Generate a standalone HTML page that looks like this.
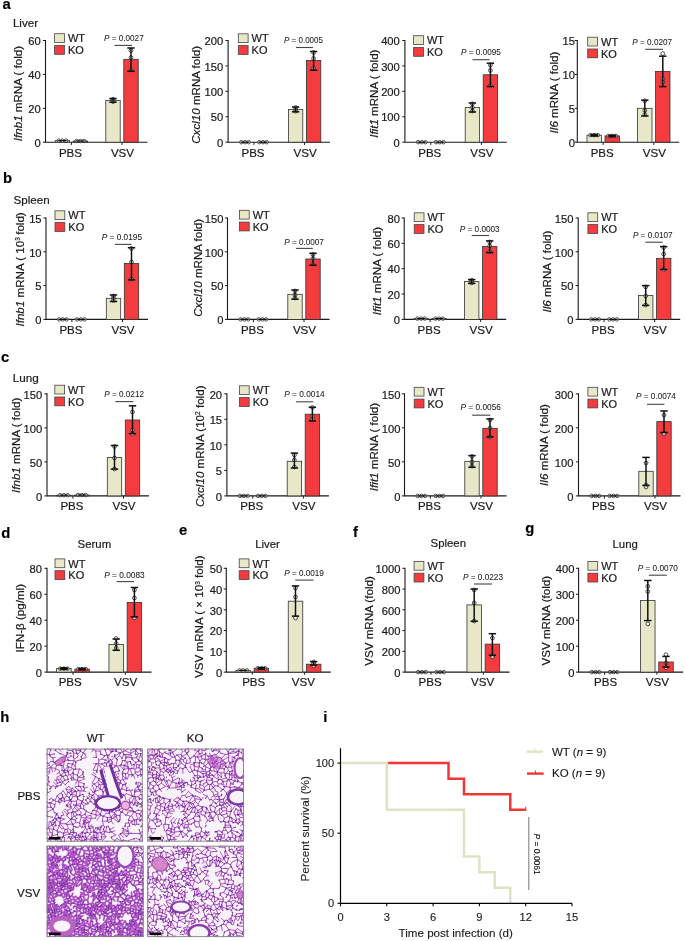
<!DOCTYPE html><html><head><meta charset="utf-8"><style>html,body{margin:0;padding:0;background:#fff;}svg{display:block;will-change:transform;}text{font-family:"Liberation Sans", sans-serif;stroke:#1a1a1a;stroke-width:0.2px;} text.ls{stroke-width:0.12px;}</style></head><body>
<svg width="685" height="941" viewBox="0 0 685 941">
<rect width="685" height="941" fill="#fff"/>
<text x="2.5" y="9" font-size="14.8" font-weight="bold" fill="#000">a</text>
<text x="3.1" y="183.4" font-size="14.8" font-weight="bold" fill="#000">b</text>
<text x="1" y="362" font-size="14.8" font-weight="bold" fill="#000">c</text>
<text x="1.2" y="537.8" font-size="14.8" font-weight="bold" fill="#000">d</text>
<text x="179" y="534.7" font-size="14.8" font-weight="bold" fill="#000">e</text>
<text x="353" y="536.7" font-size="14.8" font-weight="bold" fill="#000">f</text>
<text x="525.3" y="533.1" font-size="14.8" font-weight="bold" fill="#000">g</text>
<text x="0.2" y="721.8" font-size="14.8" font-weight="bold" fill="#000">h</text>
<text x="323.2" y="721.8" font-size="14.8" font-weight="bold" fill="#000">i</text>
<text x="12.9" y="26.9" font-size="11.6" fill="#1a1a1a">Liver</text>
<text x="13.6" y="203.5" font-size="11.6" fill="#1a1a1a">Spleen</text>
<text x="12.8" y="381.5" font-size="11.7" fill="#1a1a1a">Lung</text>
<path d="M45.5 40V142.2H147.5" fill="none" stroke="#1a1a1a" stroke-width="1.1"/>
<line x1="42.9" y1="142.2" x2="45.5" y2="142.2" stroke="#1a1a1a" stroke-width="1"/>
<text x="40.8" y="146.9" font-size="11.2" text-anchor="end" fill="#1a1a1a">0</text>
<line x1="42.9" y1="108.3" x2="45.5" y2="108.3" stroke="#1a1a1a" stroke-width="1"/>
<text x="40.8" y="113" font-size="11.2" text-anchor="end" fill="#1a1a1a">20</text>
<line x1="42.9" y1="74.4" x2="45.5" y2="74.4" stroke="#1a1a1a" stroke-width="1"/>
<text x="40.8" y="79.1" font-size="11.2" text-anchor="end" fill="#1a1a1a">40</text>
<line x1="42.9" y1="40.5" x2="45.5" y2="40.5" stroke="#1a1a1a" stroke-width="1"/>
<text x="40.8" y="45.2" font-size="11.2" text-anchor="end" fill="#1a1a1a">60</text>
<line x1="71.4" y1="142.2" x2="71.4" y2="144.9" stroke="#1a1a1a" stroke-width="1"/>
<line x1="122" y1="142.2" x2="122" y2="144.9" stroke="#1a1a1a" stroke-width="1"/>
<text x="70.4" y="156.7" font-size="11.5" text-anchor="middle" fill="#1a1a1a">PBS</text>
<text x="122.5" y="156.7" font-size="11.6" text-anchor="middle" fill="#1a1a1a">VSV</text>
<rect x="55.2" y="140.6" width="14.4" height="1.6" fill="#e8e8c9" stroke="#333" stroke-width="0.8"/>
<circle cx="58.7" cy="140.6" r="1.75" fill="rgba(255,255,255,0.55)" stroke="#333" stroke-width="0.85"/>
<circle cx="62.4" cy="140.6" r="1.75" fill="rgba(255,255,255,0.55)" stroke="#333" stroke-width="0.85"/>
<circle cx="66.1" cy="140.6" r="1.75" fill="rgba(255,255,255,0.55)" stroke="#333" stroke-width="0.85"/>
<line x1="58.2" y1="140.6" x2="66.6" y2="140.6" stroke="#111" stroke-width="1.2"/>
<rect x="73.2" y="141" width="14.4" height="1.2" fill="#f43c3f" stroke="#333" stroke-width="0.8"/>
<circle cx="76.7" cy="141" r="1.75" fill="rgba(255,255,255,0.55)" stroke="#333" stroke-width="0.85"/>
<circle cx="80.4" cy="141" r="1.75" fill="rgba(255,255,255,0.55)" stroke="#333" stroke-width="0.85"/>
<circle cx="84.1" cy="141" r="1.75" fill="rgba(255,255,255,0.55)" stroke="#333" stroke-width="0.85"/>
<line x1="76.2" y1="141" x2="84.6" y2="141" stroke="#111" stroke-width="1.2"/>
<rect x="105.8" y="100.4" width="14.4" height="41.8" fill="#e8e8c9" stroke="#333" stroke-width="0.8"/>
<circle cx="113" cy="99.2" r="1.9" fill="rgba(255,255,255,0.55)" stroke="#333" stroke-width="0.85"/>
<circle cx="113" cy="100.4" r="1.9" fill="rgba(255,255,255,0.55)" stroke="#333" stroke-width="0.85"/>
<circle cx="113" cy="101.6" r="1.9" fill="rgba(255,255,255,0.55)" stroke="#333" stroke-width="0.85"/>
<line x1="113" y1="98.6" x2="113" y2="102.2" stroke="#111" stroke-width="1.5"/>
<line x1="109.3" y1="98.6" x2="116.7" y2="98.6" stroke="#111" stroke-width="1.5"/>
<line x1="109.3" y1="102.2" x2="116.7" y2="102.2" stroke="#111" stroke-width="1.5"/>
<rect x="123.8" y="59.3" width="14.4" height="82.9" fill="#f43c3f" stroke="#333" stroke-width="0.8"/>
<circle cx="131" cy="50.5" r="1.9" fill="rgba(255,255,255,0.55)" stroke="#333" stroke-width="0.85"/>
<circle cx="131" cy="57.5" r="1.9" fill="rgba(255,255,255,0.55)" stroke="#333" stroke-width="0.85"/>
<circle cx="131" cy="70" r="1.9" fill="rgba(255,255,255,0.55)" stroke="#333" stroke-width="0.85"/>
<line x1="131" y1="48" x2="131" y2="71.2" stroke="#111" stroke-width="1.5"/>
<line x1="127.3" y1="48" x2="134.7" y2="48" stroke="#111" stroke-width="1.5"/>
<line x1="127.3" y1="71.2" x2="134.7" y2="71.2" stroke="#111" stroke-width="1.5"/>
<rect x="54.6" y="33.7" width="9.8" height="8.8" fill="#e8e8c9" stroke="#444" stroke-width="0.8"/>
<rect x="54.6" y="45.5" width="9.8" height="8.8" fill="#f43c3f" stroke="#444" stroke-width="0.8"/>
<text x="67.9" y="42.3" font-size="11" fill="#1a1a1a">WT</text>
<text x="67.9" y="54" font-size="11" fill="#1a1a1a">KO</text>
<text x="104" y="41.4" font-size="8.2" fill="#1a1a1a" style="stroke-width:0.05px" textLength="39.7" lengthAdjust="spacingAndGlyphs"><tspan font-style="italic">P</tspan> = 0.0027</text>
<line x1="114.5" y1="45.4" x2="132" y2="45.4" stroke="#444" stroke-width="1.1"/>
<text transform="translate(22.45 93.5) rotate(-90)" x="0" y="0" font-size="11.6" text-anchor="middle" fill="#1a1a1a"><tspan font-style="italic">Ifnb1</tspan> mRNA ( fold)</text>
<path d="M228.1 40V142.2H330.1" fill="none" stroke="#1a1a1a" stroke-width="1.1"/>
<line x1="225.5" y1="142.2" x2="228.1" y2="142.2" stroke="#1a1a1a" stroke-width="1"/>
<text x="223.2" y="146.9" font-size="11.2" text-anchor="end" fill="#1a1a1a">0</text>
<line x1="225.5" y1="116.77" x2="228.1" y2="116.77" stroke="#1a1a1a" stroke-width="1"/>
<text x="223.2" y="121.47" font-size="11.2" text-anchor="end" fill="#1a1a1a">50</text>
<line x1="225.5" y1="91.35" x2="228.1" y2="91.35" stroke="#1a1a1a" stroke-width="1"/>
<text x="223.2" y="96.05" font-size="11.2" text-anchor="end" fill="#1a1a1a">100</text>
<line x1="225.5" y1="65.92" x2="228.1" y2="65.92" stroke="#1a1a1a" stroke-width="1"/>
<text x="223.2" y="70.62" font-size="11.2" text-anchor="end" fill="#1a1a1a">150</text>
<line x1="225.5" y1="40.5" x2="228.1" y2="40.5" stroke="#1a1a1a" stroke-width="1"/>
<text x="223.2" y="45.2" font-size="11.2" text-anchor="end" fill="#1a1a1a">200</text>
<line x1="254" y1="142.2" x2="254" y2="144.9" stroke="#1a1a1a" stroke-width="1"/>
<line x1="304.6" y1="142.2" x2="304.6" y2="144.9" stroke="#1a1a1a" stroke-width="1"/>
<text x="253" y="156.7" font-size="11.5" text-anchor="middle" fill="#1a1a1a">PBS</text>
<text x="305.1" y="156.7" font-size="11.6" text-anchor="middle" fill="#1a1a1a">VSV</text>
<circle cx="241.3" cy="142.2" r="1.75" fill="rgba(255,255,255,0.55)" stroke="#333" stroke-width="0.85"/>
<circle cx="245" cy="142.2" r="1.75" fill="rgba(255,255,255,0.55)" stroke="#333" stroke-width="0.85"/>
<circle cx="248.7" cy="142.2" r="1.75" fill="rgba(255,255,255,0.55)" stroke="#333" stroke-width="0.85"/>
<line x1="240.8" y1="142.2" x2="249.2" y2="142.2" stroke="#111" stroke-width="1.2"/>
<circle cx="259.3" cy="142.2" r="1.75" fill="rgba(255,255,255,0.55)" stroke="#333" stroke-width="0.85"/>
<circle cx="263" cy="142.2" r="1.75" fill="rgba(255,255,255,0.55)" stroke="#333" stroke-width="0.85"/>
<circle cx="266.7" cy="142.2" r="1.75" fill="rgba(255,255,255,0.55)" stroke="#333" stroke-width="0.85"/>
<line x1="258.8" y1="142.2" x2="267.2" y2="142.2" stroke="#111" stroke-width="1.2"/>
<rect x="288.4" y="109.4" width="14.4" height="32.8" fill="#e8e8c9" stroke="#333" stroke-width="0.8"/>
<circle cx="295.6" cy="107.6" r="1.9" fill="rgba(255,255,255,0.55)" stroke="#333" stroke-width="0.85"/>
<circle cx="295.6" cy="109.6" r="1.9" fill="rgba(255,255,255,0.55)" stroke="#333" stroke-width="0.85"/>
<circle cx="295.6" cy="111.2" r="1.9" fill="rgba(255,255,255,0.55)" stroke="#333" stroke-width="0.85"/>
<line x1="295.6" y1="107" x2="295.6" y2="111.8" stroke="#111" stroke-width="1.5"/>
<line x1="291.9" y1="107" x2="299.3" y2="107" stroke="#111" stroke-width="1.5"/>
<line x1="291.9" y1="111.8" x2="299.3" y2="111.8" stroke="#111" stroke-width="1.5"/>
<rect x="306.4" y="60.4" width="14.4" height="81.8" fill="#f43c3f" stroke="#333" stroke-width="0.8"/>
<circle cx="313.6" cy="52.5" r="1.9" fill="rgba(255,255,255,0.55)" stroke="#333" stroke-width="0.85"/>
<circle cx="313.6" cy="58.5" r="1.9" fill="rgba(255,255,255,0.55)" stroke="#333" stroke-width="0.85"/>
<circle cx="313.6" cy="68.5" r="1.9" fill="rgba(255,255,255,0.55)" stroke="#333" stroke-width="0.85"/>
<line x1="313.6" y1="51.5" x2="313.6" y2="70.2" stroke="#111" stroke-width="1.5"/>
<line x1="309.9" y1="51.5" x2="317.3" y2="51.5" stroke="#111" stroke-width="1.5"/>
<line x1="309.9" y1="70.2" x2="317.3" y2="70.2" stroke="#111" stroke-width="1.5"/>
<rect x="238.3" y="33.8" width="9.8" height="8.8" fill="#e8e8c9" stroke="#444" stroke-width="0.8"/>
<rect x="238.3" y="45.6" width="9.8" height="8.8" fill="#f43c3f" stroke="#444" stroke-width="0.8"/>
<text x="251.6" y="42.4" font-size="11" fill="#1a1a1a">WT</text>
<text x="251.6" y="54.1" font-size="11" fill="#1a1a1a">KO</text>
<text x="284" y="42.8" font-size="8.2" fill="#1a1a1a" style="stroke-width:0.05px" textLength="39" lengthAdjust="spacingAndGlyphs"><tspan font-style="italic">P</tspan> = 0.0005</text>
<line x1="296" y1="47.5" x2="313" y2="47.5" stroke="#444" stroke-width="1.1"/>
<text transform="translate(200.1 94.8) rotate(-90)" x="0" y="0" font-size="11.6" text-anchor="middle" fill="#1a1a1a"><tspan font-style="italic">Cxcl10</tspan> mRNA fold)</text>
<path d="M404.9 40V142.2H506.9" fill="none" stroke="#1a1a1a" stroke-width="1.1"/>
<line x1="402.3" y1="142.2" x2="404.9" y2="142.2" stroke="#1a1a1a" stroke-width="1"/>
<text x="399.8" y="146.9" font-size="11.2" text-anchor="end" fill="#1a1a1a">0</text>
<line x1="402.3" y1="116.77" x2="404.9" y2="116.77" stroke="#1a1a1a" stroke-width="1"/>
<text x="399.8" y="121.47" font-size="11.2" text-anchor="end" fill="#1a1a1a">100</text>
<line x1="402.3" y1="91.35" x2="404.9" y2="91.35" stroke="#1a1a1a" stroke-width="1"/>
<text x="399.8" y="96.05" font-size="11.2" text-anchor="end" fill="#1a1a1a">200</text>
<line x1="402.3" y1="65.92" x2="404.9" y2="65.92" stroke="#1a1a1a" stroke-width="1"/>
<text x="399.8" y="70.62" font-size="11.2" text-anchor="end" fill="#1a1a1a">300</text>
<line x1="402.3" y1="40.5" x2="404.9" y2="40.5" stroke="#1a1a1a" stroke-width="1"/>
<text x="399.8" y="45.2" font-size="11.2" text-anchor="end" fill="#1a1a1a">400</text>
<line x1="430.8" y1="142.2" x2="430.8" y2="144.9" stroke="#1a1a1a" stroke-width="1"/>
<line x1="481.4" y1="142.2" x2="481.4" y2="144.9" stroke="#1a1a1a" stroke-width="1"/>
<text x="429.8" y="156.7" font-size="11.5" text-anchor="middle" fill="#1a1a1a">PBS</text>
<text x="481.9" y="156.7" font-size="11.6" text-anchor="middle" fill="#1a1a1a">VSV</text>
<circle cx="418.1" cy="142.2" r="1.75" fill="rgba(255,255,255,0.55)" stroke="#333" stroke-width="0.85"/>
<circle cx="421.8" cy="142.2" r="1.75" fill="rgba(255,255,255,0.55)" stroke="#333" stroke-width="0.85"/>
<circle cx="425.5" cy="142.2" r="1.75" fill="rgba(255,255,255,0.55)" stroke="#333" stroke-width="0.85"/>
<line x1="417.6" y1="142.2" x2="426" y2="142.2" stroke="#111" stroke-width="1.2"/>
<circle cx="436.1" cy="142.2" r="1.75" fill="rgba(255,255,255,0.55)" stroke="#333" stroke-width="0.85"/>
<circle cx="439.8" cy="142.2" r="1.75" fill="rgba(255,255,255,0.55)" stroke="#333" stroke-width="0.85"/>
<circle cx="443.5" cy="142.2" r="1.75" fill="rgba(255,255,255,0.55)" stroke="#333" stroke-width="0.85"/>
<line x1="435.6" y1="142.2" x2="444" y2="142.2" stroke="#111" stroke-width="1.2"/>
<rect x="465.2" y="107.6" width="14.4" height="34.6" fill="#e8e8c9" stroke="#333" stroke-width="0.8"/>
<circle cx="472.4" cy="103.8" r="1.9" fill="rgba(255,255,255,0.55)" stroke="#333" stroke-width="0.85"/>
<circle cx="472.4" cy="107.5" r="1.9" fill="rgba(255,255,255,0.55)" stroke="#333" stroke-width="0.85"/>
<circle cx="472.4" cy="111" r="1.9" fill="rgba(255,255,255,0.55)" stroke="#333" stroke-width="0.85"/>
<line x1="472.4" y1="103" x2="472.4" y2="112" stroke="#111" stroke-width="1.5"/>
<line x1="468.7" y1="103" x2="476.1" y2="103" stroke="#111" stroke-width="1.5"/>
<line x1="468.7" y1="112" x2="476.1" y2="112" stroke="#111" stroke-width="1.5"/>
<rect x="483.2" y="74.8" width="14.4" height="67.4" fill="#f43c3f" stroke="#333" stroke-width="0.8"/>
<circle cx="490.4" cy="65" r="1.9" fill="rgba(255,255,255,0.55)" stroke="#333" stroke-width="0.85"/>
<circle cx="490.4" cy="70.5" r="1.9" fill="rgba(255,255,255,0.55)" stroke="#333" stroke-width="0.85"/>
<circle cx="490.4" cy="85.5" r="1.9" fill="rgba(255,255,255,0.55)" stroke="#333" stroke-width="0.85"/>
<line x1="490.4" y1="63.2" x2="490.4" y2="86.5" stroke="#111" stroke-width="1.5"/>
<line x1="486.7" y1="63.2" x2="494.1" y2="63.2" stroke="#111" stroke-width="1.5"/>
<line x1="486.7" y1="86.5" x2="494.1" y2="86.5" stroke="#111" stroke-width="1.5"/>
<rect x="413.6" y="35.7" width="9.8" height="8.8" fill="#e8e8c9" stroke="#444" stroke-width="0.8"/>
<rect x="413.6" y="47.5" width="9.8" height="8.8" fill="#f43c3f" stroke="#444" stroke-width="0.8"/>
<text x="426.9" y="44.3" font-size="11" fill="#1a1a1a">WT</text>
<text x="426.9" y="56" font-size="11" fill="#1a1a1a">KO</text>
<text x="461" y="54.5" font-size="8.2" fill="#1a1a1a" style="stroke-width:0.05px" textLength="39.9" lengthAdjust="spacingAndGlyphs"><tspan font-style="italic">P</tspan> = 0.0095</text>
<line x1="472.6" y1="59.7" x2="489.6" y2="59.7" stroke="#444" stroke-width="1.1"/>
<text transform="translate(377.75 93.7) rotate(-90)" x="0" y="0" font-size="11.6" text-anchor="middle" fill="#1a1a1a"><tspan font-style="italic">Ifit1</tspan> mRNA ( fold)</text>
<path d="M577.3 40V142.2H679.3" fill="none" stroke="#1a1a1a" stroke-width="1.1"/>
<line x1="574.7" y1="142.2" x2="577.3" y2="142.2" stroke="#1a1a1a" stroke-width="1"/>
<text x="575" y="146.9" font-size="11.2" text-anchor="end" fill="#1a1a1a">0</text>
<line x1="574.7" y1="108.3" x2="577.3" y2="108.3" stroke="#1a1a1a" stroke-width="1"/>
<text x="575" y="113" font-size="11.2" text-anchor="end" fill="#1a1a1a">5</text>
<line x1="574.7" y1="74.4" x2="577.3" y2="74.4" stroke="#1a1a1a" stroke-width="1"/>
<text x="575" y="79.1" font-size="11.2" text-anchor="end" fill="#1a1a1a">10</text>
<line x1="574.7" y1="40.5" x2="577.3" y2="40.5" stroke="#1a1a1a" stroke-width="1"/>
<text x="575" y="45.2" font-size="11.2" text-anchor="end" fill="#1a1a1a">15</text>
<line x1="603.2" y1="142.2" x2="603.2" y2="144.9" stroke="#1a1a1a" stroke-width="1"/>
<line x1="653.8" y1="142.2" x2="653.8" y2="144.9" stroke="#1a1a1a" stroke-width="1"/>
<text x="602.2" y="156.7" font-size="11.5" text-anchor="middle" fill="#1a1a1a">PBS</text>
<text x="654.3" y="156.7" font-size="11.6" text-anchor="middle" fill="#1a1a1a">VSV</text>
<rect x="587" y="135.2" width="14.4" height="7" fill="#e8e8c9" stroke="#333" stroke-width="0.8"/>
<circle cx="590.5" cy="135.2" r="1.75" fill="rgba(255,255,255,0.55)" stroke="#333" stroke-width="0.85"/>
<circle cx="594.2" cy="135.2" r="1.75" fill="rgba(255,255,255,0.55)" stroke="#333" stroke-width="0.85"/>
<circle cx="597.9" cy="135.2" r="1.75" fill="rgba(255,255,255,0.55)" stroke="#333" stroke-width="0.85"/>
<line x1="590" y1="135.2" x2="598.4" y2="135.2" stroke="#111" stroke-width="1.2"/>
<line x1="594.2" y1="134.4" x2="594.2" y2="136" stroke="#111" stroke-width="1.5"/>
<line x1="590.5" y1="134.4" x2="597.9" y2="134.4" stroke="#111" stroke-width="1.5"/>
<line x1="590.5" y1="136" x2="597.9" y2="136" stroke="#111" stroke-width="1.5"/>
<rect x="605" y="135.9" width="14.4" height="6.3" fill="#f43c3f" stroke="#333" stroke-width="0.8"/>
<circle cx="608.5" cy="135.9" r="1.75" fill="rgba(255,255,255,0.55)" stroke="#333" stroke-width="0.85"/>
<circle cx="612.2" cy="135.9" r="1.75" fill="rgba(255,255,255,0.55)" stroke="#333" stroke-width="0.85"/>
<circle cx="615.9" cy="135.9" r="1.75" fill="rgba(255,255,255,0.55)" stroke="#333" stroke-width="0.85"/>
<line x1="608" y1="135.9" x2="616.4" y2="135.9" stroke="#111" stroke-width="1.2"/>
<line x1="612.2" y1="135.2" x2="612.2" y2="136.6" stroke="#111" stroke-width="1.5"/>
<line x1="608.5" y1="135.2" x2="615.9" y2="135.2" stroke="#111" stroke-width="1.5"/>
<line x1="608.5" y1="136.6" x2="615.9" y2="136.6" stroke="#111" stroke-width="1.5"/>
<rect x="637.6" y="108.3" width="14.4" height="33.9" fill="#e8e8c9" stroke="#333" stroke-width="0.8"/>
<circle cx="644.8" cy="100.8" r="1.9" fill="rgba(255,255,255,0.55)" stroke="#333" stroke-width="0.85"/>
<circle cx="644.8" cy="110.5" r="1.9" fill="rgba(255,255,255,0.55)" stroke="#333" stroke-width="0.85"/>
<circle cx="644.8" cy="114.5" r="1.9" fill="rgba(255,255,255,0.55)" stroke="#333" stroke-width="0.85"/>
<line x1="644.8" y1="100.2" x2="644.8" y2="116" stroke="#111" stroke-width="1.5"/>
<line x1="641.1" y1="100.2" x2="648.5" y2="100.2" stroke="#111" stroke-width="1.5"/>
<line x1="641.1" y1="116" x2="648.5" y2="116" stroke="#111" stroke-width="1.5"/>
<rect x="655.6" y="71.4" width="14.4" height="70.8" fill="#f43c3f" stroke="#333" stroke-width="0.8"/>
<circle cx="662.8" cy="53.6" r="1.9" fill="rgba(255,255,255,0.55)" stroke="#333" stroke-width="0.85"/>
<circle cx="662.8" cy="78.7" r="1.9" fill="rgba(255,255,255,0.55)" stroke="#333" stroke-width="0.85"/>
<circle cx="662.8" cy="82.1" r="1.9" fill="rgba(255,255,255,0.55)" stroke="#333" stroke-width="0.85"/>
<line x1="662.8" y1="56.2" x2="662.8" y2="86.6" stroke="#111" stroke-width="1.5"/>
<line x1="659.1" y1="56.2" x2="666.5" y2="56.2" stroke="#111" stroke-width="1.5"/>
<line x1="659.1" y1="86.6" x2="666.5" y2="86.6" stroke="#111" stroke-width="1.5"/>
<rect x="587.7" y="37.2" width="9.8" height="8.8" fill="#e8e8c9" stroke="#444" stroke-width="0.8"/>
<rect x="587.7" y="49" width="9.8" height="8.8" fill="#f43c3f" stroke="#444" stroke-width="0.8"/>
<text x="601" y="45.8" font-size="11" fill="#1a1a1a">WT</text>
<text x="601" y="57.5" font-size="11" fill="#1a1a1a">KO</text>
<text x="632.3" y="44.7" font-size="8.2" fill="#1a1a1a" style="stroke-width:0.05px" textLength="39.8" lengthAdjust="spacingAndGlyphs"><tspan font-style="italic">P</tspan> = 0.0207</text>
<line x1="645.2" y1="49.3" x2="663" y2="49.3" stroke="#444" stroke-width="1.1"/>
<text transform="translate(557.6 92.5) rotate(-90)" x="0" y="0" font-size="11.6" text-anchor="middle" fill="#1a1a1a"><tspan font-style="italic">Il6</tspan> mRNA ( fold)</text>
<path d="M46 217.5V319.4H148" fill="none" stroke="#1a1a1a" stroke-width="1.1"/>
<line x1="43.4" y1="319.4" x2="46" y2="319.4" stroke="#1a1a1a" stroke-width="1"/>
<text x="41.6" y="324.1" font-size="11.2" text-anchor="end" fill="#1a1a1a">0</text>
<line x1="43.4" y1="285.6" x2="46" y2="285.6" stroke="#1a1a1a" stroke-width="1"/>
<text x="41.6" y="290.3" font-size="11.2" text-anchor="end" fill="#1a1a1a">5</text>
<line x1="43.4" y1="251.8" x2="46" y2="251.8" stroke="#1a1a1a" stroke-width="1"/>
<text x="41.6" y="256.5" font-size="11.2" text-anchor="end" fill="#1a1a1a">10</text>
<line x1="43.4" y1="218" x2="46" y2="218" stroke="#1a1a1a" stroke-width="1"/>
<text x="41.6" y="222.7" font-size="11.2" text-anchor="end" fill="#1a1a1a">15</text>
<line x1="71.9" y1="319.4" x2="71.9" y2="322.1" stroke="#1a1a1a" stroke-width="1"/>
<line x1="122.5" y1="319.4" x2="122.5" y2="322.1" stroke="#1a1a1a" stroke-width="1"/>
<text x="70.9" y="333.9" font-size="11.5" text-anchor="middle" fill="#1a1a1a">PBS</text>
<text x="123" y="333.9" font-size="11.6" text-anchor="middle" fill="#1a1a1a">VSV</text>
<circle cx="59.2" cy="319.4" r="1.75" fill="rgba(255,255,255,0.55)" stroke="#333" stroke-width="0.85"/>
<circle cx="62.9" cy="319.4" r="1.75" fill="rgba(255,255,255,0.55)" stroke="#333" stroke-width="0.85"/>
<circle cx="66.6" cy="319.4" r="1.75" fill="rgba(255,255,255,0.55)" stroke="#333" stroke-width="0.85"/>
<line x1="58.7" y1="319.4" x2="67.1" y2="319.4" stroke="#111" stroke-width="1.2"/>
<circle cx="77.2" cy="319.4" r="1.75" fill="rgba(255,255,255,0.55)" stroke="#333" stroke-width="0.85"/>
<circle cx="80.9" cy="319.4" r="1.75" fill="rgba(255,255,255,0.55)" stroke="#333" stroke-width="0.85"/>
<circle cx="84.6" cy="319.4" r="1.75" fill="rgba(255,255,255,0.55)" stroke="#333" stroke-width="0.85"/>
<line x1="76.7" y1="319.4" x2="85.1" y2="319.4" stroke="#111" stroke-width="1.2"/>
<rect x="106.3" y="298.3" width="14.4" height="21.1" fill="#e8e8c9" stroke="#333" stroke-width="0.8"/>
<circle cx="113.5" cy="296" r="1.9" fill="rgba(255,255,255,0.55)" stroke="#333" stroke-width="0.85"/>
<circle cx="113.5" cy="298.2" r="1.9" fill="rgba(255,255,255,0.55)" stroke="#333" stroke-width="0.85"/>
<circle cx="113.5" cy="300.4" r="1.9" fill="rgba(255,255,255,0.55)" stroke="#333" stroke-width="0.85"/>
<line x1="113.5" y1="295" x2="113.5" y2="301.5" stroke="#111" stroke-width="1.5"/>
<line x1="109.8" y1="295" x2="117.2" y2="295" stroke="#111" stroke-width="1.5"/>
<line x1="109.8" y1="301.5" x2="117.2" y2="301.5" stroke="#111" stroke-width="1.5"/>
<rect x="124.3" y="263.5" width="14.4" height="55.9" fill="#f43c3f" stroke="#333" stroke-width="0.8"/>
<circle cx="131.5" cy="248.5" r="1.9" fill="rgba(255,255,255,0.55)" stroke="#333" stroke-width="0.85"/>
<circle cx="131.5" cy="262" r="1.9" fill="rgba(255,255,255,0.55)" stroke="#333" stroke-width="0.85"/>
<circle cx="131.5" cy="279" r="1.9" fill="rgba(255,255,255,0.55)" stroke="#333" stroke-width="0.85"/>
<line x1="131.5" y1="247.7" x2="131.5" y2="279.9" stroke="#111" stroke-width="1.5"/>
<line x1="127.8" y1="247.7" x2="135.2" y2="247.7" stroke="#111" stroke-width="1.5"/>
<line x1="127.8" y1="279.9" x2="135.2" y2="279.9" stroke="#111" stroke-width="1.5"/>
<rect x="55" y="210.8" width="9.8" height="8.8" fill="#e8e8c9" stroke="#444" stroke-width="0.8"/>
<rect x="55" y="222.6" width="9.8" height="8.8" fill="#f43c3f" stroke="#444" stroke-width="0.8"/>
<text x="68.3" y="219.4" font-size="11" fill="#1a1a1a">WT</text>
<text x="68.3" y="231.1" font-size="11" fill="#1a1a1a">KO</text>
<text x="101.8" y="239.5" font-size="8.2" fill="#1a1a1a" style="stroke-width:0.05px" textLength="40.2" lengthAdjust="spacingAndGlyphs"><tspan font-style="italic">P</tspan> = 0.0195</text>
<line x1="114.9" y1="244.4" x2="131.5" y2="244.4" stroke="#444" stroke-width="1.1"/>
<text transform="translate(23.8 269.4) rotate(-90)" x="0" y="0" font-size="11.6" text-anchor="middle" fill="#1a1a1a"><tspan font-style="italic">Ifnb1</tspan> mRNA ( 10<tspan font-size="6.6" dy="-3.7">3</tspan><tspan dy="3.7"> </tspan>fold)</text>
<path d="M227.5 217.5V319.4H329.5" fill="none" stroke="#1a1a1a" stroke-width="1.1"/>
<line x1="224.9" y1="319.4" x2="227.5" y2="319.4" stroke="#1a1a1a" stroke-width="1"/>
<text x="223.5" y="324.1" font-size="11.2" text-anchor="end" fill="#1a1a1a">0</text>
<line x1="224.9" y1="285.6" x2="227.5" y2="285.6" stroke="#1a1a1a" stroke-width="1"/>
<text x="223.5" y="290.3" font-size="11.2" text-anchor="end" fill="#1a1a1a">50</text>
<line x1="224.9" y1="251.8" x2="227.5" y2="251.8" stroke="#1a1a1a" stroke-width="1"/>
<text x="223.5" y="256.5" font-size="11.2" text-anchor="end" fill="#1a1a1a">100</text>
<line x1="224.9" y1="218" x2="227.5" y2="218" stroke="#1a1a1a" stroke-width="1"/>
<text x="223.5" y="222.7" font-size="11.2" text-anchor="end" fill="#1a1a1a">150</text>
<line x1="253.4" y1="319.4" x2="253.4" y2="322.1" stroke="#1a1a1a" stroke-width="1"/>
<line x1="304" y1="319.4" x2="304" y2="322.1" stroke="#1a1a1a" stroke-width="1"/>
<text x="252.4" y="333.9" font-size="11.5" text-anchor="middle" fill="#1a1a1a">PBS</text>
<text x="304.5" y="333.9" font-size="11.6" text-anchor="middle" fill="#1a1a1a">VSV</text>
<circle cx="240.7" cy="319.4" r="1.75" fill="rgba(255,255,255,0.55)" stroke="#333" stroke-width="0.85"/>
<circle cx="244.4" cy="319.4" r="1.75" fill="rgba(255,255,255,0.55)" stroke="#333" stroke-width="0.85"/>
<circle cx="248.1" cy="319.4" r="1.75" fill="rgba(255,255,255,0.55)" stroke="#333" stroke-width="0.85"/>
<line x1="240.2" y1="319.4" x2="248.6" y2="319.4" stroke="#111" stroke-width="1.2"/>
<circle cx="258.7" cy="319.4" r="1.75" fill="rgba(255,255,255,0.55)" stroke="#333" stroke-width="0.85"/>
<circle cx="262.4" cy="319.4" r="1.75" fill="rgba(255,255,255,0.55)" stroke="#333" stroke-width="0.85"/>
<circle cx="266.1" cy="319.4" r="1.75" fill="rgba(255,255,255,0.55)" stroke="#333" stroke-width="0.85"/>
<line x1="258.2" y1="319.4" x2="266.6" y2="319.4" stroke="#111" stroke-width="1.2"/>
<rect x="287.8" y="294.3" width="14.4" height="25.1" fill="#e8e8c9" stroke="#333" stroke-width="0.8"/>
<circle cx="295" cy="291" r="1.9" fill="rgba(255,255,255,0.55)" stroke="#333" stroke-width="0.85"/>
<circle cx="295" cy="295" r="1.9" fill="rgba(255,255,255,0.55)" stroke="#333" stroke-width="0.85"/>
<circle cx="295" cy="298" r="1.9" fill="rgba(255,255,255,0.55)" stroke="#333" stroke-width="0.85"/>
<line x1="295" y1="290" x2="295" y2="299.2" stroke="#111" stroke-width="1.5"/>
<line x1="291.3" y1="290" x2="298.7" y2="290" stroke="#111" stroke-width="1.5"/>
<line x1="291.3" y1="299.2" x2="298.7" y2="299.2" stroke="#111" stroke-width="1.5"/>
<rect x="305.8" y="259" width="14.4" height="60.4" fill="#f43c3f" stroke="#333" stroke-width="0.8"/>
<circle cx="313" cy="254.5" r="1.9" fill="rgba(255,255,255,0.55)" stroke="#333" stroke-width="0.85"/>
<circle cx="313" cy="258.5" r="1.9" fill="rgba(255,255,255,0.55)" stroke="#333" stroke-width="0.85"/>
<circle cx="313" cy="264" r="1.9" fill="rgba(255,255,255,0.55)" stroke="#333" stroke-width="0.85"/>
<line x1="313" y1="253.3" x2="313" y2="265.2" stroke="#111" stroke-width="1.5"/>
<line x1="309.3" y1="253.3" x2="316.7" y2="253.3" stroke="#111" stroke-width="1.5"/>
<line x1="309.3" y1="265.2" x2="316.7" y2="265.2" stroke="#111" stroke-width="1.5"/>
<rect x="239.4" y="210.3" width="9.8" height="8.8" fill="#e8e8c9" stroke="#444" stroke-width="0.8"/>
<rect x="239.4" y="222.1" width="9.8" height="8.8" fill="#f43c3f" stroke="#444" stroke-width="0.8"/>
<text x="252.7" y="218.9" font-size="11" fill="#1a1a1a">WT</text>
<text x="252.7" y="230.6" font-size="11" fill="#1a1a1a">KO</text>
<text x="284.2" y="244.6" font-size="8.2" fill="#1a1a1a" style="stroke-width:0.05px" textLength="39.7" lengthAdjust="spacingAndGlyphs"><tspan font-style="italic">P</tspan> = 0.0007</text>
<line x1="295.9" y1="248.4" x2="312.8" y2="248.4" stroke="#444" stroke-width="1.1"/>
<text transform="translate(202.15 267.8) rotate(-90)" x="0" y="0" font-size="11.6" text-anchor="middle" fill="#1a1a1a"><tspan font-style="italic">Cxcl10</tspan> mRNA fold)</text>
<path d="M404.2 217.5V319.4H506.2" fill="none" stroke="#1a1a1a" stroke-width="1.1"/>
<line x1="401.6" y1="319.4" x2="404.2" y2="319.4" stroke="#1a1a1a" stroke-width="1"/>
<text x="399.9" y="324.1" font-size="11.2" text-anchor="end" fill="#1a1a1a">0</text>
<line x1="401.6" y1="294.05" x2="404.2" y2="294.05" stroke="#1a1a1a" stroke-width="1"/>
<text x="399.9" y="298.75" font-size="11.2" text-anchor="end" fill="#1a1a1a">20</text>
<line x1="401.6" y1="268.7" x2="404.2" y2="268.7" stroke="#1a1a1a" stroke-width="1"/>
<text x="399.9" y="273.4" font-size="11.2" text-anchor="end" fill="#1a1a1a">40</text>
<line x1="401.6" y1="243.35" x2="404.2" y2="243.35" stroke="#1a1a1a" stroke-width="1"/>
<text x="399.9" y="248.05" font-size="11.2" text-anchor="end" fill="#1a1a1a">60</text>
<line x1="401.6" y1="218" x2="404.2" y2="218" stroke="#1a1a1a" stroke-width="1"/>
<text x="399.9" y="222.7" font-size="11.2" text-anchor="end" fill="#1a1a1a">80</text>
<line x1="430.1" y1="319.4" x2="430.1" y2="322.1" stroke="#1a1a1a" stroke-width="1"/>
<line x1="480.7" y1="319.4" x2="480.7" y2="322.1" stroke="#1a1a1a" stroke-width="1"/>
<text x="429.1" y="333.9" font-size="11.5" text-anchor="middle" fill="#1a1a1a">PBS</text>
<text x="481.2" y="333.9" font-size="11.6" text-anchor="middle" fill="#1a1a1a">VSV</text>
<rect x="413.9" y="318.6" width="14.4" height="0.8" fill="#e8e8c9" stroke="#333" stroke-width="0.8"/>
<circle cx="417.4" cy="318.6" r="1.75" fill="rgba(255,255,255,0.55)" stroke="#333" stroke-width="0.85"/>
<circle cx="421.1" cy="318.6" r="1.75" fill="rgba(255,255,255,0.55)" stroke="#333" stroke-width="0.85"/>
<circle cx="424.8" cy="318.6" r="1.75" fill="rgba(255,255,255,0.55)" stroke="#333" stroke-width="0.85"/>
<line x1="416.9" y1="318.6" x2="425.3" y2="318.6" stroke="#111" stroke-width="1.2"/>
<rect x="431.9" y="318.6" width="14.4" height="0.8" fill="#f43c3f" stroke="#333" stroke-width="0.8"/>
<circle cx="435.4" cy="318.6" r="1.75" fill="rgba(255,255,255,0.55)" stroke="#333" stroke-width="0.85"/>
<circle cx="439.1" cy="318.6" r="1.75" fill="rgba(255,255,255,0.55)" stroke="#333" stroke-width="0.85"/>
<circle cx="442.8" cy="318.6" r="1.75" fill="rgba(255,255,255,0.55)" stroke="#333" stroke-width="0.85"/>
<line x1="434.9" y1="318.6" x2="443.3" y2="318.6" stroke="#111" stroke-width="1.2"/>
<rect x="464.5" y="281.4" width="14.4" height="38" fill="#e8e8c9" stroke="#333" stroke-width="0.8"/>
<circle cx="471.7" cy="280.2" r="1.9" fill="rgba(255,255,255,0.55)" stroke="#333" stroke-width="0.85"/>
<circle cx="471.7" cy="281.5" r="1.9" fill="rgba(255,255,255,0.55)" stroke="#333" stroke-width="0.85"/>
<circle cx="471.7" cy="282.8" r="1.9" fill="rgba(255,255,255,0.55)" stroke="#333" stroke-width="0.85"/>
<line x1="471.7" y1="279.6" x2="471.7" y2="283.4" stroke="#111" stroke-width="1.5"/>
<line x1="468" y1="279.6" x2="475.4" y2="279.6" stroke="#111" stroke-width="1.5"/>
<line x1="468" y1="283.4" x2="475.4" y2="283.4" stroke="#111" stroke-width="1.5"/>
<rect x="482.5" y="246.6" width="14.4" height="72.8" fill="#f43c3f" stroke="#333" stroke-width="0.8"/>
<circle cx="489.7" cy="242" r="1.9" fill="rgba(255,255,255,0.55)" stroke="#333" stroke-width="0.85"/>
<circle cx="489.7" cy="246" r="1.9" fill="rgba(255,255,255,0.55)" stroke="#333" stroke-width="0.85"/>
<circle cx="489.7" cy="251.5" r="1.9" fill="rgba(255,255,255,0.55)" stroke="#333" stroke-width="0.85"/>
<line x1="489.7" y1="240.9" x2="489.7" y2="252.6" stroke="#111" stroke-width="1.5"/>
<line x1="486" y1="240.9" x2="493.4" y2="240.9" stroke="#111" stroke-width="1.5"/>
<line x1="486" y1="252.6" x2="493.4" y2="252.6" stroke="#111" stroke-width="1.5"/>
<rect x="414.2" y="212.8" width="9.8" height="8.8" fill="#e8e8c9" stroke="#444" stroke-width="0.8"/>
<rect x="414.2" y="224.6" width="9.8" height="8.8" fill="#f43c3f" stroke="#444" stroke-width="0.8"/>
<text x="427.5" y="221.4" font-size="11" fill="#1a1a1a">WT</text>
<text x="427.5" y="233.1" font-size="11" fill="#1a1a1a">KO</text>
<text x="459.7" y="231.5" font-size="8.2" fill="#1a1a1a" style="stroke-width:0.05px" textLength="40" lengthAdjust="spacingAndGlyphs"><tspan font-style="italic">P</tspan> = 0.0003</text>
<line x1="471.7" y1="235.5" x2="489" y2="235.5" stroke="#444" stroke-width="1.1"/>
<text transform="translate(381 271) rotate(-90)" x="0" y="0" font-size="11.6" text-anchor="middle" fill="#1a1a1a"><tspan font-style="italic">Ifit1</tspan> mRNA ( fold)</text>
<path d="M578.2 217.5V319.4H680.2" fill="none" stroke="#1a1a1a" stroke-width="1.1"/>
<line x1="575.6" y1="319.4" x2="578.2" y2="319.4" stroke="#1a1a1a" stroke-width="1"/>
<text x="573.5" y="324.1" font-size="11.2" text-anchor="end" fill="#1a1a1a">0</text>
<line x1="575.6" y1="285.6" x2="578.2" y2="285.6" stroke="#1a1a1a" stroke-width="1"/>
<text x="573.5" y="290.3" font-size="11.2" text-anchor="end" fill="#1a1a1a">50</text>
<line x1="575.6" y1="251.8" x2="578.2" y2="251.8" stroke="#1a1a1a" stroke-width="1"/>
<text x="573.5" y="256.5" font-size="11.2" text-anchor="end" fill="#1a1a1a">100</text>
<line x1="575.6" y1="218" x2="578.2" y2="218" stroke="#1a1a1a" stroke-width="1"/>
<text x="573.5" y="222.7" font-size="11.2" text-anchor="end" fill="#1a1a1a">150</text>
<line x1="604.1" y1="319.4" x2="604.1" y2="322.1" stroke="#1a1a1a" stroke-width="1"/>
<line x1="654.7" y1="319.4" x2="654.7" y2="322.1" stroke="#1a1a1a" stroke-width="1"/>
<text x="603.1" y="333.9" font-size="11.5" text-anchor="middle" fill="#1a1a1a">PBS</text>
<text x="655.2" y="333.9" font-size="11.6" text-anchor="middle" fill="#1a1a1a">VSV</text>
<circle cx="591.4" cy="319.4" r="1.75" fill="rgba(255,255,255,0.55)" stroke="#333" stroke-width="0.85"/>
<circle cx="595.1" cy="319.4" r="1.75" fill="rgba(255,255,255,0.55)" stroke="#333" stroke-width="0.85"/>
<circle cx="598.8" cy="319.4" r="1.75" fill="rgba(255,255,255,0.55)" stroke="#333" stroke-width="0.85"/>
<line x1="590.9" y1="319.4" x2="599.3" y2="319.4" stroke="#111" stroke-width="1.2"/>
<circle cx="609.4" cy="319.4" r="1.75" fill="rgba(255,255,255,0.55)" stroke="#333" stroke-width="0.85"/>
<circle cx="613.1" cy="319.4" r="1.75" fill="rgba(255,255,255,0.55)" stroke="#333" stroke-width="0.85"/>
<circle cx="616.8" cy="319.4" r="1.75" fill="rgba(255,255,255,0.55)" stroke="#333" stroke-width="0.85"/>
<line x1="608.9" y1="319.4" x2="617.3" y2="319.4" stroke="#111" stroke-width="1.2"/>
<rect x="638.5" y="295.5" width="14.4" height="23.9" fill="#e8e8c9" stroke="#333" stroke-width="0.8"/>
<circle cx="645.7" cy="287" r="1.9" fill="rgba(255,255,255,0.55)" stroke="#333" stroke-width="0.85"/>
<circle cx="645.7" cy="296" r="1.9" fill="rgba(255,255,255,0.55)" stroke="#333" stroke-width="0.85"/>
<circle cx="645.7" cy="305" r="1.9" fill="rgba(255,255,255,0.55)" stroke="#333" stroke-width="0.85"/>
<line x1="645.7" y1="285.6" x2="645.7" y2="305.4" stroke="#111" stroke-width="1.5"/>
<line x1="642" y1="285.6" x2="649.4" y2="285.6" stroke="#111" stroke-width="1.5"/>
<line x1="642" y1="305.4" x2="649.4" y2="305.4" stroke="#111" stroke-width="1.5"/>
<rect x="656.5" y="258.3" width="14.4" height="61.1" fill="#f43c3f" stroke="#333" stroke-width="0.8"/>
<circle cx="663.7" cy="247.5" r="1.9" fill="rgba(255,255,255,0.55)" stroke="#333" stroke-width="0.85"/>
<circle cx="663.7" cy="254" r="1.9" fill="rgba(255,255,255,0.55)" stroke="#333" stroke-width="0.85"/>
<circle cx="663.7" cy="269.5" r="1.9" fill="rgba(255,255,255,0.55)" stroke="#333" stroke-width="0.85"/>
<line x1="663.7" y1="246.6" x2="663.7" y2="269.5" stroke="#111" stroke-width="1.5"/>
<line x1="660" y1="246.6" x2="667.4" y2="246.6" stroke="#111" stroke-width="1.5"/>
<line x1="660" y1="269.5" x2="667.4" y2="269.5" stroke="#111" stroke-width="1.5"/>
<rect x="587.9" y="212.8" width="9.8" height="8.8" fill="#e8e8c9" stroke="#444" stroke-width="0.8"/>
<rect x="587.9" y="224.6" width="9.8" height="8.8" fill="#f43c3f" stroke="#444" stroke-width="0.8"/>
<text x="601.2" y="221.4" font-size="11" fill="#1a1a1a">WT</text>
<text x="601.2" y="233.1" font-size="11" fill="#1a1a1a">KO</text>
<text x="632.9" y="237.7" font-size="8.2" fill="#1a1a1a" style="stroke-width:0.05px" textLength="39.7" lengthAdjust="spacingAndGlyphs"><tspan font-style="italic">P</tspan> = 0.0107</text>
<line x1="645.3" y1="242.2" x2="662.7" y2="242.2" stroke="#444" stroke-width="1.1"/>
<text transform="translate(550.6 271.6) rotate(-90)" x="0" y="0" font-size="11.6" text-anchor="middle" fill="#1a1a1a"><tspan font-style="italic">Il6</tspan> mRNA ( fold)</text>
<path d="M47 393.3V495.9H149" fill="none" stroke="#1a1a1a" stroke-width="1.1"/>
<line x1="44.4" y1="495.9" x2="47" y2="495.9" stroke="#1a1a1a" stroke-width="1"/>
<text x="42.2" y="500.6" font-size="11.2" text-anchor="end" fill="#1a1a1a">0</text>
<line x1="44.4" y1="461.87" x2="47" y2="461.87" stroke="#1a1a1a" stroke-width="1"/>
<text x="42.2" y="466.57" font-size="11.2" text-anchor="end" fill="#1a1a1a">50</text>
<line x1="44.4" y1="427.83" x2="47" y2="427.83" stroke="#1a1a1a" stroke-width="1"/>
<text x="42.2" y="432.53" font-size="11.2" text-anchor="end" fill="#1a1a1a">100</text>
<line x1="44.4" y1="393.8" x2="47" y2="393.8" stroke="#1a1a1a" stroke-width="1"/>
<text x="42.2" y="398.5" font-size="11.2" text-anchor="end" fill="#1a1a1a">150</text>
<line x1="72.9" y1="495.9" x2="72.9" y2="498.6" stroke="#1a1a1a" stroke-width="1"/>
<line x1="123.5" y1="495.9" x2="123.5" y2="498.6" stroke="#1a1a1a" stroke-width="1"/>
<text x="71.9" y="510.4" font-size="11.5" text-anchor="middle" fill="#1a1a1a">PBS</text>
<text x="124" y="510.4" font-size="11.6" text-anchor="middle" fill="#1a1a1a">VSV</text>
<rect x="56.7" y="495.2" width="14.4" height="0.7" fill="#e8e8c9" stroke="#333" stroke-width="0.8"/>
<circle cx="60.2" cy="495.2" r="1.75" fill="rgba(255,255,255,0.55)" stroke="#333" stroke-width="0.85"/>
<circle cx="63.9" cy="495.2" r="1.75" fill="rgba(255,255,255,0.55)" stroke="#333" stroke-width="0.85"/>
<circle cx="67.6" cy="495.2" r="1.75" fill="rgba(255,255,255,0.55)" stroke="#333" stroke-width="0.85"/>
<line x1="59.7" y1="495.2" x2="68.1" y2="495.2" stroke="#111" stroke-width="1.2"/>
<rect x="74.7" y="495" width="14.4" height="0.9" fill="#f43c3f" stroke="#333" stroke-width="0.8"/>
<circle cx="78.2" cy="495" r="1.75" fill="rgba(255,255,255,0.55)" stroke="#333" stroke-width="0.85"/>
<circle cx="81.9" cy="495" r="1.75" fill="rgba(255,255,255,0.55)" stroke="#333" stroke-width="0.85"/>
<circle cx="85.6" cy="495" r="1.75" fill="rgba(255,255,255,0.55)" stroke="#333" stroke-width="0.85"/>
<line x1="77.7" y1="495" x2="86.1" y2="495" stroke="#111" stroke-width="1.2"/>
<rect x="107.3" y="457.4" width="14.4" height="38.5" fill="#e8e8c9" stroke="#333" stroke-width="0.8"/>
<circle cx="114.5" cy="446.5" r="1.9" fill="rgba(255,255,255,0.55)" stroke="#333" stroke-width="0.85"/>
<circle cx="114.5" cy="458" r="1.9" fill="rgba(255,255,255,0.55)" stroke="#333" stroke-width="0.85"/>
<circle cx="114.5" cy="469" r="1.9" fill="rgba(255,255,255,0.55)" stroke="#333" stroke-width="0.85"/>
<line x1="114.5" y1="445.5" x2="114.5" y2="469.1" stroke="#111" stroke-width="1.5"/>
<line x1="110.8" y1="445.5" x2="118.2" y2="445.5" stroke="#111" stroke-width="1.5"/>
<line x1="110.8" y1="469.1" x2="118.2" y2="469.1" stroke="#111" stroke-width="1.5"/>
<rect x="125.3" y="420" width="14.4" height="75.9" fill="#f43c3f" stroke="#333" stroke-width="0.8"/>
<circle cx="132.5" cy="412" r="1.9" fill="rgba(255,255,255,0.55)" stroke="#333" stroke-width="0.85"/>
<circle cx="132.5" cy="430" r="1.9" fill="rgba(255,255,255,0.55)" stroke="#333" stroke-width="0.85"/>
<circle cx="132.5" cy="434" r="1.9" fill="rgba(255,255,255,0.55)" stroke="#333" stroke-width="0.85"/>
<line x1="132.5" y1="405.8" x2="132.5" y2="433.6" stroke="#111" stroke-width="1.5"/>
<line x1="128.8" y1="405.8" x2="136.2" y2="405.8" stroke="#111" stroke-width="1.5"/>
<line x1="128.8" y1="433.6" x2="136.2" y2="433.6" stroke="#111" stroke-width="1.5"/>
<rect x="54.8" y="385.2" width="9.8" height="8.8" fill="#e8e8c9" stroke="#444" stroke-width="0.8"/>
<rect x="54.8" y="397" width="9.8" height="8.8" fill="#f43c3f" stroke="#444" stroke-width="0.8"/>
<text x="68.1" y="393.8" font-size="11" fill="#1a1a1a">WT</text>
<text x="68.1" y="405.5" font-size="11" fill="#1a1a1a">KO</text>
<text x="104.2" y="397.1" font-size="8.2" fill="#1a1a1a" style="stroke-width:0.05px" textLength="39.8" lengthAdjust="spacingAndGlyphs"><tspan font-style="italic">P</tspan> = 0.0212</text>
<line x1="115.4" y1="401.6" x2="133.3" y2="401.6" stroke="#444" stroke-width="1.1"/>
<text transform="translate(20.1 445.3) rotate(-90)" x="0" y="0" font-size="11.6" text-anchor="middle" fill="#1a1a1a"><tspan font-style="italic">Ifnb1</tspan> mRNA ( fold)</text>
<path d="M226.9 393.3V495.9H328.9" fill="none" stroke="#1a1a1a" stroke-width="1.1"/>
<line x1="224.3" y1="495.9" x2="226.9" y2="495.9" stroke="#1a1a1a" stroke-width="1"/>
<text x="222.1" y="500.6" font-size="11.2" text-anchor="end" fill="#1a1a1a">0</text>
<line x1="224.3" y1="470.38" x2="226.9" y2="470.38" stroke="#1a1a1a" stroke-width="1"/>
<text x="222.1" y="475.07" font-size="11.2" text-anchor="end" fill="#1a1a1a">5</text>
<line x1="224.3" y1="444.85" x2="226.9" y2="444.85" stroke="#1a1a1a" stroke-width="1"/>
<text x="222.1" y="449.55" font-size="11.2" text-anchor="end" fill="#1a1a1a">10</text>
<line x1="224.3" y1="419.32" x2="226.9" y2="419.32" stroke="#1a1a1a" stroke-width="1"/>
<text x="222.1" y="424.02" font-size="11.2" text-anchor="end" fill="#1a1a1a">15</text>
<line x1="224.3" y1="393.8" x2="226.9" y2="393.8" stroke="#1a1a1a" stroke-width="1"/>
<text x="222.1" y="398.5" font-size="11.2" text-anchor="end" fill="#1a1a1a">20</text>
<line x1="252.8" y1="495.9" x2="252.8" y2="498.6" stroke="#1a1a1a" stroke-width="1"/>
<line x1="303.4" y1="495.9" x2="303.4" y2="498.6" stroke="#1a1a1a" stroke-width="1"/>
<text x="251.8" y="510.4" font-size="11.5" text-anchor="middle" fill="#1a1a1a">PBS</text>
<text x="303.9" y="510.4" font-size="11.6" text-anchor="middle" fill="#1a1a1a">VSV</text>
<circle cx="240.1" cy="495.9" r="1.75" fill="rgba(255,255,255,0.55)" stroke="#333" stroke-width="0.85"/>
<circle cx="243.8" cy="495.9" r="1.75" fill="rgba(255,255,255,0.55)" stroke="#333" stroke-width="0.85"/>
<circle cx="247.5" cy="495.9" r="1.75" fill="rgba(255,255,255,0.55)" stroke="#333" stroke-width="0.85"/>
<line x1="239.6" y1="495.9" x2="248" y2="495.9" stroke="#111" stroke-width="1.2"/>
<circle cx="258.1" cy="495.9" r="1.75" fill="rgba(255,255,255,0.55)" stroke="#333" stroke-width="0.85"/>
<circle cx="261.8" cy="495.9" r="1.75" fill="rgba(255,255,255,0.55)" stroke="#333" stroke-width="0.85"/>
<circle cx="265.5" cy="495.9" r="1.75" fill="rgba(255,255,255,0.55)" stroke="#333" stroke-width="0.85"/>
<line x1="257.6" y1="495.9" x2="266" y2="495.9" stroke="#111" stroke-width="1.2"/>
<rect x="287.2" y="461.3" width="14.4" height="34.6" fill="#e8e8c9" stroke="#333" stroke-width="0.8"/>
<circle cx="294.4" cy="455" r="1.9" fill="rgba(255,255,255,0.55)" stroke="#333" stroke-width="0.85"/>
<circle cx="294.4" cy="460" r="1.9" fill="rgba(255,255,255,0.55)" stroke="#333" stroke-width="0.85"/>
<circle cx="294.4" cy="467" r="1.9" fill="rgba(255,255,255,0.55)" stroke="#333" stroke-width="0.85"/>
<line x1="294.4" y1="453.1" x2="294.4" y2="468" stroke="#111" stroke-width="1.5"/>
<line x1="290.7" y1="453.1" x2="298.1" y2="453.1" stroke="#111" stroke-width="1.5"/>
<line x1="290.7" y1="468" x2="298.1" y2="468" stroke="#111" stroke-width="1.5"/>
<rect x="305.2" y="414.2" width="14.4" height="81.7" fill="#f43c3f" stroke="#333" stroke-width="0.8"/>
<circle cx="312.4" cy="407.5" r="1.9" fill="rgba(255,255,255,0.55)" stroke="#333" stroke-width="0.85"/>
<circle cx="312.4" cy="416" r="1.9" fill="rgba(255,255,255,0.55)" stroke="#333" stroke-width="0.85"/>
<circle cx="312.4" cy="419.5" r="1.9" fill="rgba(255,255,255,0.55)" stroke="#333" stroke-width="0.85"/>
<line x1="312.4" y1="407.2" x2="312.4" y2="420.9" stroke="#111" stroke-width="1.5"/>
<line x1="308.7" y1="407.2" x2="316.1" y2="407.2" stroke="#111" stroke-width="1.5"/>
<line x1="308.7" y1="420.9" x2="316.1" y2="420.9" stroke="#111" stroke-width="1.5"/>
<rect x="239.4" y="385.8" width="9.8" height="8.8" fill="#e8e8c9" stroke="#444" stroke-width="0.8"/>
<rect x="239.4" y="397.6" width="9.8" height="8.8" fill="#f43c3f" stroke="#444" stroke-width="0.8"/>
<text x="252.7" y="394.4" font-size="11" fill="#1a1a1a">WT</text>
<text x="252.7" y="406.1" font-size="11" fill="#1a1a1a">KO</text>
<text x="284.2" y="397.3" font-size="8.2" fill="#1a1a1a" style="stroke-width:0.05px" textLength="40.5" lengthAdjust="spacingAndGlyphs"><tspan font-style="italic">P</tspan> = 0.0014</text>
<line x1="295.9" y1="401.8" x2="313.2" y2="401.8" stroke="#444" stroke-width="1.1"/>
<text transform="translate(203.8 446.3) rotate(-90)" x="0" y="0" font-size="11.6" text-anchor="middle" fill="#1a1a1a"><tspan font-style="italic">Cxcl10</tspan> mRNA (10<tspan font-size="6.6" dy="-3.7">2</tspan><tspan dy="3.7"> </tspan>fold)</text>
<path d="M404.5 393.3V495.9H506.5" fill="none" stroke="#1a1a1a" stroke-width="1.1"/>
<line x1="401.9" y1="495.9" x2="404.5" y2="495.9" stroke="#1a1a1a" stroke-width="1"/>
<text x="400.5" y="500.6" font-size="11.2" text-anchor="end" fill="#1a1a1a">0</text>
<line x1="401.9" y1="461.87" x2="404.5" y2="461.87" stroke="#1a1a1a" stroke-width="1"/>
<text x="400.5" y="466.57" font-size="11.2" text-anchor="end" fill="#1a1a1a">50</text>
<line x1="401.9" y1="427.83" x2="404.5" y2="427.83" stroke="#1a1a1a" stroke-width="1"/>
<text x="400.5" y="432.53" font-size="11.2" text-anchor="end" fill="#1a1a1a">100</text>
<line x1="401.9" y1="393.8" x2="404.5" y2="393.8" stroke="#1a1a1a" stroke-width="1"/>
<text x="400.5" y="398.5" font-size="11.2" text-anchor="end" fill="#1a1a1a">150</text>
<line x1="430.4" y1="495.9" x2="430.4" y2="498.6" stroke="#1a1a1a" stroke-width="1"/>
<line x1="481" y1="495.9" x2="481" y2="498.6" stroke="#1a1a1a" stroke-width="1"/>
<text x="429.4" y="510.4" font-size="11.5" text-anchor="middle" fill="#1a1a1a">PBS</text>
<text x="481.5" y="510.4" font-size="11.6" text-anchor="middle" fill="#1a1a1a">VSV</text>
<circle cx="417.7" cy="495.9" r="1.75" fill="rgba(255,255,255,0.55)" stroke="#333" stroke-width="0.85"/>
<circle cx="421.4" cy="495.9" r="1.75" fill="rgba(255,255,255,0.55)" stroke="#333" stroke-width="0.85"/>
<circle cx="425.1" cy="495.9" r="1.75" fill="rgba(255,255,255,0.55)" stroke="#333" stroke-width="0.85"/>
<line x1="417.2" y1="495.9" x2="425.6" y2="495.9" stroke="#111" stroke-width="1.2"/>
<circle cx="435.7" cy="495.9" r="1.75" fill="rgba(255,255,255,0.55)" stroke="#333" stroke-width="0.85"/>
<circle cx="439.4" cy="495.9" r="1.75" fill="rgba(255,255,255,0.55)" stroke="#333" stroke-width="0.85"/>
<circle cx="443.1" cy="495.9" r="1.75" fill="rgba(255,255,255,0.55)" stroke="#333" stroke-width="0.85"/>
<line x1="435.2" y1="495.9" x2="443.6" y2="495.9" stroke="#111" stroke-width="1.2"/>
<rect x="464.8" y="461.3" width="14.4" height="34.6" fill="#e8e8c9" stroke="#333" stroke-width="0.8"/>
<circle cx="472" cy="456.5" r="1.9" fill="rgba(255,255,255,0.55)" stroke="#333" stroke-width="0.85"/>
<circle cx="472" cy="462" r="1.9" fill="rgba(255,255,255,0.55)" stroke="#333" stroke-width="0.85"/>
<circle cx="472" cy="466" r="1.9" fill="rgba(255,255,255,0.55)" stroke="#333" stroke-width="0.85"/>
<line x1="472" y1="455.6" x2="472" y2="467.3" stroke="#111" stroke-width="1.5"/>
<line x1="468.3" y1="455.6" x2="475.7" y2="455.6" stroke="#111" stroke-width="1.5"/>
<line x1="468.3" y1="467.3" x2="475.7" y2="467.3" stroke="#111" stroke-width="1.5"/>
<rect x="482.8" y="428.3" width="14.4" height="67.6" fill="#f43c3f" stroke="#333" stroke-width="0.8"/>
<circle cx="490" cy="420" r="1.9" fill="rgba(255,255,255,0.55)" stroke="#333" stroke-width="0.85"/>
<circle cx="490" cy="428" r="1.9" fill="rgba(255,255,255,0.55)" stroke="#333" stroke-width="0.85"/>
<circle cx="490" cy="437" r="1.9" fill="rgba(255,255,255,0.55)" stroke="#333" stroke-width="0.85"/>
<line x1="490" y1="418.9" x2="490" y2="437" stroke="#111" stroke-width="1.5"/>
<line x1="486.3" y1="418.9" x2="493.7" y2="418.9" stroke="#111" stroke-width="1.5"/>
<line x1="486.3" y1="437" x2="493.7" y2="437" stroke="#111" stroke-width="1.5"/>
<rect x="414.2" y="387.3" width="9.8" height="8.8" fill="#e8e8c9" stroke="#444" stroke-width="0.8"/>
<rect x="414.2" y="399.1" width="9.8" height="8.8" fill="#f43c3f" stroke="#444" stroke-width="0.8"/>
<text x="427.5" y="395.9" font-size="11" fill="#1a1a1a">WT</text>
<text x="427.5" y="407.6" font-size="11" fill="#1a1a1a">KO</text>
<text x="460.5" y="410.2" font-size="8.2" fill="#1a1a1a" style="stroke-width:0.05px" textLength="40.4" lengthAdjust="spacingAndGlyphs"><tspan font-style="italic">P</tspan> = 0.0056</text>
<line x1="472.2" y1="415.2" x2="490.3" y2="415.2" stroke="#444" stroke-width="1.1"/>
<text transform="translate(377.6 447) rotate(-90)" x="0" y="0" font-size="11.6" text-anchor="middle" fill="#1a1a1a"><tspan font-style="italic">Ifit1</tspan> mRNA ( fold)</text>
<path d="M578.5 393.3V495.9H680.5" fill="none" stroke="#1a1a1a" stroke-width="1.1"/>
<line x1="575.9" y1="495.9" x2="578.5" y2="495.9" stroke="#1a1a1a" stroke-width="1"/>
<text x="573.5" y="500.6" font-size="11.2" text-anchor="end" fill="#1a1a1a">0</text>
<line x1="575.9" y1="461.87" x2="578.5" y2="461.87" stroke="#1a1a1a" stroke-width="1"/>
<text x="573.5" y="466.57" font-size="11.2" text-anchor="end" fill="#1a1a1a">100</text>
<line x1="575.9" y1="427.83" x2="578.5" y2="427.83" stroke="#1a1a1a" stroke-width="1"/>
<text x="573.5" y="432.53" font-size="11.2" text-anchor="end" fill="#1a1a1a">200</text>
<line x1="575.9" y1="393.8" x2="578.5" y2="393.8" stroke="#1a1a1a" stroke-width="1"/>
<text x="573.5" y="398.5" font-size="11.2" text-anchor="end" fill="#1a1a1a">300</text>
<line x1="604.4" y1="495.9" x2="604.4" y2="498.6" stroke="#1a1a1a" stroke-width="1"/>
<line x1="655" y1="495.9" x2="655" y2="498.6" stroke="#1a1a1a" stroke-width="1"/>
<text x="603.4" y="510.4" font-size="11.5" text-anchor="middle" fill="#1a1a1a">PBS</text>
<text x="655.5" y="510.4" font-size="11.6" text-anchor="middle" fill="#1a1a1a">VSV</text>
<circle cx="591.7" cy="495.9" r="1.75" fill="rgba(255,255,255,0.55)" stroke="#333" stroke-width="0.85"/>
<circle cx="595.4" cy="495.9" r="1.75" fill="rgba(255,255,255,0.55)" stroke="#333" stroke-width="0.85"/>
<circle cx="599.1" cy="495.9" r="1.75" fill="rgba(255,255,255,0.55)" stroke="#333" stroke-width="0.85"/>
<line x1="591.2" y1="495.9" x2="599.6" y2="495.9" stroke="#111" stroke-width="1.2"/>
<circle cx="609.7" cy="495.9" r="1.75" fill="rgba(255,255,255,0.55)" stroke="#333" stroke-width="0.85"/>
<circle cx="613.4" cy="495.9" r="1.75" fill="rgba(255,255,255,0.55)" stroke="#333" stroke-width="0.85"/>
<circle cx="617.1" cy="495.9" r="1.75" fill="rgba(255,255,255,0.55)" stroke="#333" stroke-width="0.85"/>
<line x1="609.2" y1="495.9" x2="617.6" y2="495.9" stroke="#111" stroke-width="1.2"/>
<rect x="638.8" y="471.3" width="14.4" height="24.6" fill="#e8e8c9" stroke="#333" stroke-width="0.8"/>
<circle cx="646" cy="463" r="1.9" fill="rgba(255,255,255,0.55)" stroke="#333" stroke-width="0.85"/>
<circle cx="646" cy="485" r="1.9" fill="rgba(255,255,255,0.55)" stroke="#333" stroke-width="0.85"/>
<circle cx="646" cy="487" r="1.9" fill="rgba(255,255,255,0.55)" stroke="#333" stroke-width="0.85"/>
<line x1="646" y1="457.4" x2="646" y2="485.4" stroke="#111" stroke-width="1.5"/>
<line x1="642.3" y1="457.4" x2="649.7" y2="457.4" stroke="#111" stroke-width="1.5"/>
<line x1="642.3" y1="485.4" x2="649.7" y2="485.4" stroke="#111" stroke-width="1.5"/>
<rect x="656.8" y="421.6" width="14.4" height="74.3" fill="#f43c3f" stroke="#333" stroke-width="0.8"/>
<circle cx="664" cy="415" r="1.9" fill="rgba(255,255,255,0.55)" stroke="#333" stroke-width="0.85"/>
<circle cx="664" cy="433" r="1.9" fill="rgba(255,255,255,0.55)" stroke="#333" stroke-width="0.85"/>
<circle cx="664" cy="434" r="1.9" fill="rgba(255,255,255,0.55)" stroke="#333" stroke-width="0.85"/>
<line x1="664" y1="411" x2="664" y2="432.5" stroke="#111" stroke-width="1.5"/>
<line x1="660.3" y1="411" x2="667.7" y2="411" stroke="#111" stroke-width="1.5"/>
<line x1="660.3" y1="432.5" x2="667.7" y2="432.5" stroke="#111" stroke-width="1.5"/>
<rect x="587.9" y="387.3" width="9.8" height="8.8" fill="#e8e8c9" stroke="#444" stroke-width="0.8"/>
<rect x="587.9" y="399.1" width="9.8" height="8.8" fill="#f43c3f" stroke="#444" stroke-width="0.8"/>
<text x="601.2" y="395.9" font-size="11" fill="#1a1a1a">WT</text>
<text x="601.2" y="407.6" font-size="11" fill="#1a1a1a">KO</text>
<text x="636.1" y="399.3" font-size="8.2" fill="#1a1a1a" style="stroke-width:0.05px" textLength="39.7" lengthAdjust="spacingAndGlyphs"><tspan font-style="italic">P</tspan> = 0.0074</text>
<line x1="647" y1="404.3" x2="664.4" y2="404.3" stroke="#444" stroke-width="1.1"/>
<text transform="translate(548.3 445) rotate(-90)" x="0" y="0" font-size="11.6" text-anchor="middle" fill="#1a1a1a"><tspan font-style="italic">Il6</tspan> mRNA ( fold)</text>
<path d="M47 567.8V672.1H151.5" fill="none" stroke="#1a1a1a" stroke-width="1.1"/>
<line x1="44.4" y1="672.1" x2="47" y2="672.1" stroke="#1a1a1a" stroke-width="1"/>
<text x="41.9" y="676.8" font-size="11.2" text-anchor="end" fill="#1a1a1a">0</text>
<line x1="44.4" y1="646.15" x2="47" y2="646.15" stroke="#1a1a1a" stroke-width="1"/>
<text x="41.9" y="650.85" font-size="11.2" text-anchor="end" fill="#1a1a1a">20</text>
<line x1="44.4" y1="620.2" x2="47" y2="620.2" stroke="#1a1a1a" stroke-width="1"/>
<text x="41.9" y="624.9" font-size="11.2" text-anchor="end" fill="#1a1a1a">40</text>
<line x1="44.4" y1="594.25" x2="47" y2="594.25" stroke="#1a1a1a" stroke-width="1"/>
<text x="41.9" y="598.95" font-size="11.2" text-anchor="end" fill="#1a1a1a">60</text>
<line x1="44.4" y1="568.3" x2="47" y2="568.3" stroke="#1a1a1a" stroke-width="1"/>
<text x="41.9" y="573" font-size="11.2" text-anchor="end" fill="#1a1a1a">80</text>
<line x1="73" y1="672.1" x2="73" y2="674.8" stroke="#1a1a1a" stroke-width="1"/>
<line x1="125.3" y1="672.1" x2="125.3" y2="674.8" stroke="#1a1a1a" stroke-width="1"/>
<text x="70.2" y="685.7" font-size="11.5" text-anchor="middle" fill="#1a1a1a">PBS</text>
<text x="125.7" y="685.7" font-size="11.6" text-anchor="middle" fill="#1a1a1a">VSV</text>
<rect x="56.65" y="668.6" width="14.5" height="3.5" fill="#e8e8c9" stroke="#333" stroke-width="0.8"/>
<circle cx="60.2" cy="668.6" r="1.75" fill="rgba(255,255,255,0.55)" stroke="#333" stroke-width="0.85"/>
<circle cx="63.9" cy="668.6" r="1.75" fill="rgba(255,255,255,0.55)" stroke="#333" stroke-width="0.85"/>
<circle cx="67.6" cy="668.6" r="1.75" fill="rgba(255,255,255,0.55)" stroke="#333" stroke-width="0.85"/>
<line x1="59.7" y1="668.6" x2="68.1" y2="668.6" stroke="#111" stroke-width="1.2"/>
<line x1="63.9" y1="667.8" x2="63.9" y2="669.4" stroke="#111" stroke-width="1.5"/>
<line x1="60.2" y1="667.8" x2="67.6" y2="667.8" stroke="#111" stroke-width="1.5"/>
<line x1="60.2" y1="669.4" x2="67.6" y2="669.4" stroke="#111" stroke-width="1.5"/>
<rect x="74.85" y="669.1" width="14.5" height="3" fill="#f43c3f" stroke="#333" stroke-width="0.8"/>
<circle cx="78.4" cy="669.1" r="1.75" fill="rgba(255,255,255,0.55)" stroke="#333" stroke-width="0.85"/>
<circle cx="82.1" cy="669.1" r="1.75" fill="rgba(255,255,255,0.55)" stroke="#333" stroke-width="0.85"/>
<circle cx="85.8" cy="669.1" r="1.75" fill="rgba(255,255,255,0.55)" stroke="#333" stroke-width="0.85"/>
<line x1="77.9" y1="669.1" x2="86.3" y2="669.1" stroke="#111" stroke-width="1.2"/>
<line x1="82.1" y1="668.4" x2="82.1" y2="669.8" stroke="#111" stroke-width="1.5"/>
<line x1="78.4" y1="668.4" x2="85.8" y2="668.4" stroke="#111" stroke-width="1.5"/>
<line x1="78.4" y1="669.8" x2="85.8" y2="669.8" stroke="#111" stroke-width="1.5"/>
<rect x="108.95" y="644.4" width="14.5" height="27.7" fill="#e8e8c9" stroke="#333" stroke-width="0.8"/>
<circle cx="116.2" cy="638.5" r="1.9" fill="rgba(255,255,255,0.55)" stroke="#333" stroke-width="0.85"/>
<circle cx="116.2" cy="643.5" r="1.9" fill="rgba(255,255,255,0.55)" stroke="#333" stroke-width="0.85"/>
<circle cx="116.2" cy="648" r="1.9" fill="rgba(255,255,255,0.55)" stroke="#333" stroke-width="0.85"/>
<line x1="116.2" y1="639" x2="116.2" y2="650.3" stroke="#111" stroke-width="1.5"/>
<line x1="112.5" y1="639" x2="119.9" y2="639" stroke="#111" stroke-width="1.5"/>
<line x1="112.5" y1="650.3" x2="119.9" y2="650.3" stroke="#111" stroke-width="1.5"/>
<rect x="127.15" y="602.4" width="14.5" height="69.7" fill="#f43c3f" stroke="#333" stroke-width="0.8"/>
<circle cx="134.4" cy="590" r="1.9" fill="rgba(255,255,255,0.55)" stroke="#333" stroke-width="0.85"/>
<circle cx="134.4" cy="598" r="1.9" fill="rgba(255,255,255,0.55)" stroke="#333" stroke-width="0.85"/>
<circle cx="134.4" cy="618" r="1.9" fill="rgba(255,255,255,0.55)" stroke="#333" stroke-width="0.85"/>
<line x1="134.4" y1="587.5" x2="134.4" y2="616.8" stroke="#111" stroke-width="1.5"/>
<line x1="130.7" y1="587.5" x2="138.1" y2="587.5" stroke="#111" stroke-width="1.5"/>
<line x1="130.7" y1="616.8" x2="138.1" y2="616.8" stroke="#111" stroke-width="1.5"/>
<rect x="55" y="558.9" width="9.8" height="8.8" fill="#e8e8c9" stroke="#444" stroke-width="0.8"/>
<rect x="55" y="570.7" width="9.8" height="8.8" fill="#f43c3f" stroke="#444" stroke-width="0.8"/>
<text x="68.3" y="567.5" font-size="11" fill="#1a1a1a">WT</text>
<text x="68.3" y="579.2" font-size="11" fill="#1a1a1a">KO</text>
<text x="104.2" y="577.6" font-size="8.2" fill="#1a1a1a" style="stroke-width:0.05px" textLength="40.5" lengthAdjust="spacingAndGlyphs"><tspan font-style="italic">P</tspan> = 0.0083</text>
<line x1="116.7" y1="581.6" x2="134" y2="581.6" stroke="#444" stroke-width="1.1"/>
<text transform="translate(23.8 618.2) rotate(-90)" x="0" y="0" font-size="11.6" text-anchor="middle" fill="#1a1a1a">IFN-β (pg/ml)</text>
<text x="94.4" y="547.8" font-size="11.4" text-anchor="middle" fill="#1a1a1a">Serum</text>
<path d="M226.3 567.8V672.1H330.8" fill="none" stroke="#1a1a1a" stroke-width="1.1"/>
<line x1="223.7" y1="672.1" x2="226.3" y2="672.1" stroke="#1a1a1a" stroke-width="1"/>
<text x="222.2" y="676.8" font-size="11.2" text-anchor="end" fill="#1a1a1a">0</text>
<line x1="223.7" y1="651.34" x2="226.3" y2="651.34" stroke="#1a1a1a" stroke-width="1"/>
<text x="222.2" y="656.04" font-size="11.2" text-anchor="end" fill="#1a1a1a">10</text>
<line x1="223.7" y1="630.58" x2="226.3" y2="630.58" stroke="#1a1a1a" stroke-width="1"/>
<text x="222.2" y="635.28" font-size="11.2" text-anchor="end" fill="#1a1a1a">20</text>
<line x1="223.7" y1="609.82" x2="226.3" y2="609.82" stroke="#1a1a1a" stroke-width="1"/>
<text x="222.2" y="614.52" font-size="11.2" text-anchor="end" fill="#1a1a1a">30</text>
<line x1="223.7" y1="589.06" x2="226.3" y2="589.06" stroke="#1a1a1a" stroke-width="1"/>
<text x="222.2" y="593.76" font-size="11.2" text-anchor="end" fill="#1a1a1a">40</text>
<line x1="223.7" y1="568.3" x2="226.3" y2="568.3" stroke="#1a1a1a" stroke-width="1"/>
<text x="222.2" y="573" font-size="11.2" text-anchor="end" fill="#1a1a1a">50</text>
<line x1="252.3" y1="672.1" x2="252.3" y2="674.8" stroke="#1a1a1a" stroke-width="1"/>
<line x1="304.6" y1="672.1" x2="304.6" y2="674.8" stroke="#1a1a1a" stroke-width="1"/>
<text x="253.7" y="685.7" font-size="11.5" text-anchor="middle" fill="#1a1a1a">PBS</text>
<text x="303.3" y="685.7" font-size="11.6" text-anchor="middle" fill="#1a1a1a">VSV</text>
<rect x="235.95" y="670.4" width="14.5" height="1.7" fill="#e8e8c9" stroke="#333" stroke-width="0.8"/>
<circle cx="239.5" cy="670.4" r="1.75" fill="rgba(255,255,255,0.55)" stroke="#333" stroke-width="0.85"/>
<circle cx="243.2" cy="670.4" r="1.75" fill="rgba(255,255,255,0.55)" stroke="#333" stroke-width="0.85"/>
<circle cx="246.9" cy="670.4" r="1.75" fill="rgba(255,255,255,0.55)" stroke="#333" stroke-width="0.85"/>
<line x1="239" y1="670.4" x2="247.4" y2="670.4" stroke="#111" stroke-width="1.2"/>
<rect x="254.15" y="668.3" width="14.5" height="3.8" fill="#f43c3f" stroke="#333" stroke-width="0.8"/>
<circle cx="257.7" cy="668.3" r="1.75" fill="rgba(255,255,255,0.55)" stroke="#333" stroke-width="0.85"/>
<circle cx="261.4" cy="668.3" r="1.75" fill="rgba(255,255,255,0.55)" stroke="#333" stroke-width="0.85"/>
<circle cx="265.1" cy="668.3" r="1.75" fill="rgba(255,255,255,0.55)" stroke="#333" stroke-width="0.85"/>
<line x1="257.2" y1="668.3" x2="265.6" y2="668.3" stroke="#111" stroke-width="1.2"/>
<line x1="261.4" y1="667.5" x2="261.4" y2="669.1" stroke="#111" stroke-width="1.5"/>
<line x1="257.7" y1="667.5" x2="265.1" y2="667.5" stroke="#111" stroke-width="1.5"/>
<line x1="257.7" y1="669.1" x2="265.1" y2="669.1" stroke="#111" stroke-width="1.5"/>
<rect x="288.25" y="601.2" width="14.5" height="70.9" fill="#e8e8c9" stroke="#333" stroke-width="0.8"/>
<circle cx="295.5" cy="588" r="1.9" fill="rgba(255,255,255,0.55)" stroke="#333" stroke-width="0.85"/>
<circle cx="295.5" cy="597" r="1.9" fill="rgba(255,255,255,0.55)" stroke="#333" stroke-width="0.85"/>
<circle cx="295.5" cy="618" r="1.9" fill="rgba(255,255,255,0.55)" stroke="#333" stroke-width="0.85"/>
<line x1="295.5" y1="585.9" x2="295.5" y2="616.1" stroke="#111" stroke-width="1.5"/>
<line x1="291.8" y1="585.9" x2="299.2" y2="585.9" stroke="#111" stroke-width="1.5"/>
<line x1="291.8" y1="616.1" x2="299.2" y2="616.1" stroke="#111" stroke-width="1.5"/>
<rect x="306.45" y="664.2" width="14.5" height="7.9" fill="#f43c3f" stroke="#333" stroke-width="0.8"/>
<circle cx="313.7" cy="662" r="1.9" fill="rgba(255,255,255,0.55)" stroke="#333" stroke-width="0.85"/>
<circle cx="313.7" cy="663.5" r="1.9" fill="rgba(255,255,255,0.55)" stroke="#333" stroke-width="0.85"/>
<circle cx="313.7" cy="666" r="1.9" fill="rgba(255,255,255,0.55)" stroke="#333" stroke-width="0.85"/>
<line x1="313.7" y1="661.6" x2="313.7" y2="665.1" stroke="#111" stroke-width="1.5"/>
<line x1="310" y1="661.6" x2="317.4" y2="661.6" stroke="#111" stroke-width="1.5"/>
<line x1="310" y1="665.1" x2="317.4" y2="665.1" stroke="#111" stroke-width="1.5"/>
<rect x="239.2" y="558.9" width="9.8" height="8.8" fill="#e8e8c9" stroke="#444" stroke-width="0.8"/>
<rect x="239.2" y="570.7" width="9.8" height="8.8" fill="#f43c3f" stroke="#444" stroke-width="0.8"/>
<text x="252.5" y="567.5" font-size="11" fill="#1a1a1a">WT</text>
<text x="252.5" y="579.2" font-size="11" fill="#1a1a1a">KO</text>
<text x="284.2" y="575.8" font-size="8.2" fill="#1a1a1a" style="stroke-width:0.05px" textLength="39.7" lengthAdjust="spacingAndGlyphs"><tspan font-style="italic">P</tspan> = 0.0019</text>
<line x1="295.3" y1="580.1" x2="313.5" y2="580.1" stroke="#444" stroke-width="1.1"/>
<text transform="translate(203.3 616.6) rotate(-90)" x="0" y="0" font-size="11.6" text-anchor="middle" fill="#1a1a1a">VSV mRNA ( × 10<tspan font-size="6.6" dy="-3.7">3</tspan><tspan dy="3.7"> </tspan>fold)</text>
<text x="267.5" y="547.8" font-size="11.4" text-anchor="middle" fill="#1a1a1a">Liver</text>
<path d="M405 567.8V672.1H509.5" fill="none" stroke="#1a1a1a" stroke-width="1.1"/>
<line x1="402.4" y1="672.1" x2="405" y2="672.1" stroke="#1a1a1a" stroke-width="1"/>
<text x="400.4" y="676.8" font-size="11.2" text-anchor="end" fill="#1a1a1a">0</text>
<line x1="402.4" y1="651.34" x2="405" y2="651.34" stroke="#1a1a1a" stroke-width="1"/>
<text x="400.4" y="656.04" font-size="11.2" text-anchor="end" fill="#1a1a1a">200</text>
<line x1="402.4" y1="630.58" x2="405" y2="630.58" stroke="#1a1a1a" stroke-width="1"/>
<text x="400.4" y="635.28" font-size="11.2" text-anchor="end" fill="#1a1a1a">400</text>
<line x1="402.4" y1="609.82" x2="405" y2="609.82" stroke="#1a1a1a" stroke-width="1"/>
<text x="400.4" y="614.52" font-size="11.2" text-anchor="end" fill="#1a1a1a">600</text>
<line x1="402.4" y1="589.06" x2="405" y2="589.06" stroke="#1a1a1a" stroke-width="1"/>
<text x="400.4" y="593.76" font-size="11.2" text-anchor="end" fill="#1a1a1a">800</text>
<line x1="402.4" y1="568.3" x2="405" y2="568.3" stroke="#1a1a1a" stroke-width="1"/>
<text x="400.4" y="573" font-size="11.2" text-anchor="end" fill="#1a1a1a">1000</text>
<line x1="431" y1="672.1" x2="431" y2="674.8" stroke="#1a1a1a" stroke-width="1"/>
<line x1="483.3" y1="672.1" x2="483.3" y2="674.8" stroke="#1a1a1a" stroke-width="1"/>
<text x="430.1" y="685.7" font-size="11.5" text-anchor="middle" fill="#1a1a1a">PBS</text>
<text x="482.7" y="685.7" font-size="11.6" text-anchor="middle" fill="#1a1a1a">VSV</text>
<circle cx="418.2" cy="672.1" r="1.75" fill="rgba(255,255,255,0.55)" stroke="#333" stroke-width="0.85"/>
<circle cx="421.9" cy="672.1" r="1.75" fill="rgba(255,255,255,0.55)" stroke="#333" stroke-width="0.85"/>
<circle cx="425.6" cy="672.1" r="1.75" fill="rgba(255,255,255,0.55)" stroke="#333" stroke-width="0.85"/>
<line x1="417.7" y1="672.1" x2="426.1" y2="672.1" stroke="#111" stroke-width="1.2"/>
<circle cx="436.4" cy="672.1" r="1.75" fill="rgba(255,255,255,0.55)" stroke="#333" stroke-width="0.85"/>
<circle cx="440.1" cy="672.1" r="1.75" fill="rgba(255,255,255,0.55)" stroke="#333" stroke-width="0.85"/>
<circle cx="443.8" cy="672.1" r="1.75" fill="rgba(255,255,255,0.55)" stroke="#333" stroke-width="0.85"/>
<line x1="435.9" y1="672.1" x2="444.3" y2="672.1" stroke="#111" stroke-width="1.2"/>
<rect x="466.95" y="604.9" width="14.5" height="67.2" fill="#e8e8c9" stroke="#333" stroke-width="0.8"/>
<circle cx="474.2" cy="590" r="1.9" fill="rgba(255,255,255,0.55)" stroke="#333" stroke-width="0.85"/>
<circle cx="474.2" cy="603" r="1.9" fill="rgba(255,255,255,0.55)" stroke="#333" stroke-width="0.85"/>
<circle cx="474.2" cy="621" r="1.9" fill="rgba(255,255,255,0.55)" stroke="#333" stroke-width="0.85"/>
<line x1="474.2" y1="589" x2="474.2" y2="621.3" stroke="#111" stroke-width="1.5"/>
<line x1="470.5" y1="589" x2="477.9" y2="589" stroke="#111" stroke-width="1.5"/>
<line x1="470.5" y1="621.3" x2="477.9" y2="621.3" stroke="#111" stroke-width="1.5"/>
<rect x="485.15" y="644.1" width="14.5" height="28" fill="#f43c3f" stroke="#333" stroke-width="0.8"/>
<circle cx="492.4" cy="638" r="1.9" fill="rgba(255,255,255,0.55)" stroke="#333" stroke-width="0.85"/>
<circle cx="492.4" cy="655" r="1.9" fill="rgba(255,255,255,0.55)" stroke="#333" stroke-width="0.85"/>
<circle cx="492.4" cy="657" r="1.9" fill="rgba(255,255,255,0.55)" stroke="#333" stroke-width="0.85"/>
<line x1="492.4" y1="633.7" x2="492.4" y2="655.3" stroke="#111" stroke-width="1.5"/>
<line x1="488.7" y1="633.7" x2="496.1" y2="633.7" stroke="#111" stroke-width="1.5"/>
<line x1="488.7" y1="655.3" x2="496.1" y2="655.3" stroke="#111" stroke-width="1.5"/>
<rect x="414.1" y="561.4" width="9.8" height="8.8" fill="#e8e8c9" stroke="#444" stroke-width="0.8"/>
<rect x="414.1" y="573.2" width="9.8" height="8.8" fill="#f43c3f" stroke="#444" stroke-width="0.8"/>
<text x="427.4" y="570" font-size="11" fill="#1a1a1a">WT</text>
<text x="427.4" y="581.7" font-size="11" fill="#1a1a1a">KO</text>
<text x="462.9" y="580.3" font-size="8.2" fill="#1a1a1a" style="stroke-width:0.05px" textLength="40.1" lengthAdjust="spacingAndGlyphs"><tspan font-style="italic">P</tspan> = 0.0223</text>
<line x1="474" y1="584" x2="491.9" y2="584" stroke="#444" stroke-width="1.1"/>
<text transform="translate(373.4 621) rotate(-90)" x="0" y="0" font-size="11.6" text-anchor="middle" fill="#1a1a1a">VSV mRNA (fold)</text>
<text x="448.3" y="547.3" font-size="11.4" text-anchor="middle" fill="#1a1a1a">Spleen</text>
<path d="M578.6 567.8V672.1H683.1" fill="none" stroke="#1a1a1a" stroke-width="1.1"/>
<line x1="576" y1="672.1" x2="578.6" y2="672.1" stroke="#1a1a1a" stroke-width="1"/>
<text x="574.5" y="676.8" font-size="11.2" text-anchor="end" fill="#1a1a1a">0</text>
<line x1="576" y1="646.15" x2="578.6" y2="646.15" stroke="#1a1a1a" stroke-width="1"/>
<text x="574.5" y="650.85" font-size="11.2" text-anchor="end" fill="#1a1a1a">100</text>
<line x1="576" y1="620.2" x2="578.6" y2="620.2" stroke="#1a1a1a" stroke-width="1"/>
<text x="574.5" y="624.9" font-size="11.2" text-anchor="end" fill="#1a1a1a">200</text>
<line x1="576" y1="594.25" x2="578.6" y2="594.25" stroke="#1a1a1a" stroke-width="1"/>
<text x="574.5" y="598.95" font-size="11.2" text-anchor="end" fill="#1a1a1a">300</text>
<line x1="576" y1="568.3" x2="578.6" y2="568.3" stroke="#1a1a1a" stroke-width="1"/>
<text x="574.5" y="573" font-size="11.2" text-anchor="end" fill="#1a1a1a">400</text>
<line x1="604.6" y1="672.1" x2="604.6" y2="674.8" stroke="#1a1a1a" stroke-width="1"/>
<line x1="656.9" y1="672.1" x2="656.9" y2="674.8" stroke="#1a1a1a" stroke-width="1"/>
<text x="605.6" y="685.7" font-size="11.5" text-anchor="middle" fill="#1a1a1a">PBS</text>
<text x="657.3" y="685.7" font-size="11.6" text-anchor="middle" fill="#1a1a1a">VSV</text>
<circle cx="591.8" cy="672.1" r="1.75" fill="rgba(255,255,255,0.55)" stroke="#333" stroke-width="0.85"/>
<circle cx="595.5" cy="672.1" r="1.75" fill="rgba(255,255,255,0.55)" stroke="#333" stroke-width="0.85"/>
<circle cx="599.2" cy="672.1" r="1.75" fill="rgba(255,255,255,0.55)" stroke="#333" stroke-width="0.85"/>
<line x1="591.3" y1="672.1" x2="599.7" y2="672.1" stroke="#111" stroke-width="1.2"/>
<circle cx="610" cy="672.1" r="1.75" fill="rgba(255,255,255,0.55)" stroke="#333" stroke-width="0.85"/>
<circle cx="613.7" cy="672.1" r="1.75" fill="rgba(255,255,255,0.55)" stroke="#333" stroke-width="0.85"/>
<circle cx="617.4" cy="672.1" r="1.75" fill="rgba(255,255,255,0.55)" stroke="#333" stroke-width="0.85"/>
<line x1="609.5" y1="672.1" x2="617.9" y2="672.1" stroke="#111" stroke-width="1.2"/>
<rect x="640.55" y="600.4" width="14.5" height="71.7" fill="#e8e8c9" stroke="#333" stroke-width="0.8"/>
<circle cx="647.8" cy="586.3" r="1.9" fill="rgba(255,255,255,0.55)" stroke="#333" stroke-width="0.85"/>
<circle cx="647.8" cy="591.5" r="1.9" fill="rgba(255,255,255,0.55)" stroke="#333" stroke-width="0.85"/>
<circle cx="647.8" cy="623.9" r="1.9" fill="rgba(255,255,255,0.55)" stroke="#333" stroke-width="0.85"/>
<line x1="647.8" y1="580.5" x2="647.8" y2="620.6" stroke="#111" stroke-width="1.5"/>
<line x1="644.1" y1="580.5" x2="651.5" y2="580.5" stroke="#111" stroke-width="1.5"/>
<line x1="644.1" y1="620.6" x2="651.5" y2="620.6" stroke="#111" stroke-width="1.5"/>
<rect x="658.75" y="662" width="14.5" height="10.1" fill="#f43c3f" stroke="#333" stroke-width="0.8"/>
<circle cx="666" cy="654.7" r="1.9" fill="rgba(255,255,255,0.55)" stroke="#333" stroke-width="0.85"/>
<circle cx="666" cy="663" r="1.9" fill="rgba(255,255,255,0.55)" stroke="#333" stroke-width="0.85"/>
<circle cx="666" cy="667.8" r="1.9" fill="rgba(255,255,255,0.55)" stroke="#333" stroke-width="0.85"/>
<line x1="666" y1="656.4" x2="666" y2="667.1" stroke="#111" stroke-width="1.5"/>
<line x1="662.3" y1="656.4" x2="669.7" y2="656.4" stroke="#111" stroke-width="1.5"/>
<line x1="662.3" y1="667.1" x2="669.7" y2="667.1" stroke="#111" stroke-width="1.5"/>
<rect x="587.9" y="561.4" width="9.8" height="8.8" fill="#e8e8c9" stroke="#444" stroke-width="0.8"/>
<rect x="587.9" y="573.2" width="9.8" height="8.8" fill="#f43c3f" stroke="#444" stroke-width="0.8"/>
<text x="601.2" y="570" font-size="11" fill="#1a1a1a">WT</text>
<text x="601.2" y="581.7" font-size="11" fill="#1a1a1a">KO</text>
<text x="637.7" y="570.8" font-size="8.2" fill="#1a1a1a" style="stroke-width:0.05px" textLength="40.1" lengthAdjust="spacingAndGlyphs"><tspan font-style="italic">P</tspan> = 0.0070</text>
<line x1="648.8" y1="575.2" x2="666.8" y2="575.2" stroke="#444" stroke-width="1.1"/>
<text transform="translate(550.1 620.7) rotate(-90)" x="0" y="0" font-size="11.6" text-anchor="middle" fill="#1a1a1a">VSV mRNA (fold)</text>
<text x="625.2" y="547.8" font-size="11.4" text-anchor="middle" fill="#1a1a1a">Lung</text>
<text x="95.7" y="742" font-size="11.6" text-anchor="middle" fill="#1a1a1a">WT</text>
<text x="195.1" y="742" font-size="11.6" text-anchor="middle" fill="#1a1a1a">KO</text>
<text x="28.9" y="799.6" font-size="11.5" text-anchor="middle" fill="#1a1a1a">PBS</text>
<text x="28.6" y="896.6" font-size="11.5" text-anchor="middle" fill="#1a1a1a">VSV</text>
<clipPath id="cpwtpbs"><rect x="46.7" y="748.6" width="96" height="93"/></clipPath>
<g clip-path="url(#cpwtpbs)">
<rect x="46.7" y="748.6" width="96" height="93" fill="#f8f3f9"/>
<path d="M149.0 850.6L148.8 843.6M149.0 850.6L145.1 846.5M145.1 846.5L148.8 843.6M148.9 843.3L145.7 842.0M145.7 842.0L144.1 842.6M145.1 846.5L144.7 846.4M144.1 842.6L144.7 846.4M94.3 742.7L90.6 744.6M90.6 744.6L89.2 739.5M145.7 842.0L146.3 839.9M146.3 839.9L148.3 838.5M148.2 827.6L148.1 828.2M148.1 828.2L151.2 833.2M148.1 828.2L146.1 832.2M151.2 833.2L148.0 833.7M146.1 832.2L148.0 833.7M148.3 838.5L147.1 836.6M147.1 836.6L147.2 836.3M147.2 836.3L148.0 833.7M44.4 843.7L45.6 847.7M43.4 845.7L45.6 847.7M45.3 842.7L44.4 843.7M45.3 842.7L43.7 841.7M43.7 841.7L39.5 841.3M42.7 845.6L43.4 845.7M38.2 840.9L39.5 841.3M44.6 760.2L42.3 758.1M42.3 758.1L45.8 756.5M45.8 759.3L45.8 756.5M38.1 806.7L40.0 804.8M152.2 774.1L150.5 774.4M150.5 774.4L146.4 779.1M143.3 768.4L146.3 768.8M143.3 768.4L142.5 763.8M142.5 763.8L143.7 763.5M143.7 763.5L146.1 766.3M146.3 768.8L147.1 768.4M147.1 768.4L147.1 768.3M152.2 774.1L147.1 768.4M147.4 790.4L147.1 792.4M140.2 770.2L137.9 772.1M140.2 770.2L140.7 774.3M132.4 775.0L131.5 776.7M132.4 775.0L133.2 775.0M133.2 775.0L134.8 778.5M146.4 779.1L145.6 779.5M151.7 781.5L148.8 785.3M141.0 769.3L138.8 767.7M141.0 769.3L142.1 769.3M142.1 769.3L143.3 768.4M141.6 763.3L142.5 763.8M141.6 763.3L139.4 765.3M138.8 767.7L139.4 765.3M148.2 802.5L145.5 805.5M148.2 802.5L150.9 810.1M145.5 805.5L150.9 810.1M57.1 777.2L60.8 775.1M59.2 772.6L56.9 773.9M59.2 772.6L60.8 775.1M56.7 765.1L55.5 768.5M56.7 765.1L55.1 762.4M55.1 762.4L55.0 762.4M55.0 762.4L50.6 767.2M55.5 768.5L51.4 767.7M50.6 767.2L50.6 767.3M54.7 771.4L55.7 768.8M55.7 768.8L55.5 768.5M52.5 771.7L51.4 767.7M44.7 766.9L49.4 765.4M44.7 766.9L46.2 768.9M46.2 768.9L50.5 767.5M55.7 768.8L58.8 770.2M59.2 772.6L59.5 771.2M59.5 771.2L58.8 770.2M64.1 771.7L61.4 775.5M61.4 775.5L61.9 776.2M62.9 776.4L61.9 776.2M62.9 776.4L65.9 775.4M65.9 775.4L64.8 772.5M49.2 754.5L49.6 754.9M49.2 754.5L50.6 749.9M54.2 754.0L49.6 754.9M59.9 765.1L56.7 765.1M59.9 765.1L58.3 760.4M55.1 762.4L55.8 761.4M58.3 760.4L55.8 761.4M53.1 758.8L52.2 757.5M52.2 757.5L55.2 757.4M53.3 761.7L55.0 762.4M53.3 761.7L53.1 758.8M67.9 743.8L73.4 749.5M67.4 748.6L67.9 750.3M67.9 750.3L72.7 750.6M72.7 750.6L73.4 749.5M72.4 788.3L75.4 790.9M146.7 836.6L144.9 838.4M142.3 836.1L144.5 838.4M144.9 838.4L144.5 838.4M147.1 836.6L146.7 836.6M146.3 839.9L144.9 838.4M146.3 839.9L144.1 839.5M144.1 839.5L144.5 838.4M141.4 835.4L139.7 839.8M141.4 835.4L141.8 835.9M141.8 835.9L142.6 840.5M139.7 839.8L140.9 842.2M142.6 840.5L142.3 841.7M142.3 841.7L140.9 842.2M144.1 839.5L142.6 840.5M142.3 836.1L141.8 835.9M144.1 842.6L142.3 841.7M139.3 843.7L140.9 842.2M144.7 846.4L144.6 846.5M144.6 846.5L139.3 844.3M139.3 844.3L137.8 849.3M146.1 832.2L142.2 831.9M141.0 832.3L142.2 831.9M145.8 827.0L148.2 827.6M145.8 827.0L145.4 827.3M145.8 827.0L144.8 823.3M144.8 823.3L145.0 823.1M147.1 821.7L145.0 823.1M142.8 823.9L141.6 826.1M141.6 826.1L140.3 826.9M144.8 823.3L142.8 823.9M145.4 827.3L141.6 826.1M44.3 822.5L42.4 822.0M44.3 822.5L43.4 826.0M38.9 820.2L41.1 821.1M40.6 826.9L41.0 826.6M44.3 822.5L45.6 822.3M43.4 826.0L46.3 827.6M46.3 827.6L45.6 822.3M53.4 829.3L49.1 828.7M53.4 829.3L52.2 832.9M49.1 828.7L50.0 832.2M52.2 832.9L50.0 832.2M40.7 838.4L38.2 840.9M43.7 841.7L46.1 837.9M44.8 836.9L46.1 837.9M78.5 790.5L76.3 791.8M78.5 790.5L78.5 790.2M78.5 790.2L75.0 787.2M75.4 790.9L75.6 791.4M75.6 791.4L76.3 791.8M62.7 796.9L63.3 797.8M62.7 796.9L61.1 798.4M61.1 798.4L63.3 797.8M45.9 808.8L47.3 812.1M45.9 808.8L38.1 806.7M47.3 812.1L46.7 815.1M41.1 821.1L47.4 816.0M46.7 815.1L47.4 816.0M134.7 791.1L134.7 791.2M134.7 791.1L138.9 789.2M138.9 789.2L139.9 790.8M139.9 790.8L134.8 792.0M134.8 792.0L134.7 791.2M96.4 815.3L100.5 814.7M96.4 815.3L95.6 818.3M96.8 820.1L100.9 815.1M100.9 815.1L100.5 814.7M102.5 820.9L103.0 816.3M103.0 816.3L100.9 815.1M49.2 754.5L47.2 754.4M47.2 754.4L46.5 753.9M50.6 749.9L50.4 749.4M50.4 749.4L49.4 748.4M46.9 748.1L49.4 748.4M46.9 748.1L46.0 750.2M46.0 750.2L46.5 753.9M53.3 761.7L50.8 761.4M52.2 757.5L50.4 756.6M49.6 754.9L49.9 755.7M50.4 756.6L49.9 755.7M64.7 780.2L62.6 781.7M64.7 780.2L62.9 776.4M61.9 776.2L60.6 779.2M60.6 779.2L62.6 781.7M61.4 775.5L60.8 775.1M57.1 777.2L57.2 779.3M57.2 779.3L58.1 779.4M60.6 779.2L58.1 779.4M47.6 792.8L50.5 791.5M43.0 794.6L42.1 797.0M40.4 798.0L42.1 797.0M41.6 765.0L44.7 766.9M41.6 765.0L40.4 765.2M46.2 768.9L45.5 771.4M43.0 770.2L45.5 771.4M57.3 795.9L57.3 796.0M55.0 800.2L57.3 796.0M55.0 800.2L53.3 800.1M51.1 798.3L53.3 800.1M46.3 795.1L47.1 794.6M51.1 798.3L49.5 799.6M46.9 798.1L45.2 800.3M42.1 797.0L43.8 800.4M45.2 800.3L43.8 800.4M40.0 804.8L41.1 804.1M43.8 800.4L41.1 804.1M150.1 761.2L145.8 758.7M147.7 763.1L146.0 763.0M145.3 759.1L145.1 762.8M146.1 766.3L146.0 763.0M140.7 761.6L141.6 763.3M140.7 761.6L142.6 758.8M143.7 763.5L145.1 762.8M142.6 758.8L145.3 759.1M146.2 770.0L144.1 774.5M146.2 770.0L147.9 774.0M144.1 774.5L144.5 774.7M142.1 769.3L143.0 774.2M143.0 774.2L144.1 774.5M150.5 774.4L147.9 774.0M145.5 779.5L144.5 774.7M143.0 800.3L139.8 798.4M139.8 798.4L143.6 798.0M144.4 799.6L143.7 798.1M143.6 798.0L143.7 798.1M135.1 773.2L137.7 775.4M135.1 773.2L135.5 772.1M135.5 772.1L137.9 772.1M137.7 775.4L141.1 774.8M135.1 773.2L133.2 775.0M137.7 775.4L137.8 777.3M141.0 769.3L140.2 770.2M143.0 774.2L141.2 774.9M143.6 783.5L143.6 783.5M143.6 783.5L145.4 779.5M140.8 792.2L145.9 789.8M140.8 792.2L140.0 790.8M140.6 790.0L140.0 790.8M140.6 790.0L144.5 788.3M145.9 789.8L144.5 788.3M147.2 783.1L148.5 785.3M147.2 783.1L146.5 783.5M146.5 783.5L145.0 785.2M145.0 785.2L147.9 786.6M148.5 785.3L147.9 786.6M147.3 782.1L147.2 783.1M148.8 785.3L148.5 785.3M145.5 779.5L145.4 779.5M143.6 783.5L146.5 783.5M147.4 790.4L147.3 790.2M147.3 790.2L147.9 786.6M135.1 789.1L137.4 786.9M140.7 784.0L139.5 786.0M140.7 784.0L143.2 784.3M143.2 784.3L143.9 785.7M143.9 785.7L143.7 787.3M142.3 787.3L143.7 787.3M138.0 786.7L139.5 786.0M138.0 786.7L138.9 789.2M145.0 785.2L143.9 785.7M147.3 790.2L145.9 789.8M144.5 788.3L143.7 787.3M142.3 757.9L145.0 755.5M142.3 757.9L142.6 758.8M145.8 758.7L146.6 756.1M145.0 755.5L146.6 756.1M147.5 755.6L146.6 756.1M135.5 772.1L134.8 769.2M138.8 767.7L136.4 768.0M134.8 769.2L136.4 768.0M139.4 765.3L136.4 764.2M136.4 768.0L136.4 764.2M134.4 824.5L134.5 820.1M134.4 824.5L135.6 825.0M135.6 825.0L136.7 824.3M136.7 824.3L136.3 819.8M134.5 820.1L136.3 819.8M136.7 824.3L138.9 824.3M138.8 819.4L139.7 820.2M139.7 820.2L139.9 821.1M137.7 819.2L136.3 819.8M145.5 805.5L144.3 805.0M152.3 811.6L150.9 810.1M144.3 805.0L142.2 805.1M142.2 805.1L141.7 806.1M141.7 806.1L142.8 810.7M150.2 812.2L142.8 810.7M64.7 780.2L67.8 779.8M65.9 775.4L67.4 776.0M67.8 779.8L68.0 779.2M67.4 776.0L68.0 779.2M65.6 788.7L68.9 786.7M65.2 784.8L68.6 781.5M68.6 781.5L68.9 781.8M68.9 786.7L71.7 788.8M66.1 739.3L62.3 744.4M56.6 746.7L62.3 744.4M41.8 749.4L46.0 750.2M41.8 749.4L43.3 745.9M44.8 746.0L43.3 745.9M40.8 745.6L43.1 745.6M40.6 750.9L41.8 749.4M43.1 745.6L43.3 745.9M43.1 745.6L42.4 742.7M42.4 742.7L47.8 741.1M66.1 739.3L67.3 741.5M67.3 741.5L75.7 745.4M75.7 745.4L75.8 745.3M75.4 747.5L75.8 746.1M75.8 746.1L78.8 746.5M78.6 748.3L78.8 746.5M67.3 741.5L67.9 743.8M75.7 745.4L75.8 746.1M74.8 748.9L75.4 747.5M80.2 746.3L78.8 746.5M80.2 746.3L78.4 743.7M75.8 745.3L78.4 743.7M55.6 745.8L54.2 745.7M52.5 741.6L54.2 745.7M50.4 749.4L54.1 745.8M49.4 748.4L49.4 748.2M53.8 745.6L54.1 745.8M74.8 748.9L76.0 749.9M80.6 749.9L78.6 748.3M80.6 749.9L80.4 750.9M80.4 750.9L76.0 749.9M90.6 744.6L90.0 747.0M87.0 746.2L87.4 746.6M88.1 741.1L86.6 744.8M87.4 746.6L90.0 747.0M94.3 742.7L95.4 745.6M95.4 745.6L93.5 749.7M90.0 747.0L93.5 749.7M66.6 795.8L67.8 792.1M66.6 795.8L63.1 790.6M67.8 792.1L66.1 789.6M71.7 788.8L71.4 789.9M71.4 789.9L66.1 789.6M61.0 793.4L60.1 793.7M61.0 793.4L63.1 790.6M139.3 843.7L135.2 841.3M136.5 848.3L137.8 849.3M136.5 848.3L133.4 844.1M139.7 839.8L135.9 838.2M130.2 816.3L128.5 819.7M128.5 819.7L129.0 820.4M131.5 815.7L134.1 820.0M134.1 820.0L131.9 821.2M131.9 821.2L129.0 820.4M50.0 845.5L47.5 850.5M50.0 845.5L47.5 841.7M45.9 842.7L46.4 848.5M45.9 842.7L47.5 841.7M46.4 848.5L47.5 850.5M53.5 844.5L52.8 843.9M52.9 843.8L48.8 838.7M52.9 843.8L52.8 843.9M48.4 838.9L48.8 838.7M48.4 838.9L47.5 841.7M45.3 842.7L45.9 842.7M45.6 847.7L46.4 848.5M46.1 837.9L48.4 838.9M40.5 835.3L43.8 831.5M43.8 831.5L38.8 829.3M44.7 831.7L44.8 836.9M44.7 831.7L43.8 831.5M40.6 826.9L38.8 829.3M46.3 827.6L47.0 828.7M47.0 828.7L44.7 831.7M44.7 831.7L44.7 831.7M48.4 828.4L47.0 828.7M48.4 828.4L49.1 828.7M44.7 831.7L46.7 832.7M49.1 833.1L46.7 832.7M46.7 832.7L50.2 837.5M90.3 788.7L93.0 792.1M93.0 792.1L94.4 792.6M92.4 785.4L94.9 791.7M94.4 792.6L94.9 791.7M91.7 797.8L89.9 799.8M91.7 797.8L93.4 799.6M62.4 794.8L62.7 796.9M63.3 797.8L64.3 798.9M66.1 796.2L64.3 798.9M61.0 793.4L62.4 794.8M66.1 796.2L66.6 796.0M89.3 792.0L89.2 793.4M72.2 793.1L74.5 791.6M72.2 793.1L71.0 791.3M74.5 791.6L71.4 790.1M71.0 791.3L71.4 790.1M75.6 791.4L74.5 791.6M68.8 792.4L67.8 792.1M68.8 792.4L71.0 791.3M68.8 792.4L70.9 794.7M66.6 796.0L69.0 797.4M70.9 794.7L69.0 797.4M56.2 815.0L56.6 813.6M56.6 813.6L57.3 813.5M57.3 813.5L58.8 817.6M57.8 817.6L58.8 817.6M52.3 817.1L47.7 816.5M54.9 812.8L54.5 812.6M47.7 816.5L47.6 816.2M47.3 812.1L52.8 809.3M47.4 816.0L47.6 816.2M52.8 809.3L54.5 812.6M64.3 798.9L64.2 801.2M69.0 797.4L69.9 799.9M69.9 799.9L64.3 801.3M64.2 801.2L64.3 801.3M91.3 813.6L93.0 810.4M91.3 813.6L86.2 811.1M85.8 810.1L86.2 811.1M53.5 844.5L57.8 846.3M57.8 846.3L58.0 846.8M58.3 848.4L58.0 846.8M50.2 837.5L51.4 837.0M55.6 839.8L51.4 837.0M57.8 846.3L58.7 841.8M58.7 841.8L56.4 839.7M55.6 839.8L56.4 839.7M130.2 816.3L126.7 814.9M125.7 815.1L126.7 814.9M132.2 796.0L132.4 796.1M132.2 796.0L126.3 793.6M132.4 796.1L129.1 799.4M125.9 799.6L124.5 795.1M124.5 795.1L126.3 793.6M113.9 800.9L112.5 800.2M112.5 800.2L110.0 799.7M110.0 799.7L109.5 804.3M109.5 804.3L112.7 803.8M46.5 753.9L43.7 753.3M41.5 752.1L43.7 753.3M50.5 761.6L48.7 763.5M48.7 763.5L47.5 763.0M47.2 754.4L45.8 756.5M44.6 760.2L44.6 763.0M44.6 763.0L47.5 763.0M50.8 761.4L50.5 761.6M49.4 765.4L48.7 763.5M41.6 765.0L44.6 763.0M57.3 795.9L59.6 793.9M43.7 775.3L39.4 774.3M43.7 775.3L43.7 778.2M43.0 770.2L39.4 774.3M137.1 806.5L136.8 805.7M141.8 804.5L140.3 804.0M141.8 804.5L142.2 805.1M139.8 807.2L141.7 806.1M140.3 804.0L136.9 805.6M148.1 795.7L146.5 797.5M148.1 795.7L146.9 793.0M146.5 797.5L144.9 795.7M146.9 793.0L144.7 794.8M144.7 794.8L144.9 795.7M147.1 792.4L146.9 793.0M150.5 796.8L148.1 795.7M140.6 794.4L140.7 794.4M140.7 794.4L144.7 794.8M140.7 794.4L143.6 798.0M132.2 796.0L130.6 791.2M134.8 792.0L134.0 796.2M134.0 796.2L132.4 796.1M132.3 789.9L130.6 791.2M134.7 791.1L135.1 789.1M126.5 790.7L126.2 790.3M126.5 790.7L129.1 790.2M126.2 790.3L126.7 788.4M129.1 790.2L129.7 789.3M126.7 788.4L128.1 787.4M130.6 791.2L129.1 790.2M124.9 784.4L122.9 784.8M124.9 784.4L126.7 788.4M122.9 784.8L121.8 788.8M121.8 788.8L126.2 790.3M141.2 774.9L140.8 776.6M138.0 782.8L137.9 786.7M136.1 784.1L136.1 783.0M136.3 781.8L136.1 783.0M137.9 786.7L137.9 786.7M140.3 782.5L138.0 782.8M138.0 786.7L137.9 786.7M137.4 786.9L137.9 786.7M142.3 757.9L140.6 755.6M142.9 753.8L145.0 755.5M142.9 753.8L140.8 753.7M140.6 755.6L140.7 753.8M127.2 779.3L129.0 774.6M132.1 774.9L129.0 774.6M120.0 765.5L123.7 769.6M121.2 764.7L124.0 765.6M124.0 765.6L124.1 769.3M123.7 769.6L124.1 769.3M95.4 745.6L98.2 744.9M98.2 744.9L100.0 746.0M103.9 743.2L100.0 746.0M103.9 743.2L104.2 742.3M104.6 755.7L100.9 754.2M104.6 755.7L107.0 755.1M107.0 755.1L105.2 749.8M100.9 754.2L100.1 751.0M101.1 750.1L100.1 751.0M102.1 759.0L98.9 760.2M102.1 759.0L104.6 755.7M96.4 757.3L95.8 751.0M95.8 751.0L100.1 751.0M103.9 743.2L104.8 749.6M93.5 749.7L93.6 749.8M93.6 749.8L95.8 751.0M139.7 813.9L136.1 813.3M139.7 813.9L142.1 811.3M142.1 811.3L142.2 811.1M142.2 811.1L138.4 810.1M138.4 810.1L134.6 811.9M134.6 811.9L136.1 813.3M138.8 819.4L141.0 815.7M137.7 819.2L136.1 813.3M140.9 815.4L141.0 815.7M140.9 815.4L139.7 813.9M142.5 814.0L142.1 811.3M142.8 810.7L142.2 811.1M134.3 811.8L134.6 811.9M131.5 815.7L133.9 811.8M134.1 820.0L134.5 820.1M134.3 811.8L133.9 811.8M49.2 771.8L50.0 772.7M49.2 771.8L45.8 772.1M50.0 772.7L46.9 775.7M45.8 772.1L44.9 774.7M44.9 774.7L46.9 775.7M50.5 767.5L49.2 771.8M45.5 771.4L45.8 772.1M43.7 775.3L44.9 774.7M48.3 776.9L48.5 777.6M48.0 779.5L48.5 777.6M48.0 779.5L49.0 781.8M43.8 779.5L43.7 778.2M64.1 771.7L63.8 770.9M62.1 770.7L63.8 770.9M55.2 750.5L55.5 750.3M56.6 746.7L56.7 747.2M55.5 750.3L56.7 747.2M51.1 745.0L49.4 744.9M51.1 745.0L51.5 742.9M49.4 744.9L48.2 743.2M51.3 742.7L48.3 742.8M48.2 743.2L48.3 742.8M51.8 745.3L51.1 745.0M49.4 748.2L49.4 744.9M44.8 746.0L48.2 743.2M52.5 741.6L51.3 742.7M47.8 741.1L48.3 742.8M78.6 786.2L75.6 786.7M78.6 786.2L78.6 786.1M78.6 786.1L78.8 781.7M75.4 784.2L77.7 780.5M77.7 780.5L78.6 781.3M75.0 787.0L75.6 786.7M77.4 780.0L77.7 780.5M80.0 786.5L83.7 786.9M80.0 786.5L82.2 790.9M83.7 786.9L84.3 788.3M84.3 788.3L83.9 790.7M83.9 790.7L83.5 790.9M84.1 783.8L78.8 781.7M84.1 783.8L83.7 786.9M78.5 790.5L80.1 791.0M80.1 791.0L82.2 790.9M87.5 787.2L84.3 788.3M86.0 791.7L83.9 790.7M80.4 746.3L81.7 747.2M82.1 746.9L81.9 747.1M80.8 739.9L80.5 740.5M80.8 739.9L82.9 742.6M80.2 746.3L80.4 746.3M80.6 749.9L81.7 747.2M78.4 743.7L80.5 740.5M86.6 744.8L83.1 742.9M88.1 741.1L82.9 742.6M85.2 749.9L83.4 753.1M85.2 749.9L81.9 747.1M80.5 751.2L83.4 753.1M85.7 749.6L87.2 747.2M85.2 749.9L85.7 749.6M83.4 753.2L83.4 753.1M98.9 760.2L98.3 763.6M96.4 757.3L93.0 757.3M96.2 763.9L98.3 763.6M96.2 763.9L94.0 763.7M93.6 749.8L91.5 752.1M136.5 848.3L128.9 847.0M133.4 844.1L129.1 845.1M128.9 847.0L129.1 845.1M131.2 833.4L139.7 833.6M139.2 830.0L140.4 832.5M140.4 832.5L140.2 833.2M140.2 833.2L139.7 833.6M134.7 839.0L134.1 838.7M141.0 832.3L140.4 832.5M141.4 835.4L140.2 833.2M120.1 817.0L119.9 819.8M113.4 818.5L115.2 814.2M116.5 815.3L115.2 814.2M116.5 815.3L115.9 816.6M115.9 816.6L113.8 818.6M147.1 821.7L145.4 819.5M145.4 819.5L145.2 817.3M142.5 814.0L143.9 814.6M148.3 813.6L143.9 814.6M141.0 815.7L142.4 816.2M143.9 814.6L142.4 816.2M91.3 813.6L91.3 813.6M86.2 811.1L85.0 814.3M85.0 814.3L86.4 816.4M86.4 816.4L90.9 815.2M96.4 815.3L95.8 814.8M95.6 818.3L91.3 818.0M95.8 814.8L91.3 813.6M91.3 818.0L90.9 815.2M53.3 819.9L54.9 822.5M53.3 819.9L54.5 818.3M54.5 818.3L54.9 818.2M54.9 818.2L55.8 818.9M55.8 818.9L56.3 819.5M55.0 822.4L54.9 822.5M55.0 822.4L56.4 819.9M56.4 819.9L56.3 819.5M56.2 815.0L54.9 818.2M56.6 813.6L54.9 812.8M57.8 817.6L55.8 818.9M59.5 818.2L56.3 819.5M48.4 828.4L48.7 827.4M48.7 827.4L49.3 821.6M53.3 819.9L50.0 821.8M92.4 782.7L93.2 784.0M89.6 794.3L92.4 795.3M88.5 795.3L89.9 796.3M92.4 795.3L91.9 796.0M89.2 793.4L89.6 794.3M93.6 794.5L94.5 793.3M93.6 794.5L92.4 795.3M94.5 793.3L94.4 792.6M88.2 798.4L89.9 796.3M88.2 798.4L89.9 799.8M91.7 797.8L91.9 796.0M93.6 794.5L94.4 799.9M94.4 799.9L93.4 799.6M93.7 810.3L96.3 810.8M93.7 810.3L95.8 807.3M95.8 807.3L97.9 808.5M97.9 808.5L96.7 810.7M96.3 810.8L96.7 810.7M95.8 814.8L96.3 810.8M93.0 810.4L93.7 810.3M100.4 814.4L100.5 814.7M100.4 814.4L98.2 811.7M98.2 811.7L96.7 810.7M90.1 801.2L90.2 800.9M94.4 799.9L94.7 800.1M90.1 801.2L88.0 803.4M88.0 803.4L87.8 804.1M91.2 801.8L94.1 804.3M97.9 808.5L99.9 807.5M86.9 804.1L82.0 801.8M86.9 804.1L83.7 805.6M83.7 805.6L81.6 803.3M81.6 803.3L82.0 801.8M88.0 803.4L85.7 799.9M82.0 801.8L81.9 801.1M81.9 801.1L83.4 799.7M85.7 799.9L87.6 798.3M87.6 798.3L86.9 796.4M76.3 791.8L76.4 795.4M72.2 793.1L71.8 794.1M71.8 794.1L76.4 795.4M70.9 794.7L71.3 794.6M71.8 794.1L71.3 794.6M64.3 801.3L64.4 802.1M59.4 803.9L62.5 800.9M61.4 815.6L63.8 815.0M63.8 815.0L62.4 811.8M57.3 813.5L57.9 813.3M60.2 818.4L60.7 817.9M60.2 818.4L59.5 818.2M60.7 817.9L61.4 815.6M66.7 815.8L67.4 814.3M67.4 814.3L63.8 810.5M58.7 841.8L60.8 841.5M60.8 841.5L62.6 837.2M56.4 839.7L58.0 836.8M62.6 837.2L58.0 836.8M48.7 827.4L52.0 825.2M52.0 825.2L53.8 827.8M53.5 829.3L53.8 827.8M60.8 841.5L61.5 841.9M58.0 846.8L62.4 844.5M61.5 841.9L62.4 844.5M52.2 832.9L52.3 834.1M52.3 834.1L52.0 835.9M58.0 836.8L57.4 834.5M52.0 835.9L57.4 834.5M113.2 791.3L116.7 795.2M113.2 791.3L118.0 788.5M116.7 795.2L120.0 792.7M120.0 792.7L120.1 789.9M118.0 788.5L120.1 789.9M124.5 795.1L123.5 795.0M123.5 795.0L120.0 792.7M121.8 788.8L120.1 789.9M103.2 792.9L102.9 795.0M108.6 793.7L107.5 792.4M108.6 793.7L104.9 797.0M102.9 795.0L104.6 797.2M104.9 797.0L104.6 797.2M116.6 795.3L116.7 795.2M116.6 795.3L117.2 799.4M123.5 795.0L119.2 800.4M119.2 800.4L117.2 799.4M116.6 795.3L112.4 796.2M112.4 796.2L112.5 800.2M117.2 799.4L114.9 800.7M105.0 805.6L107.2 807.9M108.8 807.6L107.2 807.9M108.8 807.6L108.7 804.8M108.7 804.8L107.5 803.9M103.5 805.5L104.9 800.0M104.9 800.0L105.1 799.8M105.1 799.8L107.5 803.9M112.1 807.5L108.9 807.7M109.5 804.3L108.7 804.8M110.0 799.7L109.0 799.2M105.1 799.8L105.4 799.2M105.2 810.9L106.4 808.5M106.4 808.5L102.5 807.0M101.9 809.4L101.4 808.1M101.4 808.1L102.5 807.0M100.4 814.4L101.9 809.4M103.0 816.3L103.8 816.0M103.8 816.0L106.2 813.3M103.5 805.5L103.2 805.8M103.2 805.8L102.5 807.0M107.2 807.9L106.4 808.5M42.3 758.1L42.7 756.0M42.7 756.0L40.7 755.1M42.3 758.1L42.3 758.1M43.7 753.3L42.7 756.0M41.5 752.1L40.7 755.1M65.2 784.8L62.5 782.4M60.9 785.0L62.5 782.4M58.1 779.4L60.0 782.3M60.0 782.3L62.5 782.2M62.5 782.4L62.5 782.2M51.1 787.1L53.0 785.6M51.1 787.1L47.6 784.5M47.9 783.9L47.6 784.5M50.4 788.7L51.1 787.1M55.5 788.2L56.0 787.0M53.0 785.6L56.0 787.0M57.5 786.7L57.1 786.4M59.6 793.9L60.1 793.7M56.0 787.0L57.1 786.4M60.9 785.0L57.1 786.3M57.1 786.4L57.1 786.3M42.2 780.7L43.6 779.9M42.2 780.7L42.3 782.7M43.2 783.7L45.4 782.3M43.6 779.9L45.4 782.3M43.8 779.5L43.6 779.9M38.3 785.9L42.3 782.7M48.9 782.9L49.0 781.8M47.9 783.9L45.4 782.3M47.6 784.5L47.2 785.1M47.6 792.8L47.1 788.8M41.1 791.9L43.7 789.5M43.7 789.5L47.1 788.8M47.1 788.8L47.2 788.7M50.8 802.9L49.6 802.9M50.8 802.9L54.7 804.6M49.6 802.9L51.2 807.5M54.7 804.6L54.7 806.3M54.7 806.3L54.4 807.2M54.4 807.2L52.9 808.8M52.9 808.8L51.2 807.5M53.3 800.1L50.8 802.9M49.2 802.8L49.6 802.9M55.5 803.6L54.7 804.6M55.5 802.0L55.0 800.2M52.8 809.3L52.9 808.8M45.9 808.8L47.1 807.1M47.1 807.1L51.2 807.5M46.9 802.2L43.4 804.0M46.9 802.2L48.7 803.0M43.4 804.0L47.3 805.3M45.2 800.3L46.9 802.2M41.1 804.1L43.4 804.0M49.2 802.8L48.7 803.0M47.1 807.1L47.3 805.3M129.1 799.4L129.9 802.0M134.4 796.5L132.0 802.4M132.0 802.4L129.9 802.0M136.8 805.7L134.0 804.4M136.9 805.6L137.7 803.0M134.0 804.4L135.0 803.0M135.0 803.0L137.7 803.0M150.1 797.3L146.6 798.3M150.1 797.3L149.9 797.7M149.9 797.7L146.9 800.4M146.6 798.3L146.1 799.9M146.1 799.9L146.3 800.2M146.3 800.2L146.9 800.4M146.5 797.5L146.6 798.3M148.4 801.3L146.9 800.4M141.9 802.8L143.0 800.3M141.9 802.8L141.8 804.5M122.9 779.6L126.2 778.8M122.9 779.6L125.8 783.7M125.8 783.7L126.0 783.6M127.6 773.5L129.0 774.6M127.6 773.5L125.4 773.7M126.0 778.4L125.4 773.7M124.9 784.4L125.8 783.7M135.7 754.2L138.4 753.9M138.4 753.9L136.8 756.4M135.2 754.0L135.7 754.2M135.2 754.0L135.8 750.8M135.8 750.8L138.8 753.8M132.1 758.2L136.0 757.7M132.1 758.2L131.8 757.4M136.8 756.4L136.7 757.0M136.0 757.7L136.7 757.0M127.6 773.5L128.9 768.8M132.1 774.9L130.1 768.8M128.9 768.8L130.1 768.8M133.7 768.7L131.7 768.3M131.7 768.3L130.1 768.8M122.0 758.3L119.5 755.5M119.5 755.5L116.4 758.5M117.3 759.6L116.4 758.5M120.0 765.5L117.5 766.3M121.2 764.7L122.5 760.6M122.5 760.6L121.9 760.0M117.5 766.3L116.0 765.7M116.0 765.7L117.3 759.6M130.9 754.3L124.6 754.6M131.5 755.7L125.7 756.3M124.6 754.6L125.7 756.3M131.8 757.4L126.0 757.9M131.6 755.8L131.5 755.7M126.0 757.9L125.7 756.3M122.5 760.6L124.9 760.7M124.9 760.7L126.0 757.9M123.9 754.2L124.6 754.6M123.9 754.2L122.0 758.3M120.0 752.9L116.3 751.4M120.0 752.9L114.7 756.2M114.7 756.2L114.7 754.7M125.4 773.7L122.9 773.1M123.7 769.6L122.5 771.9M124.1 769.3L128.3 768.4M128.3 768.4L128.9 768.8M122.5 771.9L122.9 773.1M107.4 789.3L107.2 787.7M103.2 792.9L103.0 791.6M107.5 792.4L109.0 790.5M103.0 791.6L107.4 789.3M109.9 794.9L110.5 795.9M111.7 795.8L110.5 795.9M108.6 793.7L109.7 794.1M104.9 797.0L109.9 794.9M112.4 796.2L111.7 795.8M118.0 788.5L118.0 788.5M98.4 763.9L97.1 770.2M98.4 763.9L101.8 769.6M101.8 769.6L101.9 769.9M62.1 770.7L61.9 765.4M63.8 770.9L64.4 770.2M64.4 770.2L63.1 765.2M63.1 765.2L61.9 765.4M59.9 765.1L60.8 765.3M60.8 765.3L60.9 765.4M55.5 750.3L60.1 753.8M73.7 756.1L73.5 753.1M73.5 753.1L76.6 753.2M77.6 754.1L76.6 753.2M72.7 751.5L73.5 753.1M70.9 755.6L71.3 756.1M72.7 750.6L72.7 751.5M76.0 749.9L76.6 753.2M77.8 754.2L80.5 751.2M71.3 756.1L67.6 758.1M67.6 758.1L66.3 756.1M67.1 754.4L66.3 756.1M70.7 753.2L67.3 753.2M67.1 754.4L67.3 753.2M67.1 752.3L67.1 752.5M67.3 753.2L67.1 752.5M71.8 780.3L75.1 779.5M71.8 780.3L71.0 778.3M75.1 779.5L73.1 778.0M72.1 777.8L71.0 778.3M76.4 780.0L75.1 779.5M70.4 774.7L72.9 773.2M70.4 774.7L72.1 777.8M72.9 773.2L73.3 773.7M73.3 773.7L73.1 778.0M68.6 774.9L70.4 774.7M84.2 779.0L78.6 781.3M84.2 779.0L83.7 777.7M77.4 780.0L78.1 777.4M78.1 777.4L83.7 777.7M64.4 770.2L64.4 770.2M64.4 770.2L67.9 766.7M67.1 765.6L67.9 766.7M77.3 757.2L78.2 755.2M81.3 756.5L81.5 758.7M81.5 758.7L81.1 759.7M81.0 759.7L81.1 759.7M74.0 759.1L73.3 757.0M74.0 759.1L77.3 757.2M83.4 753.2L81.3 756.5M83.8 776.6L83.7 776.8M83.7 777.7L83.7 776.8M95.1 791.5L94.9 791.7M95.1 791.5L96.6 786.6M93.2 784.0L94.3 784.0M96.6 786.6L94.3 784.0M96.2 763.9L93.3 770.0M96.6 771.0L93.3 770.0M96.4 849.0L99.7 847.5M96.4 849.0L95.3 847.6M97.3 845.8L95.3 847.6M97.3 845.8L98.2 845.7M98.2 845.7L99.7 847.5M143.0 817.0L140.5 820.0M140.5 820.0L142.3 820.1M142.3 820.1L142.6 819.9M145.2 817.3L143.9 817.3M142.4 816.2L143.0 817.0M145.4 819.5L142.6 819.9M145.0 823.1L142.3 820.1M87.2 849.9L91.2 846.9M93.2 848.6L94.2 847.5M93.9 835.6L94.6 837.2M93.9 835.6L91.1 837.0M94.6 837.2L91.2 838.1M91.2 838.1L91.1 837.0M88.4 844.1L86.9 848.2M88.4 844.1L84.8 843.7M86.9 848.2L86.2 847.7M86.2 847.7L83.4 845.2M84.8 843.7L83.4 845.2M52.1 824.4L50.4 822.1M52.1 824.4L53.3 824.3M50.4 822.1L54.8 822.6M53.3 824.3L54.8 822.8M54.8 822.8L54.8 822.6M52.0 825.2L52.1 824.4M55.0 826.1L53.3 824.3M54.9 822.5L54.8 822.6M55.0 826.1L56.0 825.4M56.0 825.4L54.8 822.8M98.3 796.1L97.8 798.6M98.3 796.1L102.9 795.0M104.9 800.0L100.2 801.9M97.8 798.6L100.2 801.9M94.5 793.3L98.3 796.1M97.8 798.6L95.0 800.3M103.2 805.8L100.0 802.2M100.2 801.9L100.0 802.2M83.9 796.4L82.7 794.5M82.7 794.5L79.9 795.4M79.9 795.4L79.3 796.0M80.1 791.0L79.9 795.4M69.9 799.9L70.1 800.0M70.1 800.0L70.2 800.2M66.2 805.1L66.7 805.3M70.2 800.2L66.7 805.3M73.1 796.6L76.7 796.2M73.1 796.6L71.2 799.3M76.7 796.2L77.3 797.0M77.3 797.0L77.4 797.9M71.3 794.6L73.1 796.6M76.4 795.4L76.7 796.2M70.1 800.0L71.2 799.3M79.3 796.0L77.3 797.0M81.9 801.1L77.7 799.3M77.7 799.3L77.4 797.9M60.1 799.0L61.4 800.2M61.4 800.2L59.1 802.4M59.5 798.8L58.6 801.1M58.6 801.1L59.1 802.4M61.1 798.4L60.1 799.0M62.5 800.9L61.4 800.2M57.3 796.0L59.5 798.8M55.5 802.0L58.6 801.1M80.7 808.1L78.7 809.4M80.7 808.1L83.7 809.0M81.2 812.4L78.6 809.5M78.6 809.5L78.7 809.4M83.7 809.0L84.4 809.7M83.7 805.6L83.7 809.0M81.2 803.8L80.3 806.3M80.3 806.3L80.7 808.1M85.0 814.3L81.1 816.0M80.3 815.0L81.1 816.0M80.3 815.0L81.2 812.4M80.3 815.0L79.6 814.7M72.8 809.4L74.4 807.5M72.8 809.4L73.0 811.8M74.4 807.5L77.3 810.7M73.0 811.8L75.0 812.0M75.0 812.0L77.3 810.7M75.5 805.8L74.4 807.5M75.5 805.8L78.7 809.4M77.7 810.5L77.3 810.7M64.7 809.2L67.7 810.7M67.3 806.4L67.5 806.7M68.0 809.9L67.7 810.7M68.2 813.3L67.7 810.7M68.2 813.3L67.4 814.3M66.7 805.3L67.0 805.7M70.9 806.8L70.7 807.3M70.9 806.8L70.4 804.3M70.7 807.3L67.5 806.7M70.4 804.3L67.0 805.7M71.3 808.4L70.7 807.3M71.3 808.4L68.0 809.9M68.2 813.3L71.7 812.5M73.0 811.8L72.8 812.1M71.7 812.5L72.8 812.1M60.7 817.9L64.4 819.1M60.2 818.4L60.3 821.3M64.4 819.1L60.3 821.3M56.4 819.9L60.0 822.4M60.0 822.4L60.1 823.4M60.0 822.4L60.3 821.3M53.5 829.3L57.0 830.8M57.4 834.5L57.9 832.1M57.8 832.1L57.9 832.1M60.1 823.4L60.2 823.6M60.2 823.6L65.1 823.8M65.5 823.6L65.1 823.8M58.3 848.4L63.9 847.3M62.4 844.5L62.5 844.5M65.3 847.9L63.9 847.3M112.6 809.9L112.2 811.7M116.0 811.1L114.8 809.2M114.4 812.7L112.2 811.7M108.9 807.7L109.7 812.1M112.2 811.7L109.7 812.1M106.2 813.3L109.0 813.0M119.8 801.0L118.8 805.1M57.3 783.4L56.4 780.2M57.1 785.5L53.4 782.2M56.4 780.2L54.5 780.1M60.0 782.3L57.3 783.4M57.1 786.3L57.1 785.5M57.2 779.3L56.4 780.2M43.5 784.5L40.5 785.9M43.5 784.5L44.2 785.1M38.3 785.9L40.5 785.9M43.2 783.7L43.5 784.5M47.2 785.1L44.2 785.1M43.7 789.5L43.2 786.9M129.1 803.2L129.7 802.2M129.1 803.2L129.1 803.5M129.7 802.2L131.1 804.2M129.1 803.5L129.4 804.0M129.9 802.0L129.7 802.2M132.0 802.4L133.6 804.5M133.4 804.9L133.6 804.5M126.0 806.6L126.6 807.3M126.0 806.6L129.1 803.5M126.6 807.3L130.1 807.4M130.1 807.4L129.4 804.0M130.1 807.4L131.9 808.1M138.5 802.7L138.2 802.7M138.2 802.7L135.3 798.6M139.2 798.1L139.4 799.5M139.2 798.1L138.0 796.7M138.0 796.7L135.1 796.8M135.1 796.8L135.3 798.6M140.3 804.0L138.5 802.7M137.7 803.0L138.2 802.7M135.0 803.0L135.3 798.6M139.8 798.4L139.2 798.1M140.6 794.4L138.0 796.7M134.0 804.4L133.6 804.5M141.2 748.1L141.0 748.3M144.2 745.6L144.5 748.5M143.8 748.9L144.5 748.5M140.8 751.1L140.0 749.4M140.8 751.1L142.9 750.4M141.0 748.3L140.1 749.3M143.8 748.9L142.9 750.4M139.6 756.7L138.7 760.2M138.7 760.2L138.2 759.7M138.8 753.8L140.7 753.8M140.6 755.6L139.6 756.7M136.7 757.0L137.9 756.9M140.7 761.6L139.0 761.0M139.0 761.0L138.7 760.2M136.0 757.7L138.2 759.7M139.0 761.0L135.7 762.5M132.1 758.2L132.0 759.3M132.0 759.3L135.7 762.5M133.7 768.7L134.2 764.5M135.7 763.0L134.2 764.5M131.6 765.4L133.7 764.5M124.2 765.5L128.1 767.6M115.5 745.6L112.5 745.8M115.5 745.6L115.2 742.8M112.5 745.8L112.5 742.0M115.2 742.8L112.5 742.0M105.2 742.8L104.2 742.3M105.2 742.8L109.9 742.8M141.2 748.1L140.3 744.3M144.6 744.5L144.2 745.6M144.6 744.5L141.3 743.4M141.3 743.4L140.3 744.3M140.1 749.3L139.4 744.8M140.3 744.3L139.4 744.8M129.0 746.7L129.7 746.1M129.7 746.1L130.4 744.0M126.0 743.3L123.6 744.7M134.8 744.8L134.8 744.5M134.8 744.8L133.2 746.9M134.8 744.5L134.1 743.8M129.7 746.1L130.6 746.4M133.2 746.9L130.6 746.4M110.8 740.1L112.5 742.0M120.9 741.0L118.7 745.1M115.5 745.6L115.6 745.7M123.8 751.2L122.9 752.0M123.8 751.2L123.9 746.5M123.9 746.5L123.6 746.0M123.6 746.0L120.0 746.5M120.2 748.8L120.0 746.5M120.2 748.8L122.5 751.9M123.9 754.2L122.9 752.0M130.8 753.4L125.3 750.8M125.3 750.8L123.8 751.2M125.3 750.8L128.9 747.5M128.9 747.5L129.0 746.7M118.7 745.1L120.0 746.5M120.2 752.9L122.5 751.9M120.2 752.9L119.5 755.5M116.0 765.7L115.3 765.9M115.3 765.9L112.0 763.8M116.4 758.5L116.0 758.2M112.0 763.8L112.1 762.0M102.1 759.0L105.1 760.1M98.3 763.6L101.9 764.0M101.9 764.0L104.8 762.7M117.5 766.3L119.3 770.5M119.3 770.5L119.5 770.7M126.0 778.4L122.8 775.9M122.9 773.1L122.4 774.2M122.8 775.9L122.4 774.2M122.9 779.6L122.4 779.6M122.8 775.9L122.4 779.6M114.6 756.7L114.6 756.8M114.6 756.8L111.6 760.4M111.6 760.4L110.9 759.9M120.0 752.9L120.2 752.9M114.7 756.2L114.6 756.7M112.1 762.0L111.6 760.4M108.9 755.2L107.8 755.5M110.5 759.8L107.7 757.1M107.8 755.5L107.7 757.1M75.0 761.4L81.0 759.7M75.0 761.4L75.8 762.4M81.5 758.7L85.6 757.7M84.9 753.9L86.3 757.1M63.1 761.3L60.6 761.5M63.1 761.3L61.5 759.0M60.6 761.5L58.7 760.0M64.0 761.7L63.1 761.3M64.0 761.7L63.9 764.7M60.8 765.3L60.6 761.5M62.3 757.3L61.6 758.9M62.3 757.3L64.3 757.6M61.6 758.9L63.9 758.7M64.3 757.6L63.9 758.7M64.0 761.7L64.5 761.2M64.5 761.2L63.9 758.7M61.5 759.0L61.6 758.9M67.9 759.8L64.5 761.2M66.2 756.1L64.3 757.6M60.6 753.7L60.9 753.7M66.2 756.1L60.9 753.7M56.7 747.2L61.1 751.1M62.3 744.4L62.4 749.7M72.2 768.5L71.5 767.6M72.2 768.5L68.6 771.6M71.5 767.6L68.2 766.9M68.2 766.9L67.7 770.7M68.6 771.6L68.3 771.7M68.3 771.7L68.3 771.7M72.9 772.6L73.6 769.4M73.6 769.4L72.2 768.5M64.4 770.2L67.7 770.7M67.9 766.7L68.2 766.9M64.8 772.5L68.3 771.7M68.6 774.9L68.3 771.7M72.8 763.5L72.4 764.2M72.8 763.5L74.1 761.0M72.4 764.2L68.3 763.4M74.1 761.0L73.8 760.5M73.8 760.5L68.8 760.5M73.6 769.4L75.3 769.1M75.2 766.3L75.3 769.1M75.2 766.3L72.8 763.5M71.5 767.6L72.4 764.2M75.0 761.4L74.1 761.0M75.8 762.4L75.2 766.3M67.1 765.6L68.3 763.4M67.9 759.8L68.8 760.5M92.4 782.6L95.7 776.7M94.3 784.0L97.8 782.0M98.9 778.8L95.7 776.7M98.9 778.8L98.7 780.4M95.1 776.4L95.5 776.5M95.1 776.4L91.8 774.1M95.9 774.5L93.0 772.3M95.7 776.7L95.5 776.5M96.6 771.0L97.0 772.3M95.4 843.5L96.1 844.8M96.1 844.8L93.7 846.0M93.1 845.3L93.7 846.0M94.0 841.5L93.0 841.7M95.4 843.3L95.4 843.5M91.7 844.5L91.5 844.2M91.5 844.2L93.0 841.7M97.3 845.8L96.1 844.8M91.2 846.9L91.7 844.5M101.6 842.6L98.6 844.6M98.6 844.6L97.6 843.0M98.1 841.0L97.6 843.0M98.2 845.7L98.6 844.6M95.4 843.3L97.6 843.0M94.6 841.6L97.1 839.6M97.1 839.6L97.5 840.0M97.5 840.0L98.1 841.0M96.9 838.3L98.2 837.4M96.9 838.3L96.3 837.9M96.3 837.9L96.2 832.8M96.2 832.8L97.8 833.1M98.2 837.4L97.8 833.1M107.4 817.9L107.4 820.5M107.4 817.9L111.1 817.3M107.4 820.5L111.6 818.8M111.1 817.3L111.1 817.3M111.1 817.3L111.7 818.3M111.7 818.3L111.6 818.8M102.5 820.9L102.7 821.1M103.8 816.0L107.4 817.9M104.1 821.4L107.2 821.1M107.2 821.1L107.4 820.5M109.0 813.0L111.1 817.3M114.6 813.5L114.4 812.7M114.6 813.5L111.1 817.3M113.4 818.5L111.7 818.3M115.2 814.2L114.6 813.5M115.9 816.6L118.8 821.5M113.8 818.6L118.0 821.9M118.0 821.9L118.8 821.5M119.8 815.5L116.5 815.3M119.9 819.8L119.2 821.3M118.9 821.5L118.8 821.5M108.2 826.4L108.2 826.1M108.2 826.4L108.4 826.5M108.6 822.5L111.2 821.1M111.2 821.1L113.4 824.0M102.7 821.1L103.4 825.6M103.4 825.6L104.6 826.9M107.2 821.1L108.6 822.5M111.6 818.8L111.2 821.1M109.9 829.5L113.9 827.4M109.9 829.5L108.4 826.5M128.9 847.0L127.7 849.9M134.1 838.7L128.9 840.4M128.6 844.2L128.4 841.3M131.8 821.7L129.3 824.1M131.8 821.7L132.2 824.3M129.7 825.9L129.6 825.9M129.6 825.9L129.3 824.1M131.9 821.2L131.8 821.7M129.0 820.4L128.7 822.9M128.7 822.9L129.3 824.1M134.3 824.6L132.9 824.5M134.4 824.5L134.3 824.6M132.2 824.3L132.9 824.5M95.9 837.8L95.0 837.4M95.9 837.8L93.8 839.6M95.0 837.4L93.4 839.0M93.8 839.6L93.4 839.0M96.3 837.9L95.9 837.8M93.9 835.6L93.7 831.9M96.2 832.8L95.1 832.2M94.6 837.2L95.0 837.4M95.1 832.2L93.7 831.9M94.0 841.5L93.8 839.6M91.1 838.5L93.4 839.0M90.6 839.3L93.0 841.7M87.2 849.9L86.9 848.2M91.5 844.2L89.1 843.9M88.4 844.1L89.1 843.9M90.6 839.3L90.5 839.3M89.1 843.9L90.5 839.3M90.0 833.1L91.2 832.3M91.2 832.3L93.7 831.9M98.2 828.9L95.1 832.2M98.2 828.9L97.8 828.5M97.8 828.5L96.0 827.8M96.0 827.8L93.8 831.3M93.7 831.9L93.8 831.3M84.9 833.2L87.0 832.5M84.9 833.2L82.4 832.4M87.0 832.5L87.0 829.4M87.0 829.4L85.5 828.1M82.4 832.4L82.4 832.4M85.5 828.1L82.4 832.4M94.2 804.3L95.0 801.2M94.2 804.3L95.1 804.7M95.0 801.2L99.4 802.9M95.1 804.7L98.4 804.5M98.4 804.5L99.4 802.9M94.1 804.3L94.2 804.3M95.0 800.3L95.0 801.2M95.8 807.3L95.1 804.7M100.0 802.2L99.4 802.9M99.9 807.5L98.4 804.5M71.4 802.7L71.1 801.3M71.1 801.3L76.5 801.1M76.5 801.1L76.4 804.1M73.7 804.8L75.5 805.6M76.4 804.1L75.9 805.2M75.9 805.2L75.5 805.6M70.2 800.2L71.1 801.3M70.4 804.3L71.4 802.7M77.7 799.3L76.5 801.1M81.2 803.8L76.4 804.1M75.5 805.8L75.5 805.6M80.3 806.3L75.9 805.2M71.7 812.5L71.9 818.3M72.8 812.1L74.1 816.2M74.1 816.2L71.9 818.3M70.6 819.4L66.7 815.8M70.6 819.4L71.4 819.1M71.4 819.1L71.9 818.3M61.7 828.9L59.2 825.6M61.7 828.9L63.6 828.4M63.6 828.4L63.6 827.9M63.6 827.9L60.1 824.0M60.1 824.0L59.2 825.4M59.2 825.4L59.2 825.6M60.4 831.9L57.9 832.1M57.0 830.8L59.2 825.6M60.2 823.6L60.1 824.0M66.4 843.0L67.8 843.5M66.4 843.0L64.4 841.6M64.4 841.6L64.7 837.6M62.5 844.5L66.4 843.0M65.3 847.9L67.9 844.1M61.5 841.9L64.4 841.6M62.6 837.2L63.4 836.7M63.4 836.7L64.7 837.6M70.5 838.8L68.7 837.4M70.5 838.8L71.0 839.3M68.7 837.4L67.3 838.3M71.0 839.3L71.2 841.4M71.2 841.4L67.8 843.4M126.0 810.2L126.2 809.8M126.2 809.8L133.1 810.9M127.7 812.2L133.3 811.2M133.3 811.2L133.1 810.9M125.7 815.1L122.2 812.2M126.7 814.9L127.7 812.2M126.6 807.3L126.2 809.8M131.9 808.1L133.1 810.9M133.9 811.8L133.3 811.2M126.0 806.6L125.7 806.4M124.2 802.7L124.5 805.0M125.7 806.4L124.5 805.0M144.9 748.9L149.7 750.9M149.1 751.6L145.4 751.9M149.1 751.6L149.7 750.9M145.4 751.9L144.2 750.7M144.5 748.5L144.9 748.9M142.9 750.4L144.2 750.7M142.9 753.8L145.4 751.9M147.5 755.6L149.1 751.6M131.6 765.4L131.0 764.0M128.1 767.6L128.1 767.3M131.0 764.0L130.7 762.8M130.7 762.8L130.1 761.4M116.3 751.4L116.1 750.8M120.2 748.8L116.1 749.2M116.1 750.8L116.1 749.2M115.6 745.7L116.0 749.2M116.1 749.2L116.0 749.2M132.9 749.2L134.2 748.8M132.9 749.2L130.9 750.7M130.9 753.0L135.8 750.5M134.2 748.8L136.0 749.4M133.2 746.9L134.2 748.8M130.6 746.4L132.9 749.2M136.5 749.1L134.8 744.8M140.0 749.4L137.3 748.8M137.3 748.8L136.5 749.1M135.4 744.4L136.8 744.1M137.4 748.1L138.0 745.0M137.3 748.8L137.4 748.1M134.8 744.5L135.4 744.4M139.4 744.8L138.0 745.0M107.6 757.4L108.8 761.4M106.0 759.6L108.1 762.6M108.8 761.4L108.7 762.5M108.1 762.6L108.7 762.5M110.5 759.8L108.8 761.4M107.7 757.1L107.6 757.4M107.0 755.1L107.8 755.5M105.1 760.1L106.0 759.6M104.8 762.7L106.6 763.3M112.0 763.8L110.9 763.9M110.9 763.9L108.7 762.5M104.1 767.5L104.4 766.2M104.4 766.2L106.6 766.2M105.5 768.7L105.0 768.5M105.5 768.7L107.6 767.9M106.6 766.2L107.6 767.0M107.6 767.9L107.6 767.0M101.8 769.6L104.1 767.5M101.9 769.9L102.2 770.6M102.2 770.6L105.0 768.5M101.9 764.0L104.4 766.2M106.6 763.3L106.6 766.2M110.9 763.9L109.0 766.1M109.0 766.1L107.6 767.0M115.3 765.9L114.6 767.1M119.3 770.5L118.8 770.9M118.8 770.9L115.1 772.1M118.5 773.7L117.6 773.0M115.1 772.1L114.8 772.7M119.0 776.1L117.6 777.4M115.8 773.8L117.5 777.4M117.5 777.4L117.6 777.4M102.2 770.6L102.4 771.5M101.2 772.9L102.4 771.5M105.5 768.7L104.5 771.9M75.3 769.1L79.3 769.2M79.3 769.2L80.0 768.9M73.3 773.7L77.5 775.4M79.3 769.2L77.5 775.4M78.1 777.4L78.1 777.3M77.5 775.4L78.1 777.3M83.8 776.6L82.7 774.3M82.7 774.3L79.8 776.4M79.8 776.4L78.1 777.3M82.7 774.3L83.2 772.7M80.0 768.9L83.1 772.0M83.2 772.7L83.1 772.0M95.1 791.5L100.6 789.4M103.0 791.6L102.1 790.0M100.6 789.4L102.1 790.0M105.8 831.8L106.6 826.7M105.8 831.8L104.8 831.7M103.5 829.1L104.6 826.9M103.5 829.1L104.0 830.9M104.8 831.7L104.0 830.9M103.4 825.6L101.1 826.1M97.8 828.5L97.9 826.8M98.7 829.0L100.0 829.7M98.7 829.0L99.2 827.1M99.2 827.1L99.3 827.0M100.0 829.7L100.9 829.2M100.9 829.2L100.8 827.8M98.2 828.9L98.7 829.0M99.8 832.4L98.7 833.0M99.8 832.4L100.0 829.7M101.1 826.1L100.8 827.8M104.0 830.9L100.8 832.7M99.8 832.4L100.8 832.7M129.2 833.2L128.2 831.6M129.2 833.2L128.7 833.7M128.7 833.7L122.3 832.8M128.2 831.6L123.2 830.8M123.2 830.8L122.3 832.8M130.8 833.1L129.2 833.2M128.0 830.9L127.7 826.8M128.0 830.9L128.2 831.6M127.7 826.8L129.6 825.9M127.5 835.9L128.7 833.7M128.0 830.9L123.2 828.6M123.2 828.6L123.2 830.8M123.6 837.6L120.3 834.2M126.4 836.2L122.1 833.0M122.1 833.0L120.6 833.8M120.6 833.8L120.3 834.2M128.4 841.3L123.2 840.1M127.5 835.9L126.4 836.2M124.5 826.3L125.3 826.0M125.3 826.0L125.4 823.3M123.8 827.0L124.5 826.3M119.2 821.3L119.8 821.6M128.7 822.9L125.4 823.3M86.2 847.7L80.0 847.3M83.4 845.2L83.2 845.1M83.2 845.1L80.0 846.9M80.0 846.9L80.0 847.3M67.9 844.1L72.9 847.6M72.7 850.7L72.9 847.6M72.7 850.7L80.0 847.5M80.0 847.5L80.0 847.3M74.2 842.7L73.0 847.4M74.2 842.7L74.0 842.2M74.0 842.2L71.2 841.4M72.9 847.6L73.0 847.4M78.0 842.1L81.1 841.6M78.0 842.1L77.3 843.3M81.1 841.6L79.1 846.1M79.1 846.1L78.6 845.9M74.2 842.7L77.3 843.3M74.0 842.2L75.5 839.0M77.3 840.0L75.5 839.0M77.3 840.0L78.0 842.1M73.0 847.4L78.6 845.9M83.2 845.1L81.5 841.3M81.5 841.3L81.1 841.6M80.0 846.9L79.1 846.1M89.3 827.3L89.3 828.3M89.3 827.3L92.9 826.4M92.9 827.7L89.7 828.7M92.9 827.7L93.0 826.4M89.7 828.7L89.3 828.3M92.0 824.9L88.7 826.5M88.7 826.5L89.3 827.3M91.2 832.3L89.7 828.7M93.8 831.3L92.9 827.7M87.0 832.5L90.0 833.1M87.0 829.4L89.3 828.3M85.5 828.1L85.3 826.5M85.3 826.5L85.3 826.4M75.0 812.0L77.1 814.7M74.1 816.2L74.9 816.3M74.9 816.3L77.1 814.7M79.6 814.7L77.3 814.8M77.3 814.8L77.1 814.7M70.6 819.4L66.3 823.8M70.6 819.4L72.5 824.0M72.5 824.0L66.9 824.5M70.6 819.4L70.6 819.4M65.5 823.6L66.3 823.8M68.0 827.3L66.9 824.5M73.1 824.6L73.3 826.1M73.1 824.6L72.5 824.0M60.4 831.9L63.1 833.5M63.1 833.5L63.5 835.5M70.5 838.8L71.9 836.9M74.8 837.1L71.0 839.3M74.8 837.1L74.2 836.6M68.7 837.4L69.0 836.7M71.9 836.9L69.0 836.7M69.2 834.0L63.5 835.5M69.2 834.0L69.4 834.1M63.6 828.4L65.3 829.6M67.8 828.5L67.1 829.2M65.3 829.6L67.1 829.2M65.3 829.6L63.6 833.0M118.8 805.1L119.2 807.0M124.5 805.0L123.5 805.6M123.5 805.6L119.2 807.0M118.9 807.9L119.2 807.0M127.5 762.2L127.9 766.6M127.9 766.6L124.8 764.9M126.8 762.0L124.8 764.9M130.1 761.4L127.5 762.2M128.1 767.3L127.9 766.6M124.9 760.7L126.8 762.0M124.2 765.5L124.8 764.9M113.2 768.1L110.6 767.7M114.6 767.1L113.2 768.1M114.7 772.7L114.8 772.7M108.2 770.9L108.5 770.0M108.2 770.9L104.7 771.9M107.6 767.9L108.4 769.8M104.7 771.9L104.5 771.9M109.0 766.1L110.6 767.7M104.7 771.9L105.7 774.6M105.7 774.6L108.9 772.2M122.4 779.6L120.4 780.6M117.6 777.4L118.2 778.8M118.2 778.8L120.4 780.6M104.7 782.9L104.3 781.8M104.7 782.9L103.1 784.3M101.7 782.6L102.9 784.2M101.7 782.6L103.0 781.3M103.0 781.3L104.3 781.8M107.2 787.7L106.5 786.9M104.1 786.8L102.1 790.0M104.1 786.8L105.2 786.7M105.2 786.7L106.2 784.0M104.7 782.9L105.2 782.9M99.2 784.4L100.3 785.1M99.2 784.4L97.7 786.7M100.3 785.1L100.2 788.8M97.7 786.7L100.2 788.8M98.7 780.4L101.7 782.6M97.8 782.0L99.2 784.4M102.9 784.2L100.3 785.1M100.6 789.4L100.2 788.8M100.8 832.7L102.0 834.3M101.4 837.0L102.0 834.3M104.8 831.7L103.9 833.9M103.9 833.9L102.0 834.3M123.1 828.2L122.1 828.2M119.8 851.5L119.3 846.0M119.3 846.0L120.2 844.9M120.2 844.9L123.7 846.2M128.6 844.2L125.5 844.0M125.5 844.0L123.7 846.2M90.4 821.3L91.0 818.6M89.5 821.6L86.4 819.7M91.0 818.6L86.2 817.5M86.4 819.7L85.9 818.1M86.2 817.5L85.9 818.1M88.2 825.9L89.2 822.0M91.3 818.0L91.0 818.6M86.4 816.4L86.2 817.5M81.1 816.0L81.1 817.5M81.1 817.5L85.8 818.1M74.8 837.1L75.0 837.2M75.5 839.0L75.2 837.4M75.0 837.2L75.2 837.4M81.9 832.1L78.5 835.0M76.4 832.7L76.3 834.9M76.3 834.9L78.5 835.0M81.5 841.3L81.8 840.7M77.3 840.0L79.4 839.5M79.4 839.5L81.8 840.7M84.8 843.7L84.5 840.2M84.5 840.2L82.1 840.4M81.8 840.7L82.1 840.4M85.7 836.7L86.4 838.3M85.7 836.7L82.9 836.7M82.9 836.7L85.3 839.8M86.4 838.3L86.5 838.9M86.5 838.9L85.9 839.6M84.9 833.2L85.7 836.7M89.9 834.4L86.4 838.3M82.4 832.4L82.3 836.5M82.3 836.5L82.9 836.7M82.3 836.5L81.6 837.6M84.5 840.2L85.3 839.8M81.6 837.6L82.1 840.4M90.5 839.3L86.5 838.9M88.4 844.1L85.9 839.6M73.1 829.1L73.6 826.4M73.6 826.4L74.9 826.5M74.9 826.5L75.8 827.1M78.1 827.3L75.8 827.1M73.3 826.1L73.6 826.4M67.8 828.5L71.1 830.3M73.1 829.1L72.9 829.4M69.1 833.9L67.7 831.8M67.7 831.8L64.6 832.9M69.2 834.0L69.1 833.9M63.6 833.0L64.6 832.9M67.1 829.2L67.7 831.8M123.4 808.7L122.5 807.9M123.4 808.7L122.1 812.2M122.5 807.9L119.2 809.7M121.2 812.3L119.3 810.2M121.2 812.3L122.1 812.2M119.3 810.2L119.2 809.7M122.2 812.2L122.1 812.2M118.9 807.9L119.2 809.7M119.8 815.5L121.2 812.3M116.0 811.1L119.3 810.2M116.1 750.8L112.5 751.4M116.0 749.2L112.9 749.3M112.9 749.3L112.5 751.4M112.5 751.4L112.0 751.8M108.9 755.2L111.2 751.9M112.0 751.8L111.2 751.9M112.3 745.9L112.1 748.2M112.3 745.9L110.6 745.5M110.6 745.5L108.8 746.5M111.3 749.0L107.7 748.7M108.8 746.5L107.6 748.6M112.5 745.8L112.3 745.9M112.9 749.3L112.1 748.2M105.2 742.8L108.8 746.5M111.1 751.7L111.3 749.0M111.1 751.7L107.7 748.7M105.2 749.8L107.6 748.6M120.7 782.9L120.6 782.5M120.6 782.5L114.8 782.6M120.1 783.3L115.0 785.0M122.9 784.8L120.7 782.9M118.0 788.5L120.1 783.3M120.4 780.6L120.6 782.5M118.2 778.8L114.8 782.6M104.1 779.5L102.4 779.6M102.4 779.6L99.2 778.6M101.2 772.9L101.3 776.1M105.7 774.6L106.0 776.3M106.0 776.3L105.4 776.6M104.6 780.1L104.3 781.8M104.6 780.1L104.1 779.5M103.0 781.3L102.4 779.6M98.9 778.8L99.2 778.6M117.5 777.4L113.3 777.7M104.6 780.1L108.4 780.4M112.2 847.5L113.9 845.8M116.4 849.3L113.9 845.8M111.4 848.1L112.2 847.5M119.3 846.0L114.5 845.1M114.5 845.1L113.9 845.8M123.2 840.1L121.8 841.2M121.8 841.2L118.6 835.0M120.2 844.9L120.5 843.8M125.5 844.0L121.4 842.5M120.5 843.8L121.4 842.5M121.8 841.2L121.6 841.6M121.6 841.6L121.4 842.5M102.4 849.2L103.2 845.9M107.2 845.5L103.2 845.9M101.6 842.6L103.0 842.5M103.0 842.5L103.0 842.5M103.2 845.9L103.0 842.5M101.8 839.2L101.5 837.1M102.4 840.4L106.1 836.9M101.5 837.1L105.6 836.5M97.5 840.0L101.8 839.2M101.4 837.0L101.5 837.1M103.0 842.5L107.0 841.6M103.9 833.9L105.6 836.5M84.5 822.9L85.5 822.0M84.5 822.9L87.0 822.9M85.5 822.0L87.6 822.5M87.0 822.9L87.6 822.5M84.9 825.0L87.0 822.9M84.9 825.0L83.7 823.8M83.7 823.8L83.9 823.3M83.9 823.3L84.5 822.9M84.9 825.0L85.3 826.4M89.2 822.0L87.6 822.5M79.6 823.1L80.6 819.1M79.6 823.1L75.9 822.1M75.9 822.1L75.2 820.0M80.6 818.9L80.6 819.1M76.8 818.5L76.6 818.6M73.1 824.6L75.9 822.1M71.4 819.1L75.2 820.0M85.8 818.1L83.2 820.3M74.9 816.3L76.6 818.6M83.3 820.4L83.9 822.2M83.3 820.4L85.3 820.5M83.9 822.2L85.3 821.0M85.3 820.5L85.3 821.0M86.4 819.7L85.3 820.5M83.2 820.3L83.3 820.4M85.5 822.0L85.3 821.0M83.3 823.8L82.1 827.5M79.8 823.3L80.0 825.6M80.0 825.6L81.6 827.6M81.6 827.6L82.1 827.5M83.7 823.8L83.3 823.8M85.3 826.5L82.1 827.5M78.1 827.3L80.0 825.6M81.9 832.1L82.3 832.3M82.4 832.4L82.3 832.3M79.1 836.1L77.8 837.4M79.1 836.1L79.9 836.3M80.2 837.1L79.0 838.0M75.0 837.2L76.3 834.9M75.2 837.4L77.8 837.4M78.5 835.0L79.1 836.1M82.3 832.3L79.9 836.3M81.6 837.6L80.2 837.1M79.4 839.5L79.0 838.0M76.4 832.7L74.8 832.5M72.9 829.4L73.4 830.8M72.8 835.0L69.8 833.9M73.6 833.1L72.7 832.5M72.7 832.5L70.6 832.5M69.8 833.9L70.6 832.5M74.2 836.6L72.8 835.0M69.4 834.1L69.8 833.9M74.8 832.5L73.6 833.1M73.4 830.8L72.7 832.5M71.1 830.3L70.6 832.5M106.0 776.3L107.4 776.8M121.6 841.6L116.9 838.4M120.5 843.8L115.1 840.2M116.9 838.4L115.1 840.2M113.9 842.9L114.4 840.5M113.9 842.9L109.2 843.1M114.4 840.5L111.6 838.5M107.9 842.2L107.7 841.9M114.5 845.1L113.9 842.9M107.2 845.5L107.9 842.2M107.0 841.6L107.7 841.9M111.3 837.1L115.8 835.0M115.8 835.0L111.4 831.9M110.1 831.8L111.4 831.9M111.6 838.5L111.3 837.1M114.9 830.8L111.4 831.9M105.8 831.8L109.5 832.6M109.9 829.5L110.1 831.8" stroke="#ac4cbe" stroke-width="0.95" fill="none" stroke-linecap="round" stroke-linejoin="round"/>
<path d="M45.9 808.8h.01M45.3 842.7h.01M120.1 817.0h.01M62.4 794.8h.01M53.3 761.7h.01M46.3 795.1h.01M141.0 769.3h.01M142.1 769.3h.01M143.0 774.2h.01M132.4 775.0h.01M61.4 775.5h.01M95.1 791.5h.01M78.5 790.5h.01M100.4 814.4h.01M102.5 820.9h.01M103.0 816.3h.01M46.2 768.9h.01M64.7 780.2h.01M62.9 776.4h.01M60.8 775.1h.01M140.7 761.6h.01M141.6 763.3h.01M143.3 768.4h.01M142.5 763.8h.01M143.7 763.5h.01M141.9 802.8h.01M140.6 794.4h.01M124.9 784.4h.01M134.7 791.1h.01M138.9 789.2h.01M139.9 790.8h.01M139.0 761.0h.01M138.8 767.7h.01M139.4 765.3h.01M144.3 805.0h.01M56.7 765.1h.01M55.1 762.4h.01M50.6 767.3h.01M65.9 775.4h.01M64.8 772.5h.01M68.6 781.5h.01M83.8 776.6h.01M54.2 754.0h.01M49.6 754.9h.01M50.6 749.9h.01M55.2 750.5h.01M49.4 748.4h.01M58.3 760.4h.01M67.4 748.6h.01M73.4 749.5h.01M78.5 790.2h.01M68.8 792.4h.01M72.4 788.3h.01M75.4 790.9h.01M144.1 839.5h.01M141.4 835.4h.01M139.7 839.8h.01M142.6 840.5h.01M142.3 841.7h.01M128.5 819.7h.01M138.9 824.3h.01M139.9 821.1h.01M142.8 823.9h.01M141.6 826.1h.01M46.3 827.6h.01M47.0 828.7h.01M45.6 822.3h.01M53.4 829.3h.01M44.7 831.7h.01M44.7 831.7h.01M44.8 836.9h.01M48.8 838.7h.01M89.2 793.4h.01M103.2 792.9h.01M94.4 799.9h.01M88.0 803.4h.01M75.6 791.4h.01M62.7 796.9h.01M61.1 798.4h.01M56.2 815.0h.01M46.7 815.1h.01M56.6 813.6h.01M52.8 809.3h.01M60.2 818.4h.01M60.7 817.9h.01M70.6 819.4h.01M60.8 841.5h.01M132.2 796.0h.01M134.8 792.0h.01M100.5 814.7h.01M95.8 814.8h.01M91.3 813.6h.01M93.0 810.4h.01M46.5 753.9h.01M49.9 755.7h.01M62.6 781.7h.01M49.7 789.0h.01M47.6 792.8h.01M45.5 771.4h.01M57.3 796.0h.01M53.3 800.1h.01M49.5 799.6h.01M45.2 800.3h.01M144.5 774.7h.01M136.8 805.7h.01M134.0 796.2h.01M132.4 796.1h.01M122.9 784.8h.01M137.7 775.4h.01M141.2 774.9h.01M141.1 774.8h.01M143.6 783.5h.01M143.6 783.5h.01M137.4 786.9h.01M140.7 784.0h.01M139.5 786.0h.01M143.9 785.7h.01M142.3 787.3h.01M142.9 753.8h.01M132.1 758.2h.01M135.8 750.8h.01M134.5 820.1h.01M136.3 819.8h.01M134.3 811.8h.01M141.7 806.1h.01M68.0 779.2h.01M49.4 748.2h.01M84.1 783.8h.01M80.6 749.9h.01M78.6 748.3h.01M80.4 750.9h.01M76.0 749.9h.01M87.4 746.6h.01M84.9 753.9h.01M134.1 838.7h.01M131.9 821.2h.01M140.9 815.4h.01M141.0 815.7h.01M45.9 842.7h.01M50.2 837.5h.01M93.0 792.1h.01M92.4 785.4h.01M94.9 791.7h.01M88.2 798.4h.01M91.7 797.8h.01M90.2 800.9h.01M98.3 796.1h.01M64.3 798.9h.01M74.5 791.6h.01M71.0 791.3h.01M70.9 794.7h.01M69.0 797.4h.01M69.9 799.9h.01M59.5 818.2h.01M58.8 817.6h.01M52.3 817.1h.01M54.5 812.6h.01M47.6 816.2h.01M64.3 801.3h.01M86.2 811.1h.01M85.0 814.3h.01M55.6 839.8h.01M51.4 837.0h.01M112.4 796.2h.01M119.8 815.5h.01M125.7 815.1h.01M123.5 795.0h.01M121.8 788.8h.01M110.0 799.7h.01M103.5 805.5h.01M104.9 800.0h.01M105.1 799.8h.01M108.9 807.7h.01M47.5 763.0h.01M50.4 788.7h.01M55.5 788.2h.01M51.1 787.1h.01M49.0 781.8h.01M47.1 807.1h.01M140.3 804.0h.01M134.0 804.4h.01M132.3 789.9h.01M126.5 790.7h.01M136.1 784.1h.01M136.1 783.0h.01M137.9 786.7h.01M141.2 748.1h.01M141.0 748.3h.01M140.6 755.6h.01M140.7 753.8h.01M132.1 774.9h.01M126.0 778.4h.01M125.4 773.7h.01M120.2 752.9h.01M120.0 765.5h.01M121.2 764.7h.01M124.0 765.6h.01M123.7 769.6h.01M122.5 760.6h.01M124.9 760.7h.01M123.9 754.2h.01M126.0 757.9h.01M140.1 749.3h.01M140.0 749.4h.01M114.7 756.2h.01M116.0 765.7h.01M103.0 791.6h.01M96.4 757.3h.01M98.4 759.0h.01M96.2 763.9h.01M104.6 755.7h.01M107.0 755.1h.01M100.9 754.2h.01M105.2 749.8h.01M104.8 749.6h.01M139.7 813.9h.01M142.2 811.1h.01M138.4 810.1h.01M134.6 811.9h.01M45.8 772.1h.01M44.9 774.7h.01M48.3 776.9h.01M62.1 770.7h.01M63.8 770.9h.01M64.4 770.2h.01M64.4 770.2h.01M73.3 757.0h.01M72.7 751.5h.01M70.7 753.2h.01M67.1 752.3h.01M70.9 755.6h.01M72.9 773.2h.01M72.9 772.6h.01M73.3 773.7h.01M77.4 780.0h.01M73.6 769.4h.01M55.5 750.3h.01M56.7 747.2h.01M78.6 786.2h.01M80.0 786.5h.01M83.7 786.9h.01M83.5 790.9h.01M82.1 746.9h.01M81.7 747.2h.01M83.4 753.1h.01M87.2 747.2h.01M106.6 826.7h.01M116.5 815.3h.01M115.2 814.2h.01M131.2 833.4h.01M139.2 830.0h.01M139.7 833.6h.01M119.9 819.8h.01M115.9 816.6h.01M94.0 841.5h.01M53.3 819.9h.01M54.5 818.3h.01M54.9 822.5h.01M56.3 819.5h.01M92.4 795.3h.01M91.2 801.8h.01M99.9 807.5h.01M103.2 805.8h.01M101.1 808.0h.01M81.6 803.3h.01M82.0 801.8h.01M81.9 801.1h.01M85.7 799.9h.01M83.4 799.7h.01M87.6 798.3h.01M71.8 794.1h.01M70.1 800.0h.01M77.7 799.3h.01M80.3 806.3h.01M75.5 805.8h.01M66.2 805.1h.01M67.4 814.3h.01M61.4 815.6h.01M62.6 837.2h.01M56.0 825.4h.01M61.5 841.9h.01M52.3 834.1h.01M52.0 835.9h.01M57.4 834.5h.01M118.0 788.5h.01M109.0 799.2h.01M105.4 799.2h.01M112.6 809.9h.01M116.0 811.1h.01M114.8 809.2h.01M122.2 812.2h.01M119.2 800.4h.01M108.8 807.6h.01M107.2 807.9h.01M108.7 804.8h.01M107.5 803.9h.01M105.2 810.9h.01M101.9 809.4h.01M101.4 808.1h.01M60.9 785.0h.01M60.0 782.3h.01M57.1 786.3h.01M47.2 785.1h.01M50.8 802.9h.01M49.6 802.9h.01M54.7 804.6h.01M52.9 808.8h.01M51.2 807.5h.01M46.9 802.2h.01M132.0 802.4h.01M129.9 802.0h.01M133.4 804.9h.01M135.0 803.0h.01M126.0 783.6h.01M135.7 754.2h.01M128.9 768.8h.01M131.7 768.3h.01M122.0 758.3h.01M117.3 759.6h.01M116.4 758.5h.01M131.5 755.7h.01M124.6 754.6h.01M128.9 747.5h.01M137.3 748.8h.01M136.5 749.1h.01M116.3 751.4h.01M114.7 754.7h.01M122.5 771.9h.01M116.0 758.2h.01M109.7 794.1h.01M111.7 795.8h.01M97.1 770.2h.01M75.8 762.4h.01M75.3 769.1h.01M64.0 761.7h.01M61.9 765.4h.01M60.9 765.4h.01M60.1 753.8h.01M67.9 759.8h.01M64.5 761.2h.01M73.7 756.1h.01M77.6 754.1h.01M76.6 753.2h.01M67.1 754.4h.01M67.3 753.2h.01M67.1 752.5h.01M66.3 756.1h.01M73.1 778.0h.01M71.0 778.3h.01M67.9 766.7h.01M81.3 756.5h.01M81.0 759.7h.01M96.6 786.6h.01M94.3 784.0h.01M96.6 771.0h.01M97.0 772.3h.01M96.9 838.3h.01M97.1 839.6h.01M97.5 840.0h.01M103.5 829.1h.01M104.6 826.9h.01M109.9 829.5h.01M128.0 830.9h.01M123.2 828.6h.01M143.0 817.0h.01M140.5 820.0h.01M96.3 837.9h.01M93.9 835.6h.01M96.2 832.8h.01M94.6 837.2h.01M52.1 824.4h.01M53.3 824.3h.01M95.0 800.3h.01M100.0 802.2h.01M83.9 796.4h.01M83.4 797.9h.01M82.7 794.5h.01M79.9 795.4h.01M79.3 796.0h.01M70.2 800.2h.01M66.7 805.3h.01M71.2 799.3h.01M77.3 797.0h.01M77.4 797.9h.01M60.1 799.0h.01M61.4 800.2h.01M59.5 798.8h.01M58.6 801.1h.01M59.1 802.4h.01M80.7 808.1h.01M84.4 809.7h.01M73.0 811.8h.01M71.7 812.5h.01M79.6 814.7h.01M75.0 812.0h.01M77.7 810.5h.01M77.3 810.7h.01M70.9 806.8h.01M67.0 805.7h.01M67.3 806.4h.01M60.0 822.4h.01M57.0 830.8h.01M57.8 832.1h.01M63.4 836.7h.01M114.4 812.7h.01M112.2 811.7h.01M109.0 813.0h.01M109.7 812.1h.01M126.6 807.3h.01M130.1 807.4h.01M131.9 808.1h.01M57.3 783.4h.01M138.5 802.7h.01M138.2 802.7h.01M139.2 798.1h.01M139.4 799.5h.01M135.1 796.8h.01M143.8 748.9h.01M142.9 750.4h.01M138.2 759.7h.01M132.0 759.3h.01M135.7 762.5h.01M134.2 764.5h.01M133.7 764.5h.01M124.2 765.5h.01M133.2 746.9h.01M102.2 770.6h.01M105.1 760.1h.01M112.0 763.8h.01M112.1 762.0h.01M101.9 764.0h.01M104.8 762.7h.01M106.6 763.3h.01M119.3 770.5h.01M119.5 770.7h.01M122.4 774.2h.01M108.9 755.2h.01M110.5 759.8h.01M107.7 757.1h.01M112.1 756.4h.01M63.1 761.3h.01M62.3 757.3h.01M64.3 757.6h.01M63.9 758.7h.01M68.2 766.9h.01M67.7 770.7h.01M68.3 771.7h.01M72.4 764.2h.01M68.8 760.5h.01M68.3 763.4h.01M98.7 780.4h.01M95.5 776.5h.01M95.4 843.5h.01M97.6 843.0h.01M97.8 833.1h.01M101.1 826.1h.01M97.8 828.5h.01M96.0 827.8h.01M95.1 832.2h.01M93.7 831.9h.01M107.4 817.9h.01M107.4 820.5h.01M111.1 817.3h.01M111.1 817.3h.01M111.7 818.3h.01M118.8 821.5h.01M108.2 826.1h.01M108.6 822.5h.01M128.4 841.3h.01M123.2 840.1h.01M129.6 825.9h.01M134.3 824.6h.01M95.0 837.4h.01M93.8 839.6h.01M84.9 833.2h.01M87.0 832.5h.01M89.9 834.4h.01M93.7 831.9h.01M93.8 831.3h.01M88.7 826.5h.01M81.9 832.1h.01M82.4 832.4h.01M94.2 804.3h.01M95.0 801.2h.01M98.4 804.5h.01M71.1 801.3h.01M73.7 804.8h.01M76.4 804.1h.01M75.9 805.2h.01M71.4 819.1h.01M71.9 818.3h.01M59.2 825.6h.01M70.5 838.8h.01M68.7 837.4h.01M73.1 824.6h.01M85.3 826.5h.01M74.0 842.2h.01M64.4 841.6h.01M67.8 843.4h.01M126.2 809.8h.01M133.3 811.2h.01M144.2 750.7h.01M130.7 762.8h.01M130.1 761.4h.01M128.1 767.3h.01M116.1 750.8h.01M116.1 749.2h.01M130.9 753.0h.01M130.9 750.7h.01M134.2 748.8h.01M135.8 750.5h.01M136.0 749.4h.01M137.4 748.1h.01M114.6 767.1h.01M109.0 766.1h.01M107.6 757.4h.01M108.8 761.4h.01M108.1 762.6h.01M105.5 768.7h.01M105.0 768.5h.01M106.6 766.2h.01M107.6 767.0h.01M115.1 772.1h.01M114.8 772.7h.01M118.5 773.7h.01M101.2 772.9h.01M102.4 771.5h.01M104.5 771.9h.01M77.5 775.4h.01M82.7 774.3h.01M83.2 772.7h.01M83.1 772.0h.01M104.1 786.8h.01M104.8 831.7h.01M100.8 832.7h.01M100.8 827.8h.01M128.7 833.7h.01M126.4 836.2h.01M120.6 833.8h.01M120.3 834.2h.01M125.3 826.0h.01M75.5 839.0h.01M89.3 828.3h.01M89.2 822.0h.01M82.3 836.5h.01M84.5 840.2h.01M77.1 814.7h.01M72.5 824.0h.01M66.9 824.5h.01M63.5 835.5h.01M74.2 836.6h.01M71.9 836.9h.01M69.0 836.7h.01M69.4 834.1h.01M65.3 829.6h.01M63.6 833.0h.01M119.2 807.0h.01M108.4 769.8h.01M106.0 776.3h.01M120.4 780.6h.01M104.7 782.9h.01M101.7 782.6h.01M102.9 784.2h.01M104.6 780.1h.01M103.0 781.3h.01M105.2 782.9h.01M106.2 784.0h.01M99.2 784.4h.01M100.2 788.8h.01M121.8 841.2h.01M79.6 823.1h.01M75.0 837.2h.01M75.2 837.4h.01M76.3 834.9h.01M78.5 835.0h.01M81.8 840.7h.01M82.1 840.4h.01M85.7 836.7h.01M82.9 836.7h.01M86.4 838.3h.01M86.5 838.9h.01M85.3 839.8h.01M73.1 829.1h.01M73.6 826.4h.01M75.8 827.1h.01M123.4 808.7h.01M121.2 812.3h.01M119.3 810.2h.01M112.9 749.3h.01M112.5 751.4h.01M111.2 751.9h.01M112.1 748.2h.01M107.6 748.6h.01M107.7 748.7h.01M120.7 782.9h.01M104.1 779.5h.01M99.2 778.6h.01M101.3 776.1h.01M120.2 834.2h.01M121.6 841.6h.01M121.4 842.5h.01M101.5 837.1h.01M84.5 822.9h.01M87.6 822.5h.01M79.6 823.1h.01M75.2 820.0h.01M76.8 818.5h.01M83.9 822.2h.01M85.3 820.5h.01M83.3 823.8h.01M79.9 836.3h.01M80.2 837.1h.01M77.8 837.4h.01M74.8 832.5h.01M73.4 830.8h.01M72.8 835.0h.01M73.6 833.1h.01M72.7 832.5h.01M70.6 832.5h.01M109.2 843.1h.01M107.9 842.2h.01M107.7 841.9h.01M111.3 837.1h.01M109.5 832.6h.01M111.4 831.9h.01" stroke="#5c2a9c" stroke-width="1.4" stroke-linecap="round" fill="none" opacity="0.85"/>
<ellipse cx="60.5" cy="761" rx="6" ry="2.5" transform="rotate(-35 60.5 761)" fill="#d27cc6" stroke="#a04aa8" stroke-width="1" opacity="0.9"/>
<ellipse cx="108" cy="803.2" rx="11.9" ry="6.9" fill="#f9f4fa" stroke="#73309f" stroke-width="2.6"/>
<path d="M104 767 L110.5 766 L121 797 L108.5 795 Z" fill="#f9f4fa"/>
<path d="M101 771 C103.5 779 105.5 787 108 795 M110.5 765.5 C114 776 117.5 787 121.5 797" fill="none" stroke="#73309f" stroke-width="3" stroke-linecap="round"/>
<ellipse cx="108" cy="803.2" rx="10.6" ry="5.6" fill="#f9f4fa"/>
<circle cx="125.5" cy="805.4" r="4.2" fill="#e7b5e0" stroke="#b058b8" stroke-width="1.4"/>
</g>
<rect x="47.15" y="749.05" width="95.1" height="92.1" fill="none" stroke="#808080" stroke-width="0.9"/>
<rect x="49.1" y="837" width="11.5" height="2.6" fill="#000"/>
<clipPath id="cpkopbs"><rect x="147.3" y="748.6" width="96.6" height="93"/></clipPath>
<g clip-path="url(#cpkopbs)">
<rect x="147.3" y="748.6" width="96.6" height="93" fill="#f8f3f9"/>
<path d="M249.5 844.7L250.2 843.2M160.6 848.0L160.8 846.7M249.2 770.1L249.4 767.6M141.3 742.0L140.8 748.5M155.8 742.0L156.7 742.9M155.8 742.0L151.6 742.7M156.7 742.9L156.4 744.6M156.4 744.6L151.5 745.8M160.8 846.7L159.7 845.1M155.5 847.0L158.4 845.0M159.7 845.1L158.4 845.0M144.0 795.1L144.1 796.7M144.1 796.7L139.6 803.8M143.5 807.9L142.9 805.3M143.5 807.9L143.2 809.5M139.6 803.8L142.9 805.3M250.2 843.2L250.1 842.2M238.6 843.4L241.5 845.3M238.6 843.4L244.9 843.8M241.5 845.3L243.3 845.6M243.3 845.6L244.8 844.7M244.8 844.7L245.0 844.1M240.5 850.5L243.3 845.6M240.5 850.5L239.6 846.6M239.6 846.6L241.5 845.3M249.5 844.7L245.0 844.1M244.8 841.4L245.0 841.1M244.8 841.4L244.9 843.8M245.0 841.1L249.5 841.3M250.1 842.2L249.5 841.3M239.6 846.6L238.2 844.7M238.6 843.4L238.4 843.3M238.2 844.7L238.4 843.3M195.5 826.7L193.9 822.5M193.9 822.5L191.2 824.1M250.4 744.8L249.2 746.4M249.2 746.4L250.5 750.1M247.0 752.7L248.0 753.0M246.7 750.1L248.1 747.4M248.1 747.4L249.2 746.4M251.7 756.2L253.4 757.4M141.3 742.0L145.6 746.5M140.8 748.5L141.3 748.8M141.3 748.8L145.6 746.5M145.6 741.6L146.0 746.4M146.1 746.5L146.0 746.4M146.1 746.5L151.1 746.8M151.1 746.8L151.1 746.6M151.5 745.8L151.1 746.6M147.9 752.7L152.1 748.7M147.9 752.7L150.7 754.9M152.1 748.7L152.4 749.1M152.4 749.1L151.9 755.0M153.8 767.0L152.7 766.9M151.8 762.8L151.5 765.5M152.3 767.4L152.7 766.9M151.5 765.5L149.1 767.0M159.4 744.0L159.8 741.5M159.4 744.0L160.3 746.8M160.3 746.8L161.9 742.0M156.7 742.9L159.8 741.5M156.6 744.7L156.4 744.6M156.6 744.7L159.4 744.0M156.6 744.7L159.4 749.1M159.4 749.1L160.7 748.5M160.7 748.5L160.3 746.8M140.5 849.7L142.3 848.1M144.5 851.0L142.3 848.1M153.8 850.3L150.9 846.3M146.7 845.8L147.3 845.0M147.3 845.0L150.9 846.3M155.5 847.0L152.0 841.9M152.0 841.9L150.9 842.6M150.9 846.3L150.9 842.6M142.4 821.2L144.8 824.7M142.4 821.2L141.9 821.2M141.9 821.2L141.1 828.5M144.8 824.7L143.1 830.9M143.1 830.9L141.1 828.5M141.9 812.6L143.5 810.7M149.0 815.1L148.3 817.5M145.3 819.0L148.3 817.5M143.2 809.5L143.5 810.7M143.5 807.9L149.9 809.5M149.9 809.5L150.2 813.8M144.8 824.7L147.9 826.6M148.3 817.5L150.2 819.2M150.2 819.2L147.9 826.6M158.5 796.0L156.8 794.4M158.5 796.0L156.8 798.2M156.8 798.2L155.3 798.4M154.5 796.0L156.8 794.4M177.1 787.1L178.6 783.4M177.1 787.1L179.8 786.8M179.8 786.8L180.7 785.9M179.0 783.8L180.7 785.9M180.7 785.9L180.7 785.9M142.9 805.3L144.9 804.2M144.4 797.2L144.9 804.2M150.9 806.3L145.4 804.1M150.9 806.3L149.9 809.5M144.4 797.2L147.6 800.2M145.4 804.1L147.1 801.9M147.1 801.9L147.6 800.2M144.0 795.1L144.8 794.6M144.8 794.6L145.4 790.3M145.4 790.3L138.8 785.2M145.4 790.3L147.0 788.9M142.0 784.6L138.8 785.2M142.0 784.6L143.9 785.7M144.8 794.6L146.1 794.7M150.3 791.5L150.2 789.3M150.2 789.3L148.6 788.3M247.0 812.1L246.2 809.8M249.5 841.3L251.9 833.7M236.7 846.7L234.0 846.0M238.4 843.3L238.3 843.2M238.3 843.2L234.0 846.0M234.0 846.0L232.9 846.0M232.7 845.9L231.8 846.2M229.9 851.0L231.8 846.2M243.8 747.4L245.4 745.9M243.4 747.3L242.3 746.6M245.4 745.9L245.9 743.5M242.3 746.6L241.8 745.5M245.9 743.5L245.8 743.3M246.7 750.1L243.8 747.4M243.2 754.0L241.5 752.7M241.5 752.7L243.4 747.3M250.4 744.8L245.9 743.5M192.3 771.0L194.3 770.1M192.3 771.0L190.2 767.1M194.3 770.1L194.4 766.4M190.2 767.1L190.5 766.6M194.4 766.4L194.0 765.5M249.4 767.6L249.2 767.2M248.2 760.8L247.3 762.3M248.2 760.8L244.6 758.2M247.3 762.3L246.6 762.7M253.4 757.4L248.2 760.8M249.9 765.2L247.3 762.3M251.7 756.2L244.6 758.2M243.2 754.0L242.4 757.4M216.5 745.9L219.5 751.0M216.5 745.9L218.8 741.5M220.4 749.9L218.8 741.5M225.5 754.4L220.9 753.2M225.5 754.4L221.3 758.3M221.3 758.3L220.6 757.7M217.3 757.4L216.7 756.7M217.3 757.4L220.6 757.7M216.3 754.7L219.1 751.8M213.1 820.3L214.1 821.6M213.1 820.3L209.6 821.3M205.1 827.3L206.0 825.5M188.8 751.1L188.2 748.4M188.2 748.4L190.2 746.0M192.0 748.8L191.6 746.0M191.6 746.0L190.2 746.0M187.3 754.5L190.1 758.4M191.5 757.9L190.1 758.4M191.5 757.9L193.9 755.9M193.6 755.4L193.9 755.9M183.9 783.5L182.9 782.8M183.9 783.5L185.4 782.7M182.2 782.1L181.9 779.4M181.9 779.4L185.4 782.7M189.7 772.6L186.0 767.5M190.2 772.5L191.9 771.4M182.9 756.3L184.7 758.4M182.9 756.3L186.9 753.6M186.9 753.6L187.2 754.3M184.7 758.4L185.4 758.3M187.3 754.5L187.2 754.3M189.8 758.7L190.1 758.4M189.4 763.1L190.5 762.2M190.2 764.9L194.3 763.7M194.0 762.8L194.5 763.0M194.5 763.0L194.3 763.7M185.3 766.0L186.1 763.6M186.0 767.5L185.2 767.2M186.4 763.4L189.4 763.1M189.8 758.7L190.5 762.2M187.0 759.6L186.4 763.4M194.0 765.5L194.3 763.7M195.5 756.8L194.3 756.0M195.5 756.8L195.2 762.6M193.9 755.9L194.3 756.0M151.8 762.8L149.5 761.2M145.9 765.3L147.3 766.8M145.9 765.3L149.1 761.4M151.0 759.0L148.6 755.8M151.0 759.0L149.5 761.0M149.5 761.0L149.4 760.9M149.4 760.9L148.2 755.8M148.2 755.8L148.6 755.8M152.0 755.1L151.9 755.0M150.7 754.9L148.6 755.8M151.0 759.0L151.0 759.0M179.0 744.4L175.4 746.4M174.2 745.8L175.4 746.4M155.6 757.5L154.1 755.4M155.6 757.5L154.8 759.0M154.1 758.9L153.0 755.3M154.1 758.9L154.8 759.0M153.0 755.3L154.1 755.4M151.0 759.0L154.1 758.9M168.3 740.1L163.1 743.4M161.4 748.4L163.3 744.0M161.4 748.4L164.1 749.6M164.1 749.6L165.3 748.2M165.3 748.2L166.4 744.8M163.3 744.0L166.4 744.8M160.7 748.5L161.4 748.4M163.1 743.4L163.3 744.0M168.3 740.1L169.2 743.0M169.2 743.0L166.4 744.8M142.5 847.1L143.8 846.8M142.5 847.1L140.9 846.4M144.7 845.8L143.8 846.8M144.7 845.8L142.0 842.6M138.1 842.7L142.0 842.6M144.5 851.0L143.8 846.8M142.3 848.1L142.5 847.1M140.6 847.7L140.9 846.4M143.1 830.9L143.1 831.1M143.1 831.1L143.1 831.1M147.3 845.0L147.4 844.6M150.9 842.6L148.2 843.5M142.0 842.6L143.6 841.5M147.4 844.6L143.6 841.5M144.1 835.0L145.4 837.5M143.6 841.5L145.6 839.2M145.4 837.5L145.6 839.2M148.2 843.5L146.4 839.9M145.6 839.2L146.4 839.9M148.7 828.3L148.2 831.9M150.9 806.3L152.3 805.3M154.0 813.3L155.6 807.8M155.6 807.8L155.5 807.4M184.9 795.6L188.5 791.4M184.9 795.6L186.5 797.4M186.5 797.4L192.5 795.2M188.5 791.4L192.5 795.1M192.5 795.1L192.5 795.2M188.6 802.4L192.9 795.9M188.6 802.4L189.1 802.9M190.2 803.0L189.1 802.9M190.2 803.0L195.0 800.1M195.0 798.9L195.0 800.1M195.0 798.9L193.6 796.3M193.6 796.3L192.9 795.9M181.6 787.1L180.7 785.9M181.6 787.1L184.1 787.8M180.7 785.9L183.2 784.4M184.1 787.8L183.2 784.4M183.9 783.5L183.5 784.1M182.9 782.8L179.0 783.8M183.5 784.1L183.2 784.4M192.5 795.2L192.9 795.9M188.6 802.4L188.4 802.3M186.4 801.1L188.4 802.3M188.5 791.2L188.5 791.4M185.8 789.6L182.1 791.7M182.3 795.3L184.9 795.6M182.1 791.7L181.6 792.9M181.6 787.1L181.2 790.2M181.2 790.2L178.9 789.1M141.3 748.8L142.9 751.9M141.6 760.0L142.4 756.8M140.4 754.1L142.4 756.8M160.2 789.4L159.4 789.0M160.2 789.4L165.4 786.3M159.4 789.0L158.1 785.4M165.4 786.3L161.5 783.1M158.1 785.4L161.5 783.1M185.4 782.7L186.8 782.5M186.8 782.5L186.8 782.5M178.3 765.8L178.4 766.0M178.3 765.8L175.3 763.0M178.5 766.2L176.2 767.7M178.5 766.2L178.4 766.0M175.3 763.0L173.7 763.7M173.7 763.7L173.4 767.6M176.2 767.7L173.4 767.6M149.0 772.2L152.0 770.0M148.9 772.0L149.6 768.4M146.6 770.5L147.3 766.8M146.6 770.5L148.9 772.0M152.3 767.4L151.5 769.2M153.6 770.7L154.8 770.3M153.6 770.7L152.0 770.0M154.8 770.3L155.2 768.2M150.0 799.0L153.3 801.0M150.0 799.0L149.9 799.1M149.9 799.1L151.0 802.4M151.0 802.4L152.5 804.4M153.9 798.6L153.3 801.0M150.2 798.3L150.0 799.0M146.1 794.7L149.2 796.4M147.6 800.2L149.9 799.1M147.1 801.9L151.0 802.4M155.3 798.4L155.6 802.5M152.6 773.0L153.0 774.8M152.6 773.0L149.0 772.4M148.6 773.8L152.6 775.6M153.0 774.8L152.6 775.6M149.0 772.2L149.0 772.4M147.1 775.4L148.6 773.8M148.7 778.2L152.4 777.1M152.4 777.1L152.6 775.6M137.7 765.2L142.4 771.2M139.2 774.8L142.4 771.2M139.2 774.8L141.3 775.6M142.4 771.2L142.8 771.6M141.3 775.6L142.8 771.6M147.1 775.4L146.6 775.3M146.6 775.3L144.7 773.5M143.7 772.0L142.8 771.6M147.3 786.3L148.5 788.1M147.3 786.3L147.2 781.7M148.5 788.1L150.3 783.7M150.3 783.7L149.8 782.6M147.8 781.4L147.3 781.6M147.2 781.7L147.3 781.6M148.6 788.3L148.5 788.1M142.0 784.6L147.2 781.7M150.2 789.3L152.9 788.0M152.9 788.0L153.6 786.3M153.6 786.3L150.3 783.7M148.7 778.2L147.8 781.4M153.7 781.0L149.8 782.6M153.7 781.0L153.2 777.9M145.6 780.1L147.3 781.6M206.0 848.7L206.1 848.3M206.1 848.3L200.2 847.6M249.9 793.7L251.0 794.5M246.8 825.3L247.2 825.7M245.2 813.9L243.4 816.5M245.2 813.9L241.8 813.1M243.4 816.5L241.8 814.0M241.8 813.1L241.8 814.0M247.0 812.1L245.2 813.9M243.2 817.7L243.4 816.5M250.6 818.9L243.7 818.4M193.9 822.5L194.9 821.1M198.8 821.6L194.9 821.1M198.8 821.6L199.9 826.7M199.9 826.7L196.5 827.1M199.9 826.7L201.0 827.9M226.9 847.0L221.8 848.8M226.9 847.0L227.2 846.8M232.7 845.9L232.4 842.1M232.9 846.0L237.8 841.8M232.4 842.1L235.2 839.9M235.2 839.9L237.8 841.8M238.3 843.2L238.0 841.8M238.0 841.8L237.8 841.8M231.6 828.6L230.8 827.0M228.1 832.6L226.3 830.5M228.1 832.6L230.9 830.9M226.3 830.5L224.8 827.6M230.8 827.0L225.0 827.3M230.9 830.9L231.4 830.0M224.8 827.6L225.0 827.3M211.5 846.2L210.1 844.6M211.5 846.2L207.8 847.8M207.2 846.8L207.4 847.4M199.7 844.6L199.8 844.6M199.7 844.6L200.2 847.6M199.8 844.6L204.4 843.8M204.4 843.8L207.2 846.8M206.1 848.3L207.4 847.4M204.4 843.8L207.3 841.4M209.5 840.9L209.4 840.8M209.5 840.9L210.1 844.6M209.4 840.8L207.3 841.4M199.8 844.6L201.7 837.1M201.7 837.1L201.9 837.1M201.9 837.1L204.8 838.7M204.8 838.7L207.3 841.4M240.8 744.5L238.9 746.4M240.8 744.5L240.0 742.1M237.9 743.3L240.0 742.1M237.9 743.3L236.8 746.1M236.8 746.1L238.9 746.4M241.8 745.5L240.8 744.5M235.3 747.0L233.8 746.0M235.3 747.0L236.8 746.1M234.6 743.4L233.8 746.0M233.7 740.5L231.1 742.8M229.3 741.3L229.3 741.9M234.6 743.4L233.7 740.5M221.2 740.0L229.3 741.3M233.8 746.0L233.0 746.2M233.0 746.2L231.0 744.5M241.5 752.7L239.1 751.6M239.1 749.7L238.6 751.1M238.6 751.1L239.1 751.6M235.3 747.0L235.7 748.1M238.6 751.1L238.2 751.0M238.4 755.9L238.2 753.7M239.1 751.6L238.2 753.7M238.4 755.9L236.7 755.4M238.2 753.7L236.7 755.4M202.1 768.3L199.1 766.8M199.3 765.7L199.1 766.8M199.2 763.0L199.3 765.7M199.2 763.0L195.2 762.6M194.4 766.4L198.9 767.1M194.3 770.1L197.3 771.0M191.9 771.4L194.8 775.3M198.9 767.1L197.7 771.0M197.3 771.0L197.7 771.0M199.6 762.7L201.7 763.0M199.6 762.7L199.2 763.0M204.9 765.6L203.5 763.9M204.9 765.6L203.8 766.3M201.7 763.0L203.5 763.9M247.8 767.1L248.3 767.0M249.2 767.2L248.3 767.0M232.2 761.8L233.3 761.8M232.2 761.8L232.2 757.0M233.3 761.8L234.7 758.0M232.2 757.0L234.0 757.3M234.7 758.0L234.0 757.3M228.5 756.9L228.6 761.1M228.5 756.9L228.9 755.9M228.6 761.1L229.8 762.4M230.9 762.6L230.3 762.6M230.3 762.6L229.8 762.4M235.3 758.3L234.7 758.0M236.7 755.4L234.1 757.2M234.1 757.2L234.0 757.3M214.3 747.3L213.7 750.6M214.3 747.3L215.1 747.2M215.1 747.2L216.3 750.0M213.7 750.6L216.3 750.0M216.5 745.9L215.1 747.2M219.1 751.7L216.3 750.0M210.1 744.3L210.6 745.7M214.3 747.3L211.6 746.8M211.6 746.8L210.6 745.7M218.5 762.8L216.4 761.0M216.4 761.0L217.7 759.7M216.3 754.7L214.6 754.3M219.1 751.8L219.1 751.7M213.7 750.6L212.6 751.4M211.6 746.8L211.7 751.1M217.9 785.8L214.8 785.8M214.8 785.8L212.2 783.1M212.2 783.1L212.8 781.8M212.8 781.8L217.4 781.7M218.1 784.0L217.4 781.7M222.4 789.6L221.1 791.1M222.4 789.6L218.0 786.1M217.9 792.2L215.2 790.8M215.3 789.7L215.2 790.8M212.9 792.1L213.8 795.2M217.9 792.2L217.7 793.8M213.8 795.2L217.7 793.8M195.6 790.3L200.5 793.0M195.4 795.9L193.6 796.3M195.4 795.9L199.8 797.7M195.0 798.9L200.5 799.4M199.8 797.7L200.5 799.4M215.4 813.0L219.6 809.0M215.4 813.0L216.3 814.1M217.8 814.7L219.6 814.2M219.6 814.2L219.6 809.0M213.1 820.3L212.9 818.2M212.9 818.2L216.3 814.1M218.5 819.4L217.8 814.7M198.8 821.6L200.1 820.6M200.1 820.6L201.0 820.6M187.4 748.2L188.2 748.4M190.2 746.0L188.6 745.2M186.2 747.0L188.6 745.2M179.9 743.4L184.0 743.3M184.0 743.3L185.7 741.2M185.7 741.2L186.6 741.9M206.5 743.7L204.7 743.0M205.2 738.7L204.7 743.0M207.3 744.6L206.5 743.7M189.9 742.1L192.4 744.2M191.6 746.0L191.6 746.0M188.6 745.2L186.6 741.9M191.6 746.0L192.4 744.2M191.6 746.0L196.1 747.1M194.5 750.2L196.1 747.1M187.9 752.2L188.8 751.1M194.3 756.0L197.4 751.3M197.4 751.3L194.5 750.2M188.8 751.1L188.8 751.1M183.4 759.8L183.3 761.3M183.4 759.8L180.8 758.8M181.4 762.2L180.0 760.9M180.8 758.8L180.8 758.8M180.8 758.8L179.4 760.2M186.1 763.6L183.3 761.3M184.7 758.4L183.4 759.8M182.0 756.0L180.8 758.8M185.3 766.0L181.2 763.1M181.2 763.1L181.4 762.2M181.2 763.1L178.4 766.0M178.3 765.8L180.0 760.9M181.0 754.6L177.4 755.1M181.0 754.6L182.0 756.0M177.4 755.1L180.8 758.8M176.0 760.2L175.3 763.0M176.0 760.2L179.4 760.2M144.4 758.5L142.3 759.8M144.4 758.5L146.2 757.5M146.2 757.5L147.3 758.9M141.6 760.0L142.3 759.8M144.0 755.3L144.4 758.5M146.4 755.3L148.2 755.8M149.4 760.9L147.3 758.9M149.1 761.4L144.3 760.1M149.5 761.2L149.5 761.0M176.9 755.0L174.9 756.9M176.0 760.2L174.8 757.1M165.3 748.2L168.3 747.5M170.9 744.6L168.3 747.5M174.2 745.8L173.6 745.8M170.9 744.6L173.6 745.8M168.3 747.5L169.1 750.3M152.4 749.1L154.2 749.6M154.1 755.4L155.3 754.5M155.3 754.5L154.2 749.6M152.1 748.7L151.2 746.9M151.2 746.9L151.1 746.8M159.4 749.1L158.6 749.7M158.6 749.7L158.3 749.8M154.2 749.6L158.3 749.8M148.7 828.3L149.0 827.7M152.2 833.3L150.6 828.6M150.6 828.6L149.0 827.7M149.0 827.7L149.0 827.4M163.5 838.0L160.8 835.5M165.7 831.2L167.2 834.3M167.2 834.3L166.7 835.1M170.4 839.4L170.3 835.8M170.4 839.4L169.4 840.0M170.3 835.8L168.8 834.7M168.8 834.7L167.2 834.3M166.7 835.1L168.2 839.9M169.4 840.0L168.2 839.9M166.7 817.2L165.8 817.8M161.9 814.3L162.8 813.3M162.8 813.3L166.7 817.1M156.6 818.8L156.4 815.5M156.6 818.8L152.7 820.6M156.4 815.5L152.3 820.4M152.7 820.6L152.3 820.4M151.0 819.9L152.3 820.4M154.0 813.3L156.5 814.2M156.5 814.2L156.4 815.5M155.5 807.4L156.9 806.3M156.9 806.3L157.0 802.4M156.8 798.2L158.4 802.0M158.4 802.0L157.0 802.4M193.3 803.7L195.0 807.4M193.3 803.7L190.4 803.1M190.4 803.1L193.7 807.6M193.7 807.6L195.0 807.4M195.0 807.4L195.0 807.4M195.5 801.6L193.3 803.7M195.5 801.6L195.0 800.1M190.2 803.0L190.4 803.1M183.5 784.1L184.5 785.7M186.4 801.1L183.5 801.4M188.4 802.3L185.3 805.8M183.5 801.4L185.3 805.8M184.2 828.2L186.9 827.3M186.9 827.3L187.9 830.6M177.1 843.4L177.8 843.4M174.1 839.2L174.5 839.5M174.1 839.2L174.2 837.8M174.5 839.5L176.4 839.4M178.0 836.5L175.1 836.0M171.6 839.7L174.1 839.2M171.6 839.7L173.1 846.3M173.1 846.3L175.1 844.1M175.1 844.1L174.5 839.5M171.6 839.7L170.4 839.4M170.5 835.7L174.2 837.8M174.2 833.8L170.5 835.7M212.0 780.1L212.8 781.8M212.0 780.1L212.1 778.9M217.4 781.7L218.5 779.7M218.5 779.7L213.7 776.3M212.1 778.9L213.7 776.3M145.4 753.7L145.5 753.7M145.9 753.4L146.7 750.5M145.9 753.4L145.5 753.7M143.0 752.0L145.8 749.5M146.7 750.5L145.8 749.5M142.9 751.9L143.0 752.0M144.0 755.3L145.4 753.7M146.4 755.3L145.5 753.7M147.9 752.7L145.9 753.4M151.2 746.9L146.7 750.5M146.1 746.5L145.8 749.5M152.3 792.4L153.4 794.7M152.3 792.4L155.8 791.3M156.0 793.1L155.8 791.3M155.8 791.3L155.8 791.3M150.3 791.5L151.2 792.3M152.9 788.0L155.8 791.3M151.2 792.3L152.3 792.4M161.4 791.6L160.2 789.4M159.1 796.0L158.5 796.0M159.4 789.0L155.8 791.3M153.6 786.3L156.5 784.6M158.1 785.4L156.5 784.6M151.2 792.3L151.2 794.7M153.4 794.7L153.4 794.7M151.1 794.8L151.2 794.7M156.1 778.8L157.3 778.1M156.1 778.8L154.4 777.7M157.3 778.1L156.3 776.7M154.4 777.7L156.3 776.7M159.2 775.9L156.8 775.2M159.2 775.9L159.2 775.9M156.8 775.2L156.3 776.7M159.2 775.9L158.0 778.5M158.0 778.5L157.3 778.1M153.2 777.9L154.4 777.7M156.3 774.3L153.0 774.8M156.3 774.3L156.8 775.2M156.3 783.6L160.7 779.8M156.3 783.6L155.6 782.1M158.4 779.3L160.7 779.8M156.5 784.6L156.3 783.6M161.5 783.1L162.1 780.1M153.7 781.0L155.6 782.1M156.1 778.8L155.8 781.7M158.0 778.5L158.4 779.3M159.2 775.9L161.3 779.9M182.9 773.3L182.9 768.6M184.3 767.8L182.9 768.6M185.2 767.2L184.3 767.8M180.0 767.9L182.9 768.6M173.7 763.7L171.3 763.7M172.3 757.3L174.8 757.1M172.3 757.3L169.7 759.7M155.6 757.5L155.7 757.5M154.8 759.0L155.9 761.7M155.7 757.5L159.3 759.4M159.3 759.4L159.1 760.5M159.1 760.5L155.9 761.7M156.4 764.8L155.4 762.6M155.4 762.6L155.9 761.7M159.2 775.9L159.9 775.3M159.9 775.3L159.6 774.6M156.3 774.3L157.1 771.9M159.6 774.6L157.1 771.9M154.8 770.3L157.1 771.9M182.2 782.1L178.9 782.5M178.6 783.4L178.5 783.3M178.9 782.5L178.5 783.3M178.9 782.5L179.5 778.8M145.4 776.3L142.5 776.4M145.4 776.3L144.4 778.2M144.4 778.2L142.5 778.2M142.5 778.2L142.1 776.5M142.1 776.5L142.5 776.4M144.7 773.5L142.5 776.4M145.6 780.1L144.4 778.2M141.7 779.6L142.5 778.2M180.8 824.5L178.4 822.8M180.8 824.5L179.1 828.0M178.8 827.9L177.5 823.2M177.5 823.2L178.4 822.8M180.4 831.4L179.1 828.0M180.4 831.4L174.9 832.0M176.5 826.9L174.6 828.1M176.5 826.9L178.8 827.9M174.6 828.1L174.1 829.8M174.1 829.8L174.9 832.0M246.8 796.7L246.9 796.8M252.3 798.4L246.9 796.8M252.3 798.4L250.5 800.1M246.9 796.8L246.7 797.6M246.7 797.6L250.5 800.1M225.3 825.1L230.2 825.2M225.3 825.1L225.2 822.0M225.2 822.0L228.3 822.1M230.2 825.2L228.3 822.1M230.6 825.6L230.8 827.0M230.6 825.6L230.2 825.2M225.0 827.3L225.2 825.3M220.9 822.0L223.6 821.0M223.6 821.0L225.2 822.0M233.2 822.7L232.6 821.7M232.6 821.7L228.8 821.1M228.8 821.1L228.3 822.1M242.8 824.2L240.4 826.0M242.8 824.2L243.8 824.8M243.8 824.8L244.0 825.7M244.0 825.7L243.9 829.0M246.7 822.5L243.1 822.0M243.1 822.0L243.0 821.6M246.8 825.3L243.8 824.8M242.8 824.2L243.0 822.2M243.1 822.0L243.0 822.2M199.7 844.6L198.4 844.3M201.7 837.1L201.0 836.5M198.4 844.3L197.7 842.7M197.7 842.7L198.1 837.3M198.1 837.3L201.0 836.5M184.2 828.2L184.1 827.8M188.0 826.3L188.7 824.4M184.1 827.8L185.1 824.6M188.7 824.4L185.1 824.6M227.9 845.1L227.5 844.7M227.9 845.1L229.4 842.2M227.5 844.7L226.1 840.1M229.4 842.2L227.8 840.9M227.8 840.9L226.1 840.0M226.1 840.0L226.1 840.1M228.0 845.5L227.9 845.1M224.2 843.6L227.5 844.7M224.2 843.6L221.4 846.6M221.8 848.8L221.4 846.6M232.4 842.1L231.1 841.7M231.1 841.7L230.2 839.3M230.2 839.3L227.8 840.9M228.4 836.7L226.1 840.0M228.4 836.7L230.1 837.7M230.1 837.7L230.2 839.3M224.0 838.3L224.8 834.0M225.3 840.1L226.1 840.1M212.7 841.3L214.3 842.8M217.2 839.9L215.2 838.6M217.2 839.9L217.0 841.1M217.0 841.1L214.3 842.8M220.4 839.8L220.1 842.8M220.4 839.8L224.4 840.9M224.4 840.9L224.3 841.4M224.0 838.3L221.3 837.8M221.3 837.8L220.3 839.7M220.3 839.7L220.4 839.8M224.2 843.6L224.3 841.4M221.4 846.6L220.2 845.1M219.7 843.9L220.1 842.8M221.3 837.8L221.0 836.6M223.0 833.7L222.5 834.3M221.0 836.6L222.5 834.3M228.1 832.6L227.4 833.6M226.3 830.5L223.3 830.1M223.0 833.7L221.9 832.3M221.9 832.3L223.3 830.1M221.9 832.3L218.9 830.6M232.1 832.9L235.6 835.5M232.1 832.9L232.4 837.5M235.6 835.5L235.7 837.2M232.4 837.5L235.0 838.5M235.0 838.5L235.7 837.2M230.9 830.9L232.1 832.9M231.4 830.0L237.2 832.2M237.2 832.2L237.4 832.3M230.1 837.7L232.4 837.5M235.2 839.9L235.0 838.5M240.2 836.0L240.5 840.8M239.4 836.3L238.4 841.6M240.5 840.8L238.4 841.6M241.0 834.9L240.6 835.6M241.0 834.9L237.7 832.3M240.6 835.6L240.2 836.0M237.7 832.3L237.4 832.3M235.7 837.2L239.4 836.3M242.5 840.7L240.5 840.8M242.5 840.7L240.6 835.6M238.0 841.8L238.4 841.6M244.8 841.4L242.5 840.7M206.7 835.6L209.4 834.7M206.7 835.6L207.1 836.3M209.9 838.4L209.6 838.8M209.4 840.8L209.6 838.8M204.8 838.7L207.1 836.3M220.2 845.1L215.5 846.1M209.5 840.9L212.0 841.3M212.0 841.3L212.4 845.8M211.6 846.3L212.4 845.8M226.0 786.5L224.7 787.3M226.0 786.5L229.7 787.2M224.7 787.3L223.4 789.3M230.4 790.0L230.2 787.6M230.4 790.0L230.0 790.4M230.0 790.4L226.6 792.9M223.4 789.3L226.6 792.9M229.7 787.2L230.2 787.6M230.4 790.0L232.7 791.4M232.7 791.4L230.7 793.7M226.8 794.0L226.6 792.9M229.1 795.1L230.3 794.7M230.7 793.7L230.3 794.7M246.3 791.4L248.7 789.8M247.1 787.8L248.8 789.7M248.7 789.8L248.8 789.7M249.4 790.6L248.7 789.8M249.9 793.7L245.8 793.5M245.8 793.5L246.3 791.4M231.9 747.4L230.6 748.5M233.5 749.7L233.4 749.8M233.4 749.8L230.3 749.0M235.7 748.1L233.9 749.6M233.0 746.2L231.9 747.4M233.9 749.6L233.5 749.7M229.2 746.0L230.7 744.6M229.2 746.0L225.1 745.3M230.7 744.6L227.5 743.6M227.5 743.6L224.9 744.4M225.1 745.3L224.9 744.4M230.6 748.5L229.2 746.0M225.1 747.9L225.1 745.3M225.1 747.9L228.2 751.8M228.2 751.8L230.3 749.0M221.2 740.0L224.9 744.4M235.8 752.6L228.4 753.9M234.4 751.4L232.3 751.6M232.3 751.6L228.4 753.4M228.4 753.4L228.4 753.9M238.2 751.0L236.3 751.9M228.9 755.9L228.3 754.3M228.3 754.3L228.4 753.9M228.2 751.8L228.4 753.4M225.5 754.4L228.3 754.3M225.4 763.0L221.4 764.3M225.4 763.0L222.5 760.6M222.5 760.6L222.0 760.6M222.0 760.6L220.5 762.2M221.0 764.2L221.4 764.3M225.7 766.2L226.0 763.3M225.7 766.2L221.4 764.3M228.5 756.9L222.5 760.6M228.6 761.1L226.0 763.3M221.3 758.3L222.0 760.6M217.3 757.4L217.4 758.7M220.4 762.2L220.5 762.2M220.0 768.1L224.2 768.9M219.9 766.9L221.0 764.2M225.7 766.2L226.1 767.2M226.1 767.2L224.2 768.9M228.5 767.2L231.4 767.4M228.5 767.2L227.5 767.6M227.5 767.6L228.4 770.5M228.4 770.5L230.0 771.6M231.4 767.4L232.5 770.7M230.0 771.6L232.3 770.9M232.3 770.9L232.5 770.7M230.3 762.6L231.6 767.2M229.8 762.4L228.5 767.2M231.6 767.2L231.4 767.4M224.2 768.9L224.1 772.7M226.0 773.5L228.4 770.5M226.0 773.5L225.2 773.8M225.2 773.8L224.1 772.7M229.4 774.0L230.0 771.6M229.4 774.0L226.0 773.5M248.3 771.0L247.2 771.3M253.2 785.7L248.8 789.7M248.3 771.0L250.5 774.3M253.2 785.7L247.9 784.4M253.8 780.0L247.5 782.5M247.9 784.4L247.5 782.5M247.8 779.2L246.4 780.6M247.5 782.5L246.4 780.6M245.9 786.0L244.9 786.2M245.9 786.0L246.6 785.4M244.9 786.2L244.9 782.5M246.6 785.4L244.9 782.5M247.1 787.8L245.9 786.0M247.9 784.4L246.6 785.4M210.6 745.7L209.0 748.2M207.3 744.6L205.2 746.5M205.2 746.5L206.1 748.8M206.1 748.8L207.4 749.2M206.1 748.8L204.9 750.9M205.6 752.6L205.8 753.8M228.9 779.7L229.9 774.7M228.9 779.7L228.2 779.8M228.2 779.8L226.3 777.8M229.4 774.0L229.9 774.7M225.2 773.8L225.1 775.8M226.3 777.8L225.1 775.8M223.1 781.4L222.7 781.3M223.1 781.4L224.1 786.4M222.7 781.3L221.5 783.9M224.1 786.4L221.5 783.9M228.2 779.8L227.1 781.1M227.1 781.1L223.1 781.4M226.3 777.8L221.0 779.7M221.0 779.7L222.7 781.3M226.0 786.5L227.1 781.1M224.7 787.3L224.1 786.4M223.4 789.3L222.4 789.6M217.9 785.8L218.0 786.1M218.1 784.0L221.5 783.9M213.7 787.8L210.4 789.7M209.7 784.9L210.8 784.4M209.7 784.9L209.5 789.1M210.8 784.4L212.9 787.0M214.8 785.8L213.5 787.4M212.2 783.1L210.8 784.4M215.3 789.7L213.7 787.8M212.9 792.1L212.0 791.9M212.0 791.9L210.4 789.7M226.8 794.0L226.6 794.3M219.7 800.0L216.1 803.8M217.4 799.6L219.3 799.1M216.1 803.8L215.5 802.9M219.3 799.1L219.7 799.6M218.1 796.1L217.7 793.8M218.1 796.1L219.0 797.0M221.6 794.4L221.5 795.2M219.0 797.0L221.5 795.2M226.6 794.3L224.6 797.5M217.4 799.6L215.1 798.9M215.5 802.9L213.4 801.6M215.1 798.9L213.0 800.6M218.1 796.1L215.1 796.8M219.3 799.1L219.0 797.0M213.8 795.2L213.8 795.6M215.1 796.8L213.8 795.6M185.3 747.0L184.0 746.0M185.3 747.0L185.2 750.5M182.4 747.3L181.2 749.8M181.2 749.8L182.7 751.5M185.0 751.7L185.2 750.5M186.2 747.0L185.3 747.0M184.0 743.3L184.0 746.0M187.4 748.2L185.2 750.5M179.0 744.4L182.4 747.3M181.0 754.6L182.7 751.5M186.8 752.9L185.0 751.7M205.2 746.5L202.8 746.5M201.3 744.3L201.4 743.7M201.4 743.7L202.0 742.3M202.0 742.0L202.0 742.3M198.9 741.3L199.0 742.4M199.0 742.4L195.8 742.8M194.8 741.8L195.8 742.8M192.4 744.2L194.8 741.8M202.0 742.0L198.9 741.3M201.4 743.7L199.0 742.4M201.3 744.3L197.6 745.4M197.6 745.4L195.8 742.8M197.6 745.4L197.3 746.6M199.6 762.7L199.9 760.8M199.9 760.8L202.1 758.8M202.1 758.8L204.9 759.2M206.1 759.5L203.5 763.9M206.1 759.5L205.5 759.1M197.4 751.3L198.5 751.2M197.3 746.6L199.4 749.9M199.4 749.9L198.5 751.2M202.8 746.5L201.3 749.5M204.9 750.9L201.8 750.0M201.3 749.5L201.8 750.0M205.1 754.6L203.7 754.6M201.8 750.0L202.3 753.4M197.1 756.8L199.3 753.6M197.1 756.8L197.6 757.1M197.6 757.1L201.3 756.7M199.3 753.6L199.4 753.6M199.4 753.6L201.5 756.2M195.5 756.8L197.1 756.8M198.5 751.2L199.3 753.6M199.9 760.8L197.6 757.1M202.1 758.8L201.3 756.7M202.3 753.4L199.4 753.6M203.7 754.6L201.5 756.2M205.1 754.6L205.5 759.1M170.0 750.3L170.7 750.0M170.0 750.3L170.1 752.8M170.7 750.0L172.6 752.3M170.1 752.8L170.6 753.3M170.6 753.3L172.6 752.8M172.6 752.3L172.6 752.8M173.6 745.8L170.7 750.0M169.1 750.3L170.0 750.3M176.7 749.2L172.6 752.3M167.2 753.6L170.3 755.5M167.2 753.6L170.1 752.8M170.3 755.5L170.6 753.3M170.5 755.8L170.3 755.5M170.5 755.8L172.3 757.3M174.9 756.9L172.6 752.8M155.9 754.5L157.0 753.6M155.9 754.5L157.3 756.2M157.0 753.6L159.2 756.1M157.3 756.2L159.2 756.1M155.3 754.5L155.9 754.5M158.3 749.8L157.0 753.6M155.7 757.5L157.3 756.2M159.4 751.7L159.7 756.1M159.4 751.7L162.0 753.7M162.0 753.7L160.0 756.4M159.7 756.1L160.0 756.4M158.6 749.7L159.4 751.7M159.2 756.1L159.7 756.1M160.4 757.0L160.0 756.4M165.4 752.1L165.9 753.4M165.4 752.1L162.8 753.4M162.8 753.4L162.3 757.2M162.3 757.2L165.2 757.8M165.4 757.5L165.2 757.8M165.2 757.8L165.2 757.8M165.3 751.5L165.4 752.1M167.2 753.6L165.9 753.4M162.0 753.7L162.8 753.4M160.4 757.0L162.3 757.2M164.7 759.2L165.2 757.8M164.7 759.2L160.0 761.4M169.7 759.7L168.1 759.5M168.1 759.5L165.2 757.8M153.4 839.5L150.4 835.5M153.4 839.5L152.4 840.3M152.4 840.3L151.5 839.9M151.5 839.9L149.2 837.4M149.2 837.4L150.4 835.5M152.0 841.9L152.4 840.3M156.6 839.7L154.8 838.8M146.4 839.9L151.5 839.9M145.4 837.5L149.2 837.4M165.7 831.2L166.8 830.5M164.4 830.8L163.6 824.8M165.1 824.1L163.6 824.8M165.1 824.1L168.7 824.7M166.8 830.5L168.6 828.0M168.7 824.7L168.6 828.0M166.7 817.2L168.5 817.9M165.8 817.8L165.1 824.1M170.8 821.0L171.5 822.8M174.6 828.1L172.5 826.0M175.6 823.6L173.5 822.6M171.5 822.9L172.5 826.0M158.9 815.2L159.7 815.6M160.7 820.4L158.4 819.3M158.9 815.2L157.3 814.1M157.3 814.1L156.5 814.2M156.6 818.8L157.1 819.2M157.1 819.2L158.4 819.3M163.5 838.0L163.5 838.6M157.9 839.3L162.3 840.3M163.5 838.6L162.3 840.3M159.7 845.1L161.7 843.6M161.7 843.6L162.1 842.7M162.3 840.3L162.1 842.7M172.1 848.2L173.1 846.3M172.1 848.2L170.8 849.6M169.4 840.0L169.4 840.9M169.4 840.9L170.8 849.6M210.1 813.4L209.6 814.9M210.1 813.4L212.2 818.0M209.6 814.9L211.6 818.0M212.2 818.0L211.6 818.0M214.5 811.9L215.4 813.0M214.5 811.9L211.7 811.9M211.7 811.9L210.3 812.6M206.3 817.5L207.5 820.6M208.6 816.5L210.6 818.0M210.6 818.0L207.9 820.6M205.7 823.2L207.5 820.6M209.6 814.9L208.6 816.5M211.6 818.0L210.6 818.0M214.5 811.9L215.5 807.6M211.0 805.3L215.5 807.6M211.0 805.3L209.7 805.4M211.7 811.9L210.6 809.8M209.7 805.4L210.6 809.8M170.8 821.0L174.0 817.3M173.5 822.6L176.3 818.7M188.8 810.0L191.6 807.6M191.2 811.9L190.4 812.3M191.2 811.9L192.9 807.9M189.2 805.8L191.6 807.6M189.2 805.8L187.3 808.6M187.3 808.6L187.5 809.2M187.5 809.2L188.8 810.0M189.5 814.8L190.4 812.3M194.7 812.2L191.2 811.9M193.5 817.9L195.0 816.0M195.0 816.0L195.8 813.4M195.3 808.1L194.7 812.2M193.7 807.6L192.9 807.9M189.1 802.9L189.2 805.8M185.8 812.9L183.7 814.3M185.8 812.9L188.7 815.1M183.7 814.3L186.6 817.5M188.7 815.1L186.6 817.5M189.5 814.8L188.7 815.1M187.5 809.2L185.5 811.9M185.5 811.9L185.8 812.9M188.0 826.3L191.0 830.8M187.9 830.6L188.9 831.1M188.9 831.1L191.0 830.8M191.2 824.1L188.9 824.1M212.0 770.9L210.3 770.1M209.4 771.0L210.3 770.1M209.4 771.0L209.9 772.9M212.7 775.3L209.9 772.9M208.1 784.3L206.7 782.1M208.1 784.3L204.3 787.4M206.7 782.1L203.7 783.9M204.3 787.4L203.0 785.5M212.0 780.1L206.4 780.3M209.7 784.9L208.1 784.3M206.4 780.3L206.7 782.1M204.3 790.0L204.3 790.1M204.3 790.0L204.3 787.4M204.3 790.1L205.5 790.3M205.5 790.3L209.5 789.1M195.6 790.3L195.6 789.0M202.1 792.5L198.6 788.4M195.6 789.0L198.6 788.4M191.3 787.2L195.5 788.8M195.6 789.0L195.5 788.8M204.3 790.0L199.6 787.5M204.3 790.1L202.4 792.5M177.6 789.6L177.3 789.5M178.9 789.1L177.6 789.6M177.1 787.1L176.1 787.8M166.2 762.9L168.4 764.9M166.2 762.9L167.9 762.6M167.9 762.6L169.4 764.7M168.4 764.9L169.4 764.7M165.5 762.6L166.2 762.9M167.5 761.7L167.9 762.6M169.9 764.7L171.3 763.7M169.9 764.7L169.4 764.7M167.5 761.7L168.1 759.5M170.2 767.2L171.5 768.6M170.2 767.2L167.4 769.4M167.4 769.4L170.3 770.1M171.5 768.6L171.3 769.7M170.3 770.1L171.3 769.7M173.4 767.6L173.2 768.0M168.8 780.0L166.8 781.2M166.8 781.2L163.7 779.2M164.5 777.4L163.7 779.1M163.7 779.1L163.7 779.2M167.4 786.4L163.7 779.2M167.4 786.4L169.2 786.9M169.2 786.9L166.8 781.2M162.1 780.1L163.7 779.1M159.9 775.3L163.3 775.0M163.3 775.0L164.5 777.4M172.1 782.1L169.2 786.9M172.1 782.1L172.4 781.8M172.4 781.8L176.1 783.3M176.1 783.3L175.8 787.7M175.8 787.7L170.3 788.2M170.3 788.2L169.3 787.3M169.2 786.9L169.2 786.9M168.8 780.0L172.1 782.1M176.1 787.8L175.8 787.7M178.5 783.3L176.1 783.3M167.2 790.0L169.3 787.3M172.4 781.8L172.8 780.6M178.7 777.8L172.8 780.6M171.7 829.1L171.3 832.0M171.7 829.1L171.4 828.9M171.4 828.9L171.3 828.9M171.3 828.9L170.1 831.0M170.1 831.0L171.3 832.0M171.3 832.0L171.3 832.0M174.1 829.8L171.7 829.1M174.5 832.5L171.3 832.0M174.5 832.5L174.9 832.0M172.5 826.0L171.4 828.9M168.6 828.0L171.3 828.9M166.8 830.5L170.1 831.0M168.8 834.7L171.3 832.0M174.2 833.8L174.5 832.5M249.7 801.1L252.5 805.1M252.5 805.1L252.4 805.1M252.4 805.1L247.7 804.5M247.7 804.5L246.8 802.0M245.4 801.1L245.5 801.3M245.5 801.3L246.8 802.0M250.5 800.1L249.7 801.1M246.2 809.8L245.9 809.4M245.9 809.4L246.5 808.2M246.5 808.2L252.4 805.1M243.2 817.7L240.4 817.5M241.8 814.0L238.5 815.0M238.5 815.0L240.4 817.5M239.9 803.2L241.0 803.7M241.0 803.7L240.9 806.4M236.5 805.2L238.4 806.1M240.9 806.4L238.4 806.1M219.6 809.0L219.7 808.8M211.0 805.3L213.4 801.6M216.8 806.3L217.0 805.9M219.7 800.0L219.8 802.0M219.8 802.0L219.6 805.0M217.0 805.9L219.6 805.0M231.6 828.6L235.1 827.3M233.2 822.7L235.1 822.3M239.8 829.6L242.4 830.8M242.4 830.8L243.9 829.8M244.0 829.1L243.9 829.8M244.0 825.7L245.6 827.7M244.0 829.1L245.6 827.7M247.2 825.7L246.4 827.3M245.6 827.7L246.4 827.3M251.4 833.7L246.2 837.6M249.7 832.9L248.5 832.6M248.5 832.6L241.9 834.0M242.4 835.7L241.3 834.8M241.3 834.8L241.9 834.0M251.9 833.7L251.4 833.7M246.4 827.3L249.7 832.9M245.0 841.1L246.2 837.6M243.9 829.8L248.5 832.6M242.4 830.8L241.9 834.0M241.0 834.9L241.3 834.8M195.6 835.4L199.7 833.8M195.6 835.4L195.5 833.5M195.8 832.6L198.7 833.0M199.7 833.7L199.7 833.8M201.5 828.2L201.2 831.1M201.2 831.1L199.7 833.7M197.7 842.7L196.3 840.1M196.3 840.1L196.7 837.4M201.0 836.5L199.7 833.8M195.6 835.4L195.3 835.8M196.7 837.4L195.3 835.8M206.3 835.2L208.9 832.1M205.1 834.8L204.8 833.2M208.9 832.1L206.6 832.4M206.6 832.4L204.9 833.0M206.7 835.6L206.3 835.2M201.9 837.1L205.1 834.8M201.2 831.1L204.8 833.2M205.6 830.7L206.6 832.4M205.6 830.7L204.9 833.0M181.7 824.3L182.6 823.4M181.7 824.3L184.1 827.8M182.6 823.4L183.8 823.6M222.5 834.3L219.5 834.6M219.5 834.6L220.3 836.4M220.3 839.7L218.6 839.3M218.6 839.3L217.9 836.3M217.9 836.3L220.3 836.4M218.8 843.4L219.0 843.6M219.0 843.6L214.8 845.1M214.5 844.8L214.8 845.1M217.0 841.1L218.8 843.4M214.3 842.8L214.5 843.2M219.7 843.9L219.0 843.6M215.5 846.1L214.8 845.1M212.7 841.3L212.0 841.3M220.9 822.0L218.5 819.4M218.9 830.6L216.9 831.6M219.5 834.6L217.6 834.0M216.9 831.6L217.6 834.0M217.9 836.3L217.7 836.1M217.6 834.0L217.7 836.1M215.2 838.6L215.1 837.5M217.7 836.1L215.1 837.5M233.3 783.1L230.6 783.1M233.3 783.1L233.2 784.5M233.2 784.5L230.7 783.7M230.6 783.1L230.7 783.7M234.5 786.8L230.2 787.6M229.7 787.2L230.7 783.7M228.9 779.7L229.2 779.8M229.2 779.8L230.6 783.1M202.3 780.8L204.4 779.5M195.5 788.8L196.4 784.9M199.6 787.5L200.0 784.7M203.0 785.5L200.1 784.6M201.1 781.0L202.3 780.8M200.3 781.7L200.1 784.6M197.2 780.7L195.4 781.2M197.2 780.7L200.3 781.7M195.4 783.4L195.4 781.2M212.8 757.8L210.6 758.5M212.8 757.8L212.1 755.7M210.6 758.5L211.0 755.7M212.1 755.7L211.0 755.7M216.7 756.7L213.8 759.0M214.6 754.3L212.1 755.7M213.8 759.0L212.8 757.8M210.5 755.4L209.5 753.2M210.5 755.4L211.0 755.7M213.6 759.8L214.7 760.7M212.9 760.2L212.4 762.6M212.4 762.6L215.2 762.1M215.2 761.5L215.2 762.1M213.8 759.0L213.6 759.8M210.5 758.6L210.6 758.5M210.5 758.6L212.2 760.1M212.2 760.1L212.9 760.2M217.4 758.7L214.7 760.7M216.4 761.0L215.2 761.5M247.6 777.6L246.0 776.2M247.6 777.6L248.8 776.5M249.1 775.2L245.9 773.7M245.9 773.7L246.0 776.2M247.8 779.2L247.6 777.6M250.5 774.3L249.1 775.2M243.1 778.2L246.0 776.2M229.2 779.8L230.9 779.6M233.3 783.1L234.1 780.9M230.9 779.6L234.1 780.9M208.1 756.2L209.5 756.1M207.1 759.9L207.3 760.0M210.5 755.4L209.5 756.1M205.6 754.2L208.1 756.2M206.1 759.5L207.1 759.9M210.5 758.6L208.3 759.3M208.5 762.2L212.2 760.1M205.1 765.7L208.6 762.8M220.0 768.1L219.2 768.9M219.2 768.9L217.6 771.2M224.1 772.7L221.0 773.1M217.6 771.2L217.5 771.8M221.0 773.1L217.5 771.8M213.7 776.1L212.7 775.3M213.7 776.1L217.2 772.4M214.2 771.1L217.4 771.9M212.7 775.3L212.7 775.3M217.6 771.2L214.6 766.9M214.2 771.1L213.7 767.0M213.7 767.0L214.6 766.9M209.5 799.9L207.2 796.0M209.5 799.9L211.0 799.5M213.8 795.6L211.5 797.2M213.0 800.6L211.0 799.5M195.5 801.6L197.9 803.8M200.5 799.4L200.8 799.6M200.8 799.6L197.9 803.8M195.0 807.4L198.2 805.3M203.4 794.5L207.1 796.1M207.1 796.1L205.7 798.3M152.8 833.4L154.7 831.9M154.8 838.8L154.9 837.7M150.6 828.6L155.6 828.8M156.6 826.4L159.0 826.1M156.6 826.4L155.2 824.2M156.9 822.3L160.7 821.1M156.9 822.3L155.1 823.9M159.0 826.1L161.8 824.2M155.1 823.9L155.2 824.2M161.8 824.2L160.7 821.1M160.7 820.4L160.7 821.1M157.1 819.2L156.9 822.3M152.7 820.6L155.1 823.9M165.5 842.5L166.3 846.1M167.3 842.9L170.2 849.8M166.3 846.1L170.2 849.8M166.6 840.4L166.4 841.6M162.1 842.7L165.5 842.5M161.7 843.6L166.3 846.1M169.4 840.9L167.3 842.9M170.5 850.2L170.8 849.6M170.5 850.2L170.2 849.8M195.3 808.1L198.0 810.4M195.8 813.4L196.1 813.3M196.1 813.3L197.8 812.5M198.0 810.4L197.8 812.5M196.1 813.3L199.1 815.8M197.8 812.5L198.0 812.6M195.0 816.0L199.2 816.5M199.1 815.8L199.2 816.5M200.1 820.6L199.7 817.0M194.9 821.1L193.5 818.2M205.1 816.7L204.7 815.4M204.7 815.4L202.0 815.0M198.0 812.6L201.1 811.8M199.2 814.0L201.3 814.0M202.0 815.0L201.3 814.0M166.7 817.1L167.5 813.1M167.5 813.1L165.1 810.5M165.1 810.5L164.5 810.2M164.5 810.2L162.6 811.0M157.3 814.1L160.0 810.3M155.6 807.8L160.0 810.2M160.0 810.3L160.0 810.2M160.1 796.7L162.9 798.0M160.1 796.7L158.6 802.0M162.9 798.0L158.9 802.1M159.1 796.0L160.1 796.7M163.8 798.1L162.9 798.0M173.7 800.3L176.4 798.0M182.3 795.3L179.9 799.1M183.2 801.4L183.5 801.4M183.2 801.4L179.9 799.4M179.9 799.4L179.9 799.1M178.0 796.9L179.0 798.3M179.9 799.1L179.0 798.3M176.4 798.0L179.0 798.3M168.5 817.9L171.4 816.0M178.4 822.8L179.4 818.6M178.3 843.7L178.6 845.5M180.4 844.1L179.5 846.4M178.6 845.5L179.1 846.2M179.5 846.4L179.1 846.2M175.4 847.7L175.5 847.7M175.5 847.7L178.6 845.5M175.5 847.7L179.1 846.2M192.6 842.5L193.9 838.8M193.9 838.8L192.2 836.3M191.3 837.2L191.5 836.3M192.2 836.3L191.7 836.2M191.7 836.2L191.5 836.3M198.4 844.3L195.9 844.7M195.3 835.8L192.2 836.3M188.9 831.1L186.1 834.6M187.4 836.4L186.1 834.6M155.2 768.2L159.8 767.8M156.4 764.8L159.2 765.6M159.8 767.8L159.9 767.1M159.2 765.6L159.9 767.1M159.6 774.6L160.5 770.7M159.8 767.8L160.2 769.6M160.1 770.4L160.2 769.6M160.5 770.7L163.5 772.6M170.1 770.6L166.7 771.4M170.1 770.6L170.0 771.0M170.0 771.0L168.3 772.8M166.7 771.4L168.3 772.8M242.1 788.5L241.8 791.9M243.0 788.2L244.9 789.9M245.8 793.5L245.2 794.3M241.8 791.9L242.2 792.3M242.2 792.3L245.2 794.3M246.8 796.7L245.2 794.3M245.2 794.3L245.2 794.3M232.6 821.7L231.5 818.0M228.8 821.1L230.0 817.4M223.6 821.0L224.4 818.2M230.0 817.4L229.6 817.1M224.4 818.2L228.1 816.5M243.5 806.2L241.1 806.5M243.5 806.2L245.5 809.3M241.1 806.5L240.8 809.2M241.3 810.5L240.8 809.2M243.3 804.4L243.5 806.2M243.3 804.4L241.0 803.7M240.9 806.4L241.1 806.5M245.9 809.4L245.5 809.3M245.5 801.3L243.3 804.4M238.4 806.1L240.8 809.2M237.2 804.2L236.7 799.0M235.1 797.7L235.7 798.1M235.1 797.7L232.2 799.7M236.7 799.0L235.7 798.1M229.1 795.1L229.2 795.3M230.3 794.7L234.3 795.4M229.2 795.3L232.2 799.7M234.3 795.4L235.1 797.6M232.2 799.7L232.2 799.7M231.4 811.3L230.5 811.6M230.5 811.6L229.6 817.1M234.0 812.2L234.7 814.8M219.7 808.8L221.5 808.8M219.6 805.0L220.7 805.1M221.5 808.8L221.8 807.8M221.8 807.8L221.0 805.3M220.7 805.1L221.0 805.3M219.8 802.0L221.9 802.5M229.2 795.3L227.9 799.8M231.0 800.5L232.2 799.7M227.9 799.8L228.9 800.3M243.0 821.6L239.9 821.0M239.8 822.5L238.2 824.0M202.4 769.8L205.1 769.8M201.6 771.2L206.5 772.0M205.1 769.8L206.5 772.0M205.1 765.7L205.9 767.0M202.1 768.3L202.4 769.8M205.9 767.0L205.1 769.8M205.9 767.0L210.2 768.7M209.4 771.0L206.6 772.1M210.2 768.7L210.3 770.1M206.6 772.1L206.5 772.0M212.1 778.9L209.2 777.1M206.2 780.0L207.4 777.7M207.4 777.7L209.2 777.1M213.7 776.3L213.7 776.1M212.7 775.3L209.6 775.5M209.2 777.1L209.6 775.5M209.9 772.9L209.4 775.2M209.4 775.2L209.6 775.5M194.8 775.3L194.8 775.7M192.7 777.3L193.7 777.5M197.7 771.0L197.8 771.1M201.6 771.2L200.7 772.1M197.8 771.1L200.7 772.1M206.6 772.1L206.2 773.1M202.9 773.8L206.2 773.1M202.9 773.8L201.1 773.0M200.7 772.1L201.1 773.0M209.3 763.4L212.3 762.9M209.3 763.4L211.0 767.3M211.0 767.3L212.1 766.9M212.1 766.9L213.2 763.9M212.3 762.9L213.2 763.9M208.6 762.8L209.3 763.4M212.4 762.6L212.3 762.9M210.2 768.7L211.0 767.3M213.7 767.0L212.1 766.9M214.2 763.9L215.2 766.2M216.9 763.7L216.9 764.9M215.8 765.9L215.2 766.2M215.2 762.1L215.4 762.8M213.2 763.9L214.2 763.9M218.5 762.8L216.9 763.7M214.6 766.9L215.2 766.2M219.9 766.9L216.9 764.9M219.2 768.9L215.8 765.9M244.9 782.5L244.7 781.9M236.1 777.4L235.1 777.4M236.1 777.4L238.1 780.6M235.1 777.4L235.1 780.9M235.1 780.9L237.5 781.7M238.1 780.6L237.6 781.5M237.5 781.7L237.6 781.5M230.9 779.6L231.8 778.5M234.1 780.9L235.1 780.9M231.8 778.5L234.2 776.5M234.2 776.5L235.1 777.4M236.5 787.3L237.0 787.2M236.5 787.3L234.5 786.8M234.8 774.5L231.8 773.7M234.4 775.3L232.0 775.4M232.0 775.4L230.8 774.6M231.8 773.7L230.8 774.6M234.2 776.5L234.4 775.3M232.3 770.9L231.8 773.7M232.5 770.7L233.1 770.8M231.8 778.5L232.0 775.4M229.9 774.7L230.8 774.6M220.1 779.3L218.6 779.7M218.6 779.7L217.6 773.7M217.6 773.7L221.3 777.1M221.3 777.1L221.3 777.1M221.0 779.7L220.1 779.3M221.0 773.1L221.3 777.1M167.5 813.1L168.3 812.7M168.3 812.7L172.2 813.5M156.9 806.3L160.5 805.0M158.9 802.1L160.7 804.2M160.7 804.2L160.5 805.0M160.0 810.2L160.8 805.8M185.5 811.9L183.8 811.1M185.1 807.6L183.8 811.1M185.3 805.8L184.5 807.1M185.1 807.6L184.5 807.1M178.4 805.5L177.3 802.5M179.0 806.0L182.0 805.6M182.0 805.6L177.3 802.2M177.3 802.5L177.3 802.2M177.3 802.2L177.3 802.2M176.4 807.7L178.4 805.5M176.4 807.7L175.4 804.9M175.4 804.9L177.3 802.5M179.3 809.0L179.0 806.0M183.2 801.4L182.3 805.6M179.9 799.4L177.3 802.2M182.3 805.6L182.0 805.6M172.3 806.0L172.0 804.1M172.3 806.0L175.4 804.9M175.1 801.4L177.3 802.2M173.7 800.3L175.1 801.4M181.7 819.9L184.8 817.5M186.6 817.5L184.8 817.5M191.4 842.2L190.2 842.5M191.3 837.2L188.0 841.6M190.2 842.5L189.3 846.8M190.7 849.5L189.3 846.8M180.8 844.0L182.9 845.0M180.4 844.1L180.8 844.0M189.3 846.8L187.3 845.7M186.0 834.6L182.9 837.3M186.0 834.6L181.9 831.5M182.9 837.3L180.7 832.1M181.9 831.5L180.8 831.7M180.8 831.7L180.7 832.1M186.1 834.6L186.0 834.6M183.2 830.3L181.9 831.5M178.9 836.2L180.7 832.1M180.4 831.4L180.8 831.7M180.8 824.5L181.7 824.3M164.7 759.2L164.5 761.5M160.0 761.4L160.3 761.9M166.0 770.9L167.1 769.4M166.0 770.9L165.6 771.0M165.6 771.0L163.9 768.2M167.1 769.4L166.4 766.0M163.9 768.2L163.8 765.8M166.4 766.0L164.2 765.4M164.2 765.4L163.8 765.8M167.4 769.4L167.1 769.4M170.3 770.1L170.1 770.6M166.7 771.4L166.0 770.9M160.2 769.6L163.9 768.2M163.5 772.6L165.6 771.0M168.4 764.9L166.4 766.0M180.0 767.9L177.8 771.2M177.8 771.2L177.4 773.5M177.8 771.2L175.3 769.5M173.2 768.0L174.5 769.8M171.3 769.7L172.4 771.3M174.5 769.8L173.7 771.7M172.4 771.3L173.7 771.7M170.0 771.0L171.0 772.4M172.4 771.3L171.0 772.4M171.0 772.4L169.5 774.8M177.4 773.5L174.2 772.6M173.7 771.7L174.2 772.6M169.6 775.1L169.5 774.8M172.3 777.7L174.9 776.1M172.3 777.7L171.0 775.8M171.0 775.8L173.3 773.8M172.8 780.6L172.3 777.7M234.5 794.5L234.1 791.6M236.5 787.3L234.5 791.1M234.5 791.1L234.1 791.6M238.9 792.6L238.2 793.0M238.9 792.6L239.3 792.8M239.3 792.8L240.3 795.6M238.2 793.0L238.1 793.1M238.1 793.1L237.7 795.5M237.3 787.3L237.0 787.2M237.3 787.3L238.9 792.6M234.5 791.1L238.2 793.0M242.1 788.5L239.0 787.4M241.8 791.9L239.3 792.8M242.2 792.3L240.6 795.8M240.5 795.7L240.3 795.6M234.5 794.5L238.1 793.1M235.7 798.1L240.5 795.7M242.0 796.7L241.3 796.6M242.0 796.7L243.4 800.2M241.3 796.6L238.9 798.9M238.9 798.9L240.9 801.0M240.6 795.8L241.3 796.6M245.4 801.1L243.4 800.2M236.7 799.0L238.9 798.9M239.9 803.2L240.9 801.0M226.8 810.9L226.8 813.5M226.3 810.3L222.6 811.2M226.8 813.5L221.9 815.2M222.6 811.2L220.1 814.1M220.1 814.1L221.9 815.2M230.5 811.6L226.8 810.9M228.1 816.5L226.8 813.5M224.4 818.2L221.9 815.2M219.6 814.2L220.1 814.1M221.5 808.8L222.6 811.2M221.8 807.8L224.9 807.6M226.3 810.3L226.6 808.6M224.9 807.6L226.6 808.6M221.0 805.3L223.0 804.9M224.9 807.6L223.0 804.9M231.0 800.5L230.9 803.8M238.2 814.9L237.6 814.7M238.2 814.9L241.2 810.7M237.6 814.7L238.1 810.2M238.1 810.2L241.3 810.6M241.2 810.7L241.3 810.6M241.8 813.1L241.2 810.7M234.0 812.2L235.9 809.0M235.9 809.0L238.1 810.2M234.7 814.8L235.2 815.0M235.2 815.0L237.6 814.7M241.3 810.5L241.3 810.6M236.6 819.6L236.0 820.6M238.9 819.2L239.6 820.8M239.6 820.8L237.5 823.2M236.0 820.6L235.8 821.9M235.8 821.9L237.5 823.2M231.5 818.0L236.0 820.6M235.2 815.0L236.6 819.6M240.4 817.5L238.9 819.2M239.9 821.0L239.6 820.8M235.1 822.3L235.8 821.9M216.6 831.6L215.4 831.7M216.9 831.6L216.6 831.6M214.7 832.0L215.4 831.7M207.0 776.5L208.7 775.0M207.0 776.5L206.2 775.2M206.2 775.2L206.2 773.5M208.7 775.0L206.2 773.5M209.4 775.2L208.7 775.0M203.5 777.3L203.6 776.9M203.6 776.9L206.2 775.2M202.9 773.8L203.6 776.9M206.2 773.1L206.2 773.5M191.9 781.4L191.5 785.2M187.8 784.1L187.1 782.7M187.8 784.1L191.0 785.9M191.0 785.9L191.5 785.2M194.1 778.3L193.7 777.5M194.1 778.3L194.7 780.6M194.7 780.6L191.9 781.4M190.5 779.7L190.6 781.0M186.8 782.5L187.1 782.7M195.4 783.4L191.5 785.2M195.4 781.2L194.7 780.6M187.2 785.2L187.8 784.1M191.3 787.2L191.0 785.9M197.1 775.6L197.3 777.6M197.5 775.4L200.0 776.2M198.3 778.2L197.3 777.6M198.3 778.2L199.9 777.5M199.9 777.5L200.2 776.9M200.2 776.9L200.0 776.2M194.8 775.7L197.1 775.6M197.8 771.1L197.5 775.4M197.2 780.7L198.3 778.2M203.5 777.3L200.2 776.9M231.6 767.2L233.5 766.1M230.9 762.6L233.5 764.5M238.1 780.6L238.2 780.4M237.6 781.5L241.8 782.8M239.0 787.4L241.9 783.7M241.8 782.8L241.9 783.7M206.4 807.5L202.6 806.7M206.4 807.5L206.8 808.4M206.8 808.4L206.8 808.5M206.8 808.5L205.6 813.0M202.0 807.9L202.3 810.0M202.0 807.9L202.1 807.1M202.3 810.0L205.6 813.0M202.1 807.1L202.6 806.7M210.3 812.6L209.7 812.6M209.7 812.6L206.8 808.5M209.7 812.6L205.6 813.0M198.0 810.4L202.0 807.9M201.1 811.8L202.3 810.0M198.2 805.3L202.1 807.1M204.7 815.4L205.6 813.0M202.7 806.3L202.6 806.7M165.1 810.5L168.7 809.2M164.5 810.2L164.9 808.4M168.7 809.2L168.0 807.1M168.0 807.1L164.9 808.4M160.8 805.8L164.5 807.5M164.9 808.4L164.5 807.5M170.1 801.5L168.4 805.7M172.3 806.0L172.1 806.4M172.1 806.4L168.6 806.0M168.4 805.7L168.6 806.0M163.9 802.7L165.5 803.9M163.9 802.7L164.3 798.4M165.7 803.9L165.5 803.9M165.7 803.9L169.8 800.5M169.8 800.5L169.9 799.7M169.9 799.7L164.7 798.3M164.7 798.3L164.3 798.4M160.7 804.2L163.9 802.7M164.5 807.5L165.5 803.9M163.8 798.1L164.3 798.4M168.0 807.1L168.6 806.0M170.1 801.5L169.8 800.5M171.4 798.5L169.9 799.7M182.9 806.7L183.2 806.8M180.9 811.9L183.1 811.2M182.3 805.6L182.9 806.7M184.5 807.1L183.2 806.8M183.8 811.1L183.1 811.2M182.6 821.0L182.6 820.9M182.6 820.9L186.6 818.0M186.6 818.0L187.5 820.7M187.5 820.7L187.5 821.1M187.5 821.1L187.0 821.2M182.6 823.4L182.6 821.0M183.8 823.6L187.0 821.2M181.7 819.9L182.6 820.9M186.6 817.5L186.6 818.0M193.5 818.2L187.5 820.7M188.9 824.1L187.5 821.1M182.2 849.0L183.0 846.1M183.0 846.1L186.1 846.2M182.9 845.0L183.0 846.1M187.3 845.7L186.1 846.2M160.5 762.9L164.1 765.2M160.5 762.9L160.5 762.8M160.5 762.8L164.7 762.4M164.1 765.2L164.8 762.5M164.8 762.5L164.7 762.4M159.2 765.6L160.5 762.9M164.2 765.4L164.1 765.2M160.3 761.9L160.5 762.8M164.5 761.5L164.7 762.4M223.0 804.9L224.3 803.6M226.6 808.6L226.9 808.2M224.8 803.7L224.3 803.6M224.8 803.7L227.3 806.7M227.8 803.3L226.4 802.9M227.8 803.3L228.7 805.1M226.4 802.9L224.8 803.7M227.8 803.3L228.9 800.3M230.9 803.8L229.0 805.1M219.7 799.6L221.7 799.6M221.9 802.5L222.3 802.2M244.0 782.3L243.7 782.3M244.0 782.3L244.7 786.2M243.7 782.3L243.5 785.2M243.5 785.2L244.5 786.3M244.5 786.3L244.7 786.2M244.7 781.9L244.0 782.3M242.3 782.3L243.7 782.3M244.9 786.2L244.7 786.2M241.9 783.7L243.5 785.2M243.0 788.2L244.5 786.3M169.2 811.1L174.2 811.1M169.2 811.1L169.2 809.6M169.2 809.6L172.5 808.3M172.5 808.3L174.3 810.5M168.3 812.7L169.2 811.1M168.7 809.2L169.2 809.6M172.1 806.4L172.5 808.3M234.8 806.3L231.4 810.7M231.4 810.7L230.9 808.4M229.0 805.1L231.8 807.4M231.4 811.3L231.4 810.7M224.2 803.3L226.2 799.7M224.2 803.3L223.9 803.0M223.9 803.0L223.4 799.1M224.3 803.6L224.2 803.3M222.3 802.2L223.9 803.0M221.7 799.6L223.4 799.1M227.9 799.8L226.2 799.6M224.6 797.5L224.5 798.4" stroke="#ac4cbe" stroke-width="0.95" fill="none" stroke-linecap="round" stroke-linejoin="round"/>
<path d="M186.8 752.9h.01M152.4 749.1h.01M151.2 746.9h.01M159.4 749.1h.01M153.8 767.0h.01M153.2 762.9h.01M152.0 841.9h.01M150.2 813.8h.01M159.1 796.0h.01M146.1 794.7h.01M150.3 791.5h.01M145.4 790.3h.01M238.6 843.4h.01M193.9 822.5h.01M191.2 824.1h.01M220.9 822.0h.01M233.2 822.7h.01M235.3 747.0h.01M199.6 762.7h.01M151.1 746.8h.01M151.1 746.6h.01M187.4 748.2h.01M183.9 783.5h.01M185.3 766.0h.01M186.0 767.5h.01M185.2 767.2h.01M194.3 770.1h.01M190.1 758.4h.01M146.4 755.3h.01M152.0 755.1h.01M150.7 754.9h.01M152.7 766.9h.01M149.1 767.0h.01M160.3 746.8h.01M150.9 842.6h.01M157.9 839.3h.01M181.6 787.1h.01M145.9 765.3h.01M149.0 815.1h.01M148.3 817.5h.01M154.0 813.3h.01M156.8 798.2h.01M155.3 798.4h.01M159.4 789.0h.01M152.9 788.0h.01M153.6 786.3h.01M182.2 782.1h.01M179.8 786.8h.01M178.6 783.4h.01M180.7 785.9h.01M146.6 770.5h.01M148.6 767.3h.01M145.4 804.1h.01M147.6 800.2h.01M147.1 775.4h.01M147.0 788.9h.01M201.5 828.2h.01M228.1 832.6h.01M228.4 836.7h.01M227.4 833.6h.01M221.3 837.8h.01M230.1 837.7h.01M232.4 842.1h.01M240.6 835.6h.01M230.6 825.6h.01M230.8 827.0h.01M230.4 790.0h.01M220.0 768.1h.01M241.5 752.7h.01M239.1 749.7h.01M243.8 747.4h.01M243.4 747.3h.01M235.7 748.1h.01M199.2 763.0h.01M195.2 762.6h.01M194.0 765.5h.01M244.6 758.2h.01M217.3 757.4h.01M219.1 751.8h.01M225.1 747.9h.01M220.9 753.2h.01M228.2 751.8h.01M230.0 790.4h.01M228.2 779.8h.01M223.4 789.3h.01M195.4 795.9h.01M204.3 790.1h.01M214.5 811.9h.01M213.1 820.3h.01M212.9 818.2h.01M209.6 821.3h.01M206.0 825.5h.01M176.9 755.0h.01M188.2 748.4h.01M193.9 755.9h.01M185.4 782.7h.01M186.8 782.5h.01M191.9 771.4h.01M186.4 763.4h.01M186.9 753.6h.01M184.7 758.4h.01M185.4 758.3h.01M194.0 762.8h.01M194.3 763.7h.01M149.1 761.4h.01M149.5 761.2h.01M149.4 760.9h.01M148.6 755.8h.01M176.8 749.1h.01M153.0 755.3h.01M154.1 755.4h.01M145.4 837.5h.01M145.6 839.2h.01M146.4 839.9h.01M163.5 838.0h.01M194.7 812.2h.01M194.9 821.1h.01M193.5 818.2h.01M193.5 817.9h.01M156.5 814.2h.01M155.5 807.4h.01M186.5 797.4h.01M192.5 795.1h.01M188.6 802.4h.01M190.2 803.0h.01M192.9 795.9h.01M183.2 784.4h.01M186.4 801.1h.01M170.5 835.7h.01M217.9 785.8h.01M212.2 783.1h.01M212.0 780.1h.01M182.1 791.7h.01M149.2 796.4h.01M148.7 778.2h.01M159.2 775.9h.01M158.1 785.4h.01M162.1 780.1h.01M178.5 766.2h.01M178.4 766.0h.01M176.0 760.2h.01M173.7 763.7h.01M154.9 767.4h.01M155.2 768.2h.01M159.9 775.3h.01M176.2 767.7h.01M149.0 772.2h.01M149.6 768.4h.01M151.5 769.2h.01M152.0 770.0h.01M150.0 799.0h.01M149.9 799.1h.01M151.0 802.4h.01M153.2 777.9h.01M152.4 777.1h.01M156.3 774.3h.01M152.6 773.0h.01M149.0 772.4h.01M153.0 774.8h.01M152.6 775.6h.01M145.6 780.1h.01M148.5 788.1h.01M150.3 783.7h.01M149.8 782.6h.01M147.8 781.4h.01M147.2 781.7h.01M180.4 831.4h.01M223.6 821.0h.01M229.1 795.1h.01M245.2 813.9h.01M196.5 827.1h.01M201.9 837.1h.01M186.9 827.3h.01M224.2 843.6h.01M230.2 839.3h.01M230.9 830.9h.01M231.4 830.0h.01M235.2 839.9h.01M238.0 841.8h.01M224.8 827.6h.01M225.0 827.3h.01M209.4 840.8h.01M207.3 841.4h.01M212.7 841.3h.01M229.4 774.0h.01M229.9 774.7h.01M219.9 766.9h.01M238.2 751.0h.01M239.1 751.6h.01M238.2 753.7h.01M236.7 755.4h.01M203.8 766.3h.01M202.1 768.3h.01M199.3 765.7h.01M197.3 771.0h.01M201.7 763.0h.01M225.7 766.2h.01M230.3 762.6h.01M229.8 762.4h.01M226.1 767.2h.01M224.2 768.9h.01M232.2 761.8h.01M233.3 761.8h.01M234.0 757.3h.01M214.3 747.3h.01M213.7 750.6h.01M206.1 748.8h.01M216.4 761.0h.01M212.6 751.4h.01M233.9 749.6h.01M225.2 773.8h.01M218.5 779.7h.01M222.4 789.6h.01M221.1 791.1h.01M210.8 784.4h.01M209.5 789.1h.01M219.7 800.0h.01M217.4 799.6h.01M211.0 805.3h.01M216.1 803.8h.01M215.5 802.9h.01M215.5 807.6h.01M215.4 813.0h.01M216.3 814.1h.01M205.1 816.7h.01M182.0 756.0h.01M197.3 746.6h.01M187.9 752.2h.01M199.9 760.8h.01M180.8 758.8h.01M180.8 758.8h.01M179.4 760.2h.01M180.0 760.9h.01M146.2 757.5h.01M174.9 756.9h.01M169.1 750.3h.01M155.3 754.5h.01M154.2 749.6h.01M158.3 749.8h.01M154.8 838.8h.01M165.8 817.8h.01M165.1 824.1h.01M149.9 826.3h.01M149.0 827.7h.01M149.0 827.4h.01M170.4 839.4h.01M168.8 834.7h.01M168.2 839.9h.01M156.6 818.8h.01M156.4 815.5h.01M152.3 820.4h.01M158.4 802.0h.01M193.3 803.7h.01M195.0 807.4h.01M187.3 808.6h.01M187.5 809.2h.01M185.5 811.9h.01M184.5 785.7h.01M183.2 801.4h.01M183.5 801.4h.01M185.3 805.8h.01M166.8 830.5h.01M187.9 830.6h.01M197.7 842.7h.01M174.2 837.8h.01M212.0 770.9h.01M212.1 778.9h.01M191.3 787.2h.01M145.9 753.4h.01M145.5 753.7h.01M146.7 750.5h.01M152.3 792.4h.01M156.0 793.1h.01M155.8 791.3h.01M151.1 794.8h.01M151.2 794.7h.01M158.0 778.5h.01M161.3 779.9h.01M156.1 778.8h.01M156.3 776.7h.01M155.8 781.7h.01M158.4 779.3h.01M182.9 768.6h.01M164.7 759.2h.01M169.9 764.7h.01M171.3 763.7h.01M168.1 759.5h.01M160.0 761.4h.01M156.4 764.8h.01M155.9 761.7h.01M157.1 771.9h.01M157.1 771.9h.01M173.2 768.0h.01M178.9 782.5h.01M179.5 778.8h.01M174.6 828.1h.01M173.5 822.6h.01M171.5 822.8h.01M178.8 827.9h.01M178.4 822.8h.01M245.4 801.1h.01M245.5 801.3h.01M243.3 804.4h.01M241.0 803.7h.01M225.3 825.1h.01M225.2 822.0h.01M228.3 822.1h.01M237.7 832.3h.01M237.2 832.2h.01M237.4 832.3h.01M242.4 830.8h.01M242.8 824.2h.01M243.9 829.0h.01M243.0 822.2h.01M198.1 837.3h.01M201.0 836.5h.01M181.7 824.3h.01M184.1 827.8h.01M229.4 842.2h.01M226.1 840.0h.01M217.2 839.9h.01M218.6 839.3h.01M215.2 838.6h.01M214.3 842.8h.01M220.4 839.8h.01M220.1 842.8h.01M221.0 836.6h.01M221.9 832.3h.01M223.3 830.1h.01M223.6 827.8h.01M232.1 832.9h.01M235.6 835.5h.01M235.7 837.2h.01M239.4 836.3h.01M209.9 838.4h.01M209.6 838.8h.01M234.5 786.8h.01M230.2 787.6h.01M244.9 789.9h.01M231.9 747.4h.01M230.3 749.0h.01M236.3 751.9h.01M235.8 752.6h.01M228.4 753.4h.01M228.4 753.9h.01M208.5 762.2h.01M210.5 758.6h.01M225.4 763.0h.01M222.5 760.6h.01M220.5 762.2h.01M221.0 764.2h.01M230.0 771.6h.01M232.3 770.9h.01M239.0 787.4h.01M205.6 754.2h.01M205.8 753.8h.01M226.3 777.8h.01M225.1 775.8h.01M223.1 781.4h.01M222.7 781.3h.01M224.1 786.4h.01M221.5 783.9h.01M212.9 787.0h.01M213.5 787.4h.01M221.6 794.4h.01M226.6 794.3h.01M219.3 799.1h.01M219.7 799.6h.01M219.0 797.0h.01M221.5 795.2h.01M182.4 747.3h.01M185.2 750.5h.01M205.1 754.6h.01M204.9 759.2h.01M199.4 749.9h.01M198.5 751.2h.01M197.6 757.1h.01M199.4 753.6h.01M201.5 756.2h.01M170.0 750.3h.01M170.7 750.0h.01M170.6 753.3h.01M172.6 752.3h.01M155.9 754.5h.01M157.0 753.6h.01M157.3 756.2h.01M159.4 751.7h.01M159.7 756.1h.01M160.0 756.4h.01M162.3 757.2h.01M165.2 757.8h.01M165.2 757.8h.01M153.4 839.5h.01M151.5 839.9h.01M149.2 837.4h.01M168.7 824.7h.01M171.5 822.9h.01M168.6 828.0h.01M160.7 820.4h.01M157.1 819.2h.01M155.6 828.8h.01M162.3 840.3h.01M162.1 842.7h.01M169.4 840.9h.01M211.6 818.0h.01M208.6 816.5h.01M207.9 820.6h.01M210.6 809.8h.01M163.8 798.1h.01M191.2 811.9h.01M192.9 807.9h.01M191.6 807.6h.01M183.7 814.3h.01M188.7 815.1h.01M188.9 831.1h.01M191.0 830.8h.01M187.4 836.4h.01M186.1 834.6h.01M209.4 771.0h.01M210.2 768.7h.01M210.3 770.1h.01M217.6 771.2h.01M214.2 771.1h.01M212.7 775.3h.01M212.7 775.3h.01M209.9 772.9h.01M208.1 784.3h.01M206.7 782.1h.01M203.7 783.9h.01M195.5 788.8h.01M177.6 789.6h.01M153.4 794.9h.01M166.2 762.9h.01M167.9 762.6h.01M167.4 769.4h.01M167.4 786.4h.01M169.2 786.9h.01M166.4 777.3h.01M166.8 781.2h.01M163.7 779.2h.01M176.1 783.3h.01M169.3 787.3h.01M172.8 780.6h.01M171.3 828.9h.01M171.3 832.0h.01M238.5 815.0h.01M240.9 806.4h.01M238.4 806.1h.01M231.4 811.3h.01M216.8 806.3h.01M219.6 805.0h.01M235.1 827.3h.01M235.1 822.3h.01M244.0 829.1h.01M243.9 829.8h.01M242.4 835.7h.01M241.3 834.8h.01M195.6 835.4h.01M199.7 833.7h.01M196.7 837.4h.01M206.3 835.2h.01M208.9 832.1h.01M206.6 832.4h.01M204.8 833.2h.01M204.9 833.0h.01M220.3 836.4h.01M219.0 843.6h.01M214.5 843.2h.01M216.9 831.6h.01M217.7 836.1h.01M201.1 781.0h.01M203.5 777.3h.01M194.8 775.7h.01M197.2 780.7h.01M200.3 781.7h.01M200.0 784.7h.01M195.4 783.4h.01M214.6 766.9h.01M212.8 757.8h.01M210.6 758.5h.01M212.1 755.7h.01M212.4 762.6h.01M215.2 761.5h.01M230.9 779.6h.01M208.1 756.2h.01M208.3 759.3h.01M217.2 772.4h.01M217.5 771.8h.01M211.0 799.5h.01M200.8 799.6h.01M201.5 799.7h.01M198.2 805.3h.01M202.8 798.0h.01M205.7 798.3h.01M156.6 826.4h.01M159.0 826.1h.01M165.5 842.5h.01M198.0 810.4h.01M197.8 812.5h.01M199.1 815.8h.01M199.7 817.0h.01M199.2 816.5h.01M201.1 811.8h.01M167.5 813.1h.01M164.5 810.2h.01M162.6 811.0h.01M160.1 796.7h.01M162.9 798.0h.01M158.6 802.0h.01M158.9 802.1h.01M170.1 801.5h.01M179.9 799.4h.01M182.3 805.6h.01M193.9 838.8h.01M191.3 837.2h.01M192.2 836.3h.01M191.5 836.3h.01M159.2 765.6h.01M160.2 769.6h.01M163.5 772.6h.01M170.0 771.0h.01M168.3 772.8h.01M242.2 792.3h.01M245.2 794.3h.01M235.7 798.1h.01M240.5 795.7h.01M231.5 818.0h.01M231.0 817.4h.01M230.5 811.6h.01M229.6 817.1h.01M228.1 816.5h.01M221.5 808.8h.01M243.5 806.2h.01M241.1 806.5h.01M240.8 809.2h.01M235.9 809.0h.01M220.7 805.1h.01M221.0 805.3h.01M227.9 799.8h.01M228.9 800.3h.01M239.8 822.5h.01M238.2 824.0h.01M209.2 777.1h.01M202.9 773.8h.01M203.6 776.9h.01M194.1 778.3h.01M209.3 763.4h.01M211.0 767.3h.01M212.3 762.9h.01M213.2 763.9h.01M215.4 762.8h.01M214.2 763.9h.01M216.9 763.7h.01M244.7 781.9h.01M235.1 777.4h.01M235.1 780.9h.01M238.1 780.6h.01M237.5 781.7h.01M231.8 773.7h.01M221.3 777.1h.01M209.7 812.6h.01M160.7 804.2h.01M172.3 806.0h.01M172.0 804.1h.01M175.1 801.4h.01M184.5 807.1h.01M183.8 811.1h.01M178.4 805.5h.01M182.0 805.6h.01M177.3 802.5h.01M177.3 802.2h.01M177.3 802.2h.01M181.7 819.9h.01M184.8 817.5h.01M182.9 837.3h.01M181.9 831.5h.01M180.8 831.7h.01M164.5 761.5h.01M166.0 770.9h.01M167.1 769.4h.01M163.9 768.2h.01M166.4 766.0h.01M163.8 765.8h.01M177.8 771.2h.01M175.3 769.5h.01M172.4 771.3h.01M171.0 772.4h.01M173.7 771.7h.01M169.6 775.1h.01M173.3 773.8h.01M234.5 791.1h.01M234.1 791.6h.01M238.9 792.6h.01M239.3 792.8h.01M241.3 796.6h.01M243.4 800.2h.01M240.9 801.0h.01M221.9 815.2h.01M223.0 804.9h.01M238.2 814.9h.01M237.6 814.7h.01M241.3 810.6h.01M226.4 802.9h.01M224.3 803.6h.01M236.6 819.6h.01M238.9 819.2h.01M236.0 820.6h.01M237.5 823.2h.01M216.6 831.6h.01M215.4 831.7h.01M207.0 776.5h.01M206.2 775.2h.01M208.7 775.0h.01M190.6 781.0h.01M191.5 785.2h.01M198.3 778.2h.01M197.3 777.6h.01M200.2 776.9h.01M200.0 776.2h.01M241.9 783.7h.01M206.4 807.5h.01M206.8 808.4h.01M206.8 808.5h.01M202.0 807.9h.01M202.3 810.0h.01M202.6 806.7h.01M205.6 813.0h.01M205.6 813.0h.01M168.0 807.1h.01M164.9 808.4h.01M164.5 807.5h.01M168.4 805.7h.01M168.6 806.0h.01M165.5 803.9h.01M169.8 800.5h.01M169.9 799.7h.01M164.3 798.4h.01M182.9 806.7h.01M183.2 806.8h.01M183.1 811.2h.01M182.6 820.9h.01M187.5 821.1h.01M160.5 762.8h.01M164.1 765.2h.01M164.8 762.5h.01M164.7 762.4h.01M227.3 806.7h.01M221.7 799.6h.01M244.5 786.3h.01M244.7 786.2h.01M231.4 810.7h.01M223.4 799.1h.01" stroke="#5c2a9c" stroke-width="1.4" stroke-linecap="round" fill="none" opacity="0.85"/>
<ellipse cx="216" cy="762" rx="9" ry="6" transform="rotate(20 216 762)" fill="#b45cc0" stroke="#a04aa8" stroke-width="1" opacity="0.55"/>
<ellipse cx="238" cy="797" rx="10" ry="7.5" fill="#f9f4fa" stroke="#7d3aa0" stroke-width="2.6"/>
<ellipse cx="240" cy="768" rx="5.5" ry="10" fill="#f9f4fa" stroke="#a04cb4" stroke-width="2.2"/>
</g>
<rect x="147.75" y="749.05" width="95.7" height="92.1" fill="none" stroke="#808080" stroke-width="0.9"/>
<rect x="149.7" y="837" width="11.5" height="2.6" fill="#000"/>
<clipPath id="cpwtvsv"><rect x="46.7" y="845.8" width="96.9" height="91.3"/></clipPath>
<g clip-path="url(#cpwtvsv)">
<rect x="46.7" y="845.8" width="96.9" height="91.3" fill="#f8f3f9"/>
<path d="M39.9 936.7L40.4 939.4M40.8 941.1L41.1 940.9M41.1 940.9L41.4 940.1M40.4 939.4L41.4 940.1M41.1 940.9L43.3 944.7M49.1 841.5L49.2 841.5M49.6 839.0L49.2 841.5M53.7 838.4L53.0 840.3M53.7 838.4L49.6 839.0M49.2 841.5L52.4 841.7M53.0 840.3L52.4 841.7M41.0 849.7L41.0 848.0M43.8 840.8L41.9 844.7M41.8 845.1L41.9 844.7M49.1 841.5L48.0 842.5M48.0 842.5L44.8 841.6M148.2 938.8L148.1 938.4M39.9 936.7L41.8 936.3M41.8 936.3L39.6 933.0M41.4 940.1L43.8 938.6M41.8 936.3L42.3 936.3M42.3 936.3L43.7 937.7M43.8 938.6L43.7 937.7M44.9 940.8L46.6 942.9M44.9 940.8L44.9 940.6M44.9 940.6L47.7 942.3M46.6 942.9L47.7 942.3M43.3 944.7L44.9 940.8M44.9 939.7L44.9 940.6M84.1 893.9L80.7 894.4M84.1 893.9L84.0 893.7M84.0 893.7L80.8 892.3M47.7 942.3L48.5 942.2M120.6 925.5L122.4 925.7M120.6 925.5L118.8 922.7M122.6 925.2L122.4 925.7M122.6 925.2L119.5 921.1M118.8 922.7L119.5 921.1M122.8 920.4L119.6 920.8M124.9 921.0L122.6 925.2M119.6 920.8L119.5 921.1M105.9 845.8L106.8 842.7M105.9 845.8L105.4 846.1M105.7 841.7L103.3 842.5M103.3 842.5L103.3 843.2M103.3 843.2L105.4 846.1M48.2 844.8L49.8 846.0M48.2 844.8L53.3 843.5M49.8 846.0L53.4 845.2M53.4 845.2L53.3 843.5M53.0 840.3L57.8 841.8M53.2 843.2L57.8 842.0M57.8 841.8L57.8 842.0M49.5 867.1L51.3 866.1M49.5 867.1L49.5 867.5M51.3 866.1L52.1 867.5M52.1 867.5L52.1 868.3M52.1 868.3L49.5 867.5M58.9 895.3L56.1 896.3M58.9 895.3L56.4 893.7M56.1 896.3L56.2 893.9M101.4 841.5L102.3 841.7M101.4 841.5L100.2 839.5M102.3 841.7L104.7 838.5M100.2 839.5L104.7 838.4M104.7 838.4L104.7 838.5M105.7 841.7L105.4 839.3M103.3 842.5L102.3 841.7M105.4 839.3L104.7 838.5M99.7 839.2L100.2 839.5M145.4 930.7L147.7 928.3M145.4 930.7L148.0 931.9M148.0 931.9L151.2 932.1M147.7 928.3L147.3 925.7M147.5 924.7L147.3 925.7M150.9 919.8L148.3 920.1M148.3 920.1L147.0 918.0M147.0 918.0L147.5 915.3M93.8 870.9L96.6 875.0M93.8 870.9L96.7 869.2M96.6 875.0L96.7 875.0M96.7 875.0L97.6 874.4M96.7 869.2L98.7 871.3M97.6 874.4L98.7 871.3M47.0 924.3L44.3 920.5M47.0 924.3L44.0 925.6M44.3 920.5L44.2 920.4M44.2 920.4L43.3 920.7M44.0 925.6L43.1 920.8M43.3 920.7L43.1 920.8M48.9 917.9L49.3 919.8M48.9 917.9L48.1 917.3M49.3 919.8L47.0 920.8M47.0 920.8L44.3 920.5M44.2 920.4L45.6 917.9M48.1 917.3L45.6 917.9M41.5 916.5L43.3 920.7M41.5 916.5L41.4 915.9M45.6 917.9L44.1 915.5M44.1 915.5L41.4 915.9M40.2 918.5L41.5 916.5M41.4 915.9L39.3 914.4M39.6 910.8L42.0 910.5M39.6 910.8L40.4 908.8M41.6 909.0L40.4 908.8M41.6 909.0L42.2 910.1M42.2 910.1L42.0 910.5M39.8 929.6L41.2 930.8M39.6 933.0L41.0 932.7M41.2 930.8L41.0 932.7M39.8 929.6L39.9 929.5M39.9 929.5L43.9 929.8M41.2 930.8L43.9 929.8M39.9 929.5L40.8 927.2M40.8 927.2L42.8 926.7M43.3 926.7L42.8 926.7M43.3 926.7L45.0 929.7M45.0 929.7L43.9 929.8M45.7 930.3L45.0 929.7M45.7 930.3L47.2 929.0M47.2 929.0L47.2 924.3M48.1 923.4L47.0 920.8M48.1 923.4L47.8 924.1M47.8 924.1L47.2 924.3M48.8 922.7L49.7 921.6M48.8 922.7L50.4 923.5M50.4 923.5L49.7 921.6M49.3 919.8L50.0 920.6M48.1 923.4L48.8 922.7M50.0 920.6L49.9 921.2M49.9 921.2L49.7 921.6M40.5 923.3L42.4 921.0M40.6 920.2L42.4 921.0M42.8 926.7L40.5 923.3M43.1 920.8L42.4 921.0M40.2 918.5L40.6 920.2M97.7 892.9L97.7 895.5M96.6 896.0L97.7 895.5M96.6 896.0L96.4 896.3M96.4 896.3L95.5 896.0M94.6 894.1L95.5 896.0M109.3 888.8L108.5 889.8M114.2 888.1L114.0 888.1M114.2 888.1L116.9 892.1M114.0 888.1L113.1 890.9M113.1 890.9L113.7 892.4M113.7 892.4L115.5 893.0M115.5 893.0L116.9 892.1M117.7 889.3L120.4 888.9M120.7 890.0L120.4 888.9M120.7 890.0L118.5 892.4M118.5 892.4L117.6 892.0M117.7 889.3L116.9 888.5M116.9 888.5L115.4 887.8M115.4 887.8L114.2 888.1M117.6 892.0L116.9 892.1M101.5 893.0L101.3 894.2M101.5 893.0L99.7 892.0M99.7 892.0L98.6 892.3M100.6 894.4L98.3 892.7M100.6 894.4L101.3 894.2M97.7 895.5L98.7 895.7M99.5 895.4L98.7 895.7M99.5 895.4L100.6 894.4M107.4 896.1L104.5 893.9M106.3 897.4L103.6 895.1M104.5 893.9L103.6 895.1M105.9 899.8L103.8 899.2M105.9 899.8L106.3 897.4M102.6 895.3L103.6 895.1M102.5 895.9L103.8 899.2M102.6 895.3L101.3 894.2M99.5 895.4L101.0 897.7M102.5 895.9L101.0 897.7M65.8 896.4L64.9 896.3M65.8 896.4L67.0 898.8M64.9 896.3L63.4 897.7M64.0 900.0L67.0 898.8M63.3 943.9L64.7 943.3M68.1 946.7L64.7 943.3M105.2 945.8L103.7 944.2M103.7 944.2L99.5 943.8M99.5 943.8L97.6 946.8M103.3 843.2L102.1 844.4M101.4 841.5L100.2 843.4M102.1 844.4L100.2 843.4M96.3 842.1L94.4 841.3M96.3 842.1L95.5 843.7M95.5 843.7L94.8 844.2M94.8 844.2L91.9 843.8M99.7 839.2L97.2 840.8M93.8 870.9L93.0 870.4M93.0 870.4L92.9 869.1M92.9 869.1L95.9 867.8M95.5 843.7L96.1 846.5M94.8 844.2L94.0 845.3M96.1 846.5L94.4 847.0M94.4 847.0L94.0 845.3M62.9 873.8L65.2 873.3M62.9 873.8L63.9 876.2M65.2 873.3L64.9 876.1M63.9 876.2L64.9 876.1M48.0 844.7L46.6 847.0M48.0 844.7L47.9 844.3M47.9 844.3L47.9 844.3M47.9 844.3L44.5 845.1M44.5 845.1L46.6 847.0M48.0 842.5L47.9 844.3M48.2 844.8L48.0 844.7M53.2 843.2L53.3 843.5M44.7 844.2L47.9 844.3M44.7 844.2L44.4 845.1M44.4 845.1L44.5 845.1M57.8 841.8L58.0 840.8M41.8 845.1L41.8 845.3M44.4 845.1L42.6 845.6M41.8 845.3L42.6 845.6M41.0 848.0L41.2 847.6M40.9 846.4L41.2 847.6M46.6 847.0L46.4 848.0M42.6 845.6L43.9 848.0M46.4 848.0L43.9 848.0M41.8 845.3L40.9 846.4M41.2 847.6L42.8 849.4M43.9 848.0L42.8 849.4M52.2 851.0L50.7 848.6M52.2 851.0L52.5 852.0M49.8 848.5L49.8 848.5M47.5 849.2L49.8 848.5M47.5 849.2L47.7 853.0M53.1 847.4L52.2 851.0M53.1 847.4L50.7 848.6M53.1 847.4L53.7 846.9M49.8 846.0L49.8 848.5M53.4 845.2L53.9 846.0M53.7 846.9L53.9 846.0M47.5 849.2L46.9 848.7M46.9 848.7L46.4 848.0M49.5 867.1L47.5 864.1M51.3 866.1L51.9 863.9M47.5 864.1L47.6 864.0M51.9 863.9L47.6 864.0M53.9 873.3L55.0 871.9M53.9 873.3L51.7 870.6M51.7 870.6L52.8 869.6M52.8 864.7L53.3 866.4M52.8 864.7L55.5 865.8M53.3 866.4L54.0 866.9M55.5 865.8L54.0 866.9M52.1 863.8L52.0 863.8M52.1 863.8L52.8 864.7M52.1 867.5L53.3 866.4M52.0 863.8L51.9 863.9M52.1 868.3L52.8 869.6M53.8 869.0L54.0 867.6M54.0 867.6L54.0 866.9M51.7 870.6L51.0 870.9M49.5 867.5L49.2 868.1M51.0 870.9L49.2 868.1M53.9 873.3L53.8 874.7M53.8 874.7L50.7 871.2M51.0 870.9L50.7 871.2M47.5 864.1L45.2 865.0M56.8 873.7L57.3 872.9M56.8 873.7L58.3 876.0M57.3 872.9L59.2 871.9M58.3 876.0L59.2 871.9M53.8 874.7L53.8 874.9M55.0 871.9L57.3 872.9M54.8 875.3L53.8 874.9M54.8 875.3L56.8 873.7M59.2 871.8L59.4 870.5M59.2 871.8L59.2 871.9M59.4 870.5L55.3 871.1M58.9 895.3L60.2 895.7M56.4 893.7L56.9 892.7M60.2 895.7L60.9 894.8M56.1 896.3L56.1 896.5M56.2 893.9L53.9 893.8M53.1 897.6L56.1 896.5M53.1 897.6L52.9 897.6M52.9 897.6L52.5 896.0M53.9 893.8L52.5 896.0M110.5 845.6L109.5 849.2M109.5 849.2L108.8 848.2M106.9 846.0L109.3 845.3M106.9 846.0L108.8 848.2M105.9 845.8L106.9 846.0M106.8 842.7L107.7 842.5M107.7 842.5L110.0 843.3M107.4 839.3L108.6 840.1M107.7 842.5L108.6 840.1M105.4 839.3L107.4 839.3M147.4 935.9L149.7 933.7M147.4 935.9L147.7 937.9M149.7 933.7L148.1 938.4M147.7 937.9L148.1 938.4M146.3 934.9L147.4 935.9M146.3 934.9L148.0 931.9M151.2 932.1L149.7 933.7M145.0 937.4L147.7 937.9M145.0 937.4L144.9 937.3M145.7 934.8L144.9 937.3M148.1 938.4L148.1 938.4M145.4 930.7L145.2 930.7M147.3 925.7L144.2 929.8M144.2 929.8L144.5 930.2M145.2 930.7L144.5 930.2M145.7 934.8L144.5 934.1M145.2 930.7L144.5 934.1M148.5 915.7L150.7 915.0M147.5 915.3L147.1 914.9M147.0 914.3L147.1 914.9M147.0 914.3L151.1 910.3M150.7 915.0L151.1 910.3M148.5 942.4L147.9 940.6M147.9 940.6L148.2 939.5M148.2 939.5L148.2 938.8M101.1 848.1L98.3 845.9M101.1 848.1L99.9 844.8M98.3 845.9L98.9 844.1M99.9 844.8L99.1 844.0M98.9 844.1L99.1 844.0M96.3 842.1L96.3 842.1M96.3 842.1L98.9 844.1M97.1 847.0L98.3 845.9M97.1 847.0L96.1 846.5M97.2 840.8L96.3 842.1M100.2 843.4L99.1 844.0M109.7 850.1L108.7 850.9M105.4 846.1L104.5 847.2M104.5 847.2L106.1 849.5M108.7 850.9L106.1 849.5M97.1 847.0L97.3 848.3M101.6 848.8L101.4 849.2M101.6 848.8L101.1 848.1M101.4 849.2L99.4 849.9M99.4 849.9L97.3 848.3M116.1 886.7L118.0 886.3M116.1 886.7L116.4 884.1M116.4 884.1L117.5 884.0M117.5 884.0L117.7 884.2M117.7 884.2L118.0 886.3M116.9 888.5L119.6 886.7M115.4 887.8L116.1 886.7M118.0 886.3L119.6 886.7M101.5 893.0L101.9 892.3M104.5 893.9L105.5 892.0M101.9 892.3L105.5 892.0M98.6 892.3L98.5 891.2M100.1 890.2L98.5 891.2M101.9 892.3L101.4 889.8M101.4 889.8L100.3 889.9M100.1 890.2L100.3 889.9M42.5 912.4L44.4 915.0M42.5 912.4L42.8 911.9M42.8 911.9L43.6 911.7M43.6 911.7L45.5 913.9M44.1 915.5L44.4 915.0M39.3 914.4L42.5 912.4M42.0 910.5L42.8 911.9M44.5 910.9L44.3 908.9M44.5 910.9L43.6 911.7M44.3 908.9L42.2 910.1M46.4 911.5L44.5 910.9M46.4 911.5L46.7 911.9M46.7 911.9L47.1 912.6M48.1 917.3L48.2 915.6M46.4 911.5L46.7 909.1M44.3 908.9L44.6 908.1M46.7 911.9L48.2 909.7M48.2 909.7L47.6 908.9M46.7 909.1L47.6 908.9M41.6 909.0L43.2 906.9M40.4 908.8L40.2 908.4M40.2 908.4L42.7 906.5M43.2 906.9L42.7 906.5M44.6 908.1L44.5 907.9M44.5 907.9L43.8 907.1M43.2 906.9L43.8 907.1M47.0 904.8L47.1 906.2M47.0 904.8L45.8 903.2M44.5 907.9L47.1 906.2M37.4 905.4L41.9 905.7M37.4 905.4L37.3 905.4M37.3 905.4L40.2 908.4M42.7 906.5L41.9 905.7M42.5 935.7L42.1 932.8M42.5 935.7L46.3 931.9M42.1 932.8L45.7 931.0M46.3 931.9L45.7 931.0M42.3 936.3L42.5 935.7M41.0 932.7L42.1 932.8M43.7 937.7L46.0 935.7M46.0 935.7L47.1 932.7M47.1 932.7L46.3 931.9M45.7 930.3L45.7 931.0M49.9 921.2L52.1 923.7M47.8 924.1L49.5 925.3M51.2 924.2L49.5 925.3M47.2 929.0L49.6 928.0M49.5 925.3L49.8 926.4M52.5 920.1L52.9 920.3M52.5 920.1L51.9 917.4M51.9 917.4L54.9 916.2M54.9 920.0L55.4 916.4M55.4 916.4L55.1 916.2M54.9 916.2L55.1 916.2M50.0 920.6L52.5 920.1M48.9 917.9L51.3 917.1M51.3 917.1L51.9 917.4M53.0 914.6L51.9 913.1M53.0 914.6L51.2 916.2M51.9 913.1L51.0 913.4M51.0 913.4L50.5 914.3M51.2 916.2L50.5 914.3M51.3 917.1L51.2 916.2M54.9 916.2L53.0 914.6M48.2 915.6L50.5 914.3M48.9 912.0L47.1 912.6M48.9 912.0L51.0 913.4M51.2 909.6L49.2 911.0M51.2 909.6L51.1 908.6M51.1 908.6L48.3 909.7M49.2 911.0L48.3 909.7M48.9 912.0L49.2 911.0M48.2 909.7L48.3 909.7M69.6 897.4L68.3 898.8M69.6 897.4L71.2 899.8M68.6 900.6L68.3 898.8M68.6 900.6L70.7 901.4M71.2 899.8L70.7 901.4M63.6 915.3L65.0 915.4M63.6 915.3L64.0 912.2M65.0 915.4L64.9 913.1M64.0 912.2L64.9 913.1M65.0 915.4L65.4 915.6M65.4 915.6L66.4 914.2M64.9 913.1L65.8 912.7M76.0 884.8L75.1 884.3M76.0 884.8L79.8 880.2M79.8 880.2L77.9 879.9M75.1 884.3L75.1 884.3M75.1 884.3L75.8 881.4M77.9 879.9L75.8 881.4M75.1 884.3L73.8 883.9M72.9 878.9L72.1 880.2M72.9 878.9L74.4 878.0M75.8 881.4L74.4 878.0M73.8 883.9L72.1 880.2M72.1 880.2L70.0 880.2M69.8 878.8L70.0 880.2M69.9 877.0L69.1 878.0M69.8 878.8L69.1 878.0M89.4 891.7L90.0 890.0M89.4 891.7L87.7 887.6M87.7 887.6L89.9 889.5M90.0 890.0L89.9 889.5M86.4 879.6L88.4 877.5M86.4 879.6L84.2 878.2M84.2 878.2L84.3 877.1M88.4 877.5L87.7 876.3M87.7 876.3L86.1 876.1M86.1 876.1L84.3 877.1M69.6 897.4L70.0 896.5M69.0 895.6L70.0 896.5M69.0 895.6L68.7 895.6M68.7 895.6L66.0 896.2M76.8 885.5L78.0 885.8M76.8 885.5L76.0 884.8M79.8 880.2L81.7 879.9M82.0 882.3L81.5 882.8M82.0 882.3L81.9 880.0M81.7 879.9L81.9 880.0M78.0 885.8L81.5 882.8M81.3 889.2L81.7 889.4M76.8 885.5L76.5 886.4M75.1 884.3L73.6 886.9M73.5 889.6L73.6 886.9M54.8 875.3L56.6 878.8M56.6 878.8L58.3 876.1M52.0 875.5L54.8 879.7M52.0 875.5L53.8 874.9M56.6 878.8L56.7 879.0M56.7 879.0L56.6 879.1M56.6 879.1L54.8 879.7M64.9 896.3L64.3 893.6M66.0 896.2L66.3 894.4M64.3 893.6L66.3 894.4M69.0 895.6L68.4 891.4M68.7 895.6L66.8 894.3M68.4 891.4L68.3 891.4M68.3 891.4L67.1 892.2M67.1 892.2L66.8 894.3M66.8 894.3L66.3 894.4M98.9 896.8L100.7 898.9M98.9 896.8L98.0 899.0M98.0 899.0L98.6 900.1M98.6 900.1L99.6 900.5M99.6 900.5L100.7 899.4M98.7 895.7L98.9 896.8M101.0 897.7L100.7 898.9M96.4 896.3L96.3 897.3M96.3 897.3L98.0 899.0M99.8 901.3L95.9 902.9M99.8 901.3L99.6 900.5M103.8 899.2L100.7 899.4M94.0 896.1L93.3 899.5M91.1 896.7L92.8 895.5M92.8 895.5L93.1 895.6M94.6 894.1L93.1 895.6M95.5 896.0L94.0 896.1M96.3 897.3L93.5 900.0M93.5 900.0L93.3 899.5M94.5 892.6L92.6 893.4M92.6 893.4L92.8 895.5M109.9 894.3L108.5 894.6M110.6 896.7L109.7 897.6M108.5 894.6L108.1 895.4M108.1 895.4L109.7 897.6M111.7 894.7L113.7 892.4M111.4 891.1L113.1 890.9M113.4 896.7L112.9 898.7M112.9 898.7L111.4 899.0M111.4 899.0L111.3 899.0M111.3 899.0L110.6 896.7M110.4 899.1L111.3 899.0M105.9 899.8L106.4 900.8M106.4 900.8L107.5 901.0M107.4 896.1L108.1 895.4M107.5 901.0L110.4 899.1M109.6 903.1L107.5 901.0M109.6 903.1L110.9 903.1M111.4 899.0L111.4 902.9M110.9 903.1L111.4 902.9M115.5 893.2L114.2 896.4M114.2 896.4L117.9 896.8M115.5 893.0L115.5 893.2M112.9 898.7L114.7 900.8M118.6 897.1L117.4 900.6M118.6 897.1L117.9 896.8M110.9 903.1L112.0 906.2M112.0 906.2L113.4 905.4M104.9 915.7L106.6 916.0M106.6 916.0L107.8 913.9M106.0 913.4L107.8 913.9M122.3 916.8L119.9 916.5M123.3 915.2L122.7 914.1M119.9 916.5L120.1 913.9M121.5 913.2L122.7 914.1M121.5 910.8L119.7 909.4M121.5 910.8L122.6 908.2M122.6 908.2L120.5 908.3M119.7 909.4L120.5 908.3M63.4 897.7L61.3 894.6M60.9 894.8L61.3 894.6M66.5 943.0L65.5 941.9M66.5 943.0L66.7 940.8M65.5 941.9L66.4 940.5M68.1 946.7L66.5 943.0M63.5 941.5L64.7 943.3M69.6 946.8L70.5 942.2M70.5 942.2L69.5 941.6M69.5 941.6L66.7 940.8M116.8 912.8L118.5 913.6M116.8 912.8L116.1 913.5M118.5 913.6L117.7 917.2M117.7 917.2L116.1 913.5M119.6 920.8L118.1 919.1M119.9 916.5L118.1 919.0M118.1 919.1L118.1 919.0M118.5 913.6L120.1 913.9M117.7 917.2L117.8 917.6M118.1 919.0L117.8 917.6M119.3 927.0L120.6 925.5M118.8 922.7L117.6 923.7M118.4 926.9L117.6 923.7M106.3 920.2L109.5 919.1M106.3 920.2L108.0 917.1M108.0 917.1L108.8 916.8M109.5 919.1L108.8 916.8M108.0 917.1L106.6 916.0M107.8 913.9L108.6 913.9M118.4 926.9L115.4 928.7M117.6 923.7L117.5 923.7M117.5 923.7L116.8 924.4M115.3 928.9L115.3 928.8M115.3 928.9L114.0 925.3M115.3 928.8L115.4 928.7M116.8 924.4L114.0 925.3M113.7 930.2L112.6 930.0M113.7 930.2L115.0 929.3M112.6 930.0L109.9 927.4M115.0 929.3L115.3 928.9M113.0 924.7L109.9 927.4M113.0 924.7L113.5 924.8M114.0 925.3L113.5 924.8M115.4 919.0L114.8 919.4M117.5 923.7L114.7 922.6M114.8 919.4L114.7 922.6M113.5 924.8L114.5 922.8M114.7 922.6L114.5 922.8M109.5 919.1L111.6 920.1M110.8 916.4L112.1 919.6M110.8 916.4L109.7 916.2M112.1 919.6L111.6 920.1M119.3 927.0L120.1 928.4M115.3 928.8L119.6 929.3M120.1 928.4L119.6 929.3M120.1 928.4L123.7 928.3M119.6 929.3L119.7 929.8M119.7 929.8L122.8 931.1M122.8 931.1L123.7 928.3M122.4 925.7L123.9 928.1M123.9 928.1L123.7 928.3M105.2 945.8L106.5 944.0M106.5 944.0L106.9 943.7M106.9 943.7L109.3 942.4M109.3 942.4L110.4 942.6M139.4 942.0L141.0 941.9M141.0 941.9L141.3 946.3M145.4 943.9L143.7 943.0M143.7 943.0L141.3 946.3M141.0 941.9L142.4 941.0M142.4 941.0L143.3 941.3M147.9 940.6L144.3 940.6M143.3 941.3L144.3 940.6M145.0 937.4L144.3 939.0M144.3 939.0L144.3 940.6M101.2 845.4L102.1 844.7M101.2 845.4L102.1 848.4M102.1 844.7L104.2 847.2M102.1 848.4L104.2 847.2M102.1 844.4L102.1 844.7M99.9 844.8L101.2 845.4M101.6 848.8L102.1 848.4M104.5 847.2L104.2 847.2M94.4 841.3L93.8 840.7M93.8 840.7L92.7 838.2M92.7 838.2L92.6 837.3M84.8 836.6L89.5 840.0M92.6 837.3L89.5 840.0M84.6 861.9L86.2 861.1M84.6 861.9L86.6 865.5M86.2 861.1L88.0 865.2M86.6 865.5L87.6 865.9M87.6 865.9L88.0 865.2M63.3 876.7L62.8 876.4M62.5 873.8L62.4 873.8M62.4 873.8L62.8 876.4M45.4 852.6L40.6 854.3M45.4 852.6L46.8 853.1M46.8 853.1L43.6 856.9M40.0 854.9L43.5 856.9M40.0 854.9L40.6 854.3M43.5 856.9L43.6 856.9M80.9 849.0L81.8 848.6M80.9 849.0L78.8 855.1M81.8 848.6L84.1 850.8M84.1 850.8L84.3 852.8M84.3 852.8L83.6 855.7M83.6 855.7L80.1 856.6M80.1 856.6L79.4 856.2M79.4 856.2L78.8 855.1M57.8 842.0L58.6 843.6M53.9 846.0L56.0 846.0M56.0 846.0L58.5 844.1M44.6 851.5L41.6 852.0M44.6 851.5L44.4 850.7M44.4 850.7L42.8 849.5M42.8 849.5L41.9 850.2M45.4 852.6L44.6 851.5M40.6 854.3L41.6 852.0M47.7 853.0L46.8 853.1M46.9 848.7L44.4 850.7M41.0 849.7L41.9 850.2M46.9 868.7L45.4 871.8M45.2 865.0L44.7 865.0M45.4 871.8L42.6 869.7M44.7 865.0L42.6 869.7M40.3 867.4L42.1 869.7M45.4 871.8L45.8 872.9M43.5 874.6L45.5 873.3M42.1 869.7L42.6 869.7M45.5 873.3L45.8 872.9M52.1 859.5L50.1 860.2M52.1 859.5L53.3 862.3M52.1 863.8L52.4 863.5M52.0 863.8L50.1 860.2M53.3 862.3L52.4 863.5M55.5 865.8L57.4 865.6M57.4 865.6L56.8 864.4M52.4 863.5L56.8 864.4M50.6 871.3L48.3 869.5M50.6 871.3L49.0 873.3M48.3 869.5L48.8 873.3M49.0 873.3L48.8 873.3M50.7 871.2L50.6 871.3M52.0 875.5L50.8 875.7M50.8 875.7L50.7 875.7M47.3 873.2L45.8 872.9M47.3 873.2L48.8 873.3M52.2 887.9L53.7 890.7M51.4 888.1L51.3 889.2M51.3 889.2L52.4 891.4M52.4 891.4L53.7 890.7M61.3 894.6L61.6 894.1M64.3 893.6L63.9 893.0M61.6 894.1L63.9 893.0M67.1 892.2L63.9 893.0M63.9 893.0L63.9 893.0M144.5 930.2L142.3 932.8M144.2 929.8L143.0 929.1M142.3 932.8L140.9 932.7M140.9 932.7L141.0 932.1M141.0 932.1L143.0 929.1M148.3 920.1L146.8 920.9M147.0 918.0L145.4 920.0M145.4 920.0L146.8 920.9M147.5 924.7L147.1 924.5M146.8 920.9L147.1 924.5M147.1 914.9L144.7 916.2M145.4 920.0L143.1 919.7M143.1 919.7L142.2 919.2M142.2 919.2L144.7 916.2M132.9 919.0L134.9 920.2M132.9 919.0L133.1 917.6M133.1 917.6L133.9 917.2M138.8 918.8L138.5 918.5M138.8 918.8L135.9 920.6M135.9 920.6L134.9 920.2M138.5 918.5L136.8 917.7M133.9 917.2L136.8 917.7M138.5 918.5L138.4 916.2M136.8 917.7L135.7 914.2M138.4 916.2L135.7 914.2M133.9 917.2L135.4 913.8M135.4 913.8L135.7 914.2M124.9 927.9L123.9 928.1M124.9 927.9L126.5 923.9M125.1 920.9L126.5 923.9M127.1 928.5L126.7 928.7M127.1 928.5L128.7 926.7M128.7 926.7L126.8 924.0M126.7 928.7L124.9 927.9M126.5 923.9L126.8 924.0M105.1 863.7L105.0 866.6M105.1 863.7L104.8 863.0M100.8 862.4L101.6 866.0M101.6 866.0L104.1 866.8M105.0 866.6L105.0 866.6M101.4 849.2L103.0 852.3M106.1 849.5L103.4 852.5M103.0 852.3L103.4 852.5M114.4 858.1L112.0 858.9M116.0 861.6L111.8 864.1M111.8 864.1L112.0 858.9M108.8 857.1L110.8 858.9M108.8 857.1L107.2 860.1M107.2 860.1L110.8 858.9M99.3 871.0L102.3 869.3M99.3 871.0L103.0 872.5M103.0 872.5L103.0 870.7M102.3 869.3L103.0 870.7M101.6 866.0L99.6 866.2M99.6 866.2L99.1 871.1M104.1 866.8L102.3 869.3M99.1 871.1L99.3 871.0M102.8 876.5L103.5 873.2M102.8 876.5L97.6 874.4M98.7 871.3L99.1 871.1M103.5 873.2L103.0 872.5M105.5 871.7L103.5 873.2M105.5 871.7L103.0 870.7M105.9 871.6L105.9 868.9M105.0 866.6L105.9 868.9M91.9 843.8L91.8 843.8M93.8 840.7L91.2 841.8M91.8 843.8L91.2 841.8M94.0 845.3L90.9 845.3M91.8 843.8L90.9 845.3M94.4 847.0L92.8 848.9M92.8 848.9L90.7 845.4M90.9 845.3L90.7 845.4M92.7 838.2L90.4 841.4M91.2 841.8L90.4 841.4M89.5 840.0L89.8 841.3M89.8 841.3L90.4 841.4M104.8 860.3L103.5 858.3M104.8 860.3L104.8 863.0M100.8 862.4L99.9 861.5M103.5 858.3L102.5 858.3M99.9 861.5L102.5 858.3M91.3 867.4L93.0 864.9M93.0 864.9L92.4 863.5M88.0 865.2L89.7 863.0M86.2 861.1L87.0 860.4M88.9 860.8L87.0 860.4M88.9 860.8L88.9 860.9M88.9 860.9L89.7 863.0M96.0 867.5L94.0 865.2M96.0 867.5L98.4 865.6M94.0 865.2L97.6 862.8M98.4 865.6L97.6 862.8M95.9 867.8L96.0 867.5M93.0 864.9L94.0 865.2M99.6 866.2L98.4 865.6M98.8 850.8L96.4 850.6M98.8 850.8L98.7 851.3M96.9 852.7L95.1 852.0M95.1 852.0L96.4 850.6M97.3 848.3L96.1 849.0M92.8 848.9L92.8 849.2M92.8 849.2L96.1 849.0M99.4 849.9L98.8 850.8M117.7 884.2L118.1 884.4M119.6 886.7L119.7 886.7M119.7 886.7L119.6 885.0M118.1 884.4L119.6 885.0M105.3 887.5L103.2 889.4M105.3 887.5L106.6 891.1M103.2 889.4L105.6 891.9M106.6 891.1L106.2 891.8M106.2 891.8L105.6 891.9M101.4 889.8L102.0 889.2M102.0 889.2L103.2 889.4M105.5 892.0L105.6 891.9M108.5 889.8L106.6 891.1M108.5 894.6L106.2 891.8M110.2 875.6L109.6 876.2M110.2 875.6L107.9 872.8M107.9 872.8L107.3 872.9M107.3 872.9L106.3 874.9M106.3 874.9L109.6 876.2M116.4 884.1L115.7 883.6M117.5 884.0L119.4 880.8M115.7 883.6L115.8 882.2M115.8 882.2L119.4 880.3M119.4 880.3L119.4 880.8M118.1 884.4L120.2 882.7M119.4 880.8L120.2 882.7M119.6 885.0L120.8 883.6M120.2 882.7L120.8 883.6M119.0 874.8L116.7 871.1M119.0 874.8L119.4 874.5M116.7 871.1L117.6 869.8M119.4 874.5L121.3 871.3M47.5 906.6L47.8 908.5M47.5 906.6L50.3 906.4M47.8 908.5L50.8 907.5M50.3 906.4L50.8 907.5M47.6 908.9L47.8 908.5M47.1 906.2L47.5 906.6M50.4 904.8L47.0 904.8M50.4 904.8L50.3 906.4M51.1 907.9L51.1 908.6M51.1 907.9L50.8 907.5M50.8 903.8L52.5 903.9M50.8 903.8L50.4 904.8M53.0 907.5L52.5 903.9M69.2 922.9L67.9 920.2M69.2 922.9L69.8 922.2M67.9 920.2L70.9 919.4M69.8 922.2L71.2 919.7M64.7 918.6L64.1 918.6M66.0 916.0L65.6 915.8M66.0 916.0L67.7 918.9M65.6 915.8L64.7 918.6M67.7 918.9L67.4 919.7M67.4 919.7L66.3 919.9M51.9 913.1L52.2 912.6M52.2 912.6L52.1 910.8M51.2 909.6L52.0 910.7M52.0 910.7L52.1 910.8M53.0 907.5L53.5 907.5M53.5 907.5L54.5 908.7M52.0 910.7L54.5 908.7M54.2 912.4L54.1 912.4M54.2 912.4L56.6 910.5M54.1 912.4L54.4 910.5M54.4 910.5L55.6 909.5M55.6 909.5L56.4 909.6M56.6 910.5L56.4 909.6M55.0 913.1L55.1 916.2M55.0 913.1L54.2 912.4M52.2 912.6L54.1 912.4M55.0 913.1L57.3 912.1M57.3 912.1L56.6 910.5M54.5 908.7L55.6 909.5M58.5 914.8L57.7 912.5M58.5 914.8L61.3 913.7M57.7 912.5L59.3 911.3M59.3 911.3L61.6 912.2M61.3 913.7L61.7 912.3M61.7 912.3L61.6 912.2M58.0 915.9L58.5 914.8M58.0 915.9L55.4 916.4M57.3 912.1L57.7 912.5M56.5 909.5L56.4 909.6M56.5 909.5L59.6 908.8M59.6 908.8L59.7 908.9M59.7 908.9L59.3 911.3M63.2 915.4L63.6 915.3M64.0 912.2L63.9 912.1M63.9 912.1L61.7 912.3M63.2 915.4L62.9 915.8M65.6 915.8L65.4 915.6M64.1 918.6L63.1 917.7M62.9 915.8L63.1 917.7M58.0 915.9L59.5 917.9M62.9 915.8L59.5 917.9M88.3 892.9L89.2 892.3M88.3 892.9L88.0 894.4M89.2 892.3L89.7 892.3M88.8 896.2L88.0 894.4M96.3 904.9L91.9 903.4M91.9 903.4L93.6 900.4M93.5 900.0L93.5 900.1M88.8 896.2L87.7 899.7M93.5 900.1L93.6 900.4M69.0 926.5L69.9 929.7M69.9 929.7L69.7 930.0M69.7 930.0L67.3 928.0M76.2 941.8L76.2 940.6M76.2 940.6L80.5 941.0M69.6 946.8L76.2 941.8M66.4 914.2L67.2 913.6M67.2 913.6L67.9 911.0M65.8 912.7L66.7 910.8M66.7 910.8L67.9 911.0M72.9 912.9L74.0 911.1M72.9 912.9L70.6 912.6M70.6 912.6L69.6 910.7M71.6 909.3L69.9 910.2M69.9 910.2L69.6 910.7M61.4 905.1L59.5 907.2M61.4 905.1L63.2 907.2M59.5 907.2L59.6 908.8M59.7 908.9L59.7 908.9M63.2 907.2L59.7 908.9M61.6 912.2L61.7 910.3M61.7 910.3L59.7 908.9M73.8 883.9L73.1 884.1M69.6 880.5L70.0 880.2M73.1 884.1L69.1 882.7M90.4 879.0L90.6 879.0M90.4 879.0L88.9 877.4M90.6 879.0L91.5 877.3M91.5 877.3L89.8 875.6M88.9 877.4L89.1 876.1M89.8 875.6L89.1 876.1M86.4 879.6L86.9 880.0M86.9 880.0L90.4 879.0M88.4 877.5L88.9 877.4M87.7 876.3L89.1 876.1M93.2 876.8L93.0 880.5M93.2 876.8L95.5 875.5M95.7 875.5L95.0 880.2M95.7 875.5L95.5 875.5M95.0 880.2L94.3 881.0M94.3 881.0L93.0 880.5M91.4 880.4L90.6 879.0M91.4 880.4L93.0 880.5M91.5 877.3L93.2 876.8M96.6 875.0L95.7 875.5M96.7 875.0L97.6 877.4M97.6 877.4L98.2 880.4M98.2 880.4L97.6 880.8M97.6 880.8L95.0 880.2M90.0 883.5L91.4 880.4M90.0 883.5L93.6 883.7M94.5 883.0L94.3 881.0M77.9 879.9L76.3 877.2M74.4 878.0L75.0 876.9M76.3 877.2L75.0 876.9M67.7 875.9L67.3 872.3M70.3 871.9L71.8 874.3M72.1 874.6L74.3 875.2M69.9 877.0L69.6 875.9M72.1 874.6L71.8 874.3M86.9 880.0L87.5 882.1M87.5 882.1L89.6 883.8M84.2 878.2L81.9 880.0M87.5 882.1L84.7 884.0M61.5 881.4L61.5 882.4M61.5 881.4L57.6 881.1M57.6 881.1L57.5 882.8M57.5 882.8L59.7 883.5M61.5 882.4L59.7 883.5M62.8 879.5L60.7 878.1M62.8 879.5L62.9 879.5M56.7 879.0L60.7 878.1M56.6 879.1L57.6 881.1M61.5 881.4L62.4 880.4M62.9 879.5L62.4 880.4M72.8 893.5L71.7 895.9M71.7 895.9L70.0 896.5M68.4 891.4L70.0 891.2M70.2 891.2L70.0 891.2M120.3 901.8L117.9 901.2M117.6 904.5L118.1 905.5M119.7 905.4L118.2 905.6M118.1 905.5L118.2 905.6M120.8 905.5L121.3 901.9M120.8 905.5L119.7 905.4M121.3 901.9L120.3 901.8M117.4 900.6L117.9 901.2M115.0 907.0L114.3 905.7M115.0 907.0L118.1 905.5M120.8 905.5L121.8 906.2M118.4 907.6L118.2 905.6M118.4 907.6L119.5 909.4M119.5 909.4L119.7 909.4M121.8 906.2L120.5 908.3M118.4 907.6L115.8 908.4M119.5 909.4L117.1 911.3M117.1 911.3L115.8 908.4M109.6 903.1L109.4 904.1M112.0 906.2L111.2 907.3M109.4 904.1L110.9 907.0M111.2 907.3L110.9 907.0M128.0 913.7L126.0 910.8M124.9 912.7L126.0 910.8M130.1 912.9L128.0 913.7M130.1 912.9L131.6 914.3M122.7 914.1L124.9 912.7M132.0 916.6L131.6 915.9M121.8 911.1L121.5 913.2M121.8 911.1L125.3 910.0M126.0 910.8L126.0 910.8M125.3 910.0L126.0 910.8M53.1 897.6L54.6 899.9M52.9 897.6L51.7 898.3M51.7 900.5L51.7 898.3M51.7 900.5L53.5 901.2M54.6 899.9L53.5 901.2M52.5 903.9L54.1 903.7M53.5 907.5L53.9 907.1M53.9 907.1L55.1 904.8M55.1 904.8L54.1 903.7M50.8 903.8L50.2 902.4M51.7 900.5L50.2 902.4M53.5 901.2L54.3 903.0M54.1 903.7L54.3 903.0M64.7 902.0L64.0 903.3M46.0 935.7L47.7 937.4M47.1 932.7L49.9 933.5M49.9 933.5L50.0 936.6M50.0 936.6L47.7 937.4M44.9 939.7L47.2 939.4M47.7 937.4L47.2 939.4M48.5 942.2L48.5 942.1M48.5 942.1L47.7 939.6M47.7 939.6L47.2 939.4M63.3 943.9L62.6 942.9M62.6 942.9L61.0 944.2M115.2 918.6L115.1 914.6M115.2 918.6L112.2 915.2M112.9 914.0L112.2 915.2M112.9 914.0L115.0 914.1M115.0 914.1L115.1 914.6M117.8 917.6L115.1 914.6M115.4 919.0L115.2 918.6M110.8 916.4L112.2 915.2M114.8 919.4L112.1 919.6M109.2 912.5L111.8 912.2M111.8 912.2L112.9 914.0M116.1 913.5L115.0 914.1M110.7 931.6L110.6 931.7M110.7 931.6L111.4 934.3M110.6 931.7L108.6 934.1M108.6 934.1L109.0 936.6M111.4 934.3L110.4 937.3M110.4 937.3L110.4 937.3M113.7 930.2L114.2 932.4M112.6 930.0L110.7 931.6M115.6 935.5L112.3 937.5M112.3 937.5L110.4 937.3M114.5 922.8L111.1 921.8M111.6 920.1L110.9 921.4M110.9 921.4L111.1 921.8M139.4 942.0L138.8 941.6M138.8 941.6L136.4 943.3M114.2 943.5L115.2 942.5M116.4 941.2L120.4 946.8M116.4 941.2L116.2 941.3M115.2 942.5L116.2 941.3M104.6 915.8L104.9 915.7M104.6 915.8L102.4 914.2M102.4 914.2L104.3 913.0M106.0 913.4L105.8 912.7M105.8 912.7L105.7 912.7M104.3 913.0L105.7 912.7M81.9 848.3L84.6 845.9M81.9 848.3L80.4 844.5M84.6 845.9L83.8 840.9M83.8 840.9L81.1 842.7M81.1 842.7L80.6 843.5M80.4 844.5L80.6 843.5M84.1 856.4L84.3 857.4M84.3 857.4L86.8 859.8M86.5 856.5L88.0 856.9M86.8 859.8L88.0 856.9M84.3 852.8L87.3 854.3M83.6 855.7L84.1 856.4M60.8 876.7L59.5 875.7M60.8 876.7L61.5 876.0M61.5 876.0L61.4 873.9M59.5 875.7L60.6 873.4M60.6 873.4L61.4 873.9M58.3 876.1L59.5 875.7M60.7 878.1L60.8 876.7M63.3 876.7L62.8 879.5M62.8 876.4L61.5 876.0M62.4 873.8L61.4 873.9M59.2 871.8L60.6 873.4M53.1 858.1L53.0 857.1M53.0 857.1L52.5 856.9M50.1 860.2L48.8 859.9M52.5 856.9L48.8 858.7M48.8 858.7L48.8 859.9M47.6 864.0L48.0 860.6M48.8 859.9L48.0 860.6M60.7 846.6L61.9 846.2M60.7 846.6L60.0 848.6M63.0 850.5L61.9 846.2M58.6 843.6L61.1 843.4M60.7 846.6L59.3 845.9M59.3 845.9L58.5 844.1M61.1 843.4L62.7 845.1M59.1 848.7L57.5 850.1M59.1 848.7L58.5 847.1M57.5 850.1L56.8 846.8M58.5 847.1L56.8 846.8M60.0 848.6L59.1 848.7M58.7 851.6L56.9 851.2M56.9 851.2L57.5 850.1M59.3 845.9L58.5 847.1M56.0 846.0L56.8 846.8M55.7 851.4L56.7 851.3M55.7 851.4L54.5 852.3M54.5 852.3L54.6 854.6M54.6 854.6L56.7 855.7M53.7 846.9L55.7 851.4M56.9 851.2L56.7 851.3M52.5 852.0L54.5 852.3M53.0 857.1L53.4 856.8M52.5 856.9L49.1 854.2M53.4 856.8L54.6 854.6M53.4 856.8L57.5 857.6M57.5 857.6L56.7 855.7M44.1 864.5L43.7 860.8M41.9 860.4L43.3 860.2M41.9 860.4L39.2 863.1M39.2 863.1L41.6 864.6M43.3 860.2L43.7 860.8M44.7 865.0L44.1 864.5M40.3 867.4L41.6 864.6M46.6 860.1L48.0 860.6M46.6 860.1L43.7 860.8M43.5 856.9L43.3 860.2M50.7 875.7L49.8 876.6M47.3 873.2L47.7 877.3M49.8 876.6L47.7 877.3M59.4 870.5L59.4 870.4M56.3 868.8L58.0 868.2M59.4 870.4L58.0 868.2M58.6 862.3L56.5 862.5M54.0 867.6L58.1 866.5M58.6 862.3L59.4 860.9M56.5 862.5L56.3 862.0M59.4 860.9L58.3 860.4M58.3 860.4L56.3 862.0M53.3 862.3L55.3 861.3M55.3 861.3L56.3 862.0M61.8 883.2L61.5 882.4M61.8 883.2L61.4 885.0M59.7 883.5L60.8 885.3M61.4 885.0L61.2 885.2M53.9 893.8L51.8 892.3M52.5 896.0L50.3 893.8M51.0 892.7L50.3 893.6M50.3 893.8L50.3 893.6M48.9 888.4L48.0 890.3M48.9 888.4L50.2 889.7M48.0 890.3L49.4 890.7M50.2 889.7L49.4 890.7M51.8 892.3L52.4 891.4M51.0 892.7L49.4 890.7M51.3 889.2L50.2 889.7M142.9 935.3L141.7 935.1M142.9 935.3L143.1 936.4M143.1 936.4L142.2 937.9M142.2 937.9L141.1 938.7M140.7 938.6L141.1 938.7M143.3 934.7L142.9 935.3M140.8 934.8L141.1 935.0M140.8 934.8L140.7 932.9M141.1 935.0L141.7 935.1M140.7 932.9L140.9 932.7M144.9 937.3L143.1 936.4M144.3 939.0L142.2 937.9M142.4 941.0L141.1 938.7M136.3 922.8L136.6 924.7M139.5 923.5L137.8 924.6M136.6 924.7L137.8 924.6M138.7 932.2L138.8 932.6M138.7 932.2L138.6 931.5M138.8 932.6L140.7 932.9M141.0 932.1L139.9 931.0M138.6 931.5L139.9 931.0M145.6 924.4L144.8 923.5M145.6 924.4L144.2 925.3M144.8 923.5L140.2 922.6M144.2 925.3L140.1 922.8M140.2 922.6L140.1 922.8M143.1 919.7L144.8 923.5M143.0 929.1L142.2 928.2M140.5 919.6L141.3 919.3M140.5 919.6L140.2 922.6M142.2 928.2L141.5 928.1M139.7 923.5L139.8 923.6M139.7 923.5L140.1 922.8M135.9 920.6L135.5 922.4M135.5 922.4L136.3 922.8M139.7 923.5L139.5 923.5M134.9 920.2L133.5 921.9M135.5 922.4L134.5 923.1M134.5 923.1L133.5 921.9M128.7 926.7L129.7 926.4M126.8 924.0L127.4 924.0M127.4 924.0L129.9 925.4M129.7 926.4L129.9 925.4M96.9 852.7L97.1 853.6M97.1 853.6L98.9 854.0M96.5 855.2L97.1 853.6M98.9 854.0L97.6 855.7M105.0 866.6L108.4 866.2M105.9 868.9L110.0 870.3M108.4 866.2L109.8 868.9M109.8 868.9L110.0 870.3M105.9 871.6L107.3 872.9M107.9 872.8L110.3 870.7M110.3 870.7L110.0 870.3M115.9 864.7L117.0 866.4M117.0 866.4L117.8 865.5M119.4 879.4L119.6 879.6M119.4 879.4L114.9 879.4M115.8 882.2L114.7 880.9M119.4 880.3L119.6 879.6M114.7 880.9L114.9 879.4M108.7 850.9L108.5 851.7M108.5 851.7L110.4 853.6M81.8 848.6L81.9 848.3M84.1 850.8L88.4 850.4M88.4 850.4L88.5 849.2M84.6 845.9L86.1 845.3M88.5 849.2L86.1 845.3M92.4 863.5L93.8 860.6M97.6 862.8L97.7 862.1M97.7 862.1L93.8 860.6M99.9 861.5L98.1 861.8M97.7 862.1L98.1 861.8M130.4 881.9L129.8 881.6M129.0 880.4L129.8 881.6M127.1 884.1L129.8 881.6M127.1 884.1L126.3 880.3M129.0 880.4L126.8 879.7M126.8 879.7L126.3 880.3M120.4 888.9L120.7 887.9M119.7 886.7L120.5 887.3M120.7 887.9L120.5 887.3M127.1 887.3L126.4 885.0M127.0 884.4L126.4 885.0M130.4 881.9L132.5 884.9M127.1 884.1L127.0 884.4M102.8 876.5L103.6 877.4M106.3 874.9L103.9 877.3M103.6 877.4L103.9 877.3M97.6 880.8L97.1 883.1M94.5 883.0L96.3 883.6M97.1 883.1L96.3 883.6M93.6 887.7L93.7 888.1M93.6 887.7L93.8 887.2M93.8 887.2L96.6 885.5M93.7 888.1L94.8 889.6M95.1 889.8L94.8 889.6M96.7 889.3L98.0 888.4M98.0 888.4L98.5 886.8M98.5 886.8L96.6 885.5M90.4 886.4L89.9 889.5M90.4 886.4L93.6 887.7M90.0 890.0L93.7 888.1M90.4 886.4L89.4 885.3M93.6 883.7L93.8 887.2M96.3 883.6L96.6 885.5M89.2 892.3L89.4 891.7M89.7 892.3L94.8 889.6M100.3 889.9L98.0 888.4M110.2 875.6L110.6 875.5M110.6 875.5L110.9 875.4M111.0 870.9L110.3 870.7M111.0 870.9L112.5 872.9M112.5 872.9L110.9 875.4M114.8 876.9L114.1 874.7M114.8 876.9L114.0 877.8M113.1 877.3L112.2 876.4M114.1 874.7L112.2 876.4M110.9 875.4L112.2 876.4M117.6 874.9L115.5 873.0M117.6 874.9L114.1 874.4M115.5 873.0L113.4 872.9M114.1 874.4L113.3 873.0M113.4 872.9L113.3 873.0M118.5 875.4L119.0 874.8M118.5 875.4L117.6 874.9M116.7 871.1L116.6 871.1M116.6 871.1L115.5 873.0M118.5 875.4L118.5 875.4M118.5 875.4L114.8 876.9M114.1 874.7L114.1 874.4M114.8 870.7L113.4 872.9M114.8 870.7L116.6 871.1M121.5 875.3L123.4 875.2M123.7 877.6L123.0 878.0M119.4 874.5L121.5 875.3M121.4 871.2L123.4 875.2M118.5 875.4L119.4 879.4M119.6 879.6L121.7 879.5M121.7 879.5L123.0 878.0M124.1 874.9L123.6 875.2M151.1 910.3L152.2 908.7M134.7 885.7L133.6 885.2M132.5 884.9L133.1 885.3M133.1 885.3L133.3 885.3M69.4 917.2L70.2 917.1M69.4 917.2L67.6 915.8M70.2 917.1L69.5 914.3M67.6 915.8L68.6 914.5M68.6 914.5L69.5 914.3M67.7 918.9L69.4 917.2M67.4 919.7L67.9 920.2M70.9 919.4L70.2 917.1M70.2 917.1L70.2 917.1M66.0 916.0L67.6 915.8M72.3 916.4L70.2 917.1M72.3 916.4L70.6 912.8M70.6 912.8L69.5 914.3M67.2 913.6L68.6 914.5M70.6 912.8L70.6 912.6M67.9 911.0L69.6 910.7M74.6 910.9L76.9 912.1M76.3 908.6L77.7 911.3M77.7 911.3L76.9 912.1M76.9 907.4L76.3 908.6M76.9 907.4L80.0 908.5M79.6 910.8L77.7 911.3M79.6 910.8L80.3 908.7M80.0 908.5L80.3 908.7M73.3 907.9L74.0 906.7M70.7 905.4L70.7 905.2M74.0 911.1L74.6 910.9M69.9 910.2L68.6 906.9M74.9 934.3L78.6 933.8M74.9 934.3L74.5 931.1M78.6 933.8L78.5 932.2M74.5 931.1L78.5 932.2M71.4 940.9L70.2 938.7M71.4 940.9L74.8 939.5M70.2 938.7L70.7 936.5M70.7 936.5L74.8 939.5M70.5 942.2L71.4 940.9M76.2 940.6L75.2 939.4M74.8 939.5L75.2 939.4M77.9 937.1L79.8 935.2M77.9 937.1L81.4 940.4M81.4 940.4L81.5 940.3M81.5 940.3L79.9 935.2M74.9 934.3L74.2 935.4M78.6 933.8L79.8 935.2M74.2 935.4L75.4 938.7M75.4 938.7L77.9 937.1M80.5 941.0L81.4 940.4M75.4 938.7L75.2 939.4M106.5 944.0L105.0 939.2M106.9 943.7L106.9 938.3M105.0 939.2L106.9 938.3M109.3 942.4L110.4 937.3M109.0 936.6L107.8 936.9M107.8 936.9L106.9 938.3M103.7 944.2L101.7 940.9M105.0 939.2L104.2 938.9M104.2 938.9L101.9 939.8M101.7 940.9L101.9 939.8M93.9 946.1L93.0 943.9M93.0 943.9L95.3 943.2M97.6 946.8L96.4 942.3M96.4 942.3L95.3 943.2M82.8 940.2L81.5 940.3M82.8 940.2L84.4 944.7M84.4 944.7L84.2 945.9M65.3 910.0L66.1 910.4M65.3 910.0L64.5 908.7M66.1 910.4L68.4 906.9M64.5 908.0L65.5 906.9M65.5 906.9L65.7 906.7M65.7 906.7L66.7 906.2M63.9 912.1L65.3 910.0M66.7 910.8L66.1 910.4M68.6 906.9L68.4 906.9M63.2 907.2L64.5 908.0M61.4 905.1L61.4 905.1M63.1 904.1L65.5 906.9M64.0 903.3L65.7 906.7M71.1 904.0L70.7 905.2M71.1 904.0L68.4 903.4M66.8 905.6L66.7 906.2M76.3 877.2L77.2 876.9M74.3 875.2L75.3 873.8M75.3 873.8L79.1 874.5M77.2 876.9L79.1 874.5M67.3 872.3L67.3 871.2M70.3 871.9L70.8 871.2M67.3 871.2L68.3 867.4M70.8 871.2L68.3 867.4M67.3 871.2L66.2 868.3M66.2 868.3L67.7 866.9M67.7 866.9L68.2 867.0M68.2 867.0L68.3 867.4M89.9 873.8L89.5 873.6M89.9 873.8L91.4 873.5M89.5 873.6L88.6 870.2M91.4 873.5L92.1 871.1M86.1 876.1L87.6 874.0M89.8 875.6L89.9 873.8M87.6 874.0L89.5 873.6M95.5 875.5L91.4 873.5M93.0 870.4L92.1 871.1M88.4 867.8L87.9 868.9M87.9 868.9L87.8 869.2M87.8 869.2L88.6 870.2M85.4 872.0L85.6 871.8M85.4 872.0L82.3 870.7M85.6 871.8L86.1 870.6M86.1 870.6L82.7 870.3M82.3 870.7L82.7 870.3M83.3 874.3L84.1 876.7M84.3 877.1L84.1 876.7M87.6 874.0L85.6 871.8M83.3 874.3L81.5 873.2M81.5 873.2L81.8 871.4M81.8 871.4L82.3 870.7M87.8 869.2L86.7 869.8M86.7 869.8L86.1 870.6M83.7 883.9L82.1 889.2M84.7 884.0L85.1 884.6M85.1 884.6L85.1 887.1M82.1 889.2L85.1 887.1M81.5 882.8L82.0 889.4M82.1 889.2L82.0 889.4M81.7 889.4L82.0 889.4M82.0 889.4L82.0 889.4M84.0 893.7L83.9 890.3M82.0 889.4L83.9 890.3M84.1 893.9L85.4 895.0M88.3 892.9L85.9 890.8M85.4 895.0L88.0 894.4M83.9 890.3L85.9 890.8M87.7 887.6L87.6 887.4M85.9 890.8L87.6 887.4M88.5 885.9L85.7 884.9M88.5 885.9L87.6 887.2M85.7 884.9L86.2 887.1M85.1 884.6L85.7 884.9M89.4 885.3L88.5 885.9M87.6 887.4L87.6 887.2M62.4 885.1L63.8 886.0M63.8 886.0L64.7 884.5M63.7 883.8L64.7 884.5M63.9 886.5L63.8 886.0M63.9 886.5L62.5 887.0M61.4 885.0L62.4 885.1M62.5 887.0L61.2 885.2M68.3 891.4L67.0 889.0M63.9 893.0L63.4 890.1M63.4 890.1L65.2 888.8M65.2 888.8L67.0 889.0M69.1 878.0L67.0 877.2M69.6 880.5L67.6 879.8M67.6 879.8L67.0 877.2M67.7 875.9L67.0 877.2M65.2 873.3L66.3 872.3M64.9 876.1L66.7 877.2M66.3 872.3L67.3 872.3M67.0 877.2L67.0 877.2M73.4 889.6L71.9 888.1M73.4 889.6L70.9 890.4M70.9 890.4L71.3 888.0M71.9 888.1L71.3 888.0M73.5 889.6L73.4 889.6M73.6 886.9L71.9 888.1M70.2 891.2L70.9 890.4M71.3 885.7L73.1 884.1M71.3 885.7L71.0 887.7M71.3 888.0L71.0 887.7M71.0 887.7L71.0 887.7M116.8 912.8L116.8 912.2M111.8 912.2L112.0 911.5M112.0 911.5L113.9 911.0M113.9 911.0L116.8 912.2M121.8 911.1L121.5 910.8M117.1 911.3L117.0 911.5M116.8 912.2L117.0 911.5M111.5 908.7L111.5 908.8M111.5 908.7L114.9 907.7M111.5 908.8L114.5 909.9M114.9 907.7L115.2 908.1M115.2 908.1L114.5 909.8M114.5 909.8L114.5 909.9M115.0 907.0L114.9 907.7M111.5 908.7L111.5 908.7M111.5 908.7L111.2 908.0M111.2 907.3L111.2 908.0M112.0 911.5L111.5 908.8M113.9 911.0L114.5 909.9M115.8 908.4L115.2 908.1M117.0 911.5L114.5 909.8M110.9 907.0L108.8 906.6M111.2 908.0L108.1 907.9M108.1 907.9L108.8 906.6M147.0 914.3L145.3 911.9M145.3 911.9L145.4 909.4M152.2 908.7L150.6 908.0M146.1 908.3L150.6 908.0M146.1 908.3L146.0 908.4M146.0 908.4L145.4 909.4M118.5 892.4L120.4 895.2M118.6 897.1L120.1 896.2M120.4 895.2L120.1 896.2M121.5 890.5L120.7 890.0M121.5 890.5L121.9 890.8M121.9 890.8L122.7 893.7M120.4 895.2L122.7 893.7M121.9 890.8L125.0 889.3M127.2 890.0L123.5 893.7M122.7 893.7L123.5 893.7M56.2 905.0L57.2 904.7M56.2 905.0L56.3 907.2M57.2 904.7L58.3 906.5M58.3 906.5L56.6 908.1M56.6 908.1L56.3 907.2M53.9 907.1L56.3 907.2M55.1 904.8L56.2 905.0M56.5 909.5L56.6 908.1M59.5 907.2L58.3 906.5M54.3 903.0L54.8 902.5M65.1 902.1L65.1 902.2M65.1 902.1L68.5 900.7M65.1 902.2L68.3 903.2M68.5 900.7L68.3 903.2M64.7 902.0L65.1 902.1M66.8 905.6L65.1 902.2M68.6 900.6L68.5 900.7M68.4 903.4L68.3 903.2M70.7 901.4L71.9 903.3M71.9 903.3L71.1 904.0M50.0 936.6L50.8 938.1M47.7 939.6L48.9 939.3M48.9 939.3L50.8 938.1M48.9 939.3L50.3 941.4M49.9 933.5L51.0 933.1M55.0 936.7L52.1 938.8M55.0 936.7L55.5 935.3M50.8 938.1L52.1 938.8M51.0 933.1L55.5 935.3M50.3 941.4L52.1 941.2M51.8 944.1L56.7 943.6M52.1 938.8L52.3 941.0M52.1 941.2L52.3 941.0M61.0 944.2L60.3 942.2M56.7 943.6L56.7 943.0M60.3 942.2L56.7 943.0M52.3 941.0L56.4 942.1M56.7 943.0L56.4 942.1M63.5 941.5L63.2 941.3M62.6 942.9L63.2 941.3M63.2 941.3L63.2 941.3M68.9 924.5L69.1 924.1M69.2 922.9L69.2 924.0M69.2 924.0L69.1 924.1M112.2 924.0L111.3 923.0M111.3 923.0L110.1 924.6M110.1 925.3L110.1 924.6M113.0 924.7L112.2 924.0M109.9 927.4L109.9 927.4M109.9 927.4L110.1 925.3M111.1 921.8L111.3 923.0M107.1 922.1L110.9 921.4M107.1 922.1L110.1 924.6M106.4 900.8L104.9 902.9M99.8 901.3L100.2 902.4M100.2 902.4L104.9 902.9M130.4 929.7L130.0 930.3M130.4 929.7L133.3 930.5M130.0 930.3L129.3 934.1M133.3 930.5L129.3 934.1M127.1 928.5L130.1 929.0M130.1 929.0L130.4 929.7M126.7 928.7L127.1 930.2M127.1 930.2L130.0 930.3M117.6 931.1L119.5 930.4M117.6 931.1L118.6 933.4M118.6 933.4L119.9 931.6M119.5 930.4L119.9 931.6M119.7 929.8L119.5 930.4M115.6 935.5L116.3 935.7M116.3 935.7L118.6 934.5M118.6 934.5L118.6 933.4M122.8 931.1L122.8 931.5M127.1 930.2L127.5 934.1M122.8 931.5L127.5 934.1M117.7 939.0L120.3 938.9M117.7 939.0L117.1 940.3M117.1 940.3L120.8 942.0M120.3 938.9L121.2 940.3M121.2 940.3L120.8 942.0M117.1 940.3L116.4 941.2M120.4 946.8L120.9 943.6M134.0 930.3L133.4 934.1M134.0 930.3L134.9 929.7M134.9 929.7L135.0 930.0M135.0 930.0L135.0 934.5M135.0 934.5L133.4 934.1M129.3 934.1L129.0 934.6M133.4 934.1L130.6 935.7M129.0 934.6L130.6 935.7M136.4 943.3L136.0 942.2M136.0 942.2L132.7 941.2M132.7 941.2L131.3 943.0M104.9 910.3L103.8 911.4M104.9 910.3L105.5 912.4M105.5 912.4L103.8 911.4M105.7 909.4L105.3 909.4M105.7 909.4L106.7 910.9M105.8 912.7L106.8 911.4M105.3 909.4L104.9 910.3M105.7 912.7L105.5 912.4M106.7 910.9L106.8 911.4M104.3 913.0L103.6 911.4M70.4 841.1L73.6 842.3M73.6 842.3L74.7 837.4M67.3 836.0L69.2 841.6M69.2 841.6L70.4 841.1M78.7 841.0L78.8 841.1M78.7 841.0L79.2 839.6M78.8 841.1L80.6 840.5M79.2 839.6L81.0 839.0M81.0 839.0L80.6 840.5M78.5 839.0L79.2 839.6M76.5 839.3L77.2 841.1M77.2 841.1L78.7 841.0M81.1 842.7L80.6 840.5M80.6 843.5L80.2 843.1M80.2 843.1L78.8 841.1M84.8 836.6L84.8 838.9M84.8 838.9L83.8 840.9M76.8 841.9L76.9 842.0M76.9 842.0L79.4 844.3M79.4 844.3L74.5 844.3M74.5 844.3L74.5 843.8M77.2 841.1L76.8 841.9M80.2 843.1L76.9 842.0M73.6 842.3L74.5 843.8M80.4 844.5L79.4 844.3M80.9 849.0L77.3 849.0M77.3 849.0L73.6 846.9M73.6 846.9L74.5 844.3M69.4 845.6L69.6 845.8M73.6 846.9L73.4 847.0M62.7 840.7L61.7 837.6M62.7 840.7L65.1 840.7M65.2 840.2L65.1 840.7M65.2 840.2L61.7 836.6M61.7 836.6L61.7 837.6M67.3 836.0L65.2 840.2M65.9 841.9L65.1 840.7M65.9 841.9L68.8 842.1M62.7 840.7L62.4 841.0M61.7 837.6L60.3 840.1M62.4 841.0L60.3 840.1M58.0 840.8L59.6 840.5M59.6 840.5L60.3 840.1M48.9 854.8L48.4 857.5M48.9 854.8L44.9 857.2M48.4 857.5L45.6 857.7M44.9 857.2L45.6 857.7M49.1 854.2L48.9 854.8M48.8 858.7L48.4 857.5M43.6 856.9L44.9 857.2M46.6 860.1L45.6 857.7M66.2 849.4L64.6 849.4M66.2 849.4L66.5 845.7M64.6 849.4L64.4 845.2M66.5 845.7L64.4 845.2M67.3 849.6L69.6 845.8M69.4 845.6L66.5 845.7M64.4 845.1L62.7 845.1M64.4 845.1L64.4 845.2M65.9 841.9L64.9 843.5M64.9 843.5L64.4 845.1M77.1 849.5L73.8 852.4M77.1 849.5L76.1 853.5M73.8 852.4L73.9 852.6M73.9 852.6L76.1 853.5M77.3 849.0L77.1 849.5M78.8 855.1L76.3 854.1M72.9 848.1L73.1 852.0M72.9 848.1L71.5 849.4M73.1 852.0L71.7 852.8M73.4 847.0L72.9 848.1M73.8 852.4L73.1 852.0M68.2 850.9L70.5 850.1M70.5 850.1L71.3 853.1M68.3 852.9L71.3 853.2M71.3 853.2L71.3 853.1M67.3 849.6L68.2 850.9M71.5 849.4L70.5 850.1M71.7 852.8L71.3 853.1M68.2 854.6L66.0 856.4M68.2 854.6L68.3 852.9M68.2 854.6L70.1 856.4M71.3 853.3L70.1 856.4M41.3 885.8L42.2 884.0M42.2 884.0L40.9 882.3M40.9 882.3L41.0 879.2M62.5 869.6L63.2 865.1M62.5 869.6L63.3 870.1M63.9 870.2L65.5 868.4M63.9 870.2L63.3 870.1M65.5 868.4L63.2 865.1M59.4 870.4L62.5 869.6M63.2 865.1L62.3 864.6M63.2 865.1L63.2 865.1M62.5 873.8L63.3 870.1M66.3 872.3L63.9 870.2M66.2 868.3L65.5 868.4M67.7 866.9L64.7 864.7M64.7 864.7L63.2 865.1M57.6 858.2L55.2 859.9M57.6 858.2L57.6 858.0M57.6 858.0L57.6 857.7M53.7 858.6L57.5 857.6M57.5 857.6L57.6 857.7M58.3 860.4L57.6 858.2M55.3 861.3L55.2 859.9M53.1 858.1L53.7 858.6M57.5 857.6L57.5 857.6M59.9 856.4L57.6 857.7M62.5 887.0L61.5 888.8M60.8 885.3L59.8 886.3M61.5 888.8L59.8 886.3M63.4 890.1L61.6 889.5M63.9 886.5L64.6 887.2M65.2 888.8L64.6 887.2M61.5 888.8L61.6 889.5M61.6 894.1L60.3 891.8M60.3 891.8L61.4 889.7M61.6 889.5L61.6 889.5M56.9 884.2L57.5 882.8M56.9 884.2L56.7 884.8M56.7 884.8L57.9 886.4M59.8 886.3L57.9 886.4M58.4 890.3L57.4 892.1M58.4 890.3L58.2 888.5M55.2 890.3L56.9 892.4M55.2 890.3L55.3 889.3M55.3 889.3L57.6 887.5M58.2 888.5L57.6 887.5M56.9 892.4L57.4 892.1M60.3 891.8L57.4 892.1M61.4 889.7L58.4 890.3M61.6 889.5L58.2 888.5M56.9 892.7L56.9 892.4M53.7 890.7L55.2 890.3M52.4 887.8L52.2 887.9M53.9 887.5L55.3 889.3M54.7 885.2L53.9 887.5M54.7 885.2L56.6 884.8M56.6 884.8L56.7 884.8M51.7 898.3L49.4 897.7M50.2 902.4L48.6 901.7M49.4 897.7L48.7 898.6M48.6 901.7L48.7 898.6M46.7 896.5L49.3 897.6M46.6 894.8L49.6 894.9M49.3 897.6L49.6 894.9M49.4 897.7L49.3 897.6M50.3 893.8L49.6 894.9M41.3 885.8L41.9 888.5M41.9 888.5L41.5 891.4M41.1 891.8L41.5 891.4M141.5 928.1L140.8 928.9M141.5 928.1L137.6 927.7M140.8 928.9L137.7 930.5M137.6 927.7L136.9 927.9M136.9 927.9L135.7 928.4M137.7 930.5L135.1 929.5M135.1 929.5L135.7 928.4M141.5 928.1L141.5 928.1M139.9 931.0L140.8 928.9M139.8 923.6L137.6 927.7M138.6 931.5L137.7 930.5M137.8 924.6L136.9 927.9M134.9 929.7L135.0 929.6M135.0 930.0L136.3 932.3M136.3 932.3L138.7 932.2M135.0 929.6L135.1 929.5M141.3 919.3L141.4 915.3M144.7 916.2L142.7 914.7M142.7 914.7L141.4 915.3M143.6 912.5L142.9 913.6M142.7 914.7L142.9 913.6M127.4 924.0L129.7 923.3M129.9 925.4L130.6 924.4M129.7 923.3L130.6 924.4M129.7 923.3L129.9 920.6M131.9 920.1L132.4 921.1M131.9 920.1L129.9 920.6M132.4 921.1L132.1 923.0M129.9 920.6L131.6 923.2M132.1 923.0L131.6 923.2M132.9 919.0L131.9 920.1M133.5 921.9L132.4 921.1M133.1 917.6L132.0 916.6M129.9 920.6L129.9 920.6M131.0 924.3L130.6 924.4M131.0 924.3L131.6 923.2M133.8 924.7L135.4 927.2M134.4 923.5L134.1 923.7M134.4 923.5L136.4 924.8M136.4 924.8L135.4 927.2M132.4 925.2L133.8 924.7M132.4 925.2L131.0 924.3M134.5 923.1L134.4 923.5M136.6 924.7L136.4 924.8M135.7 928.4L135.4 927.2M132.9 928.0L132.3 925.7M132.9 928.0L130.8 927.7M132.3 925.7L130.4 927.0M130.8 927.7L130.4 927.0M132.4 925.2L132.3 925.7M135.0 929.6L132.9 928.0M130.1 929.0L130.8 927.7M129.7 926.4L130.4 927.0M102.1 857.8L97.7 858.2M102.1 857.8L100.7 855.8M100.7 855.8L98.2 856.2M97.7 858.2L98.2 856.2M100.7 854.2L100.7 855.8M97.6 855.7L98.2 856.2M115.2 867.9L114.5 866.0M115.2 867.9L114.1 868.9M112.8 869.0L111.7 866.9M114.5 866.0L111.4 864.6M111.7 866.9L111.4 864.6M111.4 864.6L111.4 864.6M116.9 868.1L115.2 867.9M116.9 868.1L117.0 866.4M115.9 864.7L114.5 866.0M114.8 870.7L114.1 868.9M111.0 870.9L112.8 869.0M109.8 868.9L111.7 866.9M111.8 864.1L111.4 864.6M108.4 866.2L110.9 864.7M110.9 864.7L107.8 862.6M111.3 864.6L111.0 864.6M110.9 864.7L111.0 864.6M107.8 862.6L108.4 861.1M110.5 859.4L110.3 861.2M110.5 859.4L108.5 861.1M110.3 861.2L109.4 861.9M108.5 861.1L109.4 861.9M112.0 858.9L110.9 858.9M111.3 864.6L110.3 861.2M107.1 860.2L107.2 860.1M110.9 858.9L110.8 858.9M108.4 861.1L108.5 861.1M111.0 864.6L109.4 861.9M114.0 877.8L114.0 878.0M114.9 879.4L114.2 878.5M114.0 878.0L114.2 878.5M111.9 854.8L110.5 853.8M111.9 854.8L108.9 856.6M110.5 853.8L108.8 855.8M108.9 856.6L108.8 855.8M110.4 853.6L110.5 853.8M108.7 857.1L108.9 856.6M108.0 853.2L108.2 852.1M108.0 853.2L106.6 854.6M106.6 854.6L105.1 852.8M108.2 852.1L105.1 852.8M108.5 851.7L108.2 852.1M108.8 855.8L108.0 853.2M103.4 852.5L104.0 852.9M103.7 858.1L104.5 854.9M103.7 858.1L107.4 857.0M104.5 854.9L106.4 854.9M107.4 857.0L106.4 854.9M103.5 858.3L103.7 858.1M102.5 858.3L102.1 857.8M104.0 852.9L104.5 854.9M108.7 857.1L107.4 857.0M106.6 854.6L106.4 854.9M88.4 844.6L87.4 844.6M88.4 844.6L89.7 841.4M87.4 844.6L86.3 841.0M89.7 841.4L86.3 841.0M88.5 849.2L89.7 845.3M86.1 845.3L87.4 844.6M90.7 845.4L89.7 845.3M89.8 841.3L89.7 841.4M84.8 838.9L86.3 841.0M87.3 854.3L89.5 854.7M88.0 856.9L88.4 856.8M88.4 856.8L89.7 855.4M89.5 854.7L89.7 855.4M89.3 859.8L89.1 858.1M89.3 859.8L91.6 858.1M88.9 860.8L89.3 859.8M87.0 860.4L86.8 859.8M88.4 856.8L89.1 858.1M92.3 857.8L92.1 857.0M92.1 857.0L89.7 855.4M97.6 858.3L97.6 858.6M97.6 858.3L95.8 857.6M97.6 858.6L93.7 860.3M95.8 857.6L93.4 859.3M93.4 859.3L93.5 860.0M93.5 860.0L93.7 860.3M98.1 861.8L97.6 858.6M96.5 855.2L95.7 855.5M95.7 855.5L95.8 857.6M93.8 860.6L93.7 860.3M95.7 855.5L94.1 854.8M92.3 857.8L93.4 859.3M92.1 857.0L94.1 854.8M88.9 860.9L93.5 860.0M124.3 877.6L125.3 875.2M121.7 879.5L122.2 879.9M126.8 879.7L126.6 878.2M125.6 880.6L126.3 880.3M123.7 877.6L124.3 877.6M125.0 884.7L123.6 888.1M125.0 884.7L123.7 884.0M123.4 888.0L122.6 885.2M123.4 888.0L123.6 888.1M123.7 884.0L123.5 884.0M123.5 884.0L123.0 884.3M123.0 884.3L122.6 885.2M123.6 888.1L123.6 888.1M125.0 889.3L123.6 888.1M126.4 885.0L125.0 884.7M125.6 880.6L123.7 884.0M120.7 887.9L123.4 888.0M120.5 887.3L122.6 885.2M121.5 890.5L123.6 888.1M122.2 879.9L123.5 884.0M105.6 883.9L108.5 883.3M114.0 888.1L111.6 886.3M115.7 883.6L113.0 884.2M112.3 884.6L113.0 884.2M112.3 884.6L111.6 885.1M111.6 885.1L111.6 886.3M109.3 888.8L109.5 887.8M111.6 886.3L109.5 887.8M102.0 889.2L101.7 887.4M98.6 886.7L98.5 886.8M98.6 886.7L101.6 887.1M101.6 887.1L101.7 887.4M105.3 887.5L105.3 887.4M101.7 887.4L105.3 887.4M106.3 886.5L107.2 886.8M106.3 886.5L105.7 886.8M109.5 887.8L107.2 886.8M105.3 887.4L105.5 887.0M97.6 877.4L101.5 880.3M103.6 877.4L103.2 879.0M101.5 880.3L103.2 879.0M109.6 876.2L108.8 877.6M103.9 877.3L108.1 878.2M108.8 877.6L108.1 878.2M111.2 878.2L111.0 878.6M108.8 877.6L111.0 878.6M114.0 878.0L111.4 879.7M111.0 878.6L111.4 879.7M72.3 916.4L74.1 916.6M74.1 916.6L75.4 915.7M76.9 912.1L76.2 915.6M75.4 915.7L76.2 915.6M106.3 920.2L105.4 921.2M106.2 922.1L105.5 921.3M105.4 921.2L105.5 921.3M104.6 915.8L103.6 920.1M91.9 903.4L91.0 904.1M87.7 899.7L87.5 899.9M87.5 899.9L88.5 903.7M88.5 903.7L91.0 904.1M101.0 910.5L103.7 908.6M101.0 910.5L100.9 910.7M103.7 908.6L105.3 909.4M103.6 911.4L101.2 911.2M100.9 910.7L101.2 911.2M102.4 914.2L101.6 914.0M101.2 911.2L101.6 914.0M85.4 895.0L83.3 896.7M87.5 899.9L85.2 899.8M85.2 899.8L83.3 896.7M69.8 922.2L71.5 921.4M71.2 919.7L71.7 919.8M71.5 921.4L71.7 919.8M74.1 916.6L73.4 919.8M71.7 919.8L73.4 919.8M74.5 931.1L74.3 930.7M78.5 932.2L78.9 931.4M78.9 931.4L78.5 929.6M78.5 929.6L77.9 928.8M77.3 928.7L75.0 929.5M77.3 928.7L77.4 928.7M77.4 928.7L77.9 928.8M78.5 929.6L81.3 929.3M81.2 931.2L81.8 930.0M81.8 930.0L81.3 929.3M102.2 934.6L102.6 934.2M102.2 934.6L102.5 936.8M102.6 934.2L105.4 936.2M102.5 936.8L104.6 936.8M104.6 936.8L105.4 936.2M104.2 938.9L104.6 936.8M101.4 938.5L101.9 939.8M107.8 936.9L105.7 936.1M84.2 945.9L87.2 943.9M80.4 876.0L81.4 879.6M80.4 876.0L79.7 875.6M81.4 879.6L79.6 877.7M81.7 879.9L81.4 879.6M84.1 876.7L80.4 876.0M81.5 873.2L80.0 873.4M79.3 874.4L79.7 875.6M79.3 874.4L80.0 873.4M80.0 873.4L80.0 873.4M77.2 876.9L79.6 877.7M87.9 868.9L82.9 866.5M86.7 869.8L83.0 868.0M83.0 868.0L82.9 866.5M69.5 860.8L71.6 860.2M69.5 860.8L69.1 858.0M69.1 858.0L70.3 856.8M70.3 856.8L72.6 857.3M72.6 857.3L71.6 860.2M71.6 860.2L71.6 860.2M63.3 881.8L63.9 882.6M63.3 881.8L62.8 883.4M63.9 882.6L63.6 883.6M61.8 883.2L62.8 883.4M62.4 880.4L63.3 881.8M65.3 884.3L64.7 884.5M65.3 884.3L64.7 882.4M64.7 882.4L63.9 882.6M65.8 884.4L65.5 886.3M65.8 884.4L67.3 884.0M65.5 886.3L68.0 886.3M67.3 884.0L67.7 884.1M67.7 884.1L68.2 885.5M68.2 885.5L68.0 886.3M65.3 884.3L65.8 884.4M64.6 887.2L65.5 886.3M65.2 882.0L64.7 882.4M65.2 882.0L67.3 884.0M67.0 889.0L67.6 888.0M68.0 887.2L67.6 888.0M68.0 887.2L68.0 886.3M71.3 885.7L68.2 885.5M69.1 882.7L68.0 883.5M68.0 883.5L67.7 884.1M71.0 887.7L68.0 887.2M65.3 881.3L64.0 879.6M65.3 881.3L66.7 881.3M66.7 881.3L67.2 880.1M67.2 880.1L64.2 879.5M62.9 879.5L64.0 879.6M65.2 882.0L65.3 881.3M68.0 883.5L66.7 881.3M66.7 877.2L64.2 879.5M70.0 890.1L70.5 888.2M70.0 890.1L69.8 888.6M69.8 888.6L70.5 888.2M70.0 891.2L70.0 890.1M71.0 887.7L70.5 888.2M67.6 888.0L69.8 888.6M108.4 909.6L108.3 910.0M111.5 908.7L109.6 909.6M106.7 910.9L108.3 910.0M108.1 907.9L107.4 908.3M105.7 909.4L106.9 908.1M107.4 908.3L106.9 908.1M139.6 893.2L137.7 889.9M140.3 893.8L141.7 893.7M138.3 889.6L137.7 889.9M142.4 889.4L141.3 889.9M142.4 889.4L142.5 893.8M142.5 893.8L141.7 893.7M138.8 888.8L138.3 889.6M142.4 889.4L142.8 889.0M149.0 893.7L149.8 894.4M149.0 893.7L148.4 893.5M148.2 896.4L149.8 894.4M148.2 896.4L145.8 896.0M145.8 896.0L145.2 895.4M148.4 893.5L145.2 895.4M121.3 901.9L122.0 901.7M120.1 896.2L124.6 900.1M124.6 900.1L124.4 900.7M122.0 901.7L124.4 900.7M49.6 928.0L51.6 929.2M51.6 929.2L52.0 930.2M51.0 933.1L52.0 930.7M52.0 930.2L52.0 930.7M55.0 936.7L56.9 940.2M56.4 942.1L57.0 940.7M56.9 940.2L57.0 940.7M60.3 942.2L61.1 940.4M57.0 940.7L61.1 940.4M63.2 941.3L61.8 940.0M61.1 940.4L61.8 940.0M70.2 938.7L68.9 938.3M68.9 938.3L68.5 936.9M70.7 936.5L70.7 935.0M68.5 936.9L70.7 935.0M69.9 929.7L70.7 929.5M69.7 930.0L68.2 932.2M68.2 932.2L68.9 933.0M70.7 929.5L74.0 930.7M74.0 930.7L70.5 934.3M68.9 933.0L70.5 934.3M74.2 935.4L70.7 934.7M74.0 930.7L74.3 930.7M70.5 934.3L70.7 934.7M70.7 935.0L70.7 934.7M101.2 905.7L102.9 906.4M101.2 905.7L101.1 905.1M101.1 905.1L104.9 903.4M102.9 906.4L103.6 906.5M103.6 906.5L105.0 905.1M105.0 905.1L104.9 903.4M99.9 906.7L100.7 908.4M99.9 906.7L101.2 905.7M100.7 908.4L102.9 906.4M100.1 902.4L100.2 902.4M104.9 902.9L104.9 903.4M100.7 908.4L101.0 910.5M103.7 908.6L103.6 906.5M109.4 904.1L108.4 905.3M108.4 905.3L105.7 905.6M105.7 905.6L105.0 905.1M121.2 940.3L122.4 940.3M122.4 940.3L123.1 941.8M125.3 946.2L123.6 941.8M123.6 941.8L123.1 941.8M135.0 934.5L135.7 935.0M134.8 937.5L134.9 937.5M130.6 935.7L130.7 936.0M134.9 937.5L135.7 935.0M136.3 932.3L137.3 934.4M135.7 935.0L137.3 934.4M138.8 932.6L137.7 934.5M137.3 934.4L137.7 934.5M138.4 935.0L140.8 934.8M138.4 935.0L138.0 934.8M138.0 934.8L137.7 934.5M125.3 946.2L126.5 942.1M131.3 943.0L129.2 941.0M129.2 941.0L129.1 941.0M129.1 941.0L126.5 942.1M125.0 940.6L123.6 941.8M125.0 940.6L125.2 940.7M125.2 940.7L126.5 942.1M133.8 939.9L130.7 937.1M133.8 939.9L133.1 940.5M130.7 937.1L130.5 938.2M134.1 939.7L134.8 937.5M134.1 939.7L133.8 939.9M130.7 936.0L130.7 937.1M136.0 942.2L135.9 941.6M134.1 939.7L135.6 940.8M132.7 941.2L133.1 940.5M135.9 941.6L135.6 940.8M129.2 941.0L130.5 938.2M114.1 943.4L113.2 941.7M114.1 943.4L111.8 942.6M111.8 942.6L113.2 941.7M110.4 942.6L110.8 942.5M114.2 943.5L114.1 943.4M110.8 942.5L111.8 942.6M113.0 938.9L112.0 941.4M113.0 938.9L114.3 940.4M114.3 940.4L113.5 941.1M112.3 937.5L113.0 938.9M110.8 942.5L112.0 941.4M116.3 935.7L117.7 939.0M116.2 941.3L114.3 940.4M113.2 941.7L113.5 941.1M59.4 860.9L59.6 860.9M59.9 856.4L60.4 856.6M57.6 858.0L60.8 859.6M60.4 856.6L60.8 859.6M59.6 860.9L60.8 859.6M60.8 859.6L60.8 859.6M64.3 843.1L61.7 842.2M64.3 843.1L62.2 841.4M62.2 841.4L61.7 842.1M61.7 842.2L61.7 842.1M64.9 843.5L64.3 843.1M61.1 843.4L61.7 842.2M62.4 841.0L62.2 841.4M59.6 840.5L61.7 842.1M72.0 854.0L72.9 857.2M72.0 854.0L73.5 853.9M73.5 853.9L74.5 855.8M74.5 855.8L73.8 857.1M73.8 857.1L72.9 857.2M71.3 853.3L72.0 854.0M70.1 856.4L70.3 856.8M72.6 857.3L72.9 857.2M73.9 852.6L73.5 853.9M76.3 854.1L74.5 855.8M56.9 884.2L53.4 881.2M56.6 884.8L53.4 881.5M53.4 881.5L53.4 881.2M54.8 879.7L53.5 880.2M45.5 873.3L46.5 877.6M47.7 877.3L46.8 877.9M46.5 877.6L46.8 877.9M49.8 876.6L49.3 878.3M49.3 878.3L47.2 879.6M46.8 877.9L47.2 879.6M44.2 891.3L46.5 894.1M44.2 891.3L46.1 890.4M47.2 890.6L46.1 890.4M47.2 890.6L48.1 892.8M48.1 892.8L46.5 894.1M46.5 894.7L46.5 894.1M46.5 894.7L42.8 895.6M42.8 895.6L41.1 891.8M41.5 891.4L44.2 891.3M50.3 893.6L48.1 892.8M48.0 890.3L47.2 890.6M46.6 894.8L46.5 894.7M141.2 913.8L142.1 912.1M140.3 913.3L140.3 914.0M140.3 913.3L140.9 911.4M140.3 914.0L140.5 914.2M140.9 911.4L142.1 912.1M142.9 913.6L141.2 913.8M141.4 915.3L140.5 914.2M143.6 912.5L142.1 912.1M138.4 916.2L139.0 914.4M139.0 914.4L140.3 914.0M117.1 868.2L119.3 867.1M111.8 880.7L112.6 880.6M111.8 880.7L112.7 881.7M112.6 880.6L114.2 881.1M112.7 881.7L114.1 881.3M114.2 881.1L114.1 881.3M114.7 880.9L114.2 881.1M114.2 878.5L112.6 880.6M112.3 884.6L112.7 881.7M113.0 884.2L114.1 881.3M93.9 852.1L92.5 850.0M93.9 852.1L93.7 853.2M93.7 853.2L89.6 854.5M92.5 850.0L89.4 850.9M89.4 850.9L89.6 854.5M92.8 849.2L92.5 850.0M94.1 854.8L93.7 853.2M89.5 854.7L89.6 854.5M97.1 883.1L98.8 883.4M98.6 886.7L99.4 884.5M99.4 884.5L98.8 883.4M98.2 880.4L100.5 880.9M98.8 883.4L100.5 880.9M101.5 880.3L101.0 880.8M100.5 880.9L101.0 880.8M102.7 884.5L101.7 883.6M102.7 884.5L102.5 885.6M102.1 886.1L102.5 885.6M102.1 886.1L99.5 884.5M99.5 884.5L101.7 883.6M105.7 886.8L103.9 883.8M105.5 887.0L102.5 885.6M103.9 883.8L102.7 884.5M99.4 884.5L99.5 884.5M101.0 880.8L101.7 883.6M105.3 883.5L104.4 883.2M104.4 883.2L104.0 880.2M107.8 881.8L104.0 880.2M106.3 886.5L106.5 885.6M103.9 883.8L104.4 883.2M103.2 879.0L104.0 880.2M108.1 878.2L108.5 879.6M108.5 879.6L107.8 881.8M108.5 883.3L108.8 883.0M107.8 881.8L108.8 883.0M107.2 886.8L109.4 883.3M108.8 883.0L109.4 883.3M127.7 895.1L131.8 897.0M127.7 895.1L126.3 896.3M126.3 896.3L125.9 899.0M131.8 897.1L126.6 899.1M131.8 897.1L131.8 897.0M126.6 899.1L125.9 899.0M131.5 892.2L131.9 896.9M131.9 896.9L131.8 897.0M123.5 893.7L126.3 896.3M124.6 900.1L125.0 899.8M125.0 899.8L125.9 899.0M132.8 900.1L131.0 901.4M132.8 900.1L131.8 897.1M131.0 901.4L126.6 899.1M125.0 899.8L130.3 903.4M131.0 901.4L130.3 903.4M151.9 894.1L150.3 894.4M149.0 893.7L148.9 889.9M150.3 894.4L149.8 894.4M79.6 910.8L81.5 912.8M81.5 912.8L78.6 915.6M76.2 915.6L76.2 915.6M76.2 915.6L78.5 915.6M78.5 915.6L78.6 915.6M99.9 906.7L97.6 906.3M97.6 906.3L97.9 909.2M100.9 910.7L100.3 910.7M100.3 910.7L97.9 909.2M84.5 904.7L87.8 904.4M84.5 904.7L84.4 907.3M87.8 904.4L87.7 906.6M87.0 908.1L87.7 906.6M87.0 908.1L86.3 908.5M86.3 908.5L84.4 907.3M95.0 909.0L94.2 910.6M95.0 909.0L97.5 909.4M97.5 909.4L95.7 912.3M94.2 910.6L95.7 912.3M91.6 906.8L90.3 908.1M91.6 906.8L92.5 907.7M92.5 907.7L92.6 910.5M90.2 908.2L90.3 908.1M90.2 908.2L91.6 911.0M91.6 911.0L92.6 910.5M88.5 903.7L87.8 904.4M91.0 904.1L91.6 905.7M91.6 905.7L91.6 906.8M87.7 906.6L90.3 908.1M87.0 908.1L88.6 909.4M88.6 909.4L90.2 908.2M88.8 910.6L91.3 911.4M88.8 910.6L88.6 909.4M91.3 911.4L91.6 911.0M94.1 907.7L95.0 908.8M94.1 907.7L94.3 906.9M95.0 908.8L97.3 906.0M94.3 906.9L96.2 905.3M97.3 906.0L97.0 905.4M97.0 905.4L96.5 905.1M95.0 909.0L95.0 908.8M94.2 910.6L92.6 910.5M92.7 905.8L94.3 906.9M97.6 906.3L97.3 906.0M97.9 909.2L97.5 909.4M92.7 905.8L96.2 905.3M100.1 902.4L97.0 905.4M96.3 904.9L96.5 905.1M83.3 896.7L80.6 896.2M80.5 896.0L80.6 896.2M81.7 899.6L84.0 900.7M81.7 899.6L80.7 901.1M80.7 901.1L83.1 902.3M84.0 900.7L83.1 902.3M85.2 899.8L84.0 900.7M80.2 896.9L80.6 896.2M80.2 896.9L81.7 899.6M84.5 904.7L83.0 903.9M74.7 927.4L74.8 929.1M74.7 927.4L72.0 925.7M74.8 929.1L71.9 926.9M72.0 925.7L71.9 926.9M75.3 926.2L75.4 926.1M75.3 926.2L74.7 927.4M75.0 929.5L74.8 929.1M76.2 926.2L75.4 926.1M71.9 924.7L75.3 926.2M71.9 924.7L72.0 925.7M70.7 929.5L71.9 926.9M69.2 924.0L71.9 924.7M71.9 924.7L71.9 924.7M99.8 934.8L99.7 931.7M99.8 934.8L98.6 935.9M99.3 931.5L99.7 931.7M99.3 931.5L97.1 930.9M97.1 930.9L96.3 931.2M96.1 932.5L96.3 931.2M82.7 927.8L84.8 925.5M82.7 927.8L83.3 928.4M84.8 925.5L84.5 929.2M83.3 928.4L84.5 929.2M81.2 927.6L82.7 927.8M81.2 927.6L81.3 928.9M81.3 928.9L83.3 928.4M81.8 930.0L84.3 930.2M84.5 929.2L84.7 929.8M100.9 925.9L103.0 927.2M100.9 925.9L102.1 924.9M102.5 924.8L102.1 924.9M102.5 924.8L103.7 925.8M103.7 925.8L103.5 926.7M103.5 926.7L103.0 927.2M100.7 925.9L100.9 925.9M105.5 921.3L102.5 924.8M106.2 922.1L106.3 924.2M106.3 924.2L103.7 925.8M109.9 927.4L109.7 927.4M110.6 931.7L108.4 931.0M108.2 930.6L109.7 927.4M106.3 924.2L107.4 926.9M103.5 926.7L106.6 927.6M109.7 927.4L107.4 926.9M101.4 931.6L99.7 931.7M102.2 934.6L99.8 934.8M102.6 934.2L103.3 932.4M103.3 932.4L102.9 931.7M102.9 928.9L103.0 927.2M102.9 928.9L103.5 929.6M106.6 927.6L105.9 928.9M103.5 929.6L105.9 928.9M108.2 930.6L106.4 929.9M105.9 928.9L106.4 929.9M101.4 938.5L98.5 936.9M98.6 935.9L98.4 936.7M98.4 936.7L98.5 936.9M101.7 940.9L98.1 941.5M98.5 936.9L98.1 941.5M99.5 943.8L97.7 941.8M98.1 941.5L97.7 941.8M96.4 942.3L96.4 942.2M97.7 941.8L96.4 942.2M95.3 941.2L94.4 939.5M96.2 941.9L97.7 936.9M93.9 934.7L96.1 932.5M98.4 936.7L97.7 936.9M94.0 935.7L97.7 936.9M96.4 942.2L96.2 941.9M97.7 936.9L97.7 936.9M93.8 941.8L92.7 941.9M93.8 941.8L92.7 943.7M92.7 941.9L91.5 943.6M92.7 943.7L91.5 943.6M93.0 943.9L92.7 943.7M95.3 941.2L93.8 941.8M89.9 945.4L91.2 943.6M91.2 943.6L91.5 943.6M82.7 870.3L82.7 868.5M82.7 868.5L80.3 869.7M83.0 868.0L82.8 868.3M82.7 868.5L82.8 868.3M86.6 865.5L82.9 865.9M82.9 866.5L82.9 866.1M82.9 865.9L82.9 866.1M68.2 867.0L70.4 865.5M72.1 870.0L70.4 865.5M68.5 862.1L69.5 860.8M68.5 862.1L70.7 865.0M71.6 860.2L72.5 861.3M72.5 861.3L72.6 864.5M70.7 865.0L72.6 864.5M70.7 865.0L70.4 865.5M79.4 856.2L75.7 858.6M73.8 857.1L75.1 858.3M75.7 858.6L75.1 858.3M108.6 906.4L106.7 907.3M108.6 906.4L108.5 906.0M108.5 906.0L106.5 906.9M106.7 907.3L106.5 906.9M106.9 908.1L106.7 907.3M108.8 906.6L108.6 906.4M108.4 905.3L108.5 906.0M105.7 905.6L106.5 906.9M139.4 896.1L140.3 898.6M139.4 896.1L140.3 893.8M142.3 897.7L142.7 893.8M142.3 897.7L141.3 898.2M141.3 898.2L140.3 898.6M138.0 896.3L136.6 898.8M138.0 896.3L139.4 896.1M139.9 899.5L140.3 898.6M139.0 899.8L136.6 898.8M138.0 896.3L135.6 895.0M135.2 895.6L135.6 895.0M135.2 895.6L136.3 898.8M136.3 898.8L136.6 898.8M131.9 896.9L135.2 895.6M132.8 900.1L133.9 900.4M136.3 898.8L133.9 900.4M133.8 891.9L135.6 894.9M133.8 891.9L137.2 889.8M137.2 889.8L137.4 889.9M137.4 889.9L136.2 894.5M136.2 894.5L135.6 894.9M135.6 895.0L135.6 894.9M134.7 885.7L137.2 889.8M137.7 889.9L137.4 889.9M139.6 893.2L136.2 894.5M153.4 899.0L151.8 899.4M153.4 899.0L150.4 897.8M151.8 899.4L148.3 898.7M150.3 894.4L150.4 897.8M148.2 898.7L148.3 898.7M148.2 898.7L148.2 896.4M146.1 908.3L147.0 903.3M150.6 908.0L149.7 905.2M149.7 905.2L147.0 903.3M146.4 898.2L144.7 898.7M145.7 896.8L144.5 898.5M144.7 898.7L144.5 898.5M148.1 898.8L146.4 898.2M145.5 901.2L146.8 901.7M145.5 901.2L144.7 898.7M147.7 901.0L146.8 901.7M148.2 898.7L148.1 898.8M145.8 896.0L145.7 896.8M143.8 898.2L144.5 898.5M143.8 898.2L144.7 895.2M144.7 895.2L145.2 895.4M143.4 893.8L143.4 893.8M143.4 893.8L144.1 889.3M143.4 893.8L146.3 892.3M146.3 892.3L146.4 891.7M146.4 891.7L144.9 889.0M143.8 898.2L143.8 898.2M143.8 898.2L142.3 897.7M142.7 893.8L143.4 893.8M144.7 895.2L143.4 893.8M148.4 893.5L146.3 892.3M147.6 890.6L146.4 891.7M145.4 909.4L140.9 909.4M140.3 910.2L140.8 909.5M140.3 910.2L140.9 911.4M140.9 909.4L140.8 909.5M131.6 914.3L134.5 912.9M135.4 913.8L135.3 913.0M134.5 912.9L135.3 913.0M126.2 904.7L125.0 902.5M126.2 904.7L125.0 906.9M125.0 902.5L122.3 905.1M125.0 906.9L123.6 906.8M123.6 906.8L121.8 906.2M121.8 906.2L122.3 905.1M130.0 904.8L130.3 903.4M130.0 904.8L126.2 904.7M124.4 900.7L125.0 902.5M122.0 901.7L122.3 905.1M122.6 908.2L123.6 906.8M125.2 907.6L125.3 910.0M125.2 907.6L125.0 906.9M121.8 906.2L121.8 906.2M55.8 932.8L56.0 933.9M55.6 935.2L56.0 933.9M68.5 936.9L67.6 936.6M68.9 933.0L68.7 933.5M67.6 936.6L68.7 933.5M61.7 938.3L60.2 937.3M61.7 938.3L61.9 938.1M61.9 938.1L63.1 936.6M60.2 937.3L59.3 935.8M63.2 935.6L63.1 936.6M63.2 935.6L61.2 932.9M59.3 935.8L61.2 932.9M56.9 940.2L60.2 937.3M61.8 940.0L61.7 938.3M55.6 935.2L59.3 935.8M67.6 936.6L67.0 936.7M68.7 933.5L66.5 936.5M67.0 936.7L66.5 936.5M68.9 938.3L67.4 938.8M67.0 936.7L67.4 938.8M69.5 941.6L67.3 938.9M67.3 938.9L67.4 938.8M118.6 934.5L119.0 934.6M120.3 938.9L120.8 938.3M120.8 938.3L120.7 937.2M119.0 934.6L120.7 937.2M125.0 940.6L124.9 940.6M122.4 940.3L123.6 939.7M124.9 940.6L123.6 939.7M120.8 938.3L123.4 937.9M123.6 939.7L123.4 937.9M123.9 935.9L124.5 936.3M120.7 937.2L121.2 936.8M123.4 937.9L124.5 936.3M137.2 939.1L138.6 939.4M137.2 939.1L135.8 937.8M137.2 937.0L135.8 937.8M137.2 937.0L139.4 937.8M139.4 937.8L139.7 938.2M138.6 939.4L139.8 938.4M139.7 938.2L139.8 938.4M135.6 940.8L137.2 939.1M134.9 937.5L135.8 937.8M138.0 934.8L137.2 937.0M138.4 935.0L139.4 937.8M141.1 935.0L139.7 938.2M138.8 941.6L138.6 939.4M140.7 938.6L139.8 938.4M129.0 934.6L128.0 934.5M129.1 941.0L127.5 939.1M127.5 939.1L128.0 934.5M124.9 940.6L125.2 936.5M124.5 936.3L125.1 936.2M127.5 934.1L127.7 934.4M62.1 860.4L61.6 859.7M62.1 860.4L63.7 860.8M61.6 859.7L64.3 857.0M63.7 860.8L65.5 859.9M65.5 859.9L65.3 857.7M64.3 857.0L65.1 857.4M60.8 859.6L61.6 859.7M62.3 864.6L63.7 860.8M69.1 858.0L65.3 857.7M66.0 856.4L65.1 857.4M49.3 878.3L50.2 879.9M50.2 879.9L52.1 879.4M53.5 880.2L53.3 880.1M52.1 879.4L53.3 880.1M41.9 888.5L45.3 887.2M46.1 890.4L46.2 889.0M45.3 887.2L46.2 889.0M42.2 884.0L43.2 883.8M45.3 887.2L45.3 887.2M45.3 887.2L45.1 884.4M43.2 883.8L45.1 884.4M42.3 878.8L43.8 879.4M42.3 878.8L43.4 876.2M43.8 879.4L45.2 877.8M43.4 876.2L45.2 877.8M43.5 874.6L43.4 876.2M41.0 879.2L42.3 878.8M46.5 877.6L45.2 877.8M45.8 903.2L45.8 902.9M45.8 902.9L46.4 902.3M46.6 902.2L46.4 902.3M41.9 905.7L42.9 902.8M45.8 902.9L44.5 902.5M42.9 902.8L44.5 902.5M37.4 905.4L41.8 902.0M42.9 902.8L41.8 902.0M111.2 880.1L110.2 880.0M111.2 880.1L111.5 880.6M110.2 880.0L109.4 883.3M111.5 880.6L110.3 883.7M110.3 883.7L109.4 883.3M111.4 879.7L111.2 880.1M108.5 879.6L110.2 880.0M111.8 880.7L111.5 880.6M109.4 883.3L109.4 883.3M111.6 885.1L110.3 883.7M100.5 926.3L99.7 927.2M100.5 926.3L102.0 928.8M99.6 928.2L100.5 929.0M99.6 927.4L99.7 927.2M102.0 928.8L100.7 929.0M102.9 928.9L102.0 928.8M100.7 925.9L100.5 926.3M97.8 929.6L97.5 927.6M97.8 929.6L99.6 928.2M97.5 927.6L99.6 927.4M99.3 931.5L100.5 929.0M97.1 930.9L97.8 929.6M101.4 931.6L100.7 929.0M102.9 931.7L103.5 929.6M88.8 910.6L87.6 911.4M86.3 908.5L86.2 908.7M86.2 908.7L85.9 911.9M87.6 911.4L85.9 911.9M83.5 907.8L83.8 909.4M83.5 907.8L81.8 907.7M81.8 907.7L80.8 908.6M83.4 910.2L83.8 909.4M86.2 908.7L83.8 909.4M84.4 907.3L83.5 907.8M83.0 903.9L82.2 904.3M82.2 904.3L81.8 907.7M79.8 907.3L81.4 904.3M79.8 907.3L80.0 908.5M81.4 904.3L82.2 904.3M100.3 910.7L96.7 913.2M95.7 912.3L96.1 913.1M96.7 913.2L96.1 913.1M101.6 914.0L100.0 915.6M96.7 913.2L100.0 915.6M99.6 918.3L100.0 915.6M79.8 907.3L78.4 904.8M81.4 904.3L81.0 904.2M81.0 904.2L78.4 904.8M76.7 906.5L74.4 906.0M76.7 906.5L77.8 904.9M77.8 904.9L73.7 902.8M73.3 903.2L73.7 902.8M76.9 907.4L76.7 906.5M74.0 906.7L74.4 906.0M78.4 904.8L78.1 904.7M78.1 904.7L77.8 904.9M71.9 903.3L73.3 903.2M71.7 895.9L73.7 897.6M71.2 899.8L74.1 899.2M74.1 899.2L73.7 897.6M73.7 897.6L75.8 896.4M71.5 921.4L73.3 922.9M73.4 919.8L74.0 920.7M73.6 922.6L73.3 922.9M72.9 923.7L73.3 922.9M79.5 924.1L80.7 925.8M79.5 924.1L78.5 923.1M78.5 923.1L78.3 923.3M78.3 923.3L77.4 925.3M77.7 926.1L79.4 927.2M77.7 926.1L77.4 925.3M80.7 925.8L80.6 926.4M80.6 926.4L79.4 927.2M82.4 923.0L83.5 925.1M82.4 923.0L79.5 924.1M83.5 925.1L80.7 925.8M77.9 928.8L79.4 927.2M76.2 926.2L77.4 925.3M97.5 927.6L96.9 926.8M99.7 927.2L97.3 925.9M96.9 926.8L97.3 925.9M96.1 931.1L96.3 931.2M96.1 931.1L95.2 929.8M95.2 929.8L95.6 927.6M96.9 926.8L95.6 927.6M99.1 923.8L97.1 923.3M97.3 925.9L97.1 923.3M79.0 918.5L79.0 920.6M79.0 918.5L76.8 917.4M79.0 920.6L77.2 918.8M77.2 918.8L76.9 918.4M76.8 917.4L76.9 918.4M76.2 915.6L76.8 917.4M78.5 915.6L79.8 918.1M79.8 918.1L79.0 918.5M79.5 921.4L79.0 920.6M79.5 921.4L78.5 923.0M76.6 921.2L78.5 923.0M76.6 921.2L77.2 918.8M75.0 920.6L76.6 921.2M75.0 920.6L76.9 918.4M75.0 920.6L74.0 920.7M84.8 925.5L84.8 925.4M83.5 925.1L84.7 925.3M84.8 925.4L84.7 925.3M88.1 931.3L88.0 930.1M88.1 931.3L89.1 933.4M92.1 932.0L91.5 933.6M92.1 932.0L91.2 928.5M88.0 930.1L89.9 927.6M89.1 933.4L90.4 933.9M91.2 928.5L90.1 927.5M91.5 933.6L90.4 933.9M89.9 927.6L90.1 927.5M90.1 927.5L90.1 927.5M93.9 934.7L91.5 933.6M96.1 931.1L92.1 932.0M95.2 929.8L91.2 928.5M84.7 929.8L88.0 930.1M84.8 925.4L89.9 927.6M88.8 933.7L89.1 933.4M88.8 933.7L86.2 934.1M85.6 943.2L87.3 942.4M85.6 943.2L85.2 940.9M85.2 940.9L86.9 941.0M87.3 942.4L87.8 942.0M87.2 943.9L87.3 942.4M82.8 940.2L83.2 939.9M83.2 939.9L83.3 940.0M83.3 940.0L85.2 940.9M83.3 940.0L87.1 938.8M87.1 938.8L86.9 941.0M89.9 945.4L87.9 942.0M87.9 942.0L87.8 942.0M105.4 932.8L105.4 932.8M105.4 932.8L106.2 931.1M106.2 931.1L107.8 931.7M107.7 933.2L107.8 931.7M105.7 936.1L105.4 932.8M103.3 932.4L105.4 932.8M108.6 934.1L107.7 933.2M106.4 929.9L106.2 931.1M108.4 931.0L107.8 931.7M84.6 861.9L83.2 861.9M82.9 865.9L82.4 864.9M82.4 864.9L83.2 861.9M80.2 858.3L81.7 860.9M84.3 857.4L82.6 861.2M81.7 860.9L82.6 861.2M83.2 861.9L82.6 861.2M82.9 866.1L79.1 867.8M82.4 864.9L77.8 864.4M77.8 864.4L77.8 864.7M77.8 864.7L79.1 867.8M82.8 868.3L79.1 868.3M79.1 867.8L79.1 868.3M72.6 864.5L72.7 864.5M72.7 864.5L74.7 868.6M74.7 869.6L74.7 868.6M73.3 861.1L73.8 860.0M73.3 861.1L73.9 861.2M73.9 861.2L75.0 858.5M71.6 860.2L73.8 860.0M72.5 861.3L73.3 861.1M74.7 863.9L72.7 864.5M74.7 863.9L74.5 861.5M74.5 861.5L73.9 861.2M75.1 858.3L75.0 858.5M143.2 899.4L143.1 901.5M143.2 899.4L142.5 899.2M142.5 899.2L142.5 901.8M143.1 901.5L142.5 901.8M143.8 898.2L143.2 899.4M145.5 901.2L143.1 901.5M141.3 898.2L142.5 899.2M142.2 901.9L142.3 901.9M142.2 901.9L140.4 904.2M142.3 901.9L144.2 904.6M140.4 904.2L140.5 905.0M140.5 905.0L141.5 905.9M141.5 905.9L143.9 906.2M139.9 899.5L142.2 901.9M142.5 901.8L142.3 901.9M139.0 899.8L137.9 902.5M137.9 902.5L140.4 904.2M146.8 901.7L146.8 902.7M146.8 902.7L144.2 904.6M140.9 909.4L141.5 905.9M140.8 909.5L138.0 906.8M138.1 906.5L138.0 906.8M138.1 906.5L140.5 905.0M146.0 908.4L143.9 906.2M151.8 899.4L149.0 901.4M147.7 901.0L148.9 901.4M149.0 901.4L148.9 901.4M149.7 905.2L149.9 904.6M148.9 901.4L149.9 904.6M136.2 909.4L135.4 912.9M136.2 909.4L139.3 910.5M138.7 912.0L137.7 913.1M138.7 912.0L139.3 910.5M137.7 913.1L135.4 912.9M140.3 910.2L139.3 910.5M139.0 914.4L137.7 913.1M140.3 913.3L138.7 912.0M135.3 913.0L135.4 912.9M133.7 909.3L132.8 911.4M133.7 909.3L130.8 907.8M130.1 909.4L130.4 908.4M130.1 909.4L130.6 911.1M130.6 911.1L132.8 911.4M130.4 908.4L130.8 907.8M136.1 909.3L133.7 909.3M134.5 912.9L132.8 911.4M131.0 906.1L132.1 905.8M131.0 906.1L130.8 907.8M136.3 908.0L132.1 905.8M125.2 907.6L130.4 908.4M126.0 910.8L130.1 909.4M130.1 912.9L130.6 911.1M64.3 934.8L65.7 935.4M65.7 935.4L67.6 932.1M67.6 932.1L65.5 931.3M63.2 935.6L64.3 934.8M63.1 936.6L65.7 936.6M65.9 936.4L65.7 936.6M65.9 936.4L65.7 935.4M68.2 932.2L67.6 932.1M66.4 939.3L65.6 937.1M66.4 939.3L66.1 939.7M66.1 939.7L65.8 939.7M65.8 939.7L64.5 938.4M64.5 938.4L65.6 937.1M65.7 936.6L65.6 937.1M67.3 938.9L66.4 939.3M66.4 940.5L66.1 939.7M63.2 941.3L65.8 939.7M61.9 938.1L64.5 938.4M119.1 934.6L121.9 934.8M119.1 934.6L122.6 931.6M122.8 931.5L122.5 934.7M122.5 934.7L121.9 934.8M119.0 934.6L119.1 934.6M121.2 936.8L121.9 934.8M119.9 931.6L122.6 931.6M122.8 931.5L122.8 931.5M123.9 935.9L122.5 934.7M125.1 936.2L127.7 934.4M125.8 939.8L126.6 939.1M125.8 939.8L125.3 936.9M125.3 936.9L126.6 939.1M125.2 940.7L125.8 939.8M51.4 885.2L50.2 883.6M51.4 885.2L52.3 885.3M50.2 883.6L53.0 882.9M52.3 885.3L53.9 884.7M53.9 884.7L53.0 882.9M50.8 886.4L49.6 886.2M50.8 886.4L51.4 885.2M49.6 886.2L50.0 883.5M50.0 883.5L50.2 883.6M52.4 887.8L52.3 885.3M51.4 888.1L51.3 888.0M51.3 888.0L50.8 886.4M54.7 885.2L53.9 884.7M53.4 881.5L53.0 882.9M49.6 883.2L50.0 883.5M49.6 883.2L49.6 883.2M53.3 880.1L49.8 882.7M50.2 879.9L49.9 880.2M49.6 883.2L47.1 883.9M49.6 886.2L49.2 886.3M47.1 883.9L47.1 884.0M47.1 884.0L47.6 885.3M47.6 885.3L49.2 886.3M47.1 883.9L46.8 881.5M47.1 884.0L45.1 884.4M43.2 883.8L44.3 881.4M46.8 881.5L44.3 881.4M47.2 879.6L47.2 879.6M43.8 879.4L44.3 880.0M44.3 880.0L44.3 881.4M48.7 898.6L47.8 898.8M46.6 902.2L46.6 899.7M47.8 898.8L46.6 899.7M41.8 902.0L41.5 901.6M81.5 912.8L83.0 913.2M83.4 910.2L84.1 912.6M83.0 913.2L84.1 912.6M85.9 911.9L85.4 912.5M84.1 912.6L85.4 912.5M79.8 918.1L80.8 918.6M81.9 920.2L80.8 918.6M78.5 923.0L78.5 923.1M82.4 923.0L82.3 920.2M81.9 920.2L82.3 920.2M78.6 915.6L80.9 916.5M80.8 918.6L80.9 916.5M80.9 916.5L82.9 915.8M86.1 913.5L85.4 912.5M91.3 911.4L91.2 911.8M91.2 911.8L90.3 913.3M87.6 911.4L89.4 913.2M90.3 913.3L89.4 913.2M89.4 913.2L87.1 913.9M77.9 902.3L79.4 901.3M77.9 902.3L74.9 900.8M79.5 901.2L78.8 898.3M78.8 898.3L78.3 898.4M78.3 898.4L74.9 900.5M74.9 900.8L74.9 900.5M81.0 904.2L79.4 901.3M78.1 904.7L77.9 902.3M73.7 902.8L74.9 900.8M80.2 896.9L78.8 898.3M75.8 896.4L78.3 898.4M74.1 899.2L74.9 900.5M77.6 923.4L75.4 925.3M77.6 923.4L76.7 923.3M76.7 923.3L75.0 924.7M75.4 925.3L75.0 924.7M75.4 926.1L75.4 925.3M78.3 923.3L77.6 923.4M73.6 922.6L76.7 923.3M72.9 923.7L75.0 924.7M90.4 937.1L89.0 938.1M90.4 937.1L93.1 937.8M89.0 938.1L89.9 940.6M93.1 937.8L93.5 938.9M93.5 938.9L91.4 940.5M91.4 940.5L90.4 940.8M89.9 940.6L90.4 940.8M88.8 933.7L86.9 936.7M87.8 937.8L89.0 938.1M87.8 937.8L86.9 936.7M90.4 933.9L90.4 937.1M94.0 935.7L93.1 937.8M87.9 942.0L89.9 940.6M87.1 938.8L87.8 937.8M94.4 939.5L93.5 938.9M92.7 941.9L91.4 940.5M91.2 943.6L90.4 940.8M96.4 920.8L97.1 923.2M97.1 923.2L93.7 925.6M92.4 921.4L92.5 925.7M92.5 925.7L93.7 925.6M91.4 920.9L91.2 918.7M91.4 920.9L92.4 921.4M91.7 918.3L96.7 918.9M97.0 919.4L96.7 918.9M97.0 919.4L96.4 920.8M97.1 923.3L97.1 923.2M95.6 927.6L93.7 925.6M90.1 927.5L92.5 925.7M91.4 920.9L90.6 921.3M90.6 921.3L89.8 926.1M84.7 925.3L85.1 924.2M89.8 926.1L87.4 922.4M85.1 924.2L87.4 922.4M87.7 921.3L87.4 922.4M84.8 936.0L84.9 935.6M84.8 936.0L84.1 936.3M84.9 935.6L84.4 932.7M84.1 936.3L81.1 934.9M81.4 934.3L81.1 934.9M81.4 934.3L83.4 932.4M84.4 932.7L84.0 932.2M83.4 932.4L84.0 932.2M86.9 936.7L84.8 936.0M86.2 934.1L84.9 935.6M83.2 939.9L84.1 936.3M86.2 932.6L84.4 932.7M79.9 935.2L81.1 934.9M81.2 931.2L81.2 931.2M81.2 931.2L81.4 934.3M81.2 931.2L83.4 932.4M84.3 930.2L84.0 932.2M79.0 862.2L77.7 864.3M79.0 862.2L78.1 860.1M78.1 860.1L76.0 859.3M77.2 864.1L77.7 864.3M77.2 864.1L75.9 860.2M76.0 859.3L75.9 860.2M81.7 860.9L79.0 862.2M77.8 864.4L77.7 864.3M80.2 858.3L78.1 860.1M75.7 858.6L76.0 859.3M74.7 863.9L77.2 864.1M77.8 864.7L74.7 868.6M74.5 861.5L75.9 860.2M74.8 869.7L78.9 868.8M74.8 869.7L75.7 871.9M75.7 871.9L77.8 872.0M77.8 872.0L79.0 869.3M79.0 869.3L79.1 869.1M74.7 869.6L74.8 869.7M79.1 868.3L78.9 868.8M75.3 873.8L75.7 871.9M80.0 873.4L77.8 872.0M80.0 873.4L79.0 869.3M80.3 869.7L79.1 869.1M152.7 902.4L150.0 901.8M152.7 902.4L150.3 904.0M150.3 904.0L150.0 901.8M149.0 901.4L150.0 901.8M134.2 904.4L136.0 906.3M134.2 904.4L135.3 902.7M135.3 902.7L136.5 903.0M136.5 903.0L136.5 903.0M132.1 905.8L134.2 904.4M133.9 900.4L135.3 902.7M138.1 906.5L136.5 903.0M137.9 902.5L136.5 903.0M48.9 882.0L48.6 880.1M48.9 882.0L47.2 880.1M48.6 880.1L47.2 879.7M47.2 880.1L47.2 879.7M49.6 883.2L48.9 882.0M49.9 880.2L48.6 880.1M46.8 881.5L47.2 880.1M47.2 879.6L47.2 879.7M47.2 886.9L47.4 887.8M47.2 886.9L47.4 886.6M47.4 886.6L49.0 887.5M47.4 887.8L48.9 888.2M49.0 887.5L49.1 888.0M48.9 888.2L49.1 888.0M45.3 887.2L47.2 886.9M46.2 889.0L47.4 887.8M47.6 885.3L47.4 886.6M49.2 886.3L49.0 887.5M48.9 888.4L48.9 888.2M51.3 888.0L49.1 888.0M47.8 898.8L45.7 897.9M46.6 899.7L45.7 898.9M45.7 898.9L45.7 897.9M46.4 902.3L45.2 899.4M45.7 898.9L45.2 899.4M45.2 899.4L44.0 899.7M46.7 896.5L45.5 897.4M45.5 897.4L45.7 897.9M42.8 895.6L42.9 896.9M45.5 897.4L42.9 896.9M41.0 899.6L41.7 900.7M41.0 899.6L41.0 898.1M41.7 900.7L43.2 898.9M43.2 898.9L42.8 897.0M41.9 897.4L42.8 897.0M41.5 901.6L41.7 900.7M44.0 899.7L43.2 898.9M42.9 896.9L42.8 897.0M91.2 911.8L93.4 914.1M96.1 913.1L94.9 914.8M94.9 914.8L93.7 914.3M93.4 914.1L93.7 914.3M90.3 913.3L90.3 914.8M93.4 914.1L90.3 914.8M94.9 916.1L94.8 915.5M94.9 916.1L92.1 917.7M94.8 915.5L91.8 915.9M92.1 917.7L91.8 915.9M96.7 918.9L94.9 916.1M94.9 914.8L94.8 915.5M91.7 918.3L92.1 917.7M93.7 914.3L91.1 915.5M91.1 915.5L91.8 915.9M83.0 920.0L83.2 919.6M83.1 920.0L87.5 921.0M87.5 921.0L87.7 917.7M87.7 917.7L87.4 917.6M82.3 920.2L83.0 920.0M85.1 924.2L83.1 920.0M90.4 915.3L90.3 914.8M90.4 915.3L89.6 917.4M90.3 914.8L88.0 914.9M87.8 917.7L89.6 917.4M90.3 914.8L90.3 914.8M91.2 918.7L89.6 917.4M87.1 913.9L88.0 914.9M87.7 917.7L87.8 917.7" stroke="#ad52c2" stroke-width="1.7" fill="none" stroke-linecap="round" stroke-linejoin="round"/>
<path d="M149.4 840.9L146.7 838.6M146.7 838.6L146.3 837.9M139.1 840.6L141.2 838.3M139.1 840.6L135.4 840.6M135.3 840.5L135.4 840.6M151.1 866.0L147.6 868.4M149.4 840.9L149.1 843.1M152.3 845.0L149.1 843.1M146.2 842.5L146.7 838.6M146.2 842.5L147.5 843.6M149.1 843.1L147.5 843.6M141.7 839.2L142.4 842.9M141.7 839.2L144.5 839.9M144.5 839.9L143.6 842.3M142.4 842.9L143.6 842.3M141.8 843.6L142.4 842.9M141.8 843.6L139.1 840.6M141.2 838.3L141.7 839.2M135.3 840.5L133.9 841.4M133.9 841.4L133.3 841.3M153.1 858.6L150.1 860.0M150.1 860.0L149.8 861.6M149.8 861.6L148.1 862.1M147.6 864.1L148.1 862.1M151.1 849.5L151.0 846.3M145.7 866.5L146.5 864.9M146.5 864.9L143.8 862.0M142.3 863.2L143.8 862.0M147.6 864.1L146.5 864.9M129.3 841.5L133.3 841.3M128.4 841.1L128.0 840.8M127.9 840.4L128.0 840.8M129.3 841.5L129.7 843.0M128.1 842.7L128.4 841.1M128.1 842.7L128.9 844.7M129.7 843.0L129.7 843.4M142.4 858.8L145.5 859.2M142.4 858.8L143.8 861.8M143.8 861.8L145.4 861.2M145.4 861.2L145.5 859.2M145.5 859.2L145.5 859.2M148.1 862.1L147.5 861.4M147.5 861.4L145.4 861.2M143.8 862.0L143.8 861.8M147.4 859.9L147.5 861.4M147.4 859.9L145.5 859.2M146.1 857.9L145.9 855.5M146.1 857.9L147.6 859.3M145.9 855.5L147.7 855.2M148.8 855.9L149.2 856.8M149.2 856.8L149.0 858.2M147.6 859.3L149.0 858.2M142.3 857.5L143.5 856.7M145.7 855.4L145.9 855.5M147.4 859.9L147.6 859.3M153.1 858.6L149.2 856.8M150.1 860.0L149.0 858.2M151.1 849.5L149.2 848.8M149.1 851.6L149.2 848.8M149.1 851.6L148.5 851.9M151.0 846.3L148.7 847.8M149.2 848.8L148.7 847.8M147.5 843.6L145.8 847.3M148.7 847.8L145.8 847.3M141.8 843.6L141.7 843.9M141.7 843.9L145.4 847.5M138.7 852.5L141.4 854.3M138.7 852.5L142.3 853.3M141.4 854.3L142.1 853.6M142.3 853.3L142.1 853.6M138.1 852.2L138.6 850.9M142.3 857.5L141.0 855.6M141.0 855.6L141.4 854.3M141.7 843.9L140.6 844.5M142.1 849.4L141.1 848.1M145.1 848.1L145.4 847.5M141.1 848.1L140.6 844.5M135.4 840.6L138.9 844.9M133.9 841.4L133.9 841.4M133.9 841.4L137.1 847.3M138.9 844.9L137.1 847.3M138.9 844.9L140.6 844.5M137.3 848.6L137.0 847.6M137.3 848.6L134.2 851.9M134.1 847.7L137.0 847.6M137.0 847.6L137.0 847.6M133.8 847.8L133.6 848.2M133.6 848.2L133.2 851.7M133.2 851.7L134.2 851.9M138.6 850.9L137.3 848.6M141.2 850.4L142.1 849.4M141.1 848.1L137.0 847.6M137.1 847.3L137.0 847.6M130.2 849.6L133.6 848.2M128.8 846.6L130.1 846.3M130.1 846.3L131.0 846.5M142.8 852.8L145.6 849.6M145.0 854.3L145.8 850.1M145.6 849.6L145.8 850.1M142.8 852.8L142.8 852.8M145.1 848.1L145.6 849.6M148.5 851.9L145.8 850.1M136.8 855.2L138.0 856.4M136.8 854.5L137.4 852.9M140.4 855.5L137.9 852.5M140.4 855.5L138.0 856.4M137.4 852.9L137.9 852.5M136.0 856.0L136.8 855.2M134.2 851.9L137.4 852.9M141.0 855.6L140.4 855.5M138.1 852.2L137.9 852.5M130.5 844.2L131.0 843.6M130.5 844.2L130.6 844.9M130.6 844.9L133.0 843.4M133.7 842.0L133.5 843.0M133.5 843.0L133.0 843.4M129.7 843.4L130.5 844.2M130.1 846.3L130.6 844.9M131.0 846.5L133.0 843.4M133.9 841.4L133.7 842.0M134.1 847.7L133.5 843.0" stroke="#ad52c2" stroke-width="1" fill="none" stroke-linecap="round" stroke-linejoin="round"/>
<path d="M148.2 871.3L147.6 868.4M113.0 846.4L113.1 841.6M113.0 846.4L112.6 846.2M112.6 846.2L111.3 842.3M112.5 841.1L111.3 842.3M145.3 875.4L148.6 873.6M143.9 872.3L144.1 872.1M144.1 872.1L148.1 871.8M148.1 871.8L148.6 873.5M148.6 873.5L148.6 873.6M144.5 876.3L145.3 875.4M144.5 876.3L143.3 875.3M143.3 875.3L142.1 873.1M142.1 873.1L143.9 872.3M137.1 876.3L138.9 878.9M140.9 876.5L140.8 876.3M140.9 876.5L141.1 878.0M141.1 878.0L138.9 878.9M139.9 875.9L140.8 876.3M143.3 875.3L140.9 876.5M142.1 873.1L141.6 873.1M113.9 847.3L116.1 845.2M113.9 847.3L113.9 849.2M116.1 845.2L118.1 845.7M118.1 845.7L118.7 849.5M118.6 849.6L118.7 849.5M115.7 842.5L116.1 845.2M115.7 842.5L113.1 841.6M110.5 845.6L110.0 845.0M109.3 845.3L110.0 845.0M112.6 846.2L110.5 845.6M111.3 842.3L110.0 843.3M110.0 843.3L110.0 845.0M109.7 850.1L113.3 850.0M113.3 850.0L113.9 849.2M112.1 839.2L108.6 840.1M112.5 841.1L112.1 839.2M116.6 842.0L115.7 842.5M116.6 842.0L118.1 840.5M113.3 850.0L113.6 851.3M118.1 853.0L118.6 849.6M118.1 853.0L114.1 853.0M113.6 851.3L114.1 853.0M114.6 857.7L114.6 857.7M114.6 857.7L118.3 854.4M113.7 854.9L114.1 853.0M131.2 871.2L130.2 870.8M130.2 870.8L128.9 871.8M128.9 871.8L129.6 875.0M129.6 875.0L131.0 875.5M131.0 875.5L132.6 875.0M136.3 874.2L133.2 875.2M131.2 871.2L134.2 870.5M134.2 870.5L136.9 872.6M133.2 875.2L132.6 875.0M135.5 878.2L137.1 876.3M137.0 875.6L136.3 874.2M133.2 875.2L133.2 877.5M149.4 878.1L149.3 877.1M149.4 878.1L148.4 879.8M148.4 879.8L147.1 879.6M148.7 876.3L145.3 878.4M148.7 876.3L149.3 877.1M145.3 878.4L147.1 879.6M149.1 881.2L153.4 880.3M153.4 880.3L149.4 878.1M144.6 878.3L145.3 878.4M148.6 873.6L148.7 876.3M132.8 879.5L132.6 878.9M132.8 879.5L134.9 881.0M133.2 877.5L132.6 878.9M138.9 878.9L138.3 880.7M135.4 880.7L138.3 880.7M148.2 871.4L143.4 868.8M148.2 871.4L148.1 871.8M144.1 872.1L143.8 870.8M143.8 870.8L143.4 868.8M121.9 846.3L122.0 844.8M121.9 846.3L118.4 845.5M122.0 844.8L120.2 843.0M120.2 843.0L119.0 844.3M119.0 844.3L118.4 845.5M118.1 845.7L118.4 845.5M121.9 846.5L121.9 846.3M116.6 842.0L119.0 844.3M118.1 840.5L120.1 841.4M123.4 840.0L121.6 840.4M120.1 841.4L121.2 840.9M122.3 842.0L121.2 840.9M121.6 840.4L121.2 840.9M145.7 866.5L142.6 867.3M142.1 866.3L142.3 863.2M142.6 867.3L142.5 867.3M147.6 868.4L145.7 866.5M143.4 868.8L142.6 867.3M114.4 858.1L116.0 861.6M128.9 871.8L127.5 872.0M128.5 875.6L129.6 875.0M128.5 875.6L126.7 873.7M126.7 873.7L126.7 873.1M127.5 872.0L126.7 873.1M123.6 868.1L125.9 870.6M124.1 867.0L126.0 867.2M125.9 870.6L126.2 870.7M126.2 870.7L126.9 867.6M126.0 867.2L126.9 867.6M128.5 875.6L127.6 877.0M131.0 875.5L130.3 877.9M127.6 877.0L130.3 877.9M132.6 878.9L130.5 878.4M130.5 878.4L130.3 877.9M149.1 881.2L148.4 883.4M146.3 881.9L147.0 882.6M148.4 883.4L147.0 882.6M138.1 868.2L141.6 868.0M138.1 868.2L136.9 872.6M141.6 868.0L140.8 871.0M140.8 871.0L140.3 872.4M136.9 872.6L140.2 872.4M140.3 872.4L140.2 872.4M143.8 870.8L140.8 871.0M142.5 867.3L141.6 868.0M141.6 873.1L140.3 872.4M136.9 872.6L136.9 872.6M139.9 875.9L140.2 872.4M121.9 846.5L124.6 845.3M124.6 845.3L124.4 846.6M123.4 840.0L124.3 841.5M127.9 840.4L124.3 841.5M128.1 842.7L126.5 845.1M128.9 844.7L128.8 846.6M128.8 846.6L128.8 846.6M126.5 845.1L127.1 846.1M115.9 864.7L116.9 862.2M116.9 862.2L117.8 862.4M117.8 862.4L117.8 865.5M113.6 851.3L110.4 853.6M134.2 870.5L134.2 869.8M137.5 867.5L138.1 868.2M135.2 867.3L134.2 869.8M142.1 866.3L138.8 864.6M132.8 879.5L130.4 881.9M130.5 878.4L129.0 880.4M127.5 872.0L126.2 870.7M126.7 873.1L124.2 873.0M125.9 870.6L122.9 871.6M124.2 873.0L122.9 871.6M122.9 871.6L121.5 871.1M121.3 871.3L121.4 871.2M124.1 874.9L124.2 873.0M121.5 871.1L121.4 871.2M142.8 882.9L143.5 883.5M142.8 882.9L142.9 879.4M143.5 883.5L145.0 881.6M145.0 881.6L144.1 878.7M144.1 878.7L143.1 878.9M143.1 878.9L142.9 879.4M139.8 882.2L142.8 882.9M139.8 882.2L142.9 879.4M146.3 881.9L145.0 881.6M147.0 882.6L143.7 884.2M143.7 884.2L143.5 883.5M144.6 878.3L144.1 878.7M141.1 878.0L143.1 878.9M138.3 880.7L139.3 882.3M139.8 882.2L139.3 882.3M138.8 884.0L138.2 884.4M134.9 881.0L133.6 885.2M138.9 884.0L138.8 884.0M134.7 885.7L138.2 884.4M138.9 884.0L143.1 885.2M143.7 884.2L143.7 884.8M143.7 884.8L143.1 885.2M143.1 885.2L143.1 885.2M124.8 845.1L125.7 844.6M124.8 845.1L122.6 844.4M125.7 844.6L125.2 843.3M125.2 843.3L124.5 842.9M124.5 842.9L123.7 843.2M122.6 844.4L123.7 843.2M122.1 844.7L122.6 844.4M124.6 845.3L124.8 845.1M128.0 840.8L125.2 843.3M124.3 841.5L124.5 842.9M122.3 842.0L123.7 843.2M131.6 853.1L133.2 851.7M116.0 861.6L116.9 862.2M113.7 854.9L111.9 854.8M114.4 858.1L114.6 857.7M128.9 864.9L130.5 864.1M130.5 864.1L131.0 864.5M131.0 864.5L131.0 867.1M128.2 867.4L129.9 868.8M131.0 867.1L130.8 868.0M129.9 868.8L130.8 868.0M126.5 865.0L126.0 867.2M130.5 862.6L130.5 864.1M130.2 870.8L129.9 868.8M134.2 869.8L132.2 867.8M132.2 867.8L130.8 868.0M135.2 867.3L134.6 866.4M132.2 867.8L133.3 866.5M133.3 866.5L134.6 866.4M131.0 867.1L132.6 866.0M133.3 866.5L132.6 866.0M137.9 865.7L135.0 864.4M134.6 866.4L135.0 864.4M131.0 864.5L131.3 864.5M131.3 864.5L132.6 866.0M142.3 863.2L138.4 861.3M138.8 864.6L138.1 861.7M138.4 861.3L138.6 860.2M126.6 878.2L127.0 877.4M127.0 877.4L125.7 875.2M125.7 875.2L125.3 875.2M124.1 874.9L125.3 875.2M127.6 877.0L127.0 877.4M126.7 873.7L125.7 875.2M143.1 885.2L142.6 886.5M148.4 883.4L148.6 884.2M143.7 884.8L144.0 884.9M147.4 885.1L144.0 884.9M135.0 856.4L136.0 856.0M135.0 856.4L134.6 858.3M134.6 858.3L135.9 859.0M135.9 859.0L136.4 859.0M133.6 858.7L131.9 857.3M131.8 855.6L135.0 856.4M138.6 860.2L136.4 859.0M131.6 853.9L136.8 854.5M117.8 862.4L117.8 862.4M117.8 862.4L120.2 864.8M120.2 864.8L119.4 866.6M119.4 866.6L119.3 867.1M114.6 857.7L118.2 857.6M117.8 862.4L119.6 861.1M135.5 862.6L134.1 860.7M135.5 862.6L134.9 863.5M134.8 863.5L134.9 863.5M134.8 863.5L130.7 861.2M133.5 860.3L130.7 861.2M138.1 861.7L135.5 862.6M135.9 859.0L134.1 860.7M135.0 864.4L134.9 863.5M131.3 864.5L134.8 863.5M133.6 858.7L133.5 860.3M148.8 888.9L149.0 889.8M148.8 888.9L149.4 888.2M149.0 889.8L150.1 890.2M151.9 894.1L150.1 890.2M148.9 889.9L149.0 889.8M149.4 884.6L149.4 888.2M149.4 884.6L148.6 884.2M147.4 885.1L147.0 887.2M144.0 884.9L144.6 886.4M144.6 886.4L147.0 887.2M142.6 886.5L144.6 888.1M144.6 886.4L144.6 888.1M148.9 889.9L147.6 890.6M148.8 888.9L147.0 887.9M147.6 890.6L145.6 888.8M145.6 888.8L147.0 887.9M144.1 889.3L144.7 889.0M144.7 889.0L144.9 889.0M142.8 889.0L144.1 889.3M144.6 888.1L144.7 889.0M145.6 888.8L144.9 889.0" stroke="#ad52c2" stroke-width="1.35" fill="none" stroke-linecap="round" stroke-linejoin="round"/>
<path d="M105.9 845.8h.01M48.9 917.9h.01M117.7 889.3h.01M120.7 890.0h.01M120.4 888.9h.01M53.1 847.4h.01M109.7 850.1h.01M109.3 888.8h.01M49.3 919.8h.01M51.3 917.1h.01M96.7 875.0h.01M93.0 870.4h.01M53.9 873.3h.01M53.8 874.7h.01M113.3 850.0h.01M142.1 873.1h.01M140.9 876.5h.01M136.3 874.2h.01M50.4 904.8h.01M69.6 897.4h.01M76.8 885.5h.01M96.3 897.3h.01M102.6 895.3h.01M133.1 917.6h.01M132.0 916.6h.01M118.8 922.7h.01M119.6 920.8h.01M119.5 921.1h.01M69.6 875.9h.01M52.1 859.5h.01M53.1 858.1h.01M52.1 863.8h.01M56.1 896.3h.01M56.2 893.9h.01M53.1 897.6h.01M134.2 870.5h.01M112.6 846.2h.01M135.9 920.6h.01M96.7 869.2h.01M98.7 871.3h.01M101.4 849.2h.01M130.2 870.8h.01M116.1 886.7h.01M116.4 884.1h.01M117.5 884.0h.01M118.5 875.4h.01M145.3 875.4h.01M143.9 872.3h.01M144.1 872.1h.01M139.9 875.9h.01M45.0 929.7h.01M49.6 928.0h.01M47.8 924.1h.01M47.2 924.3h.01M48.8 922.7h.01M50.4 923.5h.01M55.0 913.1h.01M48.2 915.6h.01M48.9 912.0h.01M46.7 911.9h.01M47.1 912.6h.01M79.8 880.2h.01M72.9 878.9h.01M86.4 879.6h.01M86.9 880.0h.01M70.0 896.5h.01M54.8 875.3h.01M52.0 875.5h.01M53.8 874.9h.01M63.3 876.7h.01M62.8 879.5h.01M99.5 895.4h.01M89.7 892.3h.01M94.6 894.1h.01M113.1 890.9h.01M115.5 893.0h.01M116.9 892.1h.01M101.5 893.0h.01M101.3 894.2h.01M98.6 892.3h.01M99.8 901.3h.01M95.9 902.9h.01M104.5 893.9h.01M101.0 897.7h.01M119.5 909.4h.01M121.8 906.2h.01M60.2 895.7h.01M68.6 900.6h.01M67.0 898.8h.01M119.9 916.5h.01M118.5 913.6h.01M120.1 913.9h.01M104.9 915.7h.01M112.6 930.0h.01M109.6 903.1h.01M111.4 899.0h.01M127.1 928.5h.01M130.1 929.0h.01M102.4 914.2h.01M138.4 935.0h.01M102.1 844.4h.01M96.1 846.5h.01M92.9 869.1h.01M95.9 867.8h.01M94.0 845.3h.01M80.9 849.0h.01M81.8 848.6h.01M64.9 876.1h.01M62.5 873.8h.01M46.6 847.0h.01M46.4 848.0h.01M52.2 851.0h.01M49.8 848.5h.01M52.0 863.8h.01M51.9 863.9h.01M50.1 860.2h.01M52.8 864.7h.01M55.5 865.8h.01M50.7 871.2h.01M56.8 873.7h.01M57.3 872.9h.01M52.4 887.8h.01M56.9 892.7h.01M61.3 894.6h.01M51.0 892.7h.01M113.9 847.3h.01M118.1 845.7h.01M118.6 849.6h.01M109.5 849.2h.01M145.2 930.7h.01M138.7 932.2h.01M138.8 932.6h.01M138.5 918.5h.01M104.8 860.3h.01M104.8 863.0h.01M100.8 862.4h.01M101.6 866.0h.01M99.1 871.1h.01M116.0 861.6h.01M110.2 875.6h.01M101.1 848.1h.01M98.9 844.1h.01M99.1 844.0h.01M99.4 849.9h.01M97.3 848.3h.01M93.0 864.9h.01M96.5 855.2h.01M113.6 851.3h.01M128.9 871.8h.01M115.7 883.6h.01M119.6 886.7h.01M101.9 892.3h.01M101.4 889.8h.01M102.0 889.2h.01M97.6 877.4h.01M98.2 880.4h.01M100.1 890.2h.01M100.3 889.9h.01M98.5 891.2h.01M119.4 879.4h.01M131.0 875.5h.01M133.2 877.5h.01M138.3 880.7h.01M46.7 909.1h.01M47.6 908.9h.01M47.1 906.2h.01M45.8 903.2h.01M49.5 925.3h.01M49.8 926.4h.01M52.5 920.1h.01M52.9 920.3h.01M55.4 916.4h.01M54.9 916.2h.01M68.9 924.5h.01M69.2 922.9h.01M51.2 916.2h.01M50.5 914.3h.01M52.2 912.6h.01M56.5 909.5h.01M51.1 908.6h.01M49.2 911.0h.01M48.3 909.7h.01M65.0 915.4h.01M76.9 907.4h.01M69.9 929.7h.01M106.2 922.1h.01M66.0 916.0h.01M70.6 912.8h.01M74.0 911.1h.01M70.6 912.6h.01M74.6 910.9h.01M74.4 878.0h.01M73.6 886.9h.01M69.1 878.0h.01M89.4 891.7h.01M68.5 862.1h.01M87.7 876.3h.01M84.3 877.1h.01M81.5 882.8h.01M81.3 889.2h.01M81.7 889.4h.01M56.7 879.0h.01M56.9 884.2h.01M57.5 882.8h.01M68.3 891.4h.01M67.1 892.2h.01M66.8 894.3h.01M98.9 896.8h.01M98.0 899.0h.01M99.6 900.5h.01M94.0 896.1h.01M93.1 895.6h.01M110.6 896.7h.01M108.1 895.4h.01M110.9 903.1h.01M117.9 896.8h.01M115.0 907.0h.01M108.0 917.1h.01M106.0 913.4h.01M107.8 913.9h.01M121.8 911.1h.01M121.5 913.2h.01M130.1 912.9h.01M131.6 915.9h.01M121.5 910.8h.01M122.6 908.2h.01M119.7 909.4h.01M61.4 905.1h.01M64.7 902.0h.01M116.1 913.5h.01M117.8 917.6h.01M117.6 923.7h.01M110.8 916.4h.01M113.0 924.7h.01M116.8 924.4h.01M113.5 924.8h.01M114.5 922.8h.01M120.1 928.4h.01M119.6 929.3h.01M122.8 931.1h.01M126.7 928.7h.01M124.9 927.9h.01M123.7 928.3h.01M117.7 939.0h.01M105.7 909.4h.01M105.8 912.7h.01M83.6 855.7h.01M80.2 858.3h.01M88.0 865.2h.01M88.9 860.8h.01M62.4 873.8h.01M52.5 856.9h.01M46.8 853.1h.01M60.7 846.6h.01M56.0 846.0h.01M58.5 844.1h.01M56.9 851.2h.01M53.4 856.8h.01M50.7 875.7h.01M44.7 865.0h.01M45.5 873.3h.01M45.8 872.9h.01M57.4 865.6h.01M53.3 862.3h.01M52.4 863.5h.01M56.8 864.4h.01M50.6 871.3h.01M52.2 887.9h.01M52.4 891.4h.01M63.4 890.1h.01M121.9 846.5h.01M121.9 846.3h.01M128.9 844.7h.01M142.3 857.5h.01M142.1 866.3h.01M142.6 867.3h.01M142.5 867.3h.01M141.1 935.0h.01M142.3 932.8h.01M140.7 932.9h.01M141.0 932.1h.01M141.5 928.1h.01M142.2 919.2h.01M144.7 916.2h.01M138.4 916.2h.01M135.4 913.8h.01M135.7 914.2h.01M126.5 923.9h.01M105.9 868.9h.01M108.4 866.2h.01M103.4 852.5h.01M116.9 868.1h.01M112.0 858.9h.01M108.8 857.1h.01M103.0 872.5h.01M103.0 870.7h.01M114.8 876.9h.01M90.9 845.3h.01M99.9 861.5h.01M89.7 863.0h.01M94.0 865.2h.01M98.4 865.6h.01M96.4 850.6h.01M125.9 870.6h.01M126.2 870.7h.01M126.0 867.2h.01M118.1 884.4h.01M119.6 885.0h.01M130.4 881.9h.01M105.3 887.5h.01M106.6 891.1h.01M106.2 891.8h.01M109.6 876.2h.01M93.6 883.7h.01M119.4 880.3h.01M120.2 882.7h.01M116.7 871.1h.01M116.6 871.1h.01M119.4 874.5h.01M117.1 868.2h.01M121.7 870.1h.01M121.3 871.3h.01M139.8 882.2h.01M139.3 882.3h.01M138.9 884.0h.01M47.8 908.5h.01M67.7 918.9h.01M66.3 919.9h.01M64.7 918.6h.01M52.0 910.7h.01M52.1 910.8h.01M54.5 908.7h.01M54.2 912.4h.01M54.1 912.4h.01M54.4 910.5h.01M56.6 910.5h.01M58.5 914.8h.01M59.3 911.3h.01M61.3 913.7h.01M61.6 912.2h.01M62.9 915.8h.01M63.1 917.7h.01M59.5 917.9h.01M93.5 900.1h.01M93.6 900.4h.01M71.9 903.3h.01M106.3 924.2h.01M66.7 910.8h.01M67.9 911.0h.01M69.6 910.7h.01M89.8 875.6h.01M95.7 875.5h.01M95.5 875.5h.01M94.3 881.0h.01M70.3 871.9h.01M69.5 860.8h.01M84.7 884.0h.01M61.8 883.2h.01M59.7 883.5h.01M61.4 885.0h.01M62.4 880.4h.01M70.2 891.2h.01M70.0 891.2h.01M120.3 901.8h.01M119.7 905.4h.01M118.2 905.6h.01M117.1 911.3h.01M111.8 912.2h.01M112.0 911.5h.01M111.5 908.7h.01M111.2 908.0h.01M128.0 913.7h.01M125.3 910.0h.01M54.6 899.9h.01M53.5 901.2h.01M54.1 903.7h.01M66.8 905.6h.01M63.1 904.1h.01M112.2 915.2h.01M115.1 914.6h.01M110.7 931.6h.01M108.6 934.1h.01M109.0 936.6h.01M110.9 921.4h.01M99.9 906.7h.01M127.1 930.2h.01M118.6 934.5h.01M101.0 910.5h.01M105.3 909.4h.01M104.3 913.0h.01M103.6 911.4h.01M73.4 847.0h.01M84.3 857.4h.01M86.5 856.5h.01M67.3 871.2h.01M66.2 868.3h.01M67.7 866.9h.01M60.8 876.7h.01M59.5 875.7h.01M61.9 846.2h.01M62.7 845.1h.01M77.1 849.5h.01M68.2 854.6h.01M69.1 858.0h.01M57.5 850.1h.01M55.7 851.4h.01M54.6 854.6h.01M49.8 876.6h.01M59.4 870.4h.01M59.8 865.2h.01M59.9 856.4h.01M58.3 860.4h.01M62.5 887.0h.01M60.8 885.3h.01M61.4 889.7h.01M50.3 893.8h.01M48.9 888.4h.01M49.4 890.7h.01M136.9 872.6h.01M145.5 859.2h.01M138.1 852.2h.01M138.6 850.9h.01M142.1 849.4h.01M139.5 923.5h.01M138.6 931.5h.01M139.9 931.0h.01M144.8 923.5h.01M144.2 925.3h.01M140.1 922.8h.01M143.6 912.5h.01M139.0 914.4h.01M133.5 921.9h.01M127.4 924.0h.01M129.7 926.4h.01M132.4 925.2h.01M97.6 855.7h.01M110.3 870.7h.01M116.9 862.2h.01M114.9 879.4h.01M104.0 852.9h.01M88.5 849.2h.01M89.7 845.3h.01M86.1 845.3h.01M88.4 856.8h.01M92.3 857.8h.01M97.7 862.1h.01M98.1 861.8h.01M134.2 869.8h.01M129.8 881.6h.01M121.7 879.5h.01M126.8 879.7h.01M125.6 880.6h.01M126.3 880.3h.01M120.7 887.9h.01M127.0 884.4h.01M93.6 887.7h.01M115.5 873.0h.01M113.3 873.0h.01M124.1 874.9h.01M121.5 875.3h.01M123.4 875.2h.01M142.8 882.9h.01M143.5 883.5h.01M145.0 881.6h.01M144.1 878.7h.01M143.1 878.9h.01M142.9 879.4h.01M133.1 885.3h.01M69.4 917.2h.01M69.5 914.3h.01M84.5 904.7h.01M92.7 905.8h.01M80.3 908.7h.01M74.0 906.7h.01M71.9 924.7h.01M74.5 931.1h.01M78.5 932.2h.01M74.2 935.4h.01M70.7 936.5h.01M77.9 937.1h.01M79.9 935.2h.01M104.2 938.9h.01M107.8 936.9h.01M65.5 906.9h.01M65.7 906.7h.01M81.8 871.4h.01M70.8 871.2h.01M68.2 867.0h.01M68.3 867.4h.01M70.3 856.8h.01M89.5 873.6h.01M88.6 870.2h.01M85.6 871.8h.01M82.3 870.7h.01M82.1 889.2h.01M82.0 889.4h.01M83.9 890.3h.01M85.9 890.8h.01M87.6 887.4h.01M85.7 884.9h.01M87.6 887.2h.01M65.3 884.3h.01M62.4 885.1h.01M63.8 886.0h.01M63.7 883.8h.01M64.7 884.5h.01M67.6 879.8h.01M67.0 877.2h.01M70.9 890.4h.01M71.0 887.7h.01M68.0 887.2h.01M111.5 908.7h.01M108.1 907.9h.01M108.8 906.6h.01M142.4 889.4h.01M120.4 895.2h.01M122.7 893.7h.01M123.5 893.7h.01M124.6 900.1h.01M56.2 905.0h.01M54.8 902.5h.01M65.1 902.2h.01M68.3 903.2h.01M55.5 935.3h.01M111.3 923.0h.01M110.1 925.3h.01M100.1 902.4h.01M129.3 934.1h.01M117.6 931.1h.01M119.9 931.6h.01M133.4 934.1h.01M134.8 937.5h.01M130.6 935.7h.01M105.5 912.4h.01M66.2 849.4h.01M66.5 845.7h.01M64.4 845.2h.01M73.9 852.6h.01M76.1 853.5h.01M72.9 848.1h.01M73.1 852.0h.01M62.5 869.6h.01M65.5 868.4h.01M63.2 865.1h.01M57.6 858.0h.01M55.2 859.9h.01M61.5 888.8h.01M61.6 889.5h.01M57.9 886.4h.01M58.4 890.3h.01M55.2 890.3h.01M56.9 892.4h.01M48.6 901.7h.01M46.7 896.5h.01M46.6 894.8h.01M145.1 848.1h.01M145.4 847.5h.01M142.3 853.3h.01M142.1 853.6h.01M141.1 848.1h.01M137.1 847.3h.01M134.1 847.7h.01M137.0 847.6h.01M133.8 847.8h.01M133.2 851.7h.01M141.5 928.1h.01M137.7 930.5h.01M135.1 929.5h.01M142.9 913.6h.01M129.7 923.3h.01M130.6 924.4h.01M131.9 920.1h.01M132.4 921.1h.01M133.8 924.7h.01M134.4 923.5h.01M100.7 855.8h.01M115.2 867.9h.01M114.1 868.9h.01M112.8 869.0h.01M111.4 864.6h.01M111.0 864.6h.01M108.4 861.1h.01M110.5 859.4h.01M108.5 861.1h.01M109.4 861.9h.01M113.0 884.2h.01M114.0 878.0h.01M111.9 854.8h.01M108.0 853.2h.01M108.2 852.1h.01M105.1 852.8h.01M103.7 858.1h.01M104.5 854.9h.01M107.4 857.0h.01M94.1 854.8h.01M89.5 854.7h.01M89.1 858.1h.01M97.6 858.6h.01M93.5 860.0h.01M93.7 860.3h.01M133.3 866.5h.01M134.6 866.4h.01M138.4 861.3h.01M126.6 878.2h.01M127.0 877.4h.01M125.7 875.2h.01M125.3 875.2h.01M125.0 884.7h.01M123.0 884.3h.01M122.6 885.2h.01M123.6 888.1h.01M105.6 883.9h.01M108.5 883.3h.01M106.5 885.6h.01M111.6 886.3h.01M107.2 886.8h.01M101.6 887.1h.01M103.9 883.8h.01M101.5 880.3h.01M108.1 878.2h.01M111.4 879.7h.01M144.0 884.9h.01M81.5 912.8h.01M75.4 915.7h.01M76.2 915.6h.01M76.2 915.6h.01M87.8 904.4h.01M97.6 906.3h.01M95.0 909.0h.01M83.0 903.9h.01M82.2 904.3h.01M74.0 920.7h.01M70.7 929.5h.01M74.0 930.7h.01M74.3 930.7h.01M75.0 929.5h.01M77.4 928.7h.01M77.9 928.8h.01M81.3 928.9h.01M81.3 929.3h.01M102.2 934.6h.01M102.5 936.8h.01M105.4 936.2h.01M108.4 931.0h.01M98.6 935.9h.01M97.1 930.9h.01M80.4 876.0h.01M79.7 875.6h.01M81.4 879.6h.01M79.6 877.7h.01M74.7 863.9h.01M63.9 882.6h.01M67.3 884.0h.01M65.3 881.3h.01M66.7 881.3h.01M69.8 888.6h.01M108.4 909.6h.01M108.3 910.0h.01M139.4 896.1h.01M131.9 896.9h.01M135.2 895.6h.01M135.6 895.0h.01M139.6 893.2h.01M141.7 893.7h.01M141.3 889.9h.01M137.7 889.9h.01M144.7 895.2h.01M145.2 895.4h.01M140.3 910.2h.01M131.0 901.4h.01M130.3 903.4h.01M52.0 930.7h.01M101.2 905.7h.01M135.7 935.0h.01M137.7 934.5h.01M130.5 938.2h.01M59.6 860.9h.01M51.3 888.0h.01M53.4 881.2h.01M46.8 877.9h.01M46.1 890.4h.01M48.1 892.8h.01M130.1 846.3h.01M131.0 846.5h.01M135.0 856.4h.01M135.9 859.0h.01M141.2 913.8h.01M140.3 914.0h.01M142.1 912.1h.01M119.4 866.6h.01M119.3 867.1h.01M112.7 881.7h.01M114.2 881.1h.01M93.7 853.2h.01M92.5 850.0h.01M134.8 863.5h.01M134.9 863.5h.01M134.1 860.7h.01M133.5 860.3h.01M98.8 883.4h.01M101.0 880.8h.01M102.1 886.1h.01M99.5 884.5h.01M104.4 883.2h.01M104.0 880.2h.01M108.5 879.6h.01M108.8 883.0h.01M127.7 895.1h.01M131.8 897.1h.01M131.8 897.0h.01M125.9 899.0h.01M78.6 915.6h.01M79.8 918.1h.01M97.8 929.6h.01M97.5 927.6h.01M100.7 925.9h.01M88.8 910.6h.01M88.6 909.4h.01M97.5 909.4h.01M86.3 908.5h.01M86.2 908.7h.01M94.2 910.6h.01M91.2 911.8h.01M91.6 906.8h.01M90.2 908.2h.01M94.1 907.7h.01M95.0 908.8h.01M97.0 905.4h.01M96.2 905.3h.01M80.2 896.9h.01M80.5 896.0h.01M80.6 896.2h.01M81.7 899.6h.01M80.7 901.1h.01M83.1 902.3h.01M76.2 926.2h.01M74.8 929.1h.01M71.9 926.9h.01M95.2 929.8h.01M79.5 921.4h.01M76.6 921.2h.01M84.5 929.2h.01M84.7 929.8h.01M84.3 930.2h.01M87.1 938.8h.01M100.9 925.9h.01M106.6 927.6h.01M107.4 926.9h.01M106.4 929.9h.01M98.4 936.7h.01M94.0 935.7h.01M82.7 868.5h.01M70.4 865.5h.01M72.7 864.5h.01M75.7 858.6h.01M75.1 858.3h.01M108.6 906.4h.01M106.5 906.9h.01M139.9 899.5h.01M141.3 898.2h.01M137.9 902.5h.01M145.5 901.2h.01M133.8 891.9h.01M137.2 889.8h.01M144.7 898.7h.01M144.5 898.5h.01M143.4 893.8h.01M140.9 909.4h.01M126.2 904.7h.01M125.0 902.5h.01M123.6 906.8h.01M60.2 937.3h.01M63.2 935.6h.01M63.1 936.6h.01M67.0 936.7h.01M66.5 936.5h.01M65.7 936.6h.01M119.0 934.6h.01M123.4 937.9h.01M137.2 939.1h.01M135.8 937.8h.01M139.7 938.2h.01M127.7 934.4h.01M61.6 859.7h.01M63.7 860.8h.01M65.5 859.9h.01M64.3 857.0h.01M50.0 883.5h.01M45.3 887.2h.01M46.2 889.0h.01M47.1 883.9h.01M45.2 877.8h.01M46.6 902.2h.01M130.5 844.2h.01M130.6 844.9h.01M120.5 864.8h.01M111.2 880.1h.01M109.4 883.3h.01M99.7 927.2h.01M100.5 929.0h.01M83.5 907.8h.01M80.8 908.6h.01M83.4 910.2h.01M81.0 904.2h.01M78.4 904.8h.01M77.8 904.9h.01M73.3 903.2h.01M72.9 923.7h.01M79.5 924.1h.01M78.5 923.1h.01M78.3 923.3h.01M77.4 925.3h.01M79.4 927.2h.01M86.9 936.7h.01M96.9 926.8h.01M97.3 925.9h.01M97.1 923.3h.01M76.9 918.4h.01M84.8 925.4h.01M88.0 930.1h.01M91.5 933.6h.01M90.4 933.9h.01M89.9 927.6h.01M90.1 927.5h.01M90.1 927.5h.01M86.2 932.6h.01M105.4 932.8h.01M106.2 931.1h.01M107.8 931.7h.01M81.7 860.9h.01M83.2 861.9h.01M77.8 864.4h.01M79.1 867.8h.01M74.7 868.6h.01M79.1 868.3h.01M73.3 861.1h.01M73.8 860.0h.01M143.2 899.4h.01M142.5 899.2h.01M142.3 901.9h.01M141.5 905.9h.01M138.7 912.0h.01M139.3 910.5h.01M137.7 913.1h.01M135.4 912.9h.01M133.7 909.3h.01M130.1 909.4h.01M130.6 911.1h.01M132.8 911.4h.01M65.7 935.4h.01M122.6 931.6h.01M121.9 934.8h.01M51.4 885.2h.01M50.2 883.6h.01M53.9 884.7h.01M53.0 882.9h.01M49.8 882.7h.01M49.9 880.2h.01M47.6 885.3h.01M46.8 881.5h.01M83.0 913.2h.01M85.4 912.5h.01M82.3 920.2h.01M80.8 918.6h.01M80.9 916.5h.01M90.3 913.3h.01M89.4 913.2h.01M94.9 914.8h.01M77.9 902.3h.01M78.8 898.3h.01M78.3 898.4h.01M76.7 923.3h.01M75.0 924.7h.01M90.4 937.1h.01M93.5 938.9h.01M96.4 920.8h.01M97.1 923.2h.01M92.4 921.4h.01M92.5 925.7h.01M93.7 925.6h.01M90.6 921.3h.01M87.7 921.3h.01M84.1 936.3h.01M83.4 932.4h.01M84.0 932.2h.01M79.0 862.2h.01M78.1 860.1h.01M77.2 864.1h.01M76.0 859.3h.01M77.8 872.0h.01M78.9 868.8h.01M79.1 869.1h.01M135.3 902.7h.01M47.4 886.6h.01M49.0 887.5h.01M45.2 899.4h.01M45.5 897.4h.01M45.7 897.9h.01M93.4 914.1h.01M93.7 914.3h.01M91.1 915.5h.01M94.9 916.1h.01M91.8 915.9h.01M83.1 920.0h.01M83.2 919.6h.01M90.3 914.8h.01" stroke="#5c2a9c" stroke-width="1.3" stroke-linecap="round" fill="none" opacity="0.85"/>
<ellipse cx="125" cy="856" rx="8.5" ry="11" fill="#f9f4fa" stroke="#9a4cb8" stroke-width="2.2"/>
<ellipse cx="62" cy="926" rx="11" ry="8" fill="#f9f4fa" stroke="#b862c2" stroke-width="5"/>
</g>
<rect x="47.15" y="846.25" width="96" height="90.4" fill="none" stroke="#808080" stroke-width="0.9"/>
<rect x="49.1" y="932.5" width="11.5" height="2.6" fill="#000"/>
<clipPath id="cpkovsv"><rect x="147.3" y="845.8" width="96.6" height="91.3"/></clipPath>
<g clip-path="url(#cpkovsv)">
<rect x="147.3" y="845.8" width="96.6" height="91.3" fill="#f8f3f9"/>
<path d="M150.9 840.1L154.1 839.0M154.1 839.0L152.4 844.9M151.3 844.6L150.0 844.8M150.0 844.8L144.2 842.0M141.0 845.0L143.2 844.3M144.2 842.0L143.2 844.3M141.0 845.0L137.3 850.9M141.6 856.3L143.2 857.2M140.0 860.7L143.4 858.8M143.2 857.2L143.4 858.8M141.9 863.6L144.1 862.5M141.9 863.6L140.0 860.7M143.9 859.5L144.1 862.5M141.9 863.6L141.0 865.3M141.0 865.3L144.4 867.5M144.5 862.7L144.1 862.5M142.7 941.8L147.4 943.1M142.5 940.3L142.7 941.8M150.0 844.8L150.0 844.9M143.2 844.3L143.3 848.7M150.0 844.9L143.3 848.7M137.3 850.9L143.0 849.8M141.6 856.3L142.8 854.3M142.8 854.3L143.1 849.8M143.0 849.8L143.1 849.8M147.5 858.4L148.5 859.2M146.1 859.4L146.9 861.4M148.5 859.2L149.4 861.3M146.8 855.1L147.5 858.4M146.8 855.1L143.2 857.2M143.9 859.5L146.1 859.4M144.5 862.7L146.9 861.4M150.0 861.8L146.1 864.6M150.0 861.8L149.4 861.3M163.4 869.2L162.5 874.3M162.4 874.4L160.4 869.4M162.0 868.1L160.4 869.4M147.2 941.2L147.5 942.3M147.2 941.2L152.1 938.3M147.5 942.3L152.9 941.0M147.5 942.3L147.4 943.1M153.9 942.1L152.9 941.0M142.5 940.3L142.7 939.9M147.2 941.2L146.5 940.0M142.7 939.9L145.4 939.5M146.5 940.0L145.4 939.5M237.4 943.1L240.4 940.5M240.4 940.5L243.8 943.8M237.4 943.1L233.7 941.3M233.7 941.3L231.8 943.5M211.3 944.3L209.1 941.7M209.1 941.7L206.2 943.8M206.2 943.8L205.2 946.8M156.8 871.8L158.6 874.7M156.8 871.8L157.0 871.5M160.4 869.4L157.0 871.5M160.4 875.6L158.6 874.7M144.5 869.1L144.4 867.6M144.5 869.1L137.8 873.2M180.5 842.0L176.2 840.5M180.4 840.1L177.5 837.7M176.2 840.5L177.5 837.7M211.8 844.3L208.4 846.5M207.2 847.4L207.1 847.7M207.1 847.7L214.6 848.3M213.4 844.9L211.8 844.3M205.1 841.4L207.2 847.4M247.4 840.4L246.2 841.3M246.2 841.3L239.4 835.9M247.4 840.4L251.9 843.1M252.1 843.2L251.9 843.1M246.2 841.3L245.5 842.8M241.9 844.0L245.5 842.8M245.5 842.8L245.7 842.9M150.0 844.9L148.8 847.9M143.1 849.8L146.1 851.5M148.8 847.9L146.1 851.5M142.8 854.3L146.9 852.9M146.1 851.5L146.9 852.9M146.8 855.1L147.5 853.7M146.9 852.9L147.5 853.7M165.3 879.3L168.7 880.2M165.3 879.3L166.4 877.1M168.7 880.2L168.7 876.9M152.6 860.0L152.5 860.5M149.8 858.0L148.5 859.2M152.5 860.5L150.7 862.0M158.6 861.1L152.5 860.5M152.5 860.5L156.7 864.6M157.0 871.5L155.5 865.8M151.6 865.7L150.7 862.0M151.6 865.7L151.4 865.9M151.4 865.9L149.0 867.1M156.8 871.8L153.3 872.5M249.6 914.1L247.7 916.4M247.7 916.4L247.0 916.4M247.6 912.6L245.2 913.7M245.3 917.8L247.0 916.4M245.3 917.8L245.5 921.3M245.5 921.3L249.9 920.6M240.4 940.5L240.4 939.2M244.8 939.6L244.0 943.6M244.8 939.6L241.2 937.1M241.2 937.1L240.4 939.2M195.6 942.2L193.3 943.6M206.2 943.8L203.5 942.2M205.2 946.8L203.0 942.4M203.0 942.4L203.5 942.2M208.7 940.5L209.1 941.7M208.7 940.5L207.3 939.5M184.4 942.4L185.9 939.0M184.4 942.4L188.7 945.9M186.6 939.0L185.9 939.0M181.7 942.6L184.4 942.4M181.7 942.6L181.5 942.8M142.2 938.4L142.2 936.1M142.7 939.9L142.2 938.4M141.9 933.2L142.5 931.0M143.4 935.1L141.9 933.2M141.3 917.9L143.0 923.5M141.3 917.9L143.0 916.8M143.0 916.8L147.1 918.6M147.1 918.6L147.8 921.7M147.8 921.7L143.0 923.5M142.0 925.0L143.0 923.5M138.9 907.9L143.3 909.8M143.0 916.8L144.0 912.8M143.8 911.5L143.8 911.6M144.0 912.8L143.8 911.6M194.8 922.0L193.6 923.2M194.8 922.0L195.4 922.4M183.3 840.6L183.4 840.6M183.4 840.6L186.3 836.6M180.4 840.1L181.8 838.9M212.2 838.6L216.9 841.9M249.8 845.6L247.7 845.7M241.9 844.0L241.9 844.7M241.9 844.7L245.7 847.0M247.7 845.7L245.7 847.0M204.9 880.4L205.9 884.7M204.9 880.4L203.5 879.5M203.5 879.5L200.8 881.3M200.6 881.7L200.8 881.3M203.6 878.4L203.5 879.5M200.1 874.1L198.2 874.7M198.2 874.7L197.1 875.7M197.1 875.7L200.8 881.3M203.6 878.4L206.6 875.7M208.0 880.3L204.9 880.4M208.7 876.0L206.6 875.7M210.2 855.4L207.5 857.2M210.2 855.4L210.4 851.9M206.2 855.3L207.5 857.2M207.5 857.2L207.5 857.2M217.0 851.3L210.4 851.9M216.7 856.0L216.6 856.1M210.2 855.4L213.0 857.4M216.6 856.1L213.0 857.4M181.5 873.7L181.3 872.5M181.5 873.7L177.7 875.7M181.3 872.5L180.9 871.6M180.9 871.6L178.7 870.3M198.4 883.3L194.4 881.2M198.4 883.3L200.6 881.7M194.4 881.2L193.9 880.4M193.9 880.4L194.0 880.0M194.0 880.0L196.9 875.8M193.9 880.4L190.5 880.8M190.5 880.8L189.3 879.4M194.0 880.0L191.4 876.5M189.3 879.4L191.4 876.5M185.2 876.8L182.8 876.2M185.2 876.8L187.3 878.6M187.3 878.6L187.2 878.6M182.3 877.5L182.8 876.2M183.7 881.0L181.6 878.9M183.7 881.0L185.0 880.9M181.6 878.9L182.3 877.5M185.0 880.9L187.2 878.6M168.9 844.3L165.9 842.8M168.9 844.3L169.1 845.9M165.9 842.8L162.2 848.3M152.6 860.0L153.5 857.0M149.8 858.0L150.5 856.1M153.5 857.0L150.5 856.1M147.5 853.7L147.7 853.7M150.5 856.1L147.7 853.7M166.0 857.6L166.2 857.3M164.5 858.7L162.7 857.2M166.2 857.3L166.0 852.7M166.0 852.7L163.7 850.9M163.7 850.9L161.7 852.5M162.7 857.2L161.7 852.5M166.1 840.9L165.7 842.5M165.7 842.5L159.9 840.9M159.4 840.3L159.9 840.9M169.1 836.0L166.1 840.9M152.4 844.9L152.6 845.0M152.6 845.0L159.4 840.3M170.4 843.0L174.4 843.1M170.9 840.4L173.5 839.6M173.5 839.6L176.0 840.7M174.4 843.1L175.6 842.6M176.0 840.7L175.6 842.6M173.4 847.6L174.4 843.1M176.2 840.5L176.0 840.7M162.2 848.3L160.8 847.3M159.9 840.9L160.3 845.6M160.3 845.6L160.8 847.3M160.3 845.6L153.3 846.1M148.5 872.8L147.9 872.4M148.5 872.8L148.3 876.9M148.3 876.9L143.1 877.1M147.5 872.3L147.9 872.4M142.2 875.1L143.1 877.1M149.0 867.1L147.9 872.4M153.3 872.5L152.6 873.0M144.5 869.1L147.5 872.3M137.8 873.2L142.2 875.1M152.6 873.0L152.9 876.7M148.3 876.9L148.4 877.0M148.4 877.0L152.9 876.7M143.4 878.8L143.1 877.1M143.4 878.8L146.8 879.4M146.8 879.4L148.5 878.0M148.4 877.0L148.5 878.0M245.3 921.3L244.9 922.8M245.3 921.3L245.5 921.3M244.9 922.8L244.8 925.5M248.9 930.6L243.2 931.4M244.8 925.5L243.6 926.7M248.9 930.7L247.2 934.2M248.9 930.7L251.3 935.5M247.2 934.2L250.9 935.7M242.4 934.1L242.4 933.6M242.4 934.1L245.1 935.2M248.9 930.6L248.9 930.7M242.6 932.2L242.4 933.6M245.1 935.2L247.2 934.2M248.9 943.1L245.8 942.8M248.9 943.1L249.5 941.4M249.5 941.4L249.3 941.1M249.3 941.1L247.3 940.7M245.8 942.8L247.3 940.7M244.8 939.6L246.5 938.9M250.0 936.4L249.5 938.5M249.5 938.5L249.1 939.0M249.1 939.0L246.5 938.9M246.7 936.9L246.5 938.9M245.1 935.2L246.7 936.9M250.9 935.7L250.0 936.4M253.0 941.0L249.5 938.5M249.3 941.1L249.1 939.0M246.5 938.9L246.5 938.9M245.3 921.3L242.1 919.8M244.9 922.8L240.2 923.1M242.1 919.8L240.2 923.1M241.5 917.2L244.2 916.3M242.6 915.1L244.4 915.2M242.6 915.1L240.7 915.7M240.7 915.7L240.7 916.2M244.2 916.3L244.4 915.2M239.7 916.4L240.7 916.2M239.7 916.4L238.7 920.2M241.7 919.4L241.5 917.2M245.3 917.8L244.2 916.3M245.1 913.7L244.4 915.2M245.1 913.7L243.8 912.7M243.8 912.7L243.1 913.1M243.1 913.1L242.6 915.1M240.6 914.0L243.1 913.1M240.0 913.3L236.5 914.2M239.7 910.0L236.5 910.3M240.6 914.0L240.0 913.3M239.7 916.4L235.4 916.7M235.4 916.7L235.2 916.4M235.2 916.4L236.5 914.2M242.8 908.9L241.6 909.0M242.8 908.9L243.8 912.7M240.6 909.2L241.6 909.0M240.6 909.2L239.7 910.0M211.2 933.9L211.2 933.7M212.1 937.8L212.4 937.9M211.2 933.7L214.0 935.9M236.1 910.0L236.5 910.3M236.1 910.0L235.9 909.6M238.0 905.2L236.7 906.1M200.0 940.9L202.0 941.7M200.0 940.9L199.3 942.5M195.6 942.2L196.8 940.9M199.2 939.9L200.0 940.9M197.9 943.2L199.3 942.5M203.0 942.4L202.6 942.3M192.3 939.8L191.6 939.2M192.3 939.8L194.6 938.2M194.6 938.2L195.5 936.8M193.3 943.6L192.3 939.8M191.5 939.1L191.6 939.2M191.5 939.1L188.0 941.6M211.2 933.9L206.8 937.6M208.7 940.5L211.7 938.2M212.1 937.8L211.7 938.2M207.3 939.5L207.2 939.2M202.0 941.7L202.9 939.2M207.2 939.2L202.9 939.2M202.9 939.2L202.0 937.5M153.9 942.1L156.0 941.8M156.0 941.8L157.7 942.8M165.3 879.3L164.8 880.1M161.1 879.6L160.4 875.6M161.1 879.6L164.2 880.2M181.6 878.9L178.5 879.5M182.4 886.1L179.2 882.8M154.8 925.9L151.2 924.9M170.5 927.0L170.8 925.4M170.5 927.0L173.3 928.4M173.3 928.4L175.1 928.4M175.1 928.4L171.4 922.3M171.4 922.3L170.8 925.4M171.0 915.4L171.5 915.8M166.1 917.1L166.6 915.2M166.9 915.0L166.6 915.2M147.8 914.4L144.1 912.8M144.1 912.8L148.2 917.2M149.3 916.2L148.2 917.2M144.0 912.8L144.1 912.8M143.8 911.6L147.3 911.3M148.4 911.7L147.3 911.3M148.4 911.7L147.8 914.4M147.1 918.6L148.2 917.2M149.6 922.9L153.3 920.9M149.7 916.0L153.3 920.9M149.7 916.0L149.3 916.2M146.8 879.4L148.2 883.8M145.4 884.5L145.5 884.5M145.5 884.5L148.2 883.8M189.8 901.9L189.1 902.7M189.8 901.9L189.0 900.8M185.3 897.0L184.1 900.2M191.3 891.1L193.1 889.3M193.1 889.3L190.0 888.2M199.0 921.1L198.8 922.4M199.0 921.1L201.5 920.2M201.7 920.3L201.5 920.2M213.9 904.1L216.5 908.7M213.9 904.1L217.6 904.7M217.3 908.6L218.5 907.0M184.2 867.7L188.2 867.9M186.6 862.7L188.2 862.7M188.2 867.9L188.2 862.7M181.3 872.5L184.9 872.5M180.9 871.6L183.1 870.1M183.1 870.1L184.9 872.5M145.4 884.5L146.1 888.2M146.1 888.2L142.6 890.7M141.5 894.8L145.1 895.4M146.1 894.5L146.1 894.8M146.1 894.5L146.3 893.6M145.1 895.4L146.1 894.8M146.3 893.6L142.6 890.7M173.4 847.6L175.3 848.1M175.3 848.1L177.1 847.6M177.1 847.6L178.3 845.9M175.6 842.6L178.3 845.7M178.3 845.9L178.3 845.7M230.3 837.3L228.1 839.9M231.4 840.0L231.4 841.2M228.1 839.9L231.4 841.2M217.0 851.3L214.6 848.3M216.6 844.2L219.5 847.2M249.7 861.6L249.3 860.5M236.7 857.4L236.3 855.3M236.7 857.4L232.0 857.5M236.3 855.3L233.6 853.8M206.6 875.7L206.3 875.1M206.3 875.1L207.8 871.0M201.0 841.9L200.4 841.5M178.7 870.3L178.2 869.8M178.2 869.8L174.8 871.7M174.8 871.7L175.2 873.1M177.7 875.7L177.5 876.0M175.2 873.1L177.5 876.0M181.5 873.7L182.8 875.9M182.8 875.9L182.8 876.2M178.5 879.5L177.7 879.2M177.7 879.2L177.4 876.6M177.4 876.6L177.5 876.0M184.2 867.7L183.3 869.9M183.3 869.9L183.1 870.1M163.4 869.2L165.7 870.0M166.9 872.0L166.7 871.1M165.7 870.0L166.7 871.1M169.6 874.2L168.6 874.4M169.6 874.2L171.4 873.3M166.7 871.1L169.4 869.2M163.0 863.0L166.7 863.9M165.7 870.0L166.2 868.8M166.7 863.9L166.2 868.8M169.4 869.2L170.3 868.3M170.3 868.3L169.1 866.1M178.7 853.3L179.4 851.4M178.7 850.7L176.3 851.5M178.7 850.7L179.4 851.4M177.1 847.6L178.7 850.7M174.9 851.1L176.3 851.5M170.8 849.8L173.2 853.1M167.4 852.5L171.9 855.3M173.2 853.1L173.2 855.1M171.9 855.3L173.2 855.3M173.2 855.1L173.2 855.3M166.0 852.7L167.4 852.5M163.6 850.5L163.7 850.9M166.2 857.3L168.1 857.2M168.1 857.2L171.9 855.3M176.8 853.4L173.2 855.1M179.0 854.5L178.7 853.3M179.0 854.5L178.9 859.5M178.9 859.6L174.9 858.9M174.9 858.9L173.2 855.3M155.8 852.3L154.9 849.7M155.0 854.0L148.4 853.3M154.7 849.5L154.9 849.7M154.7 849.5L150.7 851.3M150.7 851.3L148.4 853.3M154.4 856.4L155.0 854.0M147.7 853.7L148.4 853.3M160.8 847.3L154.9 849.7M153.3 846.1L154.7 849.5M148.8 847.9L150.7 851.3M153.5 933.0L152.1 931.8M152.1 931.8L156.5 929.8M156.5 929.8L157.6 930.0M157.6 930.0L158.0 930.8M157.4 932.9L158.0 930.8M153.5 933.0L155.1 936.2M157.4 932.9L157.6 936.2M152.1 938.3L152.1 938.2M152.1 938.2L155.1 936.2M156.0 941.8L158.5 936.9M157.6 936.2L158.5 936.9M145.2 935.3L144.2 934.9M253.2 883.0L251.0 881.0M242.9 891.6L240.0 888.9M242.9 891.6L243.6 891.4M241.5 887.2L240.4 887.1M240.4 887.1L240.0 888.9M244.5 888.5L245.0 890.6M249.8 868.6L247.7 868.2M247.7 868.2L247.0 865.7M247.9 864.2L247.0 865.7M247.7 868.2L247.1 868.4M247.0 865.7L245.4 866.6M247.1 868.4L245.4 866.6M232.5 912.8L232.2 915.5M235.2 916.4L232.2 915.6M226.3 920.2L227.6 920.7M227.6 920.7L229.7 918.6M235.4 916.7L235.9 918.4M235.9 918.4L237.7 920.6M242.8 908.9L244.2 907.8M240.2 903.0L241.4 903.8M244.2 907.8L242.2 904.4M241.4 903.8L242.2 904.4M247.6 912.6L247.9 910.1M245.6 907.5L247.9 910.1M250.0 909.6L247.9 910.1M240.7 893.1L240.0 892.8M239.0 890.7L240.0 892.8M240.2 903.0L240.1 902.9M238.6 903.2L240.1 902.9M240.4 939.2L234.0 938.9M233.7 939.7L234.0 938.9M221.2 925.5L222.3 930.6M221.2 925.5L216.6 927.3M216.6 927.3L216.6 928.7M216.6 928.7L217.3 930.7M217.5 942.1L220.7 939.0M220.8 939.1L220.7 939.0M218.3 937.9L215.6 938.5M218.3 937.9L218.4 937.9M218.5 938.0L218.4 937.9M218.5 938.0L214.1 942.5M213.4 941.2L212.6 942.9M212.6 942.9L214.1 942.5M212.4 937.9L215.6 938.5M214.0 935.9L218.3 937.9M224.4 932.1L222.7 938.7M222.7 938.7L220.8 939.1M220.7 939.0L218.5 938.0M217.5 942.1L214.1 942.5M211.7 938.2L213.4 941.2M201.7 920.3L205.9 920.3M205.8 921.8L205.9 920.3M213.9 925.8L209.0 925.7M211.5 928.4L209.0 926.6M208.9 926.5L209.0 926.6M206.8 937.6L205.0 935.6M232.7 900.5L230.6 902.0M232.7 900.5L235.7 901.0M236.0 901.5L232.4 904.4M236.0 901.5L235.7 901.0M232.4 904.4L230.6 902.0M232.4 904.9L232.6 905.3M237.3 902.1L238.6 903.2M232.9 908.3L232.6 905.6M232.9 908.3L231.3 909.9M232.6 905.6L227.3 909.5M231.3 909.9L227.3 909.5M232.6 905.3L232.6 905.6M235.9 909.6L232.9 908.3M232.5 912.8L231.3 909.9M232.4 904.9L226.8 906.2M226.8 906.2L226.8 908.8M226.9 909.5L227.3 909.5M225.7 925.2L228.3 922.0M225.7 925.2L223.5 924.1M226.3 920.2L224.4 921.3M227.6 920.7L228.3 922.0M224.4 921.3L223.5 924.1M193.6 923.2L191.9 923.9M191.8 924.0L191.9 923.9M181.7 930.7L184.0 931.3M183.7 928.1L184.9 929.9M179.8 927.4L181.2 927.1M184.0 931.3L184.9 929.9M190.8 927.9L187.6 926.5M190.0 929.9L187.0 930.4M187.6 926.5L186.5 929.7M186.5 929.7L187.0 930.4M187.6 926.5L183.7 928.1M187.6 926.5L187.6 926.5M184.9 929.9L186.5 929.7M181.7 942.6L181.4 938.8M185.9 939.0L183.1 937.8M183.1 937.8L181.4 938.8M172.4 934.9L168.1 933.2M172.4 934.9L173.3 937.1M168.1 933.2L167.7 935.2M173.3 938.1L170.1 937.6M160.7 943.0L162.2 942.2M159.6 942.1L161.0 940.1M162.2 942.2L161.0 940.1M165.4 944.6L162.2 942.2M157.7 942.8L159.6 942.1M161.8 937.6L161.3 937.1M161.3 937.1L158.5 936.9M165.8 943.1L163.0 938.0M163.0 938.0L161.8 937.6M189.8 901.9L191.1 901.9M190.5 906.2L192.3 905.1M190.5 906.2L190.0 906.3M192.3 905.1L191.1 901.9M191.1 901.9L191.9 901.4M194.3 898.8L192.1 901.3M191.9 901.4L192.1 901.3M166.2 882.0L164.8 880.1M164.2 880.2L162.6 884.9M165.4 884.0L164.1 884.9M168.0 932.9L173.3 928.4M168.0 932.9L166.5 929.9M170.5 927.0L169.1 926.5M169.1 926.5L166.5 929.9M155.9 924.7L156.2 922.3M154.8 925.9L155.9 924.7M154.5 927.4L156.5 929.8M158.7 928.3L157.6 930.0M149.6 922.9L149.6 923.1M153.4 920.9L153.3 920.9M153.4 920.9L155.8 921.4M155.8 921.4L156.1 921.8M156.1 921.8L156.2 922.3M146.9 927.3L148.4 926.0M146.9 927.3L150.0 932.2M148.4 926.0L151.2 929.9M151.2 929.9L150.9 931.6M150.9 931.6L150.0 932.2M144.6 927.7L142.0 925.0M149.6 923.1L148.4 926.0M152.2 928.2L151.2 929.9M187.6 926.5L187.4 925.9M187.4 925.9L189.2 923.6M177.2 926.9L177.4 922.7M177.2 926.9L179.8 927.4M177.4 922.7L179.0 920.4M184.7 923.4L184.7 923.8M184.7 923.4L180.1 920.5M180.1 920.5L179.0 920.4M172.8 920.5L172.6 917.3M172.8 920.5L171.2 921.6M168.9 919.0L170.0 921.6M171.2 921.6L170.1 921.6M170.0 921.6L170.1 921.6M175.4 928.4L175.1 928.4M177.4 922.7L172.8 920.5M171.5 915.8L172.2 916.2M168.1 918.2L168.8 918.9M168.8 918.9L168.9 919.0M172.2 916.2L172.7 917.1M172.7 917.1L172.6 917.3M170.8 925.4L170.1 921.6M160.5 918.7L157.1 919.2M161.3 916.1L161.2 916.0M161.2 916.0L157.0 914.9M157.1 919.2L157.0 914.9M165.9 917.3L161.3 916.1M165.9 917.3L166.1 917.1M162.4 913.3L161.2 916.0M162.4 913.3L164.9 914.0M166.6 915.2L164.9 914.0M153.4 920.9L153.8 914.9M155.8 921.4L157.1 919.2M153.8 914.9L156.6 914.5M156.6 914.5L157.0 914.9M151.4 896.7L149.9 899.2M151.4 896.7L146.1 894.5M146.1 894.8L148.5 900.2M149.9 899.2L148.5 900.2M141.5 894.8L140.7 898.4M145.1 895.4L142.0 898.8M142.0 898.8L140.7 898.4M149.7 916.0L151.3 914.6M148.4 911.7L149.6 911.7M149.6 911.7L151.3 914.6M153.8 914.9L152.5 914.5M151.3 914.6L152.5 914.5M193.4 889.2L194.2 889.4M194.0 895.5L194.7 894.0M194.2 889.4L194.7 894.0M208.0 880.3L209.2 881.4M207.6 884.6L209.2 881.4M206.7 897.9L205.9 899.4M206.7 897.9L208.2 897.6M205.9 899.4L205.9 899.5M208.2 897.6L211.2 899.5M211.2 899.5L211.6 901.1M211.6 901.1L213.5 902.8M213.5 902.8L213.6 903.9M213.6 903.9L211.1 906.6M211.1 906.6L207.5 904.8M211.1 909.3L210.5 910.6M211.1 909.3L213.8 910.5M210.5 910.6L211.8 914.8M214.0 912.8L212.2 915.0M212.2 915.0L211.8 914.8M216.5 908.7L216.1 909.2M216.1 909.2L213.8 910.5M211.1 906.6L210.8 908.7M216.1 909.2L218.0 913.7M216.3 913.7L218.0 913.7M216.3 913.7L214.0 912.8M224.4 921.3L221.5 918.3M219.1 903.6L219.4 904.1M219.1 903.6L217.6 904.7M218.5 907.0L219.8 906.6M219.4 904.1L219.8 906.6M203.8 905.2L204.9 903.6M203.8 905.2L202.5 905.2M204.9 903.6L201.9 901.0M201.9 901.0L201.5 901.6M204.9 908.1L203.8 905.2M204.9 908.1L207.1 905.6M205.9 899.4L202.0 900.4M202.0 900.4L201.9 901.0M181.5 858.7L183.2 857.3M188.2 862.7L188.2 862.6M183.2 857.3L185.7 858.0M188.2 862.6L185.7 858.0M182.8 875.9L185.2 874.3M185.2 876.8L187.0 875.5M187.0 875.5L185.2 874.3M188.0 878.4L188.6 875.7M188.0 878.4L187.3 878.6M183.4 840.6L185.5 841.9M186.3 836.6L187.7 840.7M185.5 841.9L187.3 841.7M187.7 840.7L193.7 840.3M184.9 845.0L184.1 843.2M183.0 845.8L180.7 843.9M184.1 843.2L181.5 842.8M180.7 843.9L181.1 842.9M181.1 842.9L181.5 842.8M187.7 845.8L187.4 842.1M187.7 845.8L184.9 845.0M187.3 841.7L187.4 842.1M183.3 840.6L181.5 842.8M178.3 845.7L180.7 843.9M238.6 839.8L234.3 843.0M231.4 841.2L232.8 842.7M216.9 841.9L218.4 841.1M218.4 841.1L218.9 839.8M251.1 856.0L250.4 854.7M250.4 854.7L251.3 850.6M247.4 858.3L249.3 860.5M250.3 864.2L249.7 861.6M249.8 845.6L249.8 847.1M249.2 849.9L251.3 850.6M248.1 850.5L248.4 852.5M248.1 850.5L246.5 850.1M246.5 850.1L245.1 854.5M248.4 852.5L245.1 854.5M249.2 849.9L248.1 850.5M249.0 853.5L248.4 852.5M245.7 847.0L245.8 849.7M236.6 848.6L237.0 849.8M237.0 849.8L233.7 852.2M233.7 852.2L232.0 849.1M233.6 853.8L233.5 853.3M233.5 853.3L229.9 851.8M241.9 844.7L241.6 845.5M236.6 848.6L240.5 846.4M234.8 847.0L234.3 843.0M247.4 858.3L247.0 858.3M247.9 864.2L245.5 862.6M247.0 858.3L245.5 862.6M245.4 866.6L244.7 866.6M244.7 866.6L244.4 863.0M249.0 853.5L245.4 855.9M245.1 854.5L244.9 854.8M247.0 858.3L245.7 857.4M245.4 855.9L245.7 857.4M236.7 857.4L237.5 858.5M237.5 858.5L237.5 859.4M237.5 859.4L231.9 862.3M227.2 862.9L228.4 858.2M227.2 862.9L230.5 864.8M229.4 857.4L228.4 858.2M231.9 862.3L230.5 864.8M204.8 870.4L203.1 871.8M205.3 868.1L202.8 867.2M202.0 871.9L203.1 871.8M202.0 871.9L199.9 867.7M206.3 875.1L203.1 871.8M207.8 871.0L204.8 870.4M200.1 874.1L202.0 871.9M198.2 874.7L196.0 870.3M196.4 869.7L196.0 870.3M196.4 869.7L195.1 866.4M209.0 866.2L207.7 865.8M205.3 868.1L206.4 866.7M206.4 866.7L207.7 865.8M206.4 866.7L204.0 865.8M198.6 862.9L199.6 858.8M201.9 863.6L204.1 861.8M204.1 861.8L202.1 858.2M199.6 858.8L202.1 858.2M207.7 865.8L205.9 861.9M207.5 857.2L202.5 857.5M207.5 857.2L207.6 860.1M207.6 860.1L205.9 861.9M202.5 857.5L202.1 858.2M201.6 852.9L202.3 854.0M201.6 852.9L201.7 852.1M201.7 852.1L206.8 847.9M205.3 854.7L202.3 854.0M205.3 854.7L207.9 849.2M207.9 849.2L207.1 847.8M207.1 847.8L206.8 847.9M206.2 855.3L205.3 854.7M208.8 850.4L207.9 849.2M207.1 847.7L207.1 847.8M201.3 845.9L206.8 847.9M191.0 861.2L188.2 862.6M191.0 861.2L191.7 860.1M185.7 858.0L187.6 857.4M198.6 854.4L197.1 854.1M197.1 854.1L195.5 855.7M195.5 855.7L197.0 858.1M198.6 858.0L197.0 858.1M199.6 858.8L198.6 858.0M201.6 852.9L198.6 854.4M194.2 860.3L191.7 860.1M194.2 860.3L197.0 858.1M192.0 857.2L192.8 856.0M192.0 857.2L191.6 859.7M187.7 845.8L188.1 846.4M187.4 842.1L191.9 843.3M191.9 843.3L189.7 845.9M189.7 845.9L188.1 846.4M212.4 862.1L210.6 865.6M210.6 865.6L209.8 865.8M209.8 865.8L210.0 860.7M210.0 860.7L211.7 860.5M209.4 866.1L209.8 865.8M209.4 866.1L209.0 866.2M213.0 857.4L212.5 859.4M212.5 859.4L211.7 860.5M214.6 860.5L215.6 862.2M214.6 860.5L216.4 859.2M215.6 862.2L216.7 860.4M216.4 859.2L216.7 860.4M212.5 859.4L214.6 860.5M215.5 863.6L212.4 862.1M216.6 856.1L216.4 859.2M216.7 856.0L218.7 857.6M218.7 857.6L218.7 860.7M218.7 860.7L217.9 860.8M215.5 863.6L216.2 864.9M217.9 860.8L216.2 864.9M174.6 875.7L175.2 873.2M174.6 875.7L173.6 876.2M175.2 873.2L173.4 875.8M175.2 873.1L175.2 873.2M177.4 876.6L174.6 875.7M173.5 871.6L171.5 873.3M171.5 873.3L173.4 875.8M173.3 877.7L169.6 874.2M173.3 877.7L173.6 876.2M171.4 873.3L171.5 873.3M173.5 871.6L172.1 868.9M175.5 866.2L172.1 868.9M170.3 868.3L171.6 868.6M172.1 868.9L171.6 868.6M163.0 863.0L164.5 858.7M166.0 857.6L170.0 862.0M166.7 863.9L168.7 864.0M175.5 866.2L174.0 865.0M172.6 865.3L174.0 865.0M169.1 866.1L168.7 864.0M172.6 865.3L168.7 864.0M168.7 864.0L168.7 864.0M158.8 856.4L157.4 852.7M160.2 855.7L160.9 852.8M157.4 852.7L160.9 852.8M155.8 852.3L157.4 852.7M161.5 857.2L160.8 856.7M154.4 856.4L157.8 858.6M162.7 857.2L161.5 857.2M161.1 930.5L163.0 931.1M159.2 931.3L162.2 934.1M163.0 931.1L162.9 933.3M158.0 930.8L159.2 931.3M161.3 937.1L162.2 934.1M163.0 938.0L166.1 937.2M168.0 933.0L168.1 933.2M166.1 937.2L167.7 935.2M147.3 935.0L149.6 933.5M147.7 938.5L151.4 937.6M152.1 938.2L151.4 937.6M149.9 932.2L149.6 933.5M149.9 932.2L150.0 932.2M144.6 928.9L143.7 930.8M239.3 884.5L244.5 883.4M241.5 887.2L244.5 883.4M239.1 885.3L240.4 887.1M239.1 885.3L239.3 884.5M253.2 883.0L249.6 885.3M250.1 880.5L251.0 881.0M249.6 885.3L245.9 884.7M245.9 884.7L244.8 883.3M245.9 884.7L244.5 888.5M244.9 897.7L247.8 895.9M244.9 897.7L244.5 897.7M243.6 891.4L244.2 897.6M244.5 897.7L244.2 897.6M245.0 890.6L247.5 891.4M247.8 895.9L248.3 895.0M248.3 895.0L248.3 893.2M248.3 893.2L247.5 891.4M249.6 885.3L249.4 889.3M237.6 925.5L237.4 925.0M237.3 928.6L235.4 930.5M235.4 930.5L228.8 929.6M231.9 924.5L233.5 924.3M228.8 929.6L228.8 929.6M243.6 926.7L237.6 925.5M237.7 924.2L237.4 925.0M242.6 932.2L237.3 928.6M235.9 918.4L234.6 919.9M234.6 919.9L233.5 924.3M225.7 925.2L228.8 929.6M221.2 925.5L221.6 924.6M228.7 929.9L228.8 929.6M228.7 929.9L224.4 932.1M221.6 924.6L223.5 924.1M245.6 907.5L246.1 906.8M250.0 909.6L249.8 905.2M246.1 906.8L249.8 905.2M249.8 905.2L251.7 903.6M235.3 898.2L234.6 897.8M240.7 893.3L238.0 896.7M240.7 893.3L241.7 895.2M240.7 893.1L240.7 893.3M240.0 892.8L236.2 893.2M236.2 893.2L237.7 896.6M243.3 897.4L241.7 895.2M237.3 902.1L239.3 897.8M239.3 897.8L238.4 897.0M237.7 896.6L235.3 898.2M241.7 897.9L240.3 898.1M241.7 897.9L241.2 902.0M240.3 898.1L240.2 902.7M241.2 902.0L240.2 902.7M243.7 900.4L241.2 902.0M243.7 900.4L244.5 897.7M240.1 902.9L240.2 902.7M243.7 900.4L244.7 902.2M241.4 903.8L244.7 902.2M241.2 935.9L237.0 935.6M234.0 938.9L233.9 938.6M233.9 938.6L234.2 937.7M234.2 937.7L237.0 935.6M211.6 929.4L210.3 932.1M211.6 929.4L212.1 929.5M212.1 929.5L215.9 931.8M210.3 932.1L211.2 933.7M215.9 931.8L211.8 933.5M211.2 933.7L211.8 933.5M211.5 928.4L211.6 929.4M208.7 931.7L210.3 932.1M216.6 927.3L214.7 925.1M214.7 925.1L213.9 925.8M216.6 928.7L212.1 929.5M217.7 936.0L211.8 933.5M211.2 933.7L211.2 933.7M209.0 924.3L206.0 922.2M205.8 921.8L206.0 922.2M205.9 920.3L206.7 918.6M206.7 918.6L208.6 918.9M209.0 924.3L211.8 922.3M214.5 917.2L216.3 913.7M212.2 915.0L212.7 916.7M213.5 917.3L212.7 916.7M209.0 925.7L208.9 925.4M191.5 939.1L189.4 937.9M190.7 934.8L189.4 937.9M175.8 939.6L174.2 939.8M175.8 939.6L178.1 942.2M174.2 939.8L173.6 941.0M173.6 941.1L173.6 941.0M173.3 937.1L175.3 935.2M173.3 938.1L174.2 939.8M181.5 942.8L178.1 942.2M167.8 939.4L168.8 939.0M167.8 939.4L167.5 941.5M168.8 939.0L171.7 941.5M167.5 941.5L171.6 941.5M170.1 937.6L168.8 939.0M173.6 941.0L171.7 941.5M194.0 895.5L194.0 895.9M197.9 902.6L195.4 901.5M195.4 901.5L195.2 901.2M202.0 900.4L201.6 899.8M198.6 903.8L197.9 902.6M200.9 899.6L201.6 899.8M193.4 901.7L192.1 901.3M193.4 901.7L195.2 901.2M186.2 907.3L188.5 910.0M190.0 906.3L189.0 909.8M189.0 909.8L188.5 910.0M193.4 901.7L194.8 904.4M193.7 905.6L194.8 904.4M195.4 901.5L195.2 904.2M195.2 904.2L194.8 904.4M195.2 904.2L198.5 904.1M200.9 906.2L202.5 905.2M200.9 906.2L199.0 905.9M174.3 897.2L173.4 901.9M174.3 897.2L177.9 898.0M173.4 901.9L178.0 898.1M177.9 898.0L178.0 898.1M172.1 894.1L172.2 895.4M172.1 894.1L168.4 892.3M168.4 892.3L166.9 896.5M166.9 897.0L166.9 896.5M166.9 897.0L166.9 897.2M172.2 895.4L166.9 897.2M162.6 884.9L162.4 884.9M162.4 884.9L163.7 888.3M164.1 884.9L166.6 888.7M163.7 888.3L166.6 888.7M160.0 883.1L161.6 884.9M161.6 884.9L159.3 888.8M156.9 886.7L158.8 888.8M161.1 879.6L159.6 881.0M162.4 884.9L161.6 884.9M159.6 881.0L159.5 881.5M187.7 892.2L184.4 892.5M184.4 892.5L185.1 894.1M185.7 889.8L184.0 891.6M184.4 892.5L184.0 891.6M176.0 891.2L176.1 886.5M177.0 891.3L180.5 887.4M176.1 886.5L178.0 886.2M178.0 886.2L180.5 887.4M172.1 894.1L172.8 893.2M179.0 893.3L177.9 898.0M179.0 893.3L178.9 893.2M175.7 891.2L176.0 891.2M178.9 893.2L177.0 891.3M174.3 897.2L172.3 895.6M178.9 893.2L181.9 890.3M181.0 887.2L180.5 887.4M182.4 886.1L181.0 887.2M179.2 882.8L177.7 884.3M177.7 884.3L178.0 886.2M165.9 917.3L165.6 918.0M161.0 918.0L162.4 918.6M164.0 918.7L162.4 918.6M160.7 919.3L162.8 919.9M163.3 922.3L162.9 920.0M162.9 920.0L162.8 919.9M160.5 918.7L160.7 919.3M162.4 918.6L162.8 919.9M164.0 918.7L162.9 920.0M184.7 923.4L185.9 921.3M180.1 920.5L184.9 918.0M185.9 921.3L184.9 918.0M172.8 915.2L172.2 916.2M177.2 916.9L175.6 914.2M179.0 920.4L178.4 917.3M177.2 916.9L178.4 917.3M175.2 912.7L173.4 913.6M175.2 912.7L175.5 912.9M173.4 913.6L172.8 915.2M176.1 908.6L175.1 912.3M175.5 912.9L179.5 912.4M172.9 912.8L173.6 911.5M172.9 912.8L171.9 912.3M171.9 912.3L172.8 910.7M173.6 911.5L173.0 910.6M172.8 910.7L173.0 910.6M173.0 910.6L173.0 910.6M173.4 913.6L172.9 912.8M175.1 912.3L173.6 911.5M174.7 908.6L173.0 910.6M170.3 910.5L170.8 908.0M170.8 908.0L173.0 910.6M171.2 906.4L174.7 908.6M170.8 906.7L170.8 908.0M158.8 912.5L159.9 912.3M158.8 912.5L159.5 908.0M159.9 912.3L159.9 908.3M159.5 908.0L159.9 908.3M162.4 913.3L162.1 912.4M156.6 914.5L157.0 913.4M157.0 913.4L158.8 912.5M162.1 912.4L159.9 912.3M157.0 913.4L155.9 909.9M159.0 907.5L159.5 908.0M162.1 912.4L162.9 910.1M162.9 910.1L159.9 908.3M168.6 911.5L169.8 911.1M168.6 911.5L171.0 914.9M169.8 911.1L171.3 912.5M171.0 914.9L171.3 912.5M171.0 915.4L171.0 914.9M170.3 910.5L169.8 911.1M171.9 912.3L171.3 912.5M168.0 911.6L166.1 909.5M168.7 906.8L166.9 907.9M168.7 906.8L170.8 906.7M166.1 909.5L166.9 907.9M164.9 914.0L165.4 909.6M166.1 909.5L165.4 909.6M159.0 907.5L159.0 907.1M159.0 907.1L163.0 905.3M148.2 901.1L146.1 902.1M146.1 902.1L147.0 907.2M143.3 909.8L144.2 908.5M148.8 907.7L147.3 911.3M148.8 907.7L147.5 907.3M151.4 896.7L154.1 894.4M154.8 899.5L149.9 899.2M154.8 899.5L155.2 899.1M155.2 899.1L154.9 895.3M154.9 895.3L154.1 894.4M145.2 902.1L143.7 904.2M145.2 902.1L143.0 900.5M143.0 900.5L140.3 902.6M141.6 904.6L140.3 902.6M144.2 908.5L143.7 904.2M146.1 902.1L145.2 902.1M148.5 900.2L148.2 901.1M148.8 907.7L150.3 907.7M149.4 902.3L150.1 902.7M155.2 904.6L154.3 905.1M155.2 904.6L154.3 900.7M159.5 881.5L157.0 882.5M156.9 886.5L155.3 884.2M155.3 884.2L157.0 882.5M182.6 886.1L184.4 886.7M184.0 891.6L183.3 891.6M185.0 880.9L186.4 882.0M186.4 882.0L186.1 883.8M186.1 883.8L185.3 885.8M184.4 886.7L185.3 885.8M186.4 882.0L188.2 882.5M187.7 884.1L188.2 882.5M188.0 878.4L189.3 879.4M194.4 881.2L192.6 886.4M192.6 886.4L190.6 885.0M190.6 885.0L189.7 882.6M189.6 882.1L189.7 882.6M206.7 897.9L205.7 896.7M201.6 899.8L202.1 896.6M202.1 896.6L205.7 896.7M220.0 861.9L218.2 866.0M220.0 861.9L218.7 860.7M216.2 864.9L216.7 866.0M218.2 866.0L216.7 866.0M216.1 875.4L215.9 872.8M215.6 872.5L215.9 872.8M216.7 866.0L216.2 866.4M215.9 866.9L216.2 866.4M227.0 888.3L226.7 888.1M227.0 888.3L231.5 886.7M232.2 884.4L231.5 886.7M232.2 884.4L227.8 884.5M227.8 884.5L227.3 884.8M213.2 896.2L209.3 894.9M213.2 896.2L213.3 896.1M213.3 896.1L214.0 893.8M209.3 894.9L208.9 893.3M208.9 893.3L213.2 892.5M214.0 893.8L213.2 892.5M208.2 897.6L209.3 894.9M211.2 899.5L213.2 896.2M214.8 901.8L214.3 896.7M214.3 896.7L213.3 896.1M204.9 908.1L204.8 908.5M207.1 905.6L208.2 908.4M204.8 908.5L208.2 908.4M210.8 908.7L209.9 908.8M218.4 913.9L216.9 917.4M216.9 917.4L218.9 920.1M214.5 917.2L216.9 917.4M218.0 913.7L218.4 913.9M219.3 909.9L217.3 908.6M220.8 912.4L219.2 913.7M221.1 906.8L221.6 906.5M221.1 906.8L220.8 908.1M220.8 908.1L222.6 910.7M222.1 907.0L223.0 910.6M222.1 907.0L221.6 906.5M219.8 906.6L221.1 906.8M221.7 905.0L221.9 905.9M221.9 905.9L221.6 906.5M219.3 909.9L220.8 908.1M226.8 908.8L222.1 907.0M226.8 906.2L226.3 905.0M197.3 862.5L194.2 864.9M191.0 861.2L191.5 862.2M194.2 864.9L191.5 862.2M188.2 867.9L188.4 868.1M188.4 868.1L190.6 868.4M191.5 862.2L191.9 865.9M194.2 864.9L194.5 866.0M191.9 865.9L194.5 866.0M195.1 866.4L194.6 866.2M194.6 866.2L194.5 866.0M183.9 870.2L185.3 871.4M184.9 872.5L185.4 872.6M183.9 870.2L186.3 870.2M185.3 871.4L186.3 870.2M186.3 870.2L188.1 869.0M185.2 874.3L185.7 872.9M196.9 875.8L193.4 874.1M191.4 876.5L190.8 875.1M190.8 875.1L193.4 874.1M179.0 854.5L182.8 853.6M183.2 857.3L183.9 855.1M182.8 853.6L183.9 855.0M178.3 845.9L182.1 848.8M179.7 851.3L182.1 848.8M182.1 848.8L183.1 848.7M235.9 875.0L239.8 874.9M240.4 875.9L239.8 874.9M232.8 842.7L232.6 842.8M232.0 849.1L229.5 849.7M229.5 849.7L229.0 847.7M229.0 847.7L232.6 842.8M241.6 845.5L242.5 850.1M240.5 846.4L239.9 850.2M239.9 850.2L242.5 850.1M237.0 849.8L237.7 850.6M239.9 850.2L237.7 850.6M236.3 855.3L238.0 852.6M233.7 852.2L233.5 853.3M238.0 852.6L237.7 850.6M245.8 849.7L242.9 850.5M242.9 850.5L242.5 850.1M244.4 863.0L241.7 862.6M245.7 857.4L243.8 858.1M243.8 858.1L241.3 861.9M241.3 861.9L241.7 862.6M240.5 856.7L243.8 858.1M237.5 859.4L237.8 859.9M241.3 861.9L237.8 859.9M244.7 866.6L242.8 868.4M242.8 868.4L241.5 863.1M241.5 863.1L241.7 862.6M237.8 859.9L236.5 866.3M241.5 863.1L237.6 866.8M236.5 866.3L237.6 866.8M199.7 841.7L198.0 844.7M199.7 841.7L195.0 841.1M198.0 844.7L195.0 841.1M193.7 840.3L193.9 840.7M193.6 842.0L193.9 840.7M200.4 841.5L199.7 841.7M193.9 840.7L195.0 841.1M194.8 850.6L194.2 850.7M192.8 852.2L192.8 856.0M192.8 852.2L193.7 851.0M193.7 851.0L194.2 850.7M220.3 861.7L221.3 861.7M220.3 861.7L220.9 858.3M221.3 861.7L224.0 858.7M224.0 858.7L223.8 857.8M223.4 857.7L223.8 857.8M218.7 857.6L220.9 858.3M220.3 851.9L223.4 857.7M227.2 862.9L226.4 862.7M228.4 858.2L224.7 857.1M224.7 857.1L223.8 857.8M226.4 862.7L224.0 858.7M224.7 857.1L225.3 856.2M225.3 856.2L224.9 851.5M174.2 859.6L168.1 857.3M174.2 859.6L173.7 860.1M173.7 860.1L171.6 860.9M168.1 857.3L171.6 860.9M168.1 857.2L168.1 857.3M174.9 858.9L174.2 859.6M174.0 865.0L173.7 860.1M170.0 862.0L171.6 860.9M144.4 932.4L149.8 932.2M144.4 932.4L144.0 931.3M144.0 931.3L148.1 931.3M149.8 932.2L148.1 931.3M149.9 932.2L149.8 932.2M144.2 934.9L144.4 932.4M144.6 928.9L148.1 931.3M239.1 885.3L237.1 886.2M239.9 889.0L237.3 889.0M237.1 886.2L237.3 889.0M232.9 884.0L235.0 886.1M232.9 884.0L233.6 881.2M237.1 886.2L235.0 886.1M237.3 889.0L236.5 890.5M248.3 895.0L249.5 895.2M249.7 898.4L252.8 897.9M252.8 897.9L249.5 895.2M248.3 893.2L249.2 893.1M232.2 920.8L231.5 923.7M232.2 920.8L231.1 917.8M231.1 917.8L230.3 918.4M230.3 918.4L230.3 922.8M231.9 924.5L231.5 923.7M232.2 915.6L231.1 917.8M229.7 918.6L230.3 918.4M228.3 922.0L230.3 922.8M245.6 903.3L250.8 902.8M245.6 903.3L245.4 903.0M245.4 902.9L247.4 900.9M247.4 900.9L249.8 901.4M249.8 901.4L250.8 902.8M246.1 906.8L245.6 903.3M251.7 903.6L250.8 902.8M242.2 904.4L245.4 903.0M244.7 902.2L245.4 902.9M244.9 897.7L247.4 900.9M249.7 898.4L249.8 901.4M230.1 933.0L228.7 929.9M230.1 933.0L229.9 934.7M222.7 938.7L223.3 939.1M229.9 934.7L229.9 934.7M229.9 934.7L223.3 939.1M233.7 939.7L227.5 938.7M227.5 938.7L224.2 939.8M223.3 939.1L224.2 939.8M231.3 936.9L229.3 936.8M233.9 938.6L232.0 937.5M227.5 938.7L228.8 937.6M229.9 934.7L231.3 936.9M229.9 934.7L229.3 936.8M232.9 934.7L235.5 931.1M232.9 934.7L233.3 935.3M233.3 935.3L236.1 932.9M236.0 932.1L236.1 932.9M230.1 933.0L232.9 934.7M235.4 930.5L235.5 931.1M234.2 937.7L233.3 935.3M237.0 935.6L236.1 932.9M242.4 933.6L236.0 932.1M213.6 917.8L212.8 922.3M213.6 917.8L217.5 921.6M212.8 922.3L214.6 923.6M211.8 922.3L212.8 922.3M213.5 917.3L213.6 917.8M218.6 921.2L217.5 921.6M214.7 925.1L214.6 923.6M187.1 931.6L186.1 933.9M189.8 931.9L189.6 934.0M184.8 933.9L184.0 931.3M190.7 934.8L189.6 934.0M181.7 930.7L181.5 931.7M183.6 934.8L182.9 934.5M178.4 931.4L175.5 929.0M175.5 929.0L175.5 929.4M175.6 929.8L175.5 929.4M182.9 934.5L180.1 934.3M181.5 931.7L180.5 932.5M168.0 932.9L168.0 933.0M199.0 921.1L197.4 918.8M194.8 922.0L194.7 920.8M197.4 918.8L195.1 919.9M183.3 908.8L184.8 911.4M188.5 910.0L188.3 910.4M188.3 910.4L184.8 911.4M193.9 906.1L195.0 907.8M195.0 907.8L192.7 910.7M191.9 908.1L192.0 910.3M192.0 910.3L192.7 910.7M193.7 905.6L193.9 906.1M197.8 908.2L195.0 907.8M197.8 908.2L199.0 905.9M190.5 906.2L191.9 908.1M189.0 909.8L192.0 910.3M170.1 899.7L166.5 900.8M170.1 899.7L173.2 902.9M171.8 904.5L166.3 901.5M165.9 899.0L166.9 897.2M166.1 901.7L168.7 906.8M178.4 898.7L178.4 898.6M178.4 898.6L178.0 898.1M166.9 897.0L165.4 895.3M168.4 892.3L167.0 891.2M167.0 891.2L165.6 892.1M164.7 898.3L164.8 895.6M164.8 895.6L165.4 895.3M180.7 893.7L181.9 897.5M180.7 893.7L181.5 893.6M181.5 893.6L184.7 895.8M182.2 897.5L184.9 896.7M182.2 897.5L181.9 897.5M184.9 896.7L184.7 895.8M179.0 893.3L180.7 893.7M178.4 898.6L181.9 897.5M183.3 891.6L181.5 893.6M185.1 894.1L184.7 895.8M182.7 900.5L182.2 897.5M172.8 893.2L170.8 887.9M175.7 891.2L172.7 887.1M172.7 887.1L170.8 887.9M175.0 885.6L172.8 886.8M175.0 885.6L175.2 883.6M175.2 883.6L174.0 880.5M172.8 886.8L172.5 886.0M172.5 886.0L171.6 882.0M171.6 882.0L173.5 880.5M174.0 880.5L173.7 880.5M173.7 880.5L173.5 880.5M176.1 886.5L175.0 885.6M172.7 887.1L172.8 886.8M177.7 884.3L175.2 883.6M177.7 879.2L174.0 880.5M168.7 876.9L173.5 880.5M165.7 921.2L164.0 922.2M165.7 921.2L166.4 921.5M166.4 921.5L168.3 922.7M168.3 922.7L168.0 925.3M168.0 925.3L166.3 925.5M165.6 918.0L165.7 921.2M168.8 918.9L166.4 921.5M170.0 921.6L168.3 922.7M169.1 926.5L168.0 925.3M189.2 923.6L188.8 921.3M185.9 921.3L188.7 921.2M188.8 921.3L188.7 921.2M188.8 921.3L191.5 921.9M194.7 920.8L192.1 920.7M191.5 921.9L192.1 920.7M179.9 913.3L178.4 917.2M179.9 913.3L184.0 913.8M178.4 917.2L185.5 916.2M185.5 916.2L185.5 916.1M178.4 917.3L178.4 917.2M184.8 911.4L184.0 913.8M184.9 918.0L185.5 916.3M185.5 916.3L185.5 916.2M188.7 913.2L185.5 916.1M155.2 899.1L158.3 900.5M157.8 904.6L157.9 904.4M157.8 904.6L155.2 904.6M154.1 888.0L154.3 889.1M154.1 888.0L156.9 886.7M154.3 889.1L152.2 892.2M154.1 894.4L152.2 892.8M152.9 908.2L151.1 908.3M153.9 909.2L152.8 912.2M152.8 912.2L150.3 910.5M150.3 910.5L151.1 908.3M150.3 907.7L151.1 908.3M154.3 905.1L152.9 908.2M159.0 907.1L157.8 904.6M152.5 914.5L152.8 912.2M149.6 911.7L150.3 910.5M158.2 880.1L156.8 879.7M158.2 880.1L157.3 877.6M156.8 879.7L156.8 877.9M156.8 877.9L157.3 877.6M158.6 874.7L158.1 875.3M158.1 875.3L157.3 877.6M154.1 888.0L152.0 887.2M155.3 884.2L154.8 884.1M154.8 884.1L152.0 887.2M152.0 887.2L151.1 887.3M157.0 882.5L156.0 881.3M156.8 879.7L156.8 879.7M156.8 879.7L156.0 881.3M148.2 888.6L147.1 889.2M147.1 889.2L146.8 893.3M146.8 893.3L148.6 892.8M145.5 884.5L148.2 888.6M148.2 883.8L148.8 883.8M146.1 888.2L147.1 889.2M150.7 887.2L151.1 887.3M146.3 893.6L146.8 893.3M154.1 894.4L154.1 894.4M187.1 884.7L187.7 884.1M187.7 884.1L188.5 885.0M185.3 885.8L187.1 884.7M187.7 884.1L187.7 884.1M189.7 882.6L188.5 885.0M190.6 885.0L188.8 885.7M193.4 889.2L192.6 886.4M194.7 894.0L197.3 894.7M194.0 895.9L197.4 895.5M197.3 894.7L197.4 895.5M197.4 895.5L197.8 896.6M202.1 896.6L201.5 895.3M201.5 895.3L198.8 896.5M205.7 895.1L206.9 891.6M202.8 894.5L206.1 890.8M206.9 891.6L206.7 891.1M206.1 890.8L206.7 891.1M205.7 896.7L205.7 895.1M201.5 895.1L201.5 895.3M201.5 895.1L202.8 894.5M208.9 893.3L206.9 891.6M218.2 866.0L220.7 867.3M221.3 861.7L224.5 863.7M220.7 867.3L224.5 863.7M226.4 862.7L224.6 863.7M224.6 863.7L224.5 863.7M232.4 898.0L230.9 897.6M230.6 902.0L229.0 901.1M229.0 901.1L230.9 897.6M226.3 905.0L226.2 902.7M226.2 902.7L227.8 901.3M229.0 901.1L227.8 901.3M233.9 894.6L234.6 897.8M233.9 894.6L231.7 895.1M231.7 895.1L230.2 895.8M230.9 897.6L230.2 895.8M221.7 905.0L222.4 901.8M226.2 902.7L223.2 901.5M222.4 901.8L223.2 901.5M219.1 903.6L219.5 901.4M222.4 901.8L219.5 901.4M214.8 901.8L218.0 899.8M220.4 885.6L226.6 888.1M225.6 889.2L226.6 888.1M218.9 888.3L219.4 887.3M220.7 884.0L220.4 885.6M220.7 884.0L225.2 883.4M225.2 883.4L227.3 884.8M205.0 915.8L203.2 910.6M205.9 916.6L208.2 914.1M205.9 916.6L205.9 916.6M208.2 914.1L208.2 913.3M203.2 910.6L203.9 909.8M203.9 909.8L204.0 909.8M206.7 918.6L205.9 916.6M211.8 914.8L208.2 914.1M201.4 918.5L205.9 916.6M209.9 908.8L206.7 911.1M204.8 908.5L204.0 909.8M200.9 906.2L203.9 909.8M199.0 911.8L197.8 908.2M192.6 868.8L191.3 868.8M192.6 868.8L194.7 870.3M191.3 868.8L191.5 871.4M194.7 870.3L193.3 872.6M190.6 868.4L191.3 868.8M194.6 866.2L192.6 868.8M196.0 870.3L194.7 870.3M193.4 874.1L193.3 872.6M188.1 869.0L188.2 871.0M185.7 872.9L187.3 872.6M190.8 875.1L190.5 875.0M188.9 875.4L190.5 875.0M192.8 852.2L190.2 852.4M187.6 857.4L187.4 854.8M189.4 855.0L187.4 854.8M187.4 854.8L187.1 854.6M179.7 851.3L182.1 852.6M182.7 853.3L182.1 852.6M183.1 848.7L183.5 848.8M182.1 852.6L183.5 848.8M243.6 878.9L243.6 878.7M243.6 878.7L243.1 877.6M239.8 874.1L240.2 873.4M239.8 874.1L237.0 871.6M237.0 871.6L239.1 868.5M239.1 868.5L241.5 869.4M240.2 873.4L241.5 869.4M242.8 868.4L242.5 869.2M242.5 869.2L241.5 869.4M228.2 855.3L228.0 855.2M228.0 855.2L225.6 851.1M225.7 851.1L225.6 851.1M229.9 851.8L229.6 851.3M225.3 856.2L228.0 855.2M224.9 851.5L225.6 851.1M229.5 849.7L229.1 850.3M219.5 847.2L219.7 847.0M225.7 851.1L224.8 847.4M219.7 847.0L224.8 847.4M221.2 843.4L220.5 845.7M219.7 847.0L220.5 845.7M224.8 847.4L225.3 846.5M227.0 845.6L225.3 846.5M220.5 845.7L224.1 845.1M221.2 843.4L223.4 841.7M224.1 845.1L224.2 842.8M223.4 841.7L224.2 842.8M227.0 845.6L227.2 844.5M224.2 842.8L227.2 844.5M243.1 853.7L241.2 854.5M242.9 850.6L239.3 853.1M241.2 854.5L239.3 853.1M244.9 854.8L243.1 853.7M242.9 850.5L242.9 850.6M238.0 852.6L239.3 853.1M233.9 870.7L236.9 871.6M233.9 870.7L235.1 875.0M236.9 871.6L235.8 875.0M235.9 875.0L235.8 875.0M239.8 874.9L239.8 874.1M237.0 871.6L236.9 871.6M234.2 875.6L235.1 875.0M193.4 846.4L194.5 844.5M201.7 852.1L197.8 848.5M194.8 850.6L197.5 848.7M192.7 847.2L193.4 846.4M193.2 848.8L194.2 850.7M192.7 847.2L189.7 845.9M236.2 893.2L235.4 892.7M235.7 891.0L235.4 892.7M235.1 892.9L235.4 892.7M231.7 895.1L232.4 892.1M230.2 895.8L229.7 895.5M232.4 892.1L232.1 892.0M233.9 870.7L232.6 869.8M232.6 869.8L231.6 866.9M230.5 864.8L231.2 866.6M231.2 866.6L231.6 866.9M220.7 884.0L219.1 880.1M225.2 883.4L225.1 879.4M219.1 880.1L223.7 879.2M225.1 879.4L223.7 879.2M198.5 912.7L197.6 913.8M205.0 915.8L205.0 915.8M199.0 911.8L198.5 912.7M193.1 911.6L190.8 914.2M193.1 911.6L196.9 913.8M161.5 891.2L165.1 892.3M161.0 896.4L160.0 895.3M167.0 891.2L167.1 889.0M167.1 889.0L166.6 888.7M160.7 889.6L161.5 891.2M165.6 892.1L165.1 892.3M164.8 895.6L163.3 894.7M161.2 897.1L161.0 896.4M161.2 897.1L160.0 899.7M167.1 889.0L167.8 888.2M167.8 888.2L167.8 886.2M170.8 887.9L170.1 887.8M167.8 886.2L169.5 882.8M163.7 929.6L164.8 929.1M166.3 925.5L164.8 926.5M164.8 929.1L164.8 926.5M164.8 926.5L163.1 925.7M157.9 904.4L159.1 904.0M166.9 907.9L164.0 903.9M148.5 878.0L150.3 879.6M148.8 883.8L149.1 883.5M149.1 883.5L150.3 879.6M198.2 888.0L197.8 888.3M197.8 888.3L200.7 893.2M201.5 895.1L200.7 893.7M228.1 894.7L227.3 894.9M227.3 894.9L226.1 897.2M229.3 890.4L228.1 894.7M229.3 890.4L227.0 888.3M225.6 889.2L223.6 892.6M227.3 894.9L223.6 892.6M218.8 888.6L218.9 888.3M223.6 892.6L220.2 893.3M213.2 892.5L213.2 889.0M206.7 891.1L210.5 888.1M213.2 889.0L210.5 888.1M218.8 888.6L214.6 888.3M213.2 889.0L214.6 888.3M207.6 884.6L210.0 886.5M210.0 886.5L212.5 882.8M210.0 886.5L210.5 888.1M190.7 872.1L190.4 874.6M190.7 872.1L188.6 871.3M188.6 871.3L190.4 874.6M191.5 871.4L190.7 872.1M190.5 875.0L190.4 874.6M188.2 871.0L188.6 871.3M250.1 872.9L249.0 871.7M250.1 872.9L250.2 873.6M249.8 868.6L248.2 871.2M249.0 871.7L248.2 871.2M249.2 878.8L250.2 875.9M246.9 877.7L248.8 875.0M250.2 875.9L249.2 875.0M249.2 875.0L248.8 875.0M251.3 876.2L250.2 875.9M243.6 878.7L246.9 877.7M250.2 873.6L249.2 875.0M223.5 841.3L223.3 840.4M223.3 840.4L226.5 836.3M227.6 839.8L227.0 840.4M218.9 839.8L223.5 841.3M223.4 841.7L223.5 841.4M227.6 844.1L227.0 840.4M228.1 839.9L227.6 839.8M234.2 888.6L234.5 889.5M234.2 888.6L231.7 888.5M234.5 889.5L231.2 891.0M231.7 888.5L230.1 890.3M230.1 890.3L231.2 891.0M235.0 886.1L234.2 888.6M232.9 884.0L232.2 884.4M231.5 886.7L231.7 888.5M232.1 892.0L231.2 891.0M229.3 890.4L230.1 890.3M230.9 875.0L228.1 874.9M230.9 875.0L231.5 879.9M231.5 879.9L228.7 880.1M228.7 880.1L226.8 878.7M226.8 878.7L226.9 878.4M233.6 881.2L231.5 879.9M230.9 875.0L230.9 875.0M227.8 884.5L228.7 880.1M225.1 879.4L226.8 878.7M223.7 879.2L223.6 876.1M225.5 868.4L221.4 868.6M231.2 866.6L228.3 868.8M225.5 868.4L228.3 868.8M228.1 874.9L226.6 873.2M228.3 868.8L226.6 873.2M224.0 875.7L225.1 873.2M226.6 873.2L225.1 873.2M195.1 919.9L193.8 918.3M193.8 918.3L190.2 918.4M190.2 918.4L190.0 918.3M169.6 882.7L170.2 884.9M169.6 882.7L169.9 882.5M169.9 882.5L170.0 882.5M170.2 884.9L170.7 885.6M171.0 885.4L170.7 885.6M170.1 887.8L170.3 886.4M168.7 880.2L169.9 882.5M171.6 882.0L170.0 882.5M170.3 886.4L170.7 885.6M153.7 883.1L152.9 882.8M152.9 882.8L152.8 878.6M154.7 879.2L154.3 878.7M152.8 878.6L153.3 878.1M153.3 878.1L153.3 878.1M149.1 883.5L152.9 882.8M156.0 881.3L155.0 880.8M150.3 879.6L152.8 878.6M156.8 879.7L154.7 879.2M156.8 877.9L154.3 878.7M152.9 876.7L153.3 878.1M197.4 894.5L198.7 893.9M197.4 894.5L195.7 889.2M198.7 893.9L196.8 888.8M195.7 889.2L196.8 888.8M197.3 894.7L197.4 894.5M200.7 893.7L198.7 893.9M194.2 889.4L195.7 889.2M197.8 888.3L196.8 888.8M223.2 899.4L218.0 899.0M223.2 899.4L223.3 897.9M223.3 897.9L220.2 895.2M218.1 898.4L218.0 899.0M223.2 901.5L223.2 899.4M218.0 899.8L218.0 899.0M220.2 893.3L220.2 895.2M214.3 896.7L218.1 898.4M190.0 852.3L188.4 852.0M190.0 852.3L189.8 849.4M188.4 852.0L187.8 847.6M189.8 849.4L188.6 848.2M188.6 848.2L187.8 847.6M187.8 847.6L187.8 847.6M187.1 854.6L187.5 852.7M190.2 852.4L190.0 852.3M193.2 848.8L188.6 848.2M188.1 846.4L187.8 847.6M187.5 852.7L186.2 851.8M187.8 847.6L187.3 847.9M186.2 851.8L187.3 847.9M183.5 848.8L183.9 849.0M246.7 873.5L247.8 871.4M246.7 873.5L245.1 873.7M245.1 873.7L244.6 873.0M244.6 873.0L243.3 869.7M247.8 871.4L245.6 869.5M245.6 869.5L243.3 869.7M248.2 871.2L247.8 871.4M248.8 875.0L246.7 873.5M243.1 877.6L245.1 873.7M240.2 873.4L244.6 873.0M247.1 868.4L245.6 869.5M222.2 872.0L221.4 870.6M222.2 872.0L220.6 875.8M221.2 870.7L221.4 870.6M221.2 870.7L217.2 876.6M225.1 873.2L222.2 872.0M221.4 868.6L221.4 870.6M223.6 876.1L220.6 875.8M215.9 872.8L221.2 870.7M190.8 914.3L193.6 915.8M190.8 914.3L189.8 917.8M193.6 915.8L189.9 918.0M189.8 917.8L189.9 918.0M190.8 914.2L190.8 914.3M183.8 851.5L185.1 852.4M184.2 850.0L185.6 851.8M185.1 852.4L185.6 851.8M182.7 853.3L183.8 851.5M183.9 849.0L184.2 850.0M183.9 855.0L185.1 852.4M186.2 851.8L185.6 851.8" stroke="#ac4cbe" stroke-width="0.95" fill="none" stroke-linecap="round" stroke-linejoin="round"/>
<path d="M151.3 844.6h.01M152.4 844.9h.01M150.0 844.8h.01M146.8 855.1h.01M146.1 864.6h.01M182.6 886.1h.01M152.6 860.0h.01M149.8 858.0h.01M156.8 871.8h.01M207.2 847.4h.01M150.0 844.9h.01M168.7 880.2h.01M183.7 881.0h.01M181.6 878.9h.01M146.1 859.4h.01M148.5 859.2h.01M149.4 861.3h.01M146.9 861.4h.01M166.0 857.6h.01M162.0 868.1h.01M160.4 869.4h.01M242.4 934.1h.01M147.1 918.6h.01M161.1 879.6h.01M193.4 889.2h.01M199.0 921.1h.01M201.5 920.2h.01M213.4 844.9h.01M200.1 874.1h.01M148.8 847.9h.01M146.1 851.5h.01M146.9 852.9h.01M147.5 853.7h.01M169.6 874.2h.01M197.1 875.7h.01M190.5 880.8h.01M182.8 875.9h.01M152.5 860.5h.01M150.7 862.0h.01M173.4 847.6h.01M177.1 847.6h.01M162.2 848.3h.01M149.0 867.1h.01M146.8 879.4h.01M232.5 912.8h.01M236.1 910.0h.01M245.2 913.7h.01M243.2 931.4h.01M241.2 937.1h.01M243.8 912.7h.01M243.1 913.1h.01M232.4 904.9h.01M186.6 939.0h.01M185.9 939.0h.01M168.0 932.9h.01M171.2 906.4h.01M184.1 900.2h.01M147.8 921.7h.01M175.1 928.4h.01M177.2 926.9h.01M165.9 917.3h.01M166.1 917.1h.01M151.4 896.7h.01M146.1 894.5h.01M149.7 916.0h.01M153.4 920.9h.01M148.8 907.7h.01M147.3 911.3h.01M193.1 889.3h.01M194.8 922.0h.01M193.6 923.2h.01M191.8 924.0h.01M191.9 923.9h.01M197.3 862.5h.01M218.7 857.6h.01M216.6 844.2h.01M236.7 857.4h.01M208.0 880.3h.01M200.6 881.7h.01M210.2 855.4h.01M208.8 850.4h.01M207.5 857.2h.01M207.6 860.1h.01M209.4 866.1h.01M178.2 869.8h.01M181.5 858.7h.01M186.6 862.7h.01M196.9 875.8h.01M190.6 885.0h.01M187.3 878.6h.01M187.2 878.6h.01M182.3 877.5h.01M182.8 876.2h.01M179.0 854.5h.01M163.7 850.9h.01M150.5 856.1h.01M147.7 853.7h.01M162.7 857.2h.01M161.7 852.5h.01M160.8 847.3h.01M153.3 846.1h.01M148.5 872.8h.01M148.3 876.9h.01M148.5 878.0h.01M153.5 933.0h.01M152.1 931.8h.01M235.2 916.4h.01M240.6 909.2h.01M241.6 909.0h.01M243.7 900.4h.01M244.2 897.6h.01M244.2 907.8h.01M240.7 893.1h.01M241.7 919.4h.01M240.2 923.1h.01M241.5 917.2h.01M244.4 915.2h.01M221.2 925.5h.01M216.6 927.3h.01M236.5 914.2h.01M239.7 910.0h.01M212.4 937.9h.01M214.0 935.9h.01M214.7 925.1h.01M226.8 906.2h.01M235.9 909.6h.01M236.7 906.1h.01M167.7 935.2h.01M161.8 937.6h.01M190.5 906.2h.01M175.2 912.7h.01M175.1 912.3h.01M172.1 894.1h.01M164.8 880.1h.01M164.2 880.2h.01M182.4 886.1h.01M177.7 884.3h.01M155.8 921.4h.01M154.5 927.4h.01M156.5 929.8h.01M152.2 928.2h.01M149.6 923.1h.01M171.4 922.3h.01M170.8 925.4h.01M166.6 915.2h.01M156.6 914.5h.01M189.0 900.8h.01M190.0 888.2h.01M194.0 895.5h.01M206.7 897.9h.01M205.9 899.4h.01M208.2 897.6h.01M211.2 899.5h.01M213.6 903.9h.01M218.0 913.7h.01M217.3 908.6h.01M204.9 908.1h.01M200.9 906.2h.01M188.2 862.7h.01M183.3 869.9h.01M184.9 872.5h.01M146.3 893.6h.01M183.2 857.3h.01M245.8 849.7h.01M233.6 853.8h.01M236.6 848.6h.01M207.8 871.0h.01M209.0 866.2h.01M212.5 859.4h.01M177.5 876.0h.01M166.7 871.1h.01M173.5 871.6h.01M170.3 868.3h.01M171.4 873.3h.01M171.5 873.3h.01M166.7 863.9h.01M166.2 868.8h.01M169.1 866.1h.01M178.7 850.7h.01M176.8 853.4h.01M176.3 851.5h.01M168.1 857.2h.01M167.4 852.5h.01M173.2 853.1h.01M173.2 855.1h.01M173.2 855.3h.01M155.8 852.3h.01M158.5 936.9h.01M149.9 932.2h.01M239.1 885.3h.01M239.9 889.0h.01M245.0 890.6h.01M245.4 866.6h.01M244.7 866.6h.01M242.8 868.4h.01M227.6 920.7h.01M228.3 922.0h.01M232.2 915.5h.01M232.2 915.6h.01M237.7 924.2h.01M241.4 903.8h.01M242.2 904.4h.01M244.7 902.2h.01M245.6 907.5h.01M232.4 898.0h.01M239.0 890.7h.01M240.0 892.8h.01M237.3 902.1h.01M238.6 903.2h.01M239.3 897.8h.01M233.9 938.6h.01M230.1 933.0h.01M216.6 928.7h.01M224.4 932.1h.01M222.7 938.7h.01M217.7 936.0h.01M220.8 939.1h.01M218.5 938.0h.01M218.4 937.9h.01M215.6 938.5h.01M205.9 920.3h.01M206.7 918.6h.01M211.5 928.4h.01M209.0 925.7h.01M226.9 909.5h.01M226.8 908.8h.01M232.9 908.3h.01M232.6 905.6h.01M227.3 909.5h.01M224.4 921.3h.01M223.5 924.1h.01M179.8 927.4h.01M184.0 931.3h.01M186.5 929.7h.01M183.1 937.8h.01M170.1 937.6h.01M193.4 901.7h.01M191.1 901.9h.01M178.4 898.7h.01M168.4 892.3h.01M164.1 884.9h.01M179.0 893.3h.01M178.4 898.6h.01M175.7 891.2h.01M178.9 893.2h.01M181.9 890.3h.01M166.5 929.9h.01M156.2 922.3h.01M148.4 926.0h.01M184.7 923.4h.01M180.1 920.5h.01M179.0 920.4h.01M172.8 920.5h.01M170.0 921.6h.01M170.1 921.6h.01M162.1 912.4h.01M162.9 910.1h.01M161.0 918.0h.01M160.5 918.7h.01M161.3 916.1h.01M161.2 916.0h.01M157.1 919.2h.01M168.0 911.6h.01M170.3 910.5h.01M168.7 906.8h.01M170.8 908.0h.01M159.0 907.5h.01M154.8 899.5h.01M149.9 899.2h.01M161.2 897.1h.01M155.2 899.1h.01M152.5 914.5h.01M186.1 883.8h.01M194.7 894.0h.01M200.9 899.6h.01M201.6 899.8h.01M209.2 881.4h.01M210.8 908.7h.01M210.5 910.6h.01M211.8 914.8h.01M219.8 906.6h.01M221.7 905.0h.01M221.9 905.9h.01M203.8 905.2h.01M204.9 903.6h.01M196.4 869.7h.01M187.0 875.5h.01M188.6 875.7h.01M185.2 874.3h.01M188.4 868.1h.01M182.8 853.6h.01M183.0 845.8h.01M228.4 858.2h.01M234.8 847.0h.01M233.7 852.2h.01M233.5 853.3h.01M229.5 849.7h.01M241.6 845.5h.01M245.5 862.6h.01M244.4 863.0h.01M244.9 854.8h.01M230.5 864.8h.01M204.8 870.4h.01M206.4 866.7h.01M198.6 862.9h.01M201.6 852.9h.01M205.3 854.7h.01M206.8 847.9h.01M192.8 856.0h.01M191.6 859.7h.01M197.1 854.1h.01M198.6 858.0h.01M192.7 847.2h.01M188.1 846.4h.01M212.4 862.1h.01M210.6 865.6h.01M210.0 860.7h.01M211.7 860.5h.01M214.6 860.5h.01M216.7 860.4h.01M220.0 861.9h.01M218.7 860.7h.01M216.2 864.9h.01M226.4 862.7h.01M174.6 875.7h.01M175.5 866.2h.01M171.6 868.6h.01M174.0 865.0h.01M168.7 864.0h.01M168.7 864.0h.01M160.2 855.7h.01M160.9 852.8h.01M161.5 857.2h.01M160.8 856.7h.01M161.1 930.5h.01M159.2 931.3h.01M162.9 933.3h.01M147.3 935.0h.01M234.2 875.6h.01M233.6 881.2h.01M239.3 884.5h.01M243.6 878.9h.01M244.5 883.4h.01M237.6 925.5h.01M228.8 929.6h.01M233.9 894.6h.01M237.7 896.6h.01M235.3 898.2h.01M234.6 897.8h.01M240.7 893.3h.01M241.7 895.2h.01M238.0 896.7h.01M241.7 897.9h.01M240.2 902.7h.01M229.9 934.7h.01M212.1 929.5h.01M215.9 931.8h.01M211.8 933.5h.01M206.0 922.2h.01M213.5 917.3h.01M193.7 896.9h.01M197.9 902.6h.01M195.4 901.5h.01M195.2 901.2h.01M189.0 909.8h.01M188.5 910.0h.01M194.8 904.4h.01M166.9 897.0h.01M166.9 896.5h.01M174.3 897.2h.01M177.9 898.0h.01M172.2 895.4h.01M163.7 888.3h.01M167.1 889.0h.01M160.7 889.6h.01M160.0 883.1h.01M161.6 884.9h.01M185.1 894.1h.01M184.0 891.6h.01M176.0 891.2h.01M177.0 891.3h.01M178.0 886.2h.01M180.5 887.4h.01M164.0 918.7h.01M160.7 919.3h.01M163.3 922.3h.01M162.9 920.0h.01M185.9 921.3h.01M175.5 912.9h.01M175.6 914.2h.01M171.9 912.3h.01M173.6 911.5h.01M172.8 910.7h.01M159.5 908.0h.01M159.9 908.3h.01M169.8 911.1h.01M165.4 909.6h.01M149.4 902.3h.01M147.5 907.3h.01M154.1 894.4h.01M154.1 894.4h.01M154.3 905.1h.01M155.3 884.2h.01M157.0 882.5h.01M185.3 887.6h.01M184.4 886.7h.01M187.7 884.1h.01M202.1 896.6h.01M218.2 866.0h.01M216.2 866.4h.01M226.2 902.7h.01M226.7 888.1h.01M227.8 884.5h.01M227.3 884.8h.01M214.8 901.8h.01M214.3 896.7h.01M213.2 896.2h.01M213.3 896.1h.01M209.3 894.9h.01M213.2 892.5h.01M208.2 908.4h.01M209.9 908.8h.01M218.4 913.9h.01M219.2 913.7h.01M216.9 917.4h.01M221.1 906.8h.01M194.2 864.9h.01M191.5 862.2h.01M191.9 865.9h.01M194.5 866.0h.01M188.1 869.0h.01M185.4 872.6h.01M185.7 872.9h.01M190.8 875.1h.01M183.9 855.1h.01M183.9 855.0h.01M183.1 848.7h.01M235.9 875.0h.01M240.4 875.9h.01M239.8 874.9h.01M239.8 874.1h.01M225.3 856.2h.01M224.9 851.5h.01M239.9 850.2h.01M238.0 852.6h.01M241.3 861.9h.01M237.8 859.9h.01M241.5 863.1h.01M241.7 862.6h.01M239.1 868.5h.01M237.6 866.8h.01M193.2 848.8h.01M193.7 851.0h.01M194.2 850.7h.01M224.0 858.7h.01M223.4 857.7h.01M223.8 857.8h.01M174.2 859.6h.01M173.7 860.1h.01M171.6 860.9h.01M149.8 932.2h.01M148.1 931.3h.01M236.5 890.5h.01M232.2 920.8h.01M230.3 922.8h.01M229.9 934.7h.01M227.5 938.7h.01M223.3 939.1h.01M232.0 937.5h.01M231.3 936.9h.01M232.9 934.7h.01M235.5 931.1h.01M236.0 932.1h.01M236.1 932.9h.01M213.6 917.8h.01M217.5 921.6h.01M187.1 931.6h.01M189.6 934.0h.01M186.1 933.9h.01M180.5 932.5h.01M175.5 929.0h.01M197.4 918.8h.01M195.1 919.9h.01M188.3 910.4h.01M191.9 908.1h.01M170.1 899.7h.01M171.8 904.5h.01M164.8 895.6h.01M182.2 897.5h.01M181.9 897.5h.01M184.7 895.8h.01M172.7 887.1h.01M175.2 883.6h.01M172.8 886.8h.01M172.5 886.0h.01M171.6 882.0h.01M174.0 880.5h.01M165.7 921.2h.01M168.3 922.7h.01M168.0 925.3h.01M192.1 920.7h.01M179.9 913.3h.01M178.4 917.2h.01M184.0 913.8h.01M185.5 916.2h.01M157.9 904.4h.01M158.3 900.5h.01M158.2 880.1h.01M156.8 879.7h.01M156.8 877.9h.01M156.8 879.7h.01M147.1 889.2h.01M146.8 893.3h.01M187.7 884.1h.01M188.5 885.0h.01M201.5 895.1h.01M201.5 895.3h.01M202.8 894.5h.01M206.9 891.6h.01M206.7 891.1h.01M220.7 867.3h.01M224.5 863.7h.01M229.0 901.1h.01M230.2 895.8h.01M228.1 894.7h.01M222.4 901.8h.01M225.6 889.2h.01M226.6 888.1h.01M219.4 887.3h.01M205.0 915.8h.01M205.9 916.6h.01M206.7 911.1h.01M203.2 910.6h.01M204.0 909.8h.01M192.6 868.8h.01M191.3 868.8h.01M194.7 870.3h.01M193.3 872.6h.01M190.5 875.0h.01M189.4 855.0h.01M187.4 854.8h.01M187.1 854.6h.01M190.2 852.4h.01M182.7 853.3h.01M243.6 878.7h.01M243.1 877.6h.01M240.2 873.4h.01M242.5 869.2h.01M241.5 869.4h.01M229.1 850.3h.01M225.7 851.1h.01M220.5 845.7h.01M227.0 845.6h.01M224.1 845.1h.01M227.2 844.5h.01M242.9 850.6h.01M239.3 853.1h.01M233.9 870.7h.01M236.9 871.6h.01M193.4 846.4h.01M235.1 892.9h.01M235.4 892.7h.01M232.1 892.0h.01M231.2 866.6h.01M231.6 866.9h.01M219.1 880.1h.01M205.0 915.8h.01M198.5 912.7h.01M190.8 914.2h.01M165.1 892.3h.01M163.3 894.7h.01M160.0 895.0h.01M167.8 888.2h.01M170.1 887.8h.01M169.5 882.8h.01M164.8 929.1h.01M164.8 926.5h.01M149.1 883.5h.01M150.3 879.6h.01M223.6 876.1h.01M226.1 897.2h.01M220.2 893.3h.01M213.2 889.0h.01M210.5 888.1h.01M190.7 872.1h.01M187.5 852.7h.01M231.7 888.5h.01M230.1 890.3h.01M231.2 891.0h.01M230.9 875.0h.01M228.1 874.9h.01M228.7 880.1h.01M226.8 878.7h.01M225.5 868.4h.01M225.1 873.2h.01M221.4 868.6h.01M170.3 886.4h.01M169.6 882.7h.01M169.9 882.5h.01M170.0 882.5h.01M171.0 885.4h.01M153.7 883.1h.01M155.0 880.8h.01M152.8 878.6h.01M153.3 878.1h.01M197.4 894.5h.01M198.7 893.9h.01M195.7 889.2h.01M196.8 888.8h.01M220.2 895.2h.01M218.1 898.4h.01M218.0 899.0h.01M188.4 852.0h.01M189.8 849.4h.01M188.6 848.2h.01M187.3 847.9h.01M243.3 869.7h.01M222.2 872.0h.01M221.2 870.7h.01M190.8 914.3h.01M183.8 851.5h.01M185.6 851.8h.01" stroke="#5c2a9c" stroke-width="1.4" stroke-linecap="round" fill="none" opacity="0.85"/>
<ellipse cx="160" cy="864" rx="8" ry="7" transform="rotate(20 160 864)" fill="#d27cc6" stroke="#a04aa8" stroke-width="1" opacity="0.9"/>
<ellipse cx="240" cy="895" rx="3" ry="4" transform="rotate(0 240 895)" fill="#d27cc6" stroke="#a04aa8" stroke-width="1" opacity="0.9"/>
<ellipse cx="181" cy="907" rx="9.5" ry="5.5" fill="#f9f4fa" stroke="#8a40aa" stroke-width="2.2"/>
<ellipse cx="199" cy="933" rx="10.5" ry="8" fill="#f9f4fa" stroke="#8a40aa" stroke-width="2.6"/>
</g>
<rect x="147.75" y="846.25" width="95.7" height="90.4" fill="none" stroke="#808080" stroke-width="0.9"/>
<rect x="149.7" y="932.5" width="11.5" height="2.6" fill="#000"/>
<path d="M386.8 763.1L448.53 763.1L448.53 778.66L463.97 778.66L463.97 794.22L510.27 794.22L510.27 809.79L525.7 809.79" fill="none" stroke="#f23636" stroke-width="2.5"/>
<line x1="525.7" y1="806.79" x2="525.7" y2="810.79" stroke="#f23636" stroke-width="1.2"/>
<path d="M340.5 763.1L386.8 763.1L386.8 809.79L463.97 809.79L463.97 856.61L479.4 856.61L479.4 872.18L494.83 872.18L494.83 887.74L510.27 887.74L510.27 903.3" fill="none" stroke="#e1e2c3" stroke-width="2.5"/>
<path d="M340.5 748.2V903.3H572" fill="none" stroke="#000" stroke-width="1.2"/>
<line x1="337.5" y1="903.3" x2="340.5" y2="903.3" stroke="#000" stroke-width="1.1"/>
<text x="334.2" y="907.3" font-size="11.1" text-anchor="end" fill="#1a1a1a" class="ls">0</text>
<line x1="337.5" y1="833.2" x2="340.5" y2="833.2" stroke="#000" stroke-width="1.1"/>
<text x="334.2" y="837.2" font-size="11.1" text-anchor="end" fill="#1a1a1a" class="ls">50</text>
<line x1="337.5" y1="763.1" x2="340.5" y2="763.1" stroke="#000" stroke-width="1.1"/>
<text x="334.2" y="767.1" font-size="11.1" text-anchor="end" fill="#1a1a1a" class="ls">100</text>
<line x1="340.5" y1="903.3" x2="340.5" y2="906.3" stroke="#000" stroke-width="1.1"/>
<text x="340.5" y="921.3" font-size="11.1" text-anchor="middle" fill="#1a1a1a" class="ls">0</text>
<line x1="386.8" y1="903.3" x2="386.8" y2="906.3" stroke="#000" stroke-width="1.1"/>
<text x="386.8" y="921.3" font-size="11.1" text-anchor="middle" fill="#1a1a1a" class="ls">3</text>
<line x1="433.1" y1="903.3" x2="433.1" y2="906.3" stroke="#000" stroke-width="1.1"/>
<text x="433.1" y="921.3" font-size="11.1" text-anchor="middle" fill="#1a1a1a" class="ls">6</text>
<line x1="479.4" y1="903.3" x2="479.4" y2="906.3" stroke="#000" stroke-width="1.1"/>
<text x="479.4" y="921.3" font-size="11.1" text-anchor="middle" fill="#1a1a1a" class="ls">9</text>
<line x1="525.7" y1="903.3" x2="525.7" y2="906.3" stroke="#000" stroke-width="1.1"/>
<text x="525.7" y="921.3" font-size="11.1" text-anchor="middle" fill="#1a1a1a" class="ls">12</text>
<line x1="572" y1="903.3" x2="572" y2="906.3" stroke="#000" stroke-width="1.1"/>
<text x="572" y="921.3" font-size="11.1" text-anchor="middle" fill="#1a1a1a" class="ls">15</text>
<text x="455.75" y="937.2" font-size="11.6" text-anchor="middle" fill="#1a1a1a" class="ls">Time post infection (d)</text>
<text class="ls" transform="translate(308.9 828.75) rotate(-90)" font-size="11.8" text-anchor="middle" fill="#1a1a1a">Percent survival (%)</text>
<line x1="526.6" y1="751.7" x2="543.1" y2="751.7" stroke="#e1e2c3" stroke-width="2.4"/>
<line x1="534.8" y1="748.5" x2="534.8" y2="751.8" stroke="#e1e2c3" stroke-width="1.1"/>
<line x1="527" y1="773.6" x2="543.6" y2="773.6" stroke="#f23636" stroke-width="2.4"/>
<line x1="535.4" y1="770.6" x2="535.4" y2="773.9" stroke="#f23636" stroke-width="1.1"/>
<text class="ls" x="552.0" y="756.1" font-size="11.5" fill="#1a1a1a">WT (<tspan font-style="italic">n</tspan> = 9)</text>
<text class="ls" x="552.0" y="777.2" font-size="11.5" fill="#1a1a1a">KO (<tspan font-style="italic">n</tspan> = 9)</text>
<line x1="528.8" y1="816.9" x2="528.8" y2="890.1" stroke="#555" stroke-width="0.8"/>
<text class="ls" transform="translate(534.4 854.1) rotate(90)" font-size="8.5" text-anchor="middle" fill="#1a1a1a"><tspan font-style="italic">P</tspan> = 0.0061</text>
</svg></body></html>
